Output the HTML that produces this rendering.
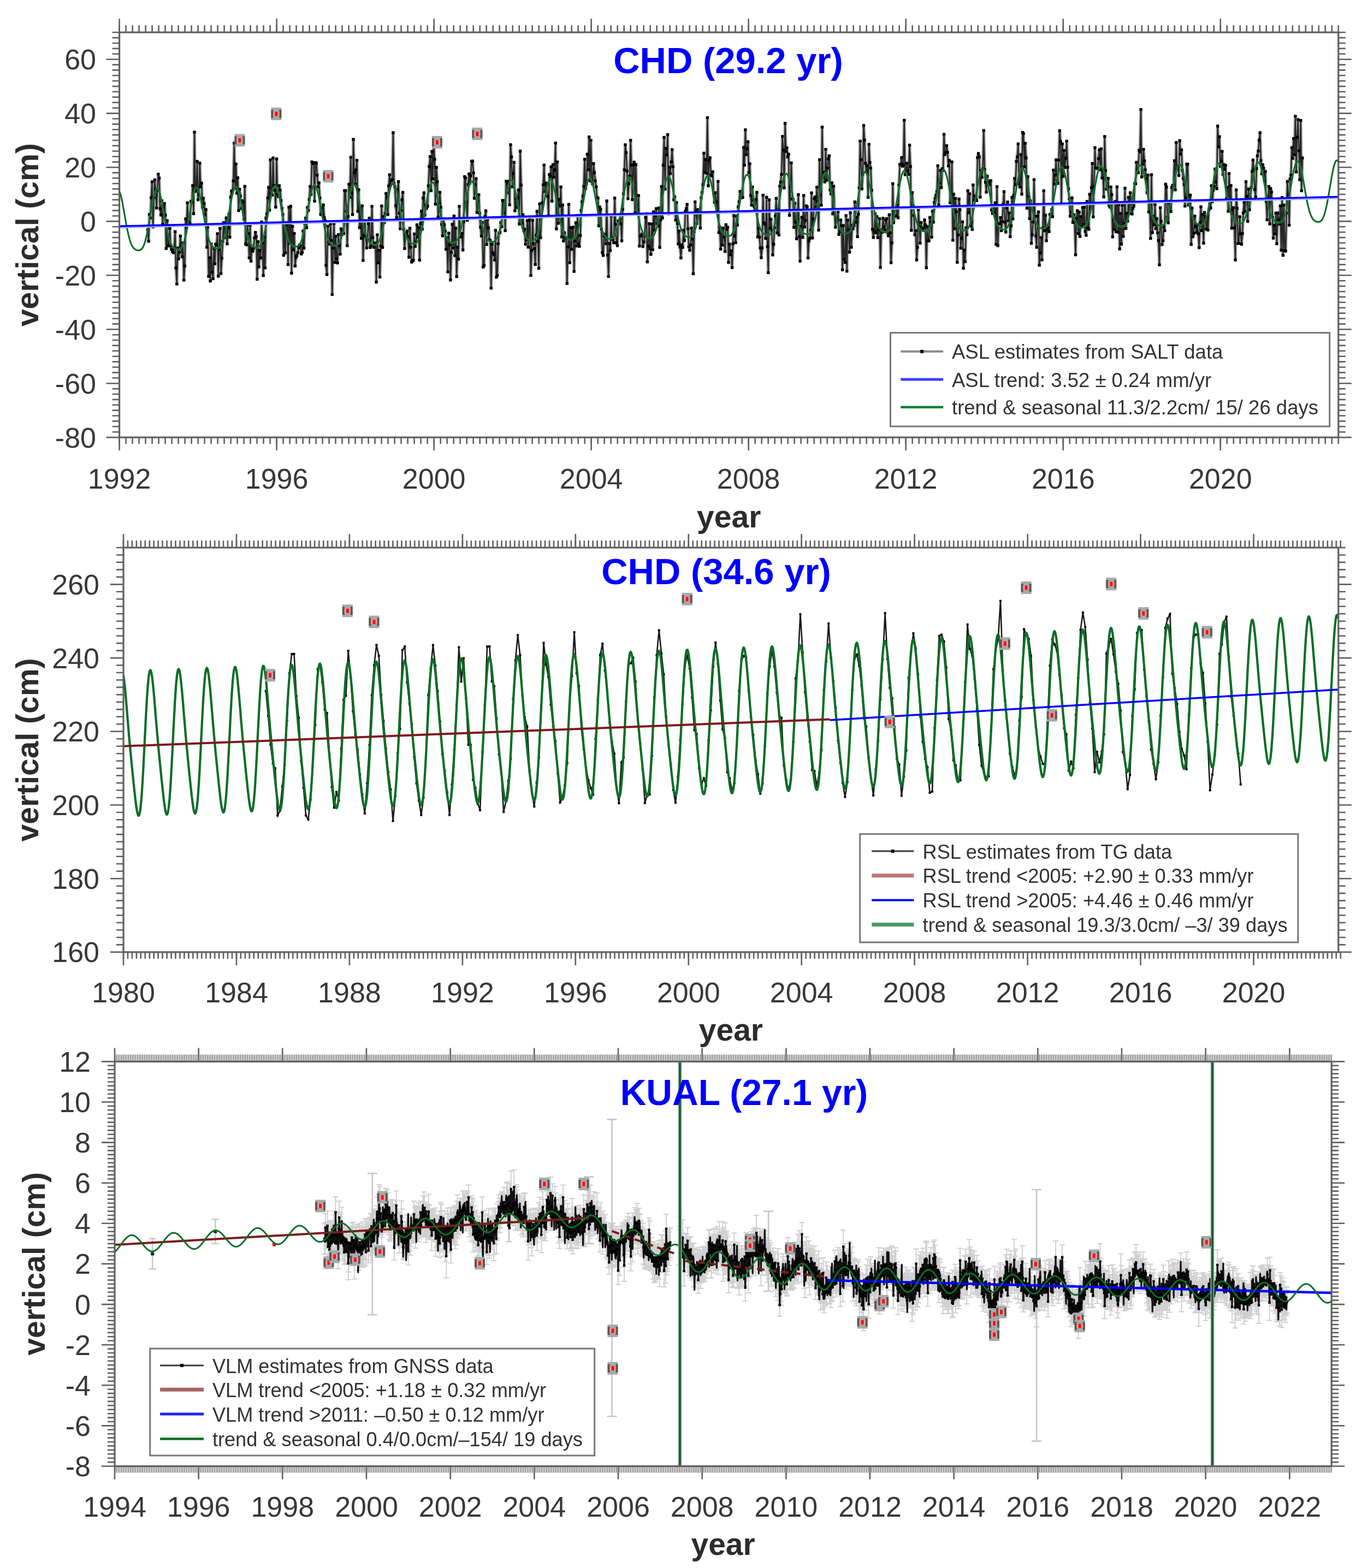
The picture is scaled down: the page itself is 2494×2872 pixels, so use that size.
<!DOCTYPE html><html><head><meta charset="utf-8"><style>html,body{margin:0;padding:0;background:#fff;width:2494px;height:2872px;overflow:hidden}svg{display:block}</style></head><body><svg width="2494" height="2872" viewBox="0 0 2494 2872">
<style>text{font-family:"Liberation Sans",Arial,Helvetica,sans-serif}.tk{font-size:52px;fill:#383838}.lb{font-size:57px;font-weight:bold;fill:#2c2c2c}.tt{font-size:67px;font-weight:bold;fill:#0000ff}.lg{fill:#333}</style>
<rect width="2494" height="2872" fill="#fff"/>
<path d="M218.6 59.2v-25M218.6 801.1v24M506.6 59.2v-25M506.6 801.1v24M794.7 59.2v-25M794.7 801.1v24M1082.7 59.2v-25M1082.7 801.1v24M1370.7 59.2v-25M1370.7 801.1v24M1658.7 59.2v-25M1658.7 801.1v24M1946.8 59.2v-25M1946.8 801.1v24M2234.8 59.2v-25M2234.8 801.1v24M218.6 801.1h-13M2450.8 801.1h13M218.6 791.2h-13M2450.8 791.2h13M218.6 781.3h-13M2450.8 781.3h13M218.6 771.4h-13M2450.8 771.4h13M218.6 761.5h-13M2450.8 761.5h13M218.6 751.6h-13M2450.8 751.6h13M218.6 741.7h-13M2450.8 741.7h13M218.6 731.9h-13M2450.8 731.9h13M218.6 722.0h-13M2450.8 722.0h13M218.6 712.1h-13M2450.8 712.1h13M218.6 702.2h-13M2450.8 702.2h13M218.6 692.3h-13M2450.8 692.3h13M218.6 682.4h-13M2450.8 682.4h13M218.6 672.5h-13M2450.8 672.5h13M218.6 662.6h-13M2450.8 662.6h13M218.6 652.7h-13M2450.8 652.7h13M218.6 642.8h-13M2450.8 642.8h13M218.6 632.9h-13M2450.8 632.9h13M218.6 623.0h-13M2450.8 623.0h13M218.6 613.2h-13M2450.8 613.2h13M218.6 603.3h-13M2450.8 603.3h13M218.6 593.4h-13M2450.8 593.4h13M218.6 583.5h-13M2450.8 583.5h13M218.6 573.6h-13M2450.8 573.6h13M218.6 563.7h-13M2450.8 563.7h13M218.6 553.8h-13M2450.8 553.8h13M218.6 543.9h-13M2450.8 543.9h13M218.6 534.0h-13M2450.8 534.0h13M218.6 524.1h-13M2450.8 524.1h13M218.6 514.2h-13M2450.8 514.2h13M218.6 504.3h-13M2450.8 504.3h13M218.6 494.4h-13M2450.8 494.4h13M218.6 484.6h-13M2450.8 484.6h13M218.6 474.7h-13M2450.8 474.7h13M218.6 464.8h-13M2450.8 464.8h13M218.6 454.9h-13M2450.8 454.9h13M218.6 445.0h-13M2450.8 445.0h13M218.6 435.1h-13M2450.8 435.1h13M218.6 425.2h-13M2450.8 425.2h13M218.6 415.3h-13M2450.8 415.3h13M218.6 405.4h-13M2450.8 405.4h13M218.6 395.5h-13M2450.8 395.5h13M218.6 385.6h-13M2450.8 385.6h13M218.6 375.7h-13M2450.8 375.7h13M218.6 365.9h-13M2450.8 365.9h13M218.6 356.0h-13M2450.8 356.0h13M218.6 346.1h-13M2450.8 346.1h13M218.6 336.2h-13M2450.8 336.2h13M218.6 326.3h-13M2450.8 326.3h13M218.6 316.4h-13M2450.8 316.4h13M218.6 306.5h-13M2450.8 306.5h13M218.6 296.6h-13M2450.8 296.6h13M218.6 286.7h-13M2450.8 286.7h13M218.6 276.8h-13M2450.8 276.8h13M218.6 266.9h-13M2450.8 266.9h13M218.6 257.0h-13M2450.8 257.0h13M218.6 247.1h-13M2450.8 247.1h13M218.6 237.3h-13M2450.8 237.3h13M218.6 227.4h-13M2450.8 227.4h13M218.6 217.5h-13M2450.8 217.5h13M218.6 207.6h-13M2450.8 207.6h13M218.6 197.7h-13M2450.8 197.7h13M218.6 187.8h-13M2450.8 187.8h13M218.6 177.9h-13M2450.8 177.9h13M218.6 168.0h-13M2450.8 168.0h13M218.6 158.1h-13M2450.8 158.1h13M218.6 148.2h-13M2450.8 148.2h13M218.6 138.3h-13M2450.8 138.3h13M218.6 128.4h-13M2450.8 128.4h13M218.6 118.6h-13M2450.8 118.6h13M218.6 108.7h-13M2450.8 108.7h13M218.6 98.8h-13M2450.8 98.8h13M218.6 88.9h-13M2450.8 88.9h13M218.6 79.0h-13M2450.8 79.0h13M218.6 69.1h-13M2450.8 69.1h13M218.6 59.2h-13M2450.8 59.2h13M218.6 801.1h-24M2450.8 801.1h24M218.6 702.2h-24M2450.8 702.2h24M218.6 603.3h-24M2450.8 603.3h24M218.6 504.3h-24M2450.8 504.3h24M218.6 405.4h-24M2450.8 405.4h24M218.6 306.5h-24M2450.8 306.5h24M218.6 207.6h-24M2450.8 207.6h24M218.6 108.7h-24M2450.8 108.7h24" stroke="#606060" stroke-width="2.6" fill="none"/>
<path d="M218.6 59.2v-13M218.6 801.1v12M230.6 59.2v-13M230.6 801.1v12M242.6 59.2v-13M242.6 801.1v12M254.6 59.2v-13M254.6 801.1v12M266.6 59.2v-13M266.6 801.1v12M278.6 59.2v-13M278.6 801.1v12M290.6 59.2v-13M290.6 801.1v12M302.6 59.2v-13M302.6 801.1v12M314.6 59.2v-13M314.6 801.1v12M326.6 59.2v-13M326.6 801.1v12M338.6 59.2v-13M338.6 801.1v12M350.6 59.2v-13M350.6 801.1v12M362.6 59.2v-13M362.6 801.1v12M374.6 59.2v-13M374.6 801.1v12M386.6 59.2v-13M386.6 801.1v12M398.6 59.2v-13M398.6 801.1v12M410.6 59.2v-13M410.6 801.1v12M422.6 59.2v-13M422.6 801.1v12M434.6 59.2v-13M434.6 801.1v12M446.6 59.2v-13M446.6 801.1v12M458.6 59.2v-13M458.6 801.1v12M470.6 59.2v-13M470.6 801.1v12M482.6 59.2v-13M482.6 801.1v12M494.6 59.2v-13M494.6 801.1v12M506.6 59.2v-13M506.6 801.1v12M518.6 59.2v-13M518.6 801.1v12M530.6 59.2v-13M530.6 801.1v12M542.6 59.2v-13M542.6 801.1v12M554.6 59.2v-13M554.6 801.1v12M566.6 59.2v-13M566.6 801.1v12M578.6 59.2v-13M578.6 801.1v12M590.6 59.2v-13M590.6 801.1v12M602.6 59.2v-13M602.6 801.1v12M614.6 59.2v-13M614.6 801.1v12M626.6 59.2v-13M626.6 801.1v12M638.6 59.2v-13M638.6 801.1v12M650.6 59.2v-13M650.6 801.1v12M662.6 59.2v-13M662.6 801.1v12M674.6 59.2v-13M674.6 801.1v12M686.6 59.2v-13M686.6 801.1v12M698.6 59.2v-13M698.6 801.1v12M710.6 59.2v-13M710.6 801.1v12M722.6 59.2v-13M722.6 801.1v12M734.6 59.2v-13M734.6 801.1v12M746.6 59.2v-13M746.6 801.1v12M758.6 59.2v-13M758.6 801.1v12M770.6 59.2v-13M770.6 801.1v12M782.7 59.2v-13M782.7 801.1v12M794.7 59.2v-13M794.7 801.1v12M806.7 59.2v-13M806.7 801.1v12M818.7 59.2v-13M818.7 801.1v12M830.7 59.2v-13M830.7 801.1v12M842.7 59.2v-13M842.7 801.1v12M854.7 59.2v-13M854.7 801.1v12M866.7 59.2v-13M866.7 801.1v12M878.7 59.2v-13M878.7 801.1v12M890.7 59.2v-13M890.7 801.1v12M902.7 59.2v-13M902.7 801.1v12M914.7 59.2v-13M914.7 801.1v12M926.7 59.2v-13M926.7 801.1v12M938.7 59.2v-13M938.7 801.1v12M950.7 59.2v-13M950.7 801.1v12M962.7 59.2v-13M962.7 801.1v12M974.7 59.2v-13M974.7 801.1v12M986.7 59.2v-13M986.7 801.1v12M998.7 59.2v-13M998.7 801.1v12M1010.7 59.2v-13M1010.7 801.1v12M1022.7 59.2v-13M1022.7 801.1v12M1034.7 59.2v-13M1034.7 801.1v12M1046.7 59.2v-13M1046.7 801.1v12M1058.7 59.2v-13M1058.7 801.1v12M1070.7 59.2v-13M1070.7 801.1v12M1082.7 59.2v-13M1082.7 801.1v12M1094.7 59.2v-13M1094.7 801.1v12M1106.7 59.2v-13M1106.7 801.1v12M1118.7 59.2v-13M1118.7 801.1v12M1130.7 59.2v-13M1130.7 801.1v12M1142.7 59.2v-13M1142.7 801.1v12M1154.7 59.2v-13M1154.7 801.1v12M1166.7 59.2v-13M1166.7 801.1v12M1178.7 59.2v-13M1178.7 801.1v12M1190.7 59.2v-13M1190.7 801.1v12M1202.7 59.2v-13M1202.7 801.1v12M1214.7 59.2v-13M1214.7 801.1v12M1226.7 59.2v-13M1226.7 801.1v12M1238.7 59.2v-13M1238.7 801.1v12M1250.7 59.2v-13M1250.7 801.1v12M1262.7 59.2v-13M1262.7 801.1v12M1274.7 59.2v-13M1274.7 801.1v12M1286.7 59.2v-13M1286.7 801.1v12M1298.7 59.2v-13M1298.7 801.1v12M1310.7 59.2v-13M1310.7 801.1v12M1322.7 59.2v-13M1322.7 801.1v12M1334.7 59.2v-13M1334.7 801.1v12M1346.7 59.2v-13M1346.7 801.1v12M1358.7 59.2v-13M1358.7 801.1v12M1370.7 59.2v-13M1370.7 801.1v12M1382.7 59.2v-13M1382.7 801.1v12M1394.7 59.2v-13M1394.7 801.1v12M1406.7 59.2v-13M1406.7 801.1v12M1418.7 59.2v-13M1418.7 801.1v12M1430.7 59.2v-13M1430.7 801.1v12M1442.7 59.2v-13M1442.7 801.1v12M1454.7 59.2v-13M1454.7 801.1v12M1466.7 59.2v-13M1466.7 801.1v12M1478.7 59.2v-13M1478.7 801.1v12M1490.7 59.2v-13M1490.7 801.1v12M1502.7 59.2v-13M1502.7 801.1v12M1514.7 59.2v-13M1514.7 801.1v12M1526.7 59.2v-13M1526.7 801.1v12M1538.7 59.2v-13M1538.7 801.1v12M1550.7 59.2v-13M1550.7 801.1v12M1562.7 59.2v-13M1562.7 801.1v12M1574.7 59.2v-13M1574.7 801.1v12M1586.7 59.2v-13M1586.7 801.1v12M1598.7 59.2v-13M1598.7 801.1v12M1610.7 59.2v-13M1610.7 801.1v12M1622.7 59.2v-13M1622.7 801.1v12M1634.7 59.2v-13M1634.7 801.1v12M1646.7 59.2v-13M1646.7 801.1v12M1658.7 59.2v-13M1658.7 801.1v12M1670.7 59.2v-13M1670.7 801.1v12M1682.7 59.2v-13M1682.7 801.1v12M1694.7 59.2v-13M1694.7 801.1v12M1706.7 59.2v-13M1706.7 801.1v12M1718.7 59.2v-13M1718.7 801.1v12M1730.7 59.2v-13M1730.7 801.1v12M1742.7 59.2v-13M1742.7 801.1v12M1754.7 59.2v-13M1754.7 801.1v12M1766.7 59.2v-13M1766.7 801.1v12M1778.7 59.2v-13M1778.7 801.1v12M1790.7 59.2v-13M1790.7 801.1v12M1802.7 59.2v-13M1802.7 801.1v12M1814.7 59.2v-13M1814.7 801.1v12M1826.7 59.2v-13M1826.7 801.1v12M1838.7 59.2v-13M1838.7 801.1v12M1850.7 59.2v-13M1850.7 801.1v12M1862.7 59.2v-13M1862.7 801.1v12M1874.7 59.2v-13M1874.7 801.1v12M1886.7 59.2v-13M1886.7 801.1v12M1898.8 59.2v-13M1898.8 801.1v12M1910.8 59.2v-13M1910.8 801.1v12M1922.8 59.2v-13M1922.8 801.1v12M1934.8 59.2v-13M1934.8 801.1v12M1946.8 59.2v-13M1946.8 801.1v12M1958.8 59.2v-13M1958.8 801.1v12M1970.8 59.2v-13M1970.8 801.1v12M1982.8 59.2v-13M1982.8 801.1v12M1994.8 59.2v-13M1994.8 801.1v12M2006.8 59.2v-13M2006.8 801.1v12M2018.8 59.2v-13M2018.8 801.1v12M2030.8 59.2v-13M2030.8 801.1v12M2042.8 59.2v-13M2042.8 801.1v12M2054.8 59.2v-13M2054.8 801.1v12M2066.8 59.2v-13M2066.8 801.1v12M2078.8 59.2v-13M2078.8 801.1v12M2090.8 59.2v-13M2090.8 801.1v12M2102.8 59.2v-13M2102.8 801.1v12M2114.8 59.2v-13M2114.8 801.1v12M2126.8 59.2v-13M2126.8 801.1v12M2138.8 59.2v-13M2138.8 801.1v12M2150.8 59.2v-13M2150.8 801.1v12M2162.8 59.2v-13M2162.8 801.1v12M2174.8 59.2v-13M2174.8 801.1v12M2186.8 59.2v-13M2186.8 801.1v12M2198.8 59.2v-13M2198.8 801.1v12M2210.8 59.2v-13M2210.8 801.1v12M2222.8 59.2v-13M2222.8 801.1v12M2234.8 59.2v-13M2234.8 801.1v12M2246.8 59.2v-13M2246.8 801.1v12M2258.8 59.2v-13M2258.8 801.1v12M2270.8 59.2v-13M2270.8 801.1v12M2282.8 59.2v-13M2282.8 801.1v12M2294.8 59.2v-13M2294.8 801.1v12M2306.8 59.2v-13M2306.8 801.1v12M2318.8 59.2v-13M2318.8 801.1v12M2330.8 59.2v-13M2330.8 801.1v12M2342.8 59.2v-13M2342.8 801.1v12M2354.8 59.2v-13M2354.8 801.1v12M2366.8 59.2v-13M2366.8 801.1v12M2378.8 59.2v-13M2378.8 801.1v12M2390.8 59.2v-13M2390.8 801.1v12M2402.8 59.2v-13M2402.8 801.1v12M2414.8 59.2v-13M2414.8 801.1v12M2426.8 59.2v-13M2426.8 801.1v12M2438.8 59.2v-13M2438.8 801.1v12M2450.8 59.2v-13M2450.8 801.1v12" stroke="#606060" stroke-width="2.6" fill="none"/>
<text x="176" y="819.6" class="tk" text-anchor="end">-80</text>
<text x="176" y="720.7" class="tk" text-anchor="end">-60</text>
<text x="176" y="621.8" class="tk" text-anchor="end">-40</text>
<text x="176" y="522.8" class="tk" text-anchor="end">-20</text>
<text x="176" y="423.9" class="tk" text-anchor="end">0</text>
<text x="176" y="325.0" class="tk" text-anchor="end">20</text>
<text x="176" y="226.1" class="tk" text-anchor="end">40</text>
<text x="176" y="127.2" class="tk" text-anchor="end">60</text>
<text x="218.6" y="895" class="tk" text-anchor="middle">1992</text>
<text x="506.6" y="895" class="tk" text-anchor="middle">1996</text>
<text x="794.7" y="895" class="tk" text-anchor="middle">2000</text>
<text x="1082.7" y="895" class="tk" text-anchor="middle">2004</text>
<text x="1370.7" y="895" class="tk" text-anchor="middle">2008</text>
<text x="1658.7" y="895" class="tk" text-anchor="middle">2012</text>
<text x="1946.8" y="895" class="tk" text-anchor="middle">2016</text>
<text x="2234.8" y="895" class="tk" text-anchor="middle">2020</text>
<text transform="translate(70,430.2) rotate(-90)" class="lb" text-anchor="middle">vertical (cm)</text>
<text x="1334.7" y="965.5" class="lb" text-anchor="middle">year</text>
<clipPath id="c1"><rect x="218.6" y="59.2" width="2232.2" height="741.9"/></clipPath>
<g clip-path="url(#c1)">
<path d="M270.4 420.7l1.7 21.1 1.6-49.2 1.6 6.8 1.6-37.2 1.6-29.2 1.6 82.6 1.7-53.4 1.6-32.9 1.6 18.1 1.6 33.6 1.6-32.7 1.6-29.3 1.7 7.1 1.6 56 1.6 11.8 1.6-26.2 1.6 43.2 1.6-31.5 1.7-6.6 1.6 21.3 1.6 61.1 1.6-51.1 1.6 45.3 1.6 1.1 1.7-32.1 1.6 31.9 1.6 6.6 1.6 3.6 1.6 2.1 1.6-7.3 1.7-31 1.6 66.4 1.6 29.5 1.6-65.9 1.6 19.9 1.6-12.2 1.7-29.7 1.6 19.9 1.6 18.1 1.6-25.5 1.6 68.2 1.6-25.9 1.7-86.2 1.6 16.1 1.6-45.6 1.6 34.5 1.6 1.5 1.6 2.5 1.7-41.4 1.6 1.9 1.6-30.5 1.6 51.5 1.6-149.2 1.6 108.5 1.7-3.5 1.6-51.6 1.6 70.4 1.6-10.2 1.6-57 1.6 43.4 1.7-6.9 1.6 44.3 1.6-16.6 1.6 10 1.6 20.6 1.6-9.7 1.7 69.1 1.6-37 1.6 90.2 1.6-34.2 1.6 42.7 1.6-67.7 1.7 51.7 1.6 11.7 1.6-55.3 1.6 28 1.6-36 1.6 2.3 1.7-21.4 1.6 77.8 1.6-49.2 1.6-38.2 1.6 82.6 1.6-28 1.7-30.7 1.6-34.5 1.6 27.6 1.6-23.9 1.6-12.4 1.6 47.5 1.7-29.5 1.6-25.2 1.6 42.5 1.6-73.2 1.6-11.7 1.6 3.5 1.7-21.7 1.6-69.3 1.6 82.7 1.6-44.3 1.6 53.4 1.6-28.2 1.7 60.1 1.6-39.2 1.6 12.6 1.6 22.8 1.6-14.4 1.6 2.4 1.7 31.2 1.6-59.7 1.6 105.5 1.6 1.6 1.6-36.9 1.6 16.4 1.7 44.3 1.6-59.9 1.6 65.9 1.6-22.9 1.6 4.7 1.6-5.8 1.6-18.7 1.7-9.9 1.6 7.4 1.6 78.3 1.6-68.7 1.6 46.1 1.6-30.1 1.7 13.9 1.6-65.9 1.6 38.5 1.6 59.5 1.6-70.4 1.6 56.4 1.7-91.3 1.6-7.7 1.6-29.2 1.6-19.4 1.6 41.9 1.6-92.2 1.7 62.7 1.6 2 1.6-68.1 1.6 50.3 1.6 8.8 1.6 30.8 1.7-88.1 1.6 64.5 1.6 4.3 1.6-19.8 1.6 8 1.6 19.2 1.7 14.3 1.6 11.2 1.6 74.8 1.6-58.3 1.6 53.8 1.6-51.2 1.7-2 1.6 74.6 1.6-104.9 1.6 65.9 1.6-67.9 1.6 122.6 1.7-85.7 1.6 43.2 1.6-30.3 1.6 59.6 1.6-16 1.6-3 1.7-5.4 1.6-8.7 1.6-5.5 1.6 2 1.6 14.7 1.6-2.9 1.7-39.3 1.6 31.6 1.6-45.4 1.6-9.9 1.6 17.8 1.6-37.2 1.7 5.8 1.6-20.4 1.6-23.7 1.6 14.5 1.6-59.5 1.6 2.7 1.7-1.3 1.6 70.5 1.6-70.6 1.6 1 1.6 21.9 1.6 21.7 1.7-7.6 1.6 27.8 1.6 30.2 1.6-12.2 1.6 13.5 1.6-18.9 1.7 23.6 1.6 5.5 1.6 81.4 1.6 17.1 1.6-88.5 1.6 27.4 1.7 5.4 1.6-37 1.6 30.3 1.6 99 1.6-85.4 1.6-44.7 1.7 71.3 1.6-47.8 1.6 41 1.6 7.7 1.6-51.9 1.6 20.3 1.7 15.5 1.6-46.3 1.6 10.8 1.6-8.7 1.6 6.6 1.6-78.7 1.7 0 1.6 37.8 1.6 63 1.6-53.7 1.6-58.9 1.6 24 1.7-73.2 1.6 65.2 1.6 39.5 1.6-137.6 1.6 60.9 1.6 21 1.7-26 1.6-17.6 1.6 93.6 1.6-39.8 1.6 69.4 1.6-36.7 1.7 56.5 1.6-59.4 1.6 99.8 1.6-46 1.6-26.8 1.6 28.5 1.7 21.4 1.6-15.7 1.6-28.9 1.6-9.9 1.6 53.9 1.6-3.4 1.7-72.1 1.6 57.1 1.6 17.7 1.6-6.8 1.6-.9 1.6 71.6 1.7-86.7 1.6 51.5 1.6-23 1.6 49 1.6-56.8 1.6-73.4 1.7 75.8 1.6-56.6 1.6 11.1 1.6-16.7 1.6-36.5 1.6 6.3 1.7 32.1 1.6-52.2 1.6-20.4 1.6 18.5 1.6-7.8 1.6-2 1.7-85.8 1.6 93 1.6 5.7 1.6 35.1 1.6 21.6 1.6-51.2 1.7-14.6 1.6 57.7 1.6 28.6 1.6-33.1 1.6-19.8 1.6-13.8 1.7 67.9 1.6 35 1.6-25.9 1.6-2.5 1.6-3.6 1.6 10 1.6 37.9 1.7-53 1.6 34.9 1.6 27 1.6-2.4 1.6-1.1 1.6-48 1.7 22.8 1.6-8 1.6-31.4 1.6 22.6 1.6-17.6 1.6 59.4 1.7-66.7 1.6-22.7 1.6 33 1.6-57.2 1.6-9.5 1.6 41 1.7-18 1.6 5.5 1.6-4 1.6-37 1.6-35.5 1.6-18.4 1.7 62.5 1.6-71.9 1.6 50.3 1.6-65.7 1.6 29.8 1.6 82.1 1.7-67.2 1.6 26.1 1.6 64.8 1.6-25.8 1.6-19.5 1.6 27.4 1.7 31.1 1.6 21.1 1.6-31.4 1.6 11.1 1.6 11.9 1.6 33.2 1.7-21.2 1.6 62.4 1.6-70.9 1.6 21.7 1.6 64.2 1.6-50.5 1.7-51.6 1.6 43.7 1.6-58.9 1.6 72.5 1.6-50.3 1.6 88.8 1.7-54 1.6 22 1.6-96.6 1.6 55.8 1.6 .1 1.6-6.4 1.7 30.4 1.6-51.6 1.6-82.8 1.6 2.5 1.6 44.1 1.6 33.2 1.7-65.3 1.6-19.5 1.6 17.1 1.6-13.6 1.6-26.6 1.6-.3 1.7 21.6 1.6 46.4 1.6-24.7 1.6-11.2 1.6 61.9 1.6-19.6 1.7-12.8 1.6 33.8 1.6 25.7 1.6 16.2 1.6-24.8 1.6 81.5 1.7-2.7 1.6-89.2 1.6-11 1.6 61.5 1.6-45.7 1.6 15.4 1.7 21.8 1.6 1.5 1.6 86.9 1.6-80.3 1.6 15.6 1.6 3 1.7 10.4 1.6-54.4 1.6 85.7 1.6-3 1.6-58.1 1.6-19.9 1.7-.2 1.6-18.8 1.6 7.8 1.6-48.2 1.6 22.7 1.6-22.3 1.7 54.9 1.6-90.5 1.6 21 1.6-17.7 1.6-3.2 1.6 43 1.7-110.1 1.6 22.4 1.6 54.7 1.6-24.4 1.6-20.3 1.6 88.8 1.7-22.2 1.6 16 1.6-17.7 1.6-14.4 1.6 62.5 1.6-133.6 1.7 62.2 1.6 70 1.6-15.8 1.6 28.9 1.6-1.9 1.6 27.3 1.7-8.5 1.6-35 1.6 48.7 1.6-48.9 1.6-5.7 1.6 106.4 1.7-45.8 1.6-55.1 1.6 42.8 1.6 9.1 1.6 28.9 1.6-53.3 1.7-44 1.6 55.2 1.6 49 1.6-117.9 1.6 61.9 1.6-37.1 1.7-26.8 1.6-32.9 1.6-36.2 1.6 48.8 1.6-15.8 1.6 1.5 1.7 22.8 1.6 35.2 1.6-75.3 1.6 4 1.6-17.8 1.6 62.7 1.7-66.9 1.6 23.1 1.6-13.5 1.6-49.1 1.6 157.2 1.6-122.5 1.7 112.2 1.6-43.7 1.6 12 1.6-34.8 1.6 91.6 1.6-58.7 1.7 66.1 1.6-15.2 1.6 8.7 1.6 1.2 1.6 83.1 1.6-67.2 1.6-77.6 1.7 106.8 1.6-64.4 1.6 39.8 1.6-39 1.6-1.5 1.6 81 1.7-55.8 1.6-33.2 1.6 42.4 1.6-55.8 1.6 51.7 1.6 4.8 1.7-19.9 1.6-45.8 1.6-16 1.6-10.4 1.6-17.7 1.6-49.6 1.7 53.6 1.6-8.8 1.6-54.3 1.6 28.5 1.6-60 1.6 80 1.7-73.8 1.6 75.3 1.6 4.9 1.6-37.5 1.6 16.5 1.6 14.9 1.7 11 1.6 19.9 1.6 .7 1.6 51 1.6-34.7 1.6 4.3 1.7 36.2 1.6 43.2 1.6 5.1 1.6-35.7 1.6-3 1.6 17.4 1.7-78.4 1.6 99.3 1.6 39.1 1.6-60.3 1.6 12.6 1.6-63.4 1.7 43.2 1.6-2.4 1.6 8.5 1.6-81.8 1.6 47.9 1.6 34 1.7 5.1 1.6-45.2 1.6 0 1.6-3.5 1.6 8.6 1.6 31.4 1.7-57.9 1.6-28.2 1.6-44.2 1.6-45.7 1.6 14.5 1.6 33.7 1.7 50.6 1.6-27.6 1.6-14.3 1.6-65.1 1.6 45.5 1.6 63.1 1.7-63.8 1.6-4.7 1.6 93.5 1.6-89.2 1.6 87.6 1.6-5.2 1.7-25.7 1.6 92.5 1.6-18.6 1.6-.6 1.6-2.8 1.6 23 1.7-8.5 1.6-10.4 1.6-34.4 1.6-6.6 1.6 87.9 1.6-29.1 1.7-40.8 1.6 45.7 1.6 10.4 1.6-55.4 1.6 47.1 1.6-69.5 1.7 33.6 1.6-26.3 1.6-13.2 1.6 27.6 1.6 4.5 1.6-33.2 1.7 72.1 1.6-50.1 1.6-61.4 1.6 57.7 1.6-96.7 1.6-50.9 1.7 94.8 1.6-74.6 1.6 12.1 1.6-37.4 1.6 145 1.6-85.4 1.7 11.6 1.6-21.3 1.6-22.4 1.6 31.3 1.6 60.8 1.6-5.9 1.7 42.9 1.6-32.2 1.6 38.5 1.6 37.4 1.6-23.7 1.6 29.2 1.7 20.1 1.6-24.2 1.6 4.9 1.6-31.4 1.6 18.8 1.6-53 1.7-5.4 1.6-7.8 1.6 44.5 1.6 33.1 1.6 6.5 1.6-9.9 1.7-30.7 1.6 20.1 1.6 63.4 1.6-77.1 1.6-54.4 1.6 18.7 1.7 20.8 1.6-25.3 1.6-.2 1.6 8.4 1.6 25.4 1.6-55.3 1.7-9.8 1.6-14.5 1.6-57.5 1.6 35.4 1.6-23.9 1.6 25.4 1.7-102 1.6 124.8 1.6-46.2 1.6-5.3 1.6 31.8 1.6 1.7 1.7-7.8 1.6 39.4 1.6 16.8 1.6-17.6 1.6 16.7 1.6 17.4 1.7-54.8 1.6 93.7 1.6-10.7 1.6 40.8 1.6-37.8 1.6 30.6 1.6-31.2 1.7 15.8 1.6 27 1.6-49 1.6 8.6 1.6-3.8 1.6 64.2 1.7-33.5 1.6 19.6 1.6-7.4 1.6 30.8 1.6-43.5 1.6-51.7 1.7 37.4 1.6 12 1.6-48.2 1.6 16.1 1.6-33.3 1.6-9.2 1.7-19.2 1.6 12 1.6-.6 1.6-.4 1.6-91.5 1.6 32.7 1.7-64.9 1.6 45.4 1.6-10.8 1.6-12.7 1.6 56.5 1.6-16.2 1.7 58.1 1.6 17.6 1.6-33.2 1.6 24.1 1.6 11.6 1.6 5.4 1.7-17.7 1.6-13.7 1.6 81.8 1.6-16 1.6 16.3 1.6 19.8 1.7 17.9 1.6-18.1 1.6-96.2 1.6 50.4 1.6 2.5 1.6 26 1.7-75.2 1.6 90.2 1.6 47.8 1.6-133.3 1.6 52.2 1.6-16.6 1.7 21.7 1.6 43.5 1.6-19.6 1.6-30.5 1.6-21.2 1.6-32.3 1.7 63.4 1.6-43.2 1.6 47 1.6-89.5 1.6-7.4 1.6-14.2 1.7-69.5 1.6 25.3 1.6 69 1.6-118.3 1.6 51.6 1.6-6.9 1.7 17 1.6-5.2 1.6 112.1 1.6-52.4 1.6-43.8 1.6 66.3 1.7 .6 1.6 51.1 1.6-44 1.6 34.8 1.6 30.3 1.6-35.4 1.7-45.6 1.6 76.9 1.6 44.9 1.6-63.3 1.6-16.7 1.6 36.7 1.7-76.9 1.6 57.9 1.6-12 1.6-26.9 1.6 1.9 1.6 93.6 1.7-31.3 1.6-5.1 1.6-14.3 1.6-68.5 1.6 82.5 1.6-34.4 1.7-37.6 1.6-3.2 1.6 18.5 1.6-36.3 1.6 25.8 1.6 52.9 1.7-129 1.6 64.7 1.6 18.6 1.6-143 1.6 93.2 1.6-10.4 1.7 17.6 1.6-59.7 1.6 56.6 1.6-22 1.6-17.3 1.6-5.5 1.7 62.7 1.6 7.2 1.6-20.3 1.6 56.8 1.6-50.6 1.6 47.4 1.7 27.7 1.6-16.9 1.6 3.8 1.6-15.1 1.6 41.5 1.6-5.3 1.7-21.2 1.6 10.5 1.6 80.6 1.6-80.9 1.6 61.6 1.6 5.8 1.7-85.7 1.6 101.7 1.6-93.4 1.6 17.7 1.6 41 1.6-72.2 1.7 63.3 1.6-40.3 1.6 6.4 1.6-6.2 1.6-43 1.6 37.2 1.7-9.3 1.6 35.7 1.6-41.1 1.6-48.2 1.6-85.7 1.6 34.1 1.7 53.2 1.6-25.9 1.6-90.1 1.6 26.9 1.6 42.5 1.6 16.2 1.7-12 1.6 58.2 1.6-97.2 1.6 32.9 1.6 10.7 1.6 40.6 1.7 71.3 1.6 15.1 1.6-11.7 1.6-31.7 1.6 34.8 1.6-29.6 1.6 38.3 1.7-14.7 1.6-19.8 1.6 89.2 1.6-68.7 1.6 4.2 1.6-25.7 1.7 16.2 1.6 5.2 1.6-17.9 1.6-2.7 1.6 25.2 1.6 6.4 1.7-38.6 1.6 32.9 1.6 54.9 1.6-36.4 1.6-108.4 1.6 71.4 1.7-12.8 1.6 .1 1.6 .7 1.6-20.1 1.6 23.2 1.6-60.1 1.7-37.6 1.6 .1 1.6-12.7 1.6 15.7 1.6-2.1 1.6-81.8 1.7 99.4 1.6-5.5 1.6-15.3 1.6 14.5 1.6 5.9 1.6-53.6 1.7 39 1.6 117 1.6-68.9 1.6 24 1.6 17.7 1.6 35.6 1.7-7.7 1.6 53.6 1.6-22.9 1.6-69.3 1.6 30.5 1.6 30.8 1.7-37.7 1.6 12.3 1.6-.3 1.6-2.2 1.6-14.5 1.6 9.4 1.7 78.2 1.6-75.3 1.6 26.4 1.6-.3 1.6-42.8 1.6 7.9 1.7 28 1.6-47.4 1.6 19.9 1.6-35.9 1.6-7.8 1.6-5.8 1.7-6.6 1.6-47 1.6 72 1.6-40.4 1.6-23.1 1.6 31.5 1.7-34.9 1.6 3.7 1.6-66.3 1.6 36.9 1.6-3.3 1.6-12.9 1.7 12.1 1.6 24.9 1.6-10.1 1.6 77.7 1.6-.5 1.6-74.3 1.7 143.3 1.6-84.3 1.6 63.2 1.6-55.4 1.6 24.3 1.6 92.7 1.7-50.2 1.6-65.7 1.6 19.5 1.6 70.6 1.6-18.3 1.6-30 1.7 84.9 1.6-33.1 1.6 20.9 1.6-62 1.6 12.9 1.6-80.6 1.7 40.3 1.6-34.7 1.6 58.9 1.6-7.6 1.6 14 1.6-81.4 1.7 27.9 1.6-7.9 1.6 6.3 1.6 2.2 1.6-78.7 1.6-7.5 1.7 6 1.6 73.9 1.6-49.1 1.6 13 1.6-15.3 1.6-70.5 1.7 71.2 1.6 23.3 1.6 18.2 1.6-29.2 1.6 12.9 1.6-3.3 1.7 6.1 1.6-7.5 1.6 53.8 1.6 6.2 1.6-13.2 1.6 12 1.7-18.2 1.6 76.2 1.6-105.8 1.6 108 1.6-40.4 1.6 0 1.7-10.9 1.6 23.9 1.6-16.8 1.6-31.3 1.6-23.3 1.6 55.9 1.7 18.1 1.6-44.5 1.6-10.6 1.6 34.5 1.6-14.5 1.6 43.5 1.7-19.8 1.6-52.4 1.6 39.6 1.6-43.4 1.6-30.6 1.6 11.7 1.7-43 1.6-8.3 1.6-23.7 1.6 72.6 1.6 6.4 1.6-59.4 1.7 72.4 1.6-112.9 1.6 1.8 1.6 61.1 1.6-43.3 1.6 26.8 1.7 92.3 1.6-57.9 1.6 36 1.6 40.8 1.6-32.2 1.6 77.5 1.6-15.7 1.7-23.3 1.6-77.6 1.6 67.6 1.6 35.4 1.6 20.9 1.6-57.1 1.7-7.7 1.6 97.6 1.6-22.3 1.6-28.2 1.6 40.6 1.6-57.8 1.7-68.7 1.6 73.4 1.6-28.5 1.6 46.6 1.6-21.2 1.6-3 1.7 7.5 1.6-31.4 1.6-.2 1.6-8.6 1.6 12.9 1.6-85.1 1.7 25.8 1.6-16.9 1.6-27.8 1.6 38 1.6 5 1.6-42.8 1.7-53.7 1.6 19.7 1.6 114.4 1.6-109.8 1.6 59.6 1.6-47.6 1.7 31.1 1.6-16.9 1.6-31.3 1.6 47.7 1.6 39.8 1.6 18 1.7 31.9 1.6-7.2 1.6-26.3 1.6 45 1.6-14.1 1.6 13.4 1.7 60 1.6-67 1.6-13.8 1.6 41.7 1.6-39.2 1.6 44.8 1.7-36.3 1.6 18.7 1.6-35.6 1.6 31 1.6-31.3 1.6 44.2 1.7 7.1 1.6-62 1.6 48.7 1.6 2.3 1.6-64.2 1.6 25.9 1.7-38.1 1.6-44.1 1.6 97.8 1.6-56 1.6-70.9 1.6 37.1 1.7 1.1 1.6-.2 1.6-17.9 1.6-16.1 1.6 36.4 1.6-38.1 1.7 53.3 1.6-12.8 1.6 47.5 1.6-110.6 1.6 62.2 1.6 34.2 1.7-4.7 1.6-15.2 1.6 49.6 1.6 3.3 1.6-37 1.6 14 1.7 77.4 1.6-31.8 1.6 18.1 1.6-51 1.6 55.1 1.6-82.1 1.7 83.3 1.6-50.5 1.6 80.8 1.6-64.8 1.6 56.2 1.6-71.1 1.7 56.9 1.6-23.3 1.6-65 1.6 73.8 1.6-28 1.6 14.3 1.7-43.4 1.6 28.9 1.6-37.3 1.6 20 1.6 19 1.6-10.4 1.7-4.5 1.6-40.9 1.6 .5 1.6-39.4 1.6 13.3 1.6 5.9 1.7-41.4 1.6 3.3 1.6-77.7 1.6 123.5 1.6-23.4 1.6-27.1 1.7 21.1 1.6 16.4 1.6 15.9 1.6 25.7 1.6-32.1 1.6 67.7 1.7-19.2 1.6 67.5 1.6-116.6 1.6 106 1.6-30.4 1.6 16 1.7-37 1.6 44.3 1.6-18.7 1.6 26 1.6 14.3 1.6 44.5 1.7-104.6 1.6 24.9 1.6 42.6 1.6-7.2 1.6-25.4 1.6 7.1 1.7-85.2 1.6 5.3 1.6 55.3 1.6 10.2 1.6-36.3 1.6 7.7 1.7 7.8 1.6-44 1.6-3.7 1.6-.2 1.6-45 1.6 53.3 1.7-86.6 1.6 48.3 1.6-4.5 1.6 16.6 1.6-63.9 1.6 24.7 1.7-7.9 1.6 37.6 1.6 15 1.6 11.4 1.6 39.1 1.6-15.3 1.6-61.6 1.7 0 1.6 74.7 1.6-16.3 1.6-1.7 1.6 90.4 1.6-66.7 1.7 52.7 1.6-6.2 1.6-31.7 1.6 19.4 1.6 10.6 1.6-14 1.7 16.7 1.6 25.1 1.6-45.6 1.6-29.1 1.6 43.5 1.6-29.6 1.7 52.5 1.6-56.1 1.6 7.9 1.6 22.5 1.6-22.4 1.6 24.2 1.7-37.5 1.6-10.6 1.6 7.9 1.6-41 1.6 29.1 1.6-21 1.7-6.7 1.6-31.9 1.6 23.8 1.6 12.1 1.6-114.8 1.6 38.2 1.7-18.6 1.6 54.3 1.6-9.3 1.6-18 1.6 41.9 1.6-18 1.7 8.8 1.6-7.2 1.6 61.2 1.6-20.7 1.6 43.6 1.6-69.1 1.7 49.4 1.6-27.4 1.6 78 1.6-33.5 1.6-4 1.6 36.7 1.7 59 1.6-128.2 1.6 33.7 1.6 64.4 1.6-.4 1.6-48.6 1.7 31.1 1.6 19.2 1.6-19.5 1.6-37.7 1.6-19.5 1.6 16.9 1.7-54.7 1.6 26.7 1.6 45.9 1.6-59.1 1.6 37.9 1.6-21.2 1.7-19.5 1.6-29.3 1.6-21.1 1.6 18.8 1.6 35.3 1.6 13.3 1.7-51.8 1.6-23.4 1.6-8.7 1.6-19.7 1.6-13.7 1.6 50.8 1.7 24.4 1.6-16.7 1.6 6.5 1.6 23.8 1.6-17.9 1.6 54.5 1.7 34.1 1.6-39.4 1.6-21.6 1.6 68.4 1.6-64.8 1.6 6.6 1.7 46.3 1.6 38 1.6-23.5 1.6 15.8 1.6-38.2 1.6 56.1 1.7-56.2 1.6 12.2 1.6 8.2 1.6-33.5 1.6 81.2 1.6-96.5 1.7 105.9 1.6-92.1 1.6 83.8 1.6 .6 1.6-70 1.6-57.7 1.7 24.9 1.6 55.3 1.6-84.6 1.6-7 1.6-50.6 1.6 19.9 1.7-36.6 1.6 29.8 1.6-70.4 1.6 102 1.6-63.6 1.6-32.4 1.7 57.1 1.6 53.1 1.6-108.6 1.6 128.8 1.6-60.2" fill="none" stroke="#ababab" stroke-width="6" stroke-linejoin="round"/>
<path d="M270.4 420.7l1.7 21.1 1.6-49.2 1.6 6.8 1.6-37.2 1.6-29.2 1.6 82.6 1.7-53.4 1.6-32.9 1.6 18.1 1.6 33.6 1.6-32.7 1.6-29.3 1.7 7.1 1.6 56 1.6 11.8 1.6-26.2 1.6 43.2 1.6-31.5 1.7-6.6 1.6 21.3 1.6 61.1 1.6-51.1 1.6 45.3 1.6 1.1 1.7-32.1 1.6 31.9 1.6 6.6 1.6 3.6 1.6 2.1 1.6-7.3 1.7-31 1.6 66.4 1.6 29.5 1.6-65.9 1.6 19.9 1.6-12.2 1.7-29.7 1.6 19.9 1.6 18.1 1.6-25.5 1.6 68.2 1.6-25.9 1.7-86.2 1.6 16.1 1.6-45.6 1.6 34.5 1.6 1.5 1.6 2.5 1.7-41.4 1.6 1.9 1.6-30.5 1.6 51.5 1.6-149.2 1.6 108.5 1.7-3.5 1.6-51.6 1.6 70.4 1.6-10.2 1.6-57 1.6 43.4 1.7-6.9 1.6 44.3 1.6-16.6 1.6 10 1.6 20.6 1.6-9.7 1.7 69.1 1.6-37 1.6 90.2 1.6-34.2 1.6 42.7 1.6-67.7 1.7 51.7 1.6 11.7 1.6-55.3 1.6 28 1.6-36 1.6 2.3 1.7-21.4 1.6 77.8 1.6-49.2 1.6-38.2 1.6 82.6 1.6-28 1.7-30.7 1.6-34.5 1.6 27.6 1.6-23.9 1.6-12.4 1.6 47.5 1.7-29.5 1.6-25.2 1.6 42.5 1.6-73.2 1.6-11.7 1.6 3.5 1.7-21.7 1.6-69.3 1.6 82.7 1.6-44.3 1.6 53.4 1.6-28.2 1.7 60.1 1.6-39.2 1.6 12.6 1.6 22.8 1.6-14.4 1.6 2.4 1.7 31.2 1.6-59.7 1.6 105.5 1.6 1.6 1.6-36.9 1.6 16.4 1.7 44.3 1.6-59.9 1.6 65.9 1.6-22.9 1.6 4.7 1.6-5.8 1.6-18.7 1.7-9.9 1.6 7.4 1.6 78.3 1.6-68.7 1.6 46.1 1.6-30.1 1.7 13.9 1.6-65.9 1.6 38.5 1.6 59.5 1.6-70.4 1.6 56.4 1.7-91.3 1.6-7.7 1.6-29.2 1.6-19.4 1.6 41.9 1.6-92.2 1.7 62.7 1.6 2 1.6-68.1 1.6 50.3 1.6 8.8 1.6 30.8 1.7-88.1 1.6 64.5 1.6 4.3 1.6-19.8 1.6 8 1.6 19.2 1.7 14.3 1.6 11.2 1.6 74.8 1.6-58.3 1.6 53.8 1.6-51.2 1.7-2 1.6 74.6 1.6-104.9 1.6 65.9 1.6-67.9 1.6 122.6 1.7-85.7 1.6 43.2 1.6-30.3 1.6 59.6 1.6-16 1.6-3 1.7-5.4 1.6-8.7 1.6-5.5 1.6 2 1.6 14.7 1.6-2.9 1.7-39.3 1.6 31.6 1.6-45.4 1.6-9.9 1.6 17.8 1.6-37.2 1.7 5.8 1.6-20.4 1.6-23.7 1.6 14.5 1.6-59.5 1.6 2.7 1.7-1.3 1.6 70.5 1.6-70.6 1.6 1 1.6 21.9 1.6 21.7 1.7-7.6 1.6 27.8 1.6 30.2 1.6-12.2 1.6 13.5 1.6-18.9 1.7 23.6 1.6 5.5 1.6 81.4 1.6 17.1 1.6-88.5 1.6 27.4 1.7 5.4 1.6-37 1.6 30.3 1.6 99 1.6-85.4 1.6-44.7 1.7 71.3 1.6-47.8 1.6 41 1.6 7.7 1.6-51.9 1.6 20.3 1.7 15.5 1.6-46.3 1.6 10.8 1.6-8.7 1.6 6.6 1.6-78.7 1.7 0 1.6 37.8 1.6 63 1.6-53.7 1.6-58.9 1.6 24 1.7-73.2 1.6 65.2 1.6 39.5 1.6-137.6 1.6 60.9 1.6 21 1.7-26 1.6-17.6 1.6 93.6 1.6-39.8 1.6 69.4 1.6-36.7 1.7 56.5 1.6-59.4 1.6 99.8 1.6-46 1.6-26.8 1.6 28.5 1.7 21.4 1.6-15.7 1.6-28.9 1.6-9.9 1.6 53.9 1.6-3.4 1.7-72.1 1.6 57.1 1.6 17.7 1.6-6.8 1.6-.9 1.6 71.6 1.7-86.7 1.6 51.5 1.6-23 1.6 49 1.6-56.8 1.6-73.4 1.7 75.8 1.6-56.6 1.6 11.1 1.6-16.7 1.6-36.5 1.6 6.3 1.7 32.1 1.6-52.2 1.6-20.4 1.6 18.5 1.6-7.8 1.6-2 1.7-85.8 1.6 93 1.6 5.7 1.6 35.1 1.6 21.6 1.6-51.2 1.7-14.6 1.6 57.7 1.6 28.6 1.6-33.1 1.6-19.8 1.6-13.8 1.7 67.9 1.6 35 1.6-25.9 1.6-2.5 1.6-3.6 1.6 10 1.6 37.9 1.7-53 1.6 34.9 1.6 27 1.6-2.4 1.6-1.1 1.6-48 1.7 22.8 1.6-8 1.6-31.4 1.6 22.6 1.6-17.6 1.6 59.4 1.7-66.7 1.6-22.7 1.6 33 1.6-57.2 1.6-9.5 1.6 41 1.7-18 1.6 5.5 1.6-4 1.6-37 1.6-35.5 1.6-18.4 1.7 62.5 1.6-71.9 1.6 50.3 1.6-65.7 1.6 29.8 1.6 82.1 1.7-67.2 1.6 26.1 1.6 64.8 1.6-25.8 1.6-19.5 1.6 27.4 1.7 31.1 1.6 21.1 1.6-31.4 1.6 11.1 1.6 11.9 1.6 33.2 1.7-21.2 1.6 62.4 1.6-70.9 1.6 21.7 1.6 64.2 1.6-50.5 1.7-51.6 1.6 43.7 1.6-58.9 1.6 72.5 1.6-50.3 1.6 88.8 1.7-54 1.6 22 1.6-96.6 1.6 55.8 1.6 .1 1.6-6.4 1.7 30.4 1.6-51.6 1.6-82.8 1.6 2.5 1.6 44.1 1.6 33.2 1.7-65.3 1.6-19.5 1.6 17.1 1.6-13.6 1.6-26.6 1.6-.3 1.7 21.6 1.6 46.4 1.6-24.7 1.6-11.2 1.6 61.9 1.6-19.6 1.7-12.8 1.6 33.8 1.6 25.7 1.6 16.2 1.6-24.8 1.6 81.5 1.7-2.7 1.6-89.2 1.6-11 1.6 61.5 1.6-45.7 1.6 15.4 1.7 21.8 1.6 1.5 1.6 86.9 1.6-80.3 1.6 15.6 1.6 3 1.7 10.4 1.6-54.4 1.6 85.7 1.6-3 1.6-58.1 1.6-19.9 1.7-.2 1.6-18.8 1.6 7.8 1.6-48.2 1.6 22.7 1.6-22.3 1.7 54.9 1.6-90.5 1.6 21 1.6-17.7 1.6-3.2 1.6 43 1.7-110.1 1.6 22.4 1.6 54.7 1.6-24.4 1.6-20.3 1.6 88.8 1.7-22.2 1.6 16 1.6-17.7 1.6-14.4 1.6 62.5 1.6-133.6 1.7 62.2 1.6 70 1.6-15.8 1.6 28.9 1.6-1.9 1.6 27.3 1.7-8.5 1.6-35 1.6 48.7 1.6-48.9 1.6-5.7 1.6 106.4 1.7-45.8 1.6-55.1 1.6 42.8 1.6 9.1 1.6 28.9 1.6-53.3 1.7-44 1.6 55.2 1.6 49 1.6-117.9 1.6 61.9 1.6-37.1 1.7-26.8 1.6-32.9 1.6-36.2 1.6 48.8 1.6-15.8 1.6 1.5 1.7 22.8 1.6 35.2 1.6-75.3 1.6 4 1.6-17.8 1.6 62.7 1.7-66.9 1.6 23.1 1.6-13.5 1.6-49.1 1.6 157.2 1.6-122.5 1.7 112.2 1.6-43.7 1.6 12 1.6-34.8 1.6 91.6 1.6-58.7 1.7 66.1 1.6-15.2 1.6 8.7 1.6 1.2 1.6 83.1 1.6-67.2 1.6-77.6 1.7 106.8 1.6-64.4 1.6 39.8 1.6-39 1.6-1.5 1.6 81 1.7-55.8 1.6-33.2 1.6 42.4 1.6-55.8 1.6 51.7 1.6 4.8 1.7-19.9 1.6-45.8 1.6-16 1.6-10.4 1.6-17.7 1.6-49.6 1.7 53.6 1.6-8.8 1.6-54.3 1.6 28.5 1.6-60 1.6 80 1.7-73.8 1.6 75.3 1.6 4.9 1.6-37.5 1.6 16.5 1.6 14.9 1.7 11 1.6 19.9 1.6 .7 1.6 51 1.6-34.7 1.6 4.3 1.7 36.2 1.6 43.2 1.6 5.1 1.6-35.7 1.6-3 1.6 17.4 1.7-78.4 1.6 99.3 1.6 39.1 1.6-60.3 1.6 12.6 1.6-63.4 1.7 43.2 1.6-2.4 1.6 8.5 1.6-81.8 1.6 47.9 1.6 34 1.7 5.1 1.6-45.2 1.6 0 1.6-3.5 1.6 8.6 1.6 31.4 1.7-57.9 1.6-28.2 1.6-44.2 1.6-45.7 1.6 14.5 1.6 33.7 1.7 50.6 1.6-27.6 1.6-14.3 1.6-65.1 1.6 45.5 1.6 63.1 1.7-63.8 1.6-4.7 1.6 93.5 1.6-89.2 1.6 87.6 1.6-5.2 1.7-25.7 1.6 92.5 1.6-18.6 1.6-.6 1.6-2.8 1.6 23 1.7-8.5 1.6-10.4 1.6-34.4 1.6-6.6 1.6 87.9 1.6-29.1 1.7-40.8 1.6 45.7 1.6 10.4 1.6-55.4 1.6 47.1 1.6-69.5 1.7 33.6 1.6-26.3 1.6-13.2 1.6 27.6 1.6 4.5 1.6-33.2 1.7 72.1 1.6-50.1 1.6-61.4 1.6 57.7 1.6-96.7 1.6-50.9 1.7 94.8 1.6-74.6 1.6 12.1 1.6-37.4 1.6 145 1.6-85.4 1.7 11.6 1.6-21.3 1.6-22.4 1.6 31.3 1.6 60.8 1.6-5.9 1.7 42.9 1.6-32.2 1.6 38.5 1.6 37.4 1.6-23.7 1.6 29.2 1.7 20.1 1.6-24.2 1.6 4.9 1.6-31.4 1.6 18.8 1.6-53 1.7-5.4 1.6-7.8 1.6 44.5 1.6 33.1 1.6 6.5 1.6-9.9 1.7-30.7 1.6 20.1 1.6 63.4 1.6-77.1 1.6-54.4 1.6 18.7 1.7 20.8 1.6-25.3 1.6-.2 1.6 8.4 1.6 25.4 1.6-55.3 1.7-9.8 1.6-14.5 1.6-57.5 1.6 35.4 1.6-23.9 1.6 25.4 1.7-102 1.6 124.8 1.6-46.2 1.6-5.3 1.6 31.8 1.6 1.7 1.7-7.8 1.6 39.4 1.6 16.8 1.6-17.6 1.6 16.7 1.6 17.4 1.7-54.8 1.6 93.7 1.6-10.7 1.6 40.8 1.6-37.8 1.6 30.6 1.6-31.2 1.7 15.8 1.6 27 1.6-49 1.6 8.6 1.6-3.8 1.6 64.2 1.7-33.5 1.6 19.6 1.6-7.4 1.6 30.8 1.6-43.5 1.6-51.7 1.7 37.4 1.6 12 1.6-48.2 1.6 16.1 1.6-33.3 1.6-9.2 1.7-19.2 1.6 12 1.6-.6 1.6-.4 1.6-91.5 1.6 32.7 1.7-64.9 1.6 45.4 1.6-10.8 1.6-12.7 1.6 56.5 1.6-16.2 1.7 58.1 1.6 17.6 1.6-33.2 1.6 24.1 1.6 11.6 1.6 5.4 1.7-17.7 1.6-13.7 1.6 81.8 1.6-16 1.6 16.3 1.6 19.8 1.7 17.9 1.6-18.1 1.6-96.2 1.6 50.4 1.6 2.5 1.6 26 1.7-75.2 1.6 90.2 1.6 47.8 1.6-133.3 1.6 52.2 1.6-16.6 1.7 21.7 1.6 43.5 1.6-19.6 1.6-30.5 1.6-21.2 1.6-32.3 1.7 63.4 1.6-43.2 1.6 47 1.6-89.5 1.6-7.4 1.6-14.2 1.7-69.5 1.6 25.3 1.6 69 1.6-118.3 1.6 51.6 1.6-6.9 1.7 17 1.6-5.2 1.6 112.1 1.6-52.4 1.6-43.8 1.6 66.3 1.7 .6 1.6 51.1 1.6-44 1.6 34.8 1.6 30.3 1.6-35.4 1.7-45.6 1.6 76.9 1.6 44.9 1.6-63.3 1.6-16.7 1.6 36.7 1.7-76.9 1.6 57.9 1.6-12 1.6-26.9 1.6 1.9 1.6 93.6 1.7-31.3 1.6-5.1 1.6-14.3 1.6-68.5 1.6 82.5 1.6-34.4 1.7-37.6 1.6-3.2 1.6 18.5 1.6-36.3 1.6 25.8 1.6 52.9 1.7-129 1.6 64.7 1.6 18.6 1.6-143 1.6 93.2 1.6-10.4 1.7 17.6 1.6-59.7 1.6 56.6 1.6-22 1.6-17.3 1.6-5.5 1.7 62.7 1.6 7.2 1.6-20.3 1.6 56.8 1.6-50.6 1.6 47.4 1.7 27.7 1.6-16.9 1.6 3.8 1.6-15.1 1.6 41.5 1.6-5.3 1.7-21.2 1.6 10.5 1.6 80.6 1.6-80.9 1.6 61.6 1.6 5.8 1.7-85.7 1.6 101.7 1.6-93.4 1.6 17.7 1.6 41 1.6-72.2 1.7 63.3 1.6-40.3 1.6 6.4 1.6-6.2 1.6-43 1.6 37.2 1.7-9.3 1.6 35.7 1.6-41.1 1.6-48.2 1.6-85.7 1.6 34.1 1.7 53.2 1.6-25.9 1.6-90.1 1.6 26.9 1.6 42.5 1.6 16.2 1.7-12 1.6 58.2 1.6-97.2 1.6 32.9 1.6 10.7 1.6 40.6 1.7 71.3 1.6 15.1 1.6-11.7 1.6-31.7 1.6 34.8 1.6-29.6 1.6 38.3 1.7-14.7 1.6-19.8 1.6 89.2 1.6-68.7 1.6 4.2 1.6-25.7 1.7 16.2 1.6 5.2 1.6-17.9 1.6-2.7 1.6 25.2 1.6 6.4 1.7-38.6 1.6 32.9 1.6 54.9 1.6-36.4 1.6-108.4 1.6 71.4 1.7-12.8 1.6 .1 1.6 .7 1.6-20.1 1.6 23.2 1.6-60.1 1.7-37.6 1.6 .1 1.6-12.7 1.6 15.7 1.6-2.1 1.6-81.8 1.7 99.4 1.6-5.5 1.6-15.3 1.6 14.5 1.6 5.9 1.6-53.6 1.7 39 1.6 117 1.6-68.9 1.6 24 1.6 17.7 1.6 35.6 1.7-7.7 1.6 53.6 1.6-22.9 1.6-69.3 1.6 30.5 1.6 30.8 1.7-37.7 1.6 12.3 1.6-.3 1.6-2.2 1.6-14.5 1.6 9.4 1.7 78.2 1.6-75.3 1.6 26.4 1.6-.3 1.6-42.8 1.6 7.9 1.7 28 1.6-47.4 1.6 19.9 1.6-35.9 1.6-7.8 1.6-5.8 1.7-6.6 1.6-47 1.6 72 1.6-40.4 1.6-23.1 1.6 31.5 1.7-34.9 1.6 3.7 1.6-66.3 1.6 36.9 1.6-3.3 1.6-12.9 1.7 12.1 1.6 24.9 1.6-10.1 1.6 77.7 1.6-.5 1.6-74.3 1.7 143.3 1.6-84.3 1.6 63.2 1.6-55.4 1.6 24.3 1.6 92.7 1.7-50.2 1.6-65.7 1.6 19.5 1.6 70.6 1.6-18.3 1.6-30 1.7 84.9 1.6-33.1 1.6 20.9 1.6-62 1.6 12.9 1.6-80.6 1.7 40.3 1.6-34.7 1.6 58.9 1.6-7.6 1.6 14 1.6-81.4 1.7 27.9 1.6-7.9 1.6 6.3 1.6 2.2 1.6-78.7 1.6-7.5 1.7 6 1.6 73.9 1.6-49.1 1.6 13 1.6-15.3 1.6-70.5 1.7 71.2 1.6 23.3 1.6 18.2 1.6-29.2 1.6 12.9 1.6-3.3 1.7 6.1 1.6-7.5 1.6 53.8 1.6 6.2 1.6-13.2 1.6 12 1.7-18.2 1.6 76.2 1.6-105.8 1.6 108 1.6-40.4 1.6 0 1.7-10.9 1.6 23.9 1.6-16.8 1.6-31.3 1.6-23.3 1.6 55.9 1.7 18.1 1.6-44.5 1.6-10.6 1.6 34.5 1.6-14.5 1.6 43.5 1.7-19.8 1.6-52.4 1.6 39.6 1.6-43.4 1.6-30.6 1.6 11.7 1.7-43 1.6-8.3 1.6-23.7 1.6 72.6 1.6 6.4 1.6-59.4 1.7 72.4 1.6-112.9 1.6 1.8 1.6 61.1 1.6-43.3 1.6 26.8 1.7 92.3 1.6-57.9 1.6 36 1.6 40.8 1.6-32.2 1.6 77.5 1.6-15.7 1.7-23.3 1.6-77.6 1.6 67.6 1.6 35.4 1.6 20.9 1.6-57.1 1.7-7.7 1.6 97.6 1.6-22.3 1.6-28.2 1.6 40.6 1.6-57.8 1.7-68.7 1.6 73.4 1.6-28.5 1.6 46.6 1.6-21.2 1.6-3 1.7 7.5 1.6-31.4 1.6-.2 1.6-8.6 1.6 12.9 1.6-85.1 1.7 25.8 1.6-16.9 1.6-27.8 1.6 38 1.6 5 1.6-42.8 1.7-53.7 1.6 19.7 1.6 114.4 1.6-109.8 1.6 59.6 1.6-47.6 1.7 31.1 1.6-16.9 1.6-31.3 1.6 47.7 1.6 39.8 1.6 18 1.7 31.9 1.6-7.2 1.6-26.3 1.6 45 1.6-14.1 1.6 13.4 1.7 60 1.6-67 1.6-13.8 1.6 41.7 1.6-39.2 1.6 44.8 1.7-36.3 1.6 18.7 1.6-35.6 1.6 31 1.6-31.3 1.6 44.2 1.7 7.1 1.6-62 1.6 48.7 1.6 2.3 1.6-64.2 1.6 25.9 1.7-38.1 1.6-44.1 1.6 97.8 1.6-56 1.6-70.9 1.6 37.1 1.7 1.1 1.6-.2 1.6-17.9 1.6-16.1 1.6 36.4 1.6-38.1 1.7 53.3 1.6-12.8 1.6 47.5 1.6-110.6 1.6 62.2 1.6 34.2 1.7-4.7 1.6-15.2 1.6 49.6 1.6 3.3 1.6-37 1.6 14 1.7 77.4 1.6-31.8 1.6 18.1 1.6-51 1.6 55.1 1.6-82.1 1.7 83.3 1.6-50.5 1.6 80.8 1.6-64.8 1.6 56.2 1.6-71.1 1.7 56.9 1.6-23.3 1.6-65 1.6 73.8 1.6-28 1.6 14.3 1.7-43.4 1.6 28.9 1.6-37.3 1.6 20 1.6 19 1.6-10.4 1.7-4.5 1.6-40.9 1.6 .5 1.6-39.4 1.6 13.3 1.6 5.9 1.7-41.4 1.6 3.3 1.6-77.7 1.6 123.5 1.6-23.4 1.6-27.1 1.7 21.1 1.6 16.4 1.6 15.9 1.6 25.7 1.6-32.1 1.6 67.7 1.7-19.2 1.6 67.5 1.6-116.6 1.6 106 1.6-30.4 1.6 16 1.7-37 1.6 44.3 1.6-18.7 1.6 26 1.6 14.3 1.6 44.5 1.7-104.6 1.6 24.9 1.6 42.6 1.6-7.2 1.6-25.4 1.6 7.1 1.7-85.2 1.6 5.3 1.6 55.3 1.6 10.2 1.6-36.3 1.6 7.7 1.7 7.8 1.6-44 1.6-3.7 1.6-.2 1.6-45 1.6 53.3 1.7-86.6 1.6 48.3 1.6-4.5 1.6 16.6 1.6-63.9 1.6 24.7 1.7-7.9 1.6 37.6 1.6 15 1.6 11.4 1.6 39.1 1.6-15.3 1.6-61.6 1.7 0 1.6 74.7 1.6-16.3 1.6-1.7 1.6 90.4 1.6-66.7 1.7 52.7 1.6-6.2 1.6-31.7 1.6 19.4 1.6 10.6 1.6-14 1.7 16.7 1.6 25.1 1.6-45.6 1.6-29.1 1.6 43.5 1.6-29.6 1.7 52.5 1.6-56.1 1.6 7.9 1.6 22.5 1.6-22.4 1.6 24.2 1.7-37.5 1.6-10.6 1.6 7.9 1.6-41 1.6 29.1 1.6-21 1.7-6.7 1.6-31.9 1.6 23.8 1.6 12.1 1.6-114.8 1.6 38.2 1.7-18.6 1.6 54.3 1.6-9.3 1.6-18 1.6 41.9 1.6-18 1.7 8.8 1.6-7.2 1.6 61.2 1.6-20.7 1.6 43.6 1.6-69.1 1.7 49.4 1.6-27.4 1.6 78 1.6-33.5 1.6-4 1.6 36.7 1.7 59 1.6-128.2 1.6 33.7 1.6 64.4 1.6-.4 1.6-48.6 1.7 31.1 1.6 19.2 1.6-19.5 1.6-37.7 1.6-19.5 1.6 16.9 1.7-54.7 1.6 26.7 1.6 45.9 1.6-59.1 1.6 37.9 1.6-21.2 1.7-19.5 1.6-29.3 1.6-21.1 1.6 18.8 1.6 35.3 1.6 13.3 1.7-51.8 1.6-23.4 1.6-8.7 1.6-19.7 1.6-13.7 1.6 50.8 1.7 24.4 1.6-16.7 1.6 6.5 1.6 23.8 1.6-17.9 1.6 54.5 1.7 34.1 1.6-39.4 1.6-21.6 1.6 68.4 1.6-64.8 1.6 6.6 1.7 46.3 1.6 38 1.6-23.5 1.6 15.8 1.6-38.2 1.6 56.1 1.7-56.2 1.6 12.2 1.6 8.2 1.6-33.5 1.6 81.2 1.6-96.5 1.7 105.9 1.6-92.1 1.6 83.8 1.6 .6 1.6-70 1.6-57.7 1.7 24.9 1.6 55.3 1.6-84.6 1.6-7 1.6-50.6 1.6 19.9 1.7-36.6 1.6 29.8 1.6-70.4 1.6 102 1.6-63.6 1.6-32.4 1.7 57.1 1.6 53.1 1.6-108.6 1.6 128.8 1.6-60.2" fill="none" stroke="#262626" stroke-width="2.4" stroke-linejoin="round"/>
<path d="M267.8 420.7h5.2M269.5 441.8h5.2M271.1 392.6h5.2M272.7 399.4h5.2M274.3 362.2h5.2M275.9 333.0h5.2M277.5 415.6h5.2M279.2 362.2h5.2M280.8 329.3h5.2M282.4 347.4h5.2M284.0 381.0h5.2M285.6 348.3h5.2M287.2 319.0h5.2M288.9 326.1h5.2M290.5 382.1h5.2M292.1 393.9h5.2M293.7 367.7h5.2M295.3 410.9h5.2M296.9 379.4h5.2M298.6 372.8h5.2M300.2 394.1h5.2M301.8 455.2h5.2M303.4 404.1h5.2M305.0 449.4h5.2M306.6 450.5h5.2M308.3 418.4h5.2M309.9 450.3h5.2M311.5 456.9h5.2M313.1 460.5h5.2M314.7 462.6h5.2M316.3 455.3h5.2M318.0 424.3h5.2M319.6 490.7h5.2M321.2 520.2h5.2M322.8 454.3h5.2M324.4 474.2h5.2M326.0 462.0h5.2M327.7 432.3h5.2M329.3 452.2h5.2M330.9 470.3h5.2M332.5 444.8h5.2M334.1 513.0h5.2M335.7 487.1h5.2M337.4 400.9h5.2M339.0 417.0h5.2M340.6 371.4h5.2M342.2 405.9h5.2M343.8 407.4h5.2M345.4 409.9h5.2M347.1 368.5h5.2M348.7 370.4h5.2M350.3 339.9h5.2M351.9 391.4h5.2M353.5 242.2h5.2M355.1 350.7h5.2M356.8 347.2h5.2M358.4 295.6h5.2M360.0 366.0h5.2M361.6 355.8h5.2M363.2 298.8h5.2M364.8 342.2h5.2M366.5 335.3h5.2M368.1 379.6h5.2M369.7 363.0h5.2M371.3 373.0h5.2M372.9 393.6h5.2M374.5 383.9h5.2M376.2 453.0h5.2M377.8 416.0h5.2M379.4 506.2h5.2M381.0 472.0h5.2M382.6 514.7h5.2M384.2 447.0h5.2M385.9 498.7h5.2M387.5 510.4h5.2M389.1 455.1h5.2M390.7 483.1h5.2M392.3 447.1h5.2M393.9 449.4h5.2M395.6 428.0h5.2M397.2 505.8h5.2M398.8 456.6h5.2M400.4 418.4h5.2M402.0 501.0h5.2M403.6 473.0h5.2M405.3 442.3h5.2M406.9 407.8h5.2M408.5 435.4h5.2M410.1 411.5h5.2M411.7 399.1h5.2M413.3 446.6h5.2M415.0 417.1h5.2M416.6 391.9h5.2M418.2 434.4h5.2M419.8 361.2h5.2M421.4 349.5h5.2M423.0 353.0h5.2M424.7 331.3h5.2M426.3 262.0h5.2M427.9 344.7h5.2M429.5 300.4h5.2M431.1 353.8h5.2M432.7 325.6h5.2M434.4 385.7h5.2M436.0 346.5h5.2M437.6 359.1h5.2M439.2 381.9h5.2M440.8 367.5h5.2M442.4 369.9h5.2M444.1 401.1h5.2M445.7 341.4h5.2M447.3 446.9h5.2M448.9 448.5h5.2M450.5 411.6h5.2M452.1 428.0h5.2M453.8 472.3h5.2M455.4 412.4h5.2M457.0 478.3h5.2M458.6 455.4h5.2M460.2 460.1h5.2M461.8 454.3h5.2M463.4 435.6h5.2M465.1 425.7h5.2M466.7 433.1h5.2M468.3 511.4h5.2M469.9 442.7h5.2M471.5 488.8h5.2M473.1 458.7h5.2M474.8 472.6h5.2M476.4 406.7h5.2M478.0 445.2h5.2M479.6 504.7h5.2M481.2 434.3h5.2M482.8 490.7h5.2M484.5 399.4h5.2M486.1 391.7h5.2M487.7 362.5h5.2M489.3 343.1h5.2M490.9 385.0h5.2M492.5 292.8h5.2M494.2 355.5h5.2M495.8 357.5h5.2M497.4 289.4h5.2M499.0 339.7h5.2M500.6 348.5h5.2M502.2 379.3h5.2M503.9 291.2h5.2M505.5 355.7h5.2M507.1 360.0h5.2M508.7 340.2h5.2M510.3 348.2h5.2M511.9 367.4h5.2M513.6 381.7h5.2M515.2 392.9h5.2M516.8 467.7h5.2M518.4 409.4h5.2M520.0 463.2h5.2M521.6 412.0h5.2M523.3 410.0h5.2M524.9 484.6h5.2M526.5 379.7h5.2M528.1 445.6h5.2M529.7 377.7h5.2M531.3 500.3h5.2M533.0 414.6h5.2M534.6 457.8h5.2M536.2 427.5h5.2M537.8 487.1h5.2M539.4 471.1h5.2M541.0 468.1h5.2M542.7 462.7h5.2M544.3 454.0h5.2M545.9 448.5h5.2M547.5 450.5h5.2M549.1 465.2h5.2M550.7 462.3h5.2M552.4 423.0h5.2M554.0 454.6h5.2M555.6 409.2h5.2M557.2 399.3h5.2M558.8 417.1h5.2M560.4 379.9h5.2M562.1 385.7h5.2M563.7 365.3h5.2M565.3 341.6h5.2M566.9 356.1h5.2M568.5 296.6h5.2M570.1 299.3h5.2M571.8 298.0h5.2M573.4 368.5h5.2M575.0 297.9h5.2M576.6 298.9h5.2M578.2 320.8h5.2M579.8 342.5h5.2M581.5 334.9h5.2M583.1 362.7h5.2M584.7 392.9h5.2M586.3 380.7h5.2M587.9 394.2h5.2M589.5 375.3h5.2M591.2 398.9h5.2M592.8 404.4h5.2M594.4 485.8h5.2M596.0 502.9h5.2M597.6 414.4h5.2M599.2 441.8h5.2M600.9 447.2h5.2M602.5 410.2h5.2M604.1 440.5h5.2M605.7 539.5h5.2M607.3 454.1h5.2M608.9 409.4h5.2M610.6 480.7h5.2M612.2 432.9h5.2M613.8 473.9h5.2M615.4 481.6h5.2M617.0 429.7h5.2M618.6 450.0h5.2M620.3 465.5h5.2M621.9 419.2h5.2M623.5 430.0h5.2M625.1 421.3h5.2M626.7 427.9h5.2M628.3 349.2h5.2M630.0 349.2h5.2M631.6 387.0h5.2M633.2 450.0h5.2M634.8 396.3h5.2M636.4 337.4h5.2M638.0 361.4h5.2M639.7 288.2h5.2M641.3 353.4h5.2M642.9 392.9h5.2M644.5 255.3h5.2M646.1 316.2h5.2M647.7 337.2h5.2M649.4 311.2h5.2M651.0 293.6h5.2M652.6 387.2h5.2M654.2 347.4h5.2M655.8 416.8h5.2M657.4 380.1h5.2M659.1 436.6h5.2M660.7 377.2h5.2M662.3 477.0h5.2M663.9 431.0h5.2M665.5 404.2h5.2M667.1 432.7h5.2M668.8 454.1h5.2M670.4 438.4h5.2M672.0 409.5h5.2M673.6 399.6h5.2M675.2 453.5h5.2M676.8 450.1h5.2M678.5 378.0h5.2M680.1 435.1h5.2M681.7 452.8h5.2M683.3 446.0h5.2M684.9 445.1h5.2M686.5 516.7h5.2M688.2 430.0h5.2M689.8 481.5h5.2M691.4 458.5h5.2M693.0 507.5h5.2M694.6 450.7h5.2M696.2 377.3h5.2M697.9 453.1h5.2M699.5 396.5h5.2M701.1 407.6h5.2M702.7 390.9h5.2M704.3 354.4h5.2M705.9 360.7h5.2M707.6 392.8h5.2M709.2 340.6h5.2M710.8 320.2h5.2M712.4 338.7h5.2M714.0 330.9h5.2M715.6 328.9h5.2M717.3 243.1h5.2M718.9 336.1h5.2M720.5 341.8h5.2M722.1 376.9h5.2M723.7 398.5h5.2M725.3 347.3h5.2M727.0 332.7h5.2M728.6 390.4h5.2M730.2 419.0h5.2M731.8 385.9h5.2M733.4 366.1h5.2M735.0 352.3h5.2M736.7 420.2h5.2M738.3 455.2h5.2M739.9 429.3h5.2M741.5 426.8h5.2M743.1 423.2h5.2M744.7 433.2h5.2M746.3 471.1h5.2M748.0 418.1h5.2M749.6 453.0h5.2M751.2 480.0h5.2M752.8 477.6h5.2M754.4 476.5h5.2M756.0 428.5h5.2M757.7 451.3h5.2M759.3 443.3h5.2M760.9 411.9h5.2M762.5 434.5h5.2M764.1 416.9h5.2M765.7 476.3h5.2M767.4 409.6h5.2M769.0 386.9h5.2M770.6 419.9h5.2M772.2 362.7h5.2M773.8 353.2h5.2M775.4 394.2h5.2M777.1 376.2h5.2M778.7 381.7h5.2M780.3 377.7h5.2M781.9 340.7h5.2M783.5 305.2h5.2M785.1 286.8h5.2M786.8 349.3h5.2M788.4 277.4h5.2M790.0 327.7h5.2M791.6 262.0h5.2M793.2 291.8h5.2M794.8 373.9h5.2M796.5 306.7h5.2M798.1 332.8h5.2M799.7 397.6h5.2M801.3 371.8h5.2M802.9 352.3h5.2M804.5 379.7h5.2M806.2 410.8h5.2M807.8 431.9h5.2M809.4 400.5h5.2M811.0 411.6h5.2M812.6 423.5h5.2M814.2 456.7h5.2M815.9 435.5h5.2M817.5 497.9h5.2M819.1 427.0h5.2M820.7 448.7h5.2M822.3 512.9h5.2M823.9 462.4h5.2M825.6 410.8h5.2M827.2 454.5h5.2M828.8 395.6h5.2M830.4 468.1h5.2M832.0 417.8h5.2M833.6 506.6h5.2M835.3 452.6h5.2M836.9 474.6h5.2M838.5 378.0h5.2M840.1 433.8h5.2M841.7 433.9h5.2M843.3 427.5h5.2M845.0 457.9h5.2M846.6 406.3h5.2M848.2 323.5h5.2M849.8 326.0h5.2M851.4 370.1h5.2M853.0 403.3h5.2M854.7 338.0h5.2M856.3 318.5h5.2M857.9 335.6h5.2M859.5 322.0h5.2M861.1 295.4h5.2M862.7 295.1h5.2M864.4 316.7h5.2M866.0 363.1h5.2M867.6 338.4h5.2M869.2 327.2h5.2M870.8 389.1h5.2M872.4 369.5h5.2M874.1 356.7h5.2M875.7 390.5h5.2M877.3 416.2h5.2M878.9 432.4h5.2M880.5 407.6h5.2M882.1 489.1h5.2M883.8 486.4h5.2M885.4 397.2h5.2M887.0 386.2h5.2M888.6 447.7h5.2M890.2 402.0h5.2M891.8 417.4h5.2M893.5 439.2h5.2M895.1 440.7h5.2M896.7 527.6h5.2M898.3 447.3h5.2M899.9 462.9h5.2M901.5 465.9h5.2M903.2 476.3h5.2M904.8 421.9h5.2M906.4 507.6h5.2M908.0 504.6h5.2M909.6 446.5h5.2M911.2 426.6h5.2M912.9 426.4h5.2M914.5 407.6h5.2M916.1 415.4h5.2M917.7 367.2h5.2M919.3 389.9h5.2M920.9 367.6h5.2M922.6 422.5h5.2M924.2 332.0h5.2M925.8 353.0h5.2M927.4 335.3h5.2M929.0 332.1h5.2M930.6 375.1h5.2M932.3 265.0h5.2M933.9 287.4h5.2M935.5 342.1h5.2M937.1 317.7h5.2M938.7 297.4h5.2M940.3 386.2h5.2M942.0 364.0h5.2M943.6 380.0h5.2M945.2 362.3h5.2M946.8 347.9h5.2M948.4 410.4h5.2M950.0 276.8h5.2M951.7 339.0h5.2M953.3 409.0h5.2M954.9 393.2h5.2M956.5 422.1h5.2M958.1 420.2h5.2M959.7 447.5h5.2M961.4 439.0h5.2M963.0 404.0h5.2M964.6 452.7h5.2M966.2 403.8h5.2M967.8 398.1h5.2M969.4 504.5h5.2M971.1 458.7h5.2M972.7 403.6h5.2M974.3 446.4h5.2M975.9 455.5h5.2M977.5 484.4h5.2M979.1 431.1h5.2M980.8 387.1h5.2M982.4 442.3h5.2M984.0 491.3h5.2M985.6 373.4h5.2M987.2 435.3h5.2M988.8 398.2h5.2M990.5 371.4h5.2M992.1 338.5h5.2M993.7 302.3h5.2M995.3 351.1h5.2M996.9 335.3h5.2M998.5 336.8h5.2M1000.2 359.6h5.2M1001.8 394.8h5.2M1003.4 319.5h5.2M1005.0 323.5h5.2M1006.6 305.7h5.2M1008.2 368.4h5.2M1009.9 301.5h5.2M1011.5 324.6h5.2M1013.1 311.1h5.2M1014.7 262.0h5.2M1016.3 419.2h5.2M1017.9 296.7h5.2M1019.6 408.9h5.2M1021.2 365.2h5.2M1022.8 377.2h5.2M1024.4 342.4h5.2M1026.0 434.0h5.2M1027.6 375.3h5.2M1029.3 441.4h5.2M1030.9 426.2h5.2M1032.5 434.9h5.2M1034.1 436.1h5.2M1035.7 519.2h5.2M1037.3 452.0h5.2M1038.9 374.4h5.2M1040.6 481.2h5.2M1042.2 416.8h5.2M1043.8 456.6h5.2M1045.4 417.6h5.2M1047.0 416.1h5.2M1048.6 497.1h5.2M1050.3 441.3h5.2M1051.9 408.1h5.2M1053.5 450.5h5.2M1055.1 394.7h5.2M1056.7 446.4h5.2M1058.3 451.2h5.2M1060.0 431.3h5.2M1061.6 385.5h5.2M1063.2 369.5h5.2M1064.8 359.1h5.2M1066.4 341.4h5.2M1068.0 291.8h5.2M1069.7 345.4h5.2M1071.3 336.6h5.2M1072.9 282.3h5.2M1074.5 310.8h5.2M1076.1 250.8h5.2M1077.7 330.8h5.2M1079.4 257.0h5.2M1081.0 332.3h5.2M1082.6 337.2h5.2M1084.2 299.7h5.2M1085.8 316.2h5.2M1087.4 331.1h5.2M1089.1 342.1h5.2M1090.7 362.0h5.2M1092.3 362.7h5.2M1093.9 413.7h5.2M1095.5 379.0h5.2M1097.1 383.3h5.2M1098.8 419.5h5.2M1100.4 462.7h5.2M1102.0 467.8h5.2M1103.6 432.1h5.2M1105.2 429.1h5.2M1106.8 446.5h5.2M1108.5 368.1h5.2M1110.1 467.4h5.2M1111.7 506.5h5.2M1113.3 446.2h5.2M1114.9 458.8h5.2M1116.5 395.4h5.2M1118.2 438.6h5.2M1119.8 436.2h5.2M1121.4 444.7h5.2M1123.0 362.9h5.2M1124.6 410.8h5.2M1126.2 444.8h5.2M1127.9 449.9h5.2M1129.5 404.7h5.2M1131.1 404.7h5.2M1132.7 401.2h5.2M1134.3 409.8h5.2M1135.9 441.2h5.2M1137.6 383.3h5.2M1139.2 355.1h5.2M1140.8 310.9h5.2M1142.4 265.2h5.2M1144.0 279.7h5.2M1145.6 313.4h5.2M1147.3 364.0h5.2M1148.9 336.4h5.2M1150.5 322.1h5.2M1152.1 257.0h5.2M1153.7 302.5h5.2M1155.3 365.6h5.2M1157.0 301.8h5.2M1158.6 297.1h5.2M1160.2 390.6h5.2M1161.8 301.4h5.2M1163.4 389.0h5.2M1165.0 383.8h5.2M1166.7 358.1h5.2M1168.3 450.6h5.2M1169.9 432.0h5.2M1171.5 431.4h5.2M1173.1 428.6h5.2M1174.7 451.6h5.2M1176.4 443.1h5.2M1178.0 432.7h5.2M1179.6 398.3h5.2M1181.2 391.7h5.2M1182.8 479.6h5.2M1184.4 450.5h5.2M1186.1 409.7h5.2M1187.7 455.4h5.2M1189.3 465.8h5.2M1190.9 410.4h5.2M1192.5 457.5h5.2M1194.1 388.0h5.2M1195.8 421.6h5.2M1197.4 395.3h5.2M1199.0 382.1h5.2M1200.6 409.7h5.2M1202.2 414.2h5.2M1203.8 381.0h5.2M1205.5 453.1h5.2M1207.1 403.0h5.2M1208.7 341.6h5.2M1210.3 399.3h5.2M1211.9 302.6h5.2M1213.5 251.7h5.2M1215.2 346.5h5.2M1216.8 271.9h5.2M1218.4 284.0h5.2M1220.0 246.6h5.2M1221.6 391.6h5.2M1223.2 306.2h5.2M1224.9 317.8h5.2M1226.5 296.5h5.2M1228.1 274.1h5.2M1229.7 305.4h5.2M1231.3 366.2h5.2M1232.9 360.3h5.2M1234.6 403.2h5.2M1236.2 371.0h5.2M1237.8 409.5h5.2M1239.4 446.9h5.2M1241.0 423.2h5.2M1242.6 452.4h5.2M1244.3 472.5h5.2M1245.9 448.3h5.2M1247.5 453.2h5.2M1249.1 421.8h5.2M1250.7 440.6h5.2M1252.3 387.6h5.2M1254.0 382.2h5.2M1255.6 374.4h5.2M1257.2 418.9h5.2M1258.8 452.0h5.2M1260.4 458.5h5.2M1262.0 448.6h5.2M1263.7 417.9h5.2M1265.3 438.0h5.2M1266.9 501.4h5.2M1268.5 424.3h5.2M1270.1 369.9h5.2M1271.7 388.6h5.2M1273.4 409.4h5.2M1275.0 384.1h5.2M1276.6 383.9h5.2M1278.2 392.3h5.2M1279.8 417.7h5.2M1281.4 362.4h5.2M1283.1 352.6h5.2M1284.7 338.1h5.2M1286.3 280.6h5.2M1287.9 316.0h5.2M1289.5 292.1h5.2M1291.1 317.5h5.2M1292.8 215.5h5.2M1294.4 340.3h5.2M1296.0 294.1h5.2M1297.6 288.8h5.2M1299.2 320.6h5.2M1300.8 322.3h5.2M1302.5 314.5h5.2M1304.1 353.9h5.2M1305.7 370.7h5.2M1307.3 353.1h5.2M1308.9 369.8h5.2M1310.5 387.2h5.2M1312.2 332.4h5.2M1313.8 426.1h5.2M1315.4 415.4h5.2M1317.0 456.2h5.2M1318.6 418.4h5.2M1320.2 449.0h5.2M1321.8 417.8h5.2M1323.5 433.6h5.2M1325.1 460.6h5.2M1326.7 411.6h5.2M1328.3 420.2h5.2M1329.9 416.4h5.2M1331.5 480.6h5.2M1333.2 447.1h5.2M1334.8 466.7h5.2M1336.4 459.3h5.2M1338.0 490.1h5.2M1339.6 446.6h5.2M1341.2 394.9h5.2M1342.9 432.3h5.2M1344.5 444.3h5.2M1346.1 396.1h5.2M1347.7 412.2h5.2M1349.3 378.9h5.2M1350.9 369.7h5.2M1352.6 350.5h5.2M1354.2 362.5h5.2M1355.8 361.9h5.2M1357.4 361.5h5.2M1359.0 270.0h5.2M1360.6 302.7h5.2M1362.3 237.8h5.2M1363.9 283.2h5.2M1365.5 272.4h5.2M1367.1 259.7h5.2M1368.7 316.2h5.2M1370.3 300.0h5.2M1372.0 358.1h5.2M1373.6 375.7h5.2M1375.2 342.5h5.2M1376.8 366.6h5.2M1378.4 378.2h5.2M1380.0 383.6h5.2M1381.7 365.9h5.2M1383.3 352.2h5.2M1384.9 434.0h5.2M1386.5 418.0h5.2M1388.1 434.3h5.2M1389.7 454.1h5.2M1391.4 472.0h5.2M1393.0 453.9h5.2M1394.6 357.7h5.2M1396.2 408.1h5.2M1397.8 410.6h5.2M1399.4 436.6h5.2M1401.1 361.4h5.2M1402.7 451.6h5.2M1404.3 499.4h5.2M1405.9 366.1h5.2M1407.5 418.3h5.2M1409.1 401.7h5.2M1410.8 423.4h5.2M1412.4 466.9h5.2M1414.0 447.3h5.2M1415.6 416.8h5.2M1417.2 395.6h5.2M1418.8 363.3h5.2M1420.5 426.7h5.2M1422.1 383.5h5.2M1423.7 430.5h5.2M1425.3 341.0h5.2M1426.9 333.6h5.2M1428.5 319.4h5.2M1430.2 249.9h5.2M1431.8 275.2h5.2M1433.4 344.2h5.2M1435.0 225.9h5.2M1436.6 277.5h5.2M1438.2 270.6h5.2M1439.9 287.6h5.2M1441.5 282.4h5.2M1443.1 394.5h5.2M1444.7 342.1h5.2M1446.3 298.3h5.2M1447.9 364.6h5.2M1449.6 365.2h5.2M1451.2 416.3h5.2M1452.8 372.3h5.2M1454.4 407.1h5.2M1456.0 437.4h5.2M1457.6 402.0h5.2M1459.3 356.4h5.2M1460.9 433.3h5.2M1462.5 478.2h5.2M1464.1 414.9h5.2M1465.7 398.2h5.2M1467.3 434.9h5.2M1469.0 358.0h5.2M1470.6 415.9h5.2M1472.2 403.9h5.2M1473.8 377.0h5.2M1475.4 378.9h5.2M1477.0 472.5h5.2M1478.7 441.2h5.2M1480.3 436.1h5.2M1481.9 421.8h5.2M1483.5 353.3h5.2M1485.1 435.8h5.2M1486.7 401.4h5.2M1488.4 363.8h5.2M1490.0 360.6h5.2M1491.6 379.1h5.2M1493.2 342.8h5.2M1494.8 368.6h5.2M1496.4 421.5h5.2M1498.1 292.5h5.2M1499.7 357.2h5.2M1501.3 375.8h5.2M1502.9 232.8h5.2M1504.5 326.0h5.2M1506.1 315.6h5.2M1507.8 333.2h5.2M1509.4 273.5h5.2M1511.0 330.1h5.2M1512.6 308.1h5.2M1514.2 290.8h5.2M1515.8 285.3h5.2M1517.5 348.0h5.2M1519.1 355.2h5.2M1520.7 334.9h5.2M1522.3 391.7h5.2M1523.9 341.1h5.2M1525.5 388.5h5.2M1527.2 416.2h5.2M1528.8 399.3h5.2M1530.4 403.1h5.2M1532.0 388.0h5.2M1533.6 429.5h5.2M1535.2 424.2h5.2M1536.9 403.0h5.2M1538.5 413.5h5.2M1540.1 494.1h5.2M1541.7 413.2h5.2M1543.3 474.8h5.2M1544.9 480.6h5.2M1546.6 394.9h5.2M1548.2 496.6h5.2M1549.8 403.2h5.2M1551.4 420.9h5.2M1553.0 461.9h5.2M1554.6 389.7h5.2M1556.3 453.0h5.2M1557.9 412.7h5.2M1559.5 419.1h5.2M1561.1 412.9h5.2M1562.7 369.9h5.2M1564.3 407.1h5.2M1566.0 397.8h5.2M1567.6 433.5h5.2M1569.2 392.4h5.2M1570.8 344.2h5.2M1572.4 258.5h5.2M1574.0 292.6h5.2M1575.7 345.8h5.2M1577.3 319.9h5.2M1578.9 229.8h5.2M1580.5 256.7h5.2M1582.1 299.2h5.2M1583.7 315.4h5.2M1585.4 303.4h5.2M1587.0 361.6h5.2M1588.6 264.4h5.2M1590.2 297.3h5.2M1591.8 308.0h5.2M1593.4 348.6h5.2M1595.1 419.9h5.2M1596.7 435.0h5.2M1598.3 423.3h5.2M1599.9 391.6h5.2M1601.5 426.4h5.2M1603.1 396.8h5.2M1604.7 435.1h5.2M1606.4 420.4h5.2M1608.0 400.6h5.2M1609.6 489.8h5.2M1611.2 421.1h5.2M1612.8 425.3h5.2M1614.4 399.6h5.2M1616.1 415.8h5.2M1617.7 421.0h5.2M1619.3 403.1h5.2M1620.9 400.4h5.2M1622.5 425.6h5.2M1624.1 432.0h5.2M1625.8 393.4h5.2M1627.4 426.3h5.2M1629.0 481.2h5.2M1630.6 444.8h5.2M1632.2 336.4h5.2M1633.8 407.8h5.2M1635.5 395.0h5.2M1637.1 395.1h5.2M1638.7 395.8h5.2M1640.3 375.7h5.2M1641.9 398.9h5.2M1643.5 338.8h5.2M1645.2 301.2h5.2M1646.8 301.3h5.2M1648.4 288.6h5.2M1650.0 304.3h5.2M1651.6 302.2h5.2M1653.2 220.4h5.2M1654.9 319.8h5.2M1656.5 314.3h5.2M1658.1 299.0h5.2M1659.7 313.5h5.2M1661.3 319.4h5.2M1662.9 265.8h5.2M1664.6 304.8h5.2M1666.2 421.8h5.2M1667.8 352.9h5.2M1669.4 376.9h5.2M1671.0 394.6h5.2M1672.6 430.2h5.2M1674.3 422.5h5.2M1675.9 476.1h5.2M1677.5 453.2h5.2M1679.1 383.9h5.2M1680.7 414.4h5.2M1682.3 445.2h5.2M1684.0 407.5h5.2M1685.6 419.8h5.2M1687.2 419.5h5.2M1688.8 417.3h5.2M1690.4 402.8h5.2M1692.0 412.2h5.2M1693.7 490.4h5.2M1695.3 415.1h5.2M1696.9 441.5h5.2M1698.5 441.2h5.2M1700.1 398.4h5.2M1701.7 406.3h5.2M1703.4 434.3h5.2M1705.0 386.9h5.2M1706.6 406.8h5.2M1708.2 370.9h5.2M1709.8 363.1h5.2M1711.4 357.3h5.2M1713.1 350.7h5.2M1714.7 303.7h5.2M1716.3 375.7h5.2M1717.9 335.3h5.2M1719.5 312.2h5.2M1721.1 343.7h5.2M1722.8 308.8h5.2M1724.4 312.5h5.2M1726.0 246.2h5.2M1727.6 283.1h5.2M1729.2 279.8h5.2M1730.8 266.9h5.2M1732.5 279.0h5.2M1734.1 303.9h5.2M1735.7 293.8h5.2M1737.3 371.5h5.2M1738.9 371.0h5.2M1740.5 296.7h5.2M1742.2 440.0h5.2M1743.8 355.7h5.2M1745.4 418.9h5.2M1747.0 363.5h5.2M1748.6 387.8h5.2M1750.2 480.5h5.2M1751.9 430.3h5.2M1753.5 364.6h5.2M1755.1 384.1h5.2M1756.7 454.7h5.2M1758.3 436.4h5.2M1759.9 406.4h5.2M1761.6 491.3h5.2M1763.2 458.2h5.2M1764.8 479.1h5.2M1766.4 417.1h5.2M1768.0 430.0h5.2M1769.6 349.4h5.2M1771.3 389.7h5.2M1772.9 355.0h5.2M1774.5 413.9h5.2M1776.1 406.3h5.2M1777.7 420.3h5.2M1779.3 338.9h5.2M1781.0 366.8h5.2M1782.6 358.9h5.2M1784.2 365.2h5.2M1785.8 367.4h5.2M1787.4 288.7h5.2M1789.0 281.2h5.2M1790.7 287.2h5.2M1792.3 361.1h5.2M1793.9 312.0h5.2M1795.5 325.0h5.2M1797.1 309.7h5.2M1798.7 239.2h5.2M1800.4 310.4h5.2M1802.0 333.7h5.2M1803.6 351.9h5.2M1805.2 322.7h5.2M1806.8 335.6h5.2M1808.4 332.3h5.2M1810.1 338.4h5.2M1811.7 330.9h5.2M1813.3 384.7h5.2M1814.9 390.9h5.2M1816.5 377.7h5.2M1818.1 389.7h5.2M1819.8 371.5h5.2M1821.4 447.7h5.2M1823.0 341.9h5.2M1824.6 449.9h5.2M1826.2 409.5h5.2M1827.8 409.5h5.2M1829.5 398.6h5.2M1831.1 422.5h5.2M1832.7 405.7h5.2M1834.3 374.4h5.2M1835.9 351.1h5.2M1837.5 407.0h5.2M1839.2 425.1h5.2M1840.8 380.6h5.2M1842.4 370.0h5.2M1844.0 404.5h5.2M1845.6 390.0h5.2M1847.2 433.5h5.2M1848.9 413.7h5.2M1850.5 361.3h5.2M1852.1 400.9h5.2M1853.7 357.5h5.2M1855.3 326.9h5.2M1856.9 338.6h5.2M1858.6 295.6h5.2M1860.2 287.3h5.2M1861.8 263.6h5.2M1863.4 336.2h5.2M1865.0 342.6h5.2M1866.6 283.2h5.2M1868.3 355.6h5.2M1869.9 242.7h5.2M1871.5 244.5h5.2M1873.1 305.6h5.2M1874.7 262.3h5.2M1876.3 289.1h5.2M1878.0 381.4h5.2M1879.6 323.5h5.2M1881.2 359.5h5.2M1882.8 400.3h5.2M1884.4 368.1h5.2M1886.0 445.6h5.2M1887.6 429.9h5.2M1889.3 406.6h5.2M1890.9 329.0h5.2M1892.5 396.6h5.2M1894.1 432.0h5.2M1895.7 452.9h5.2M1897.3 395.8h5.2M1899.0 388.1h5.2M1900.6 485.7h5.2M1902.2 463.4h5.2M1903.8 435.2h5.2M1905.4 475.8h5.2M1907.0 418.0h5.2M1908.7 349.3h5.2M1910.3 422.7h5.2M1911.9 394.2h5.2M1913.5 440.8h5.2M1915.1 419.6h5.2M1916.7 416.6h5.2M1918.4 424.1h5.2M1920.0 392.7h5.2M1921.6 392.5h5.2M1923.2 383.9h5.2M1924.8 396.8h5.2M1926.4 311.7h5.2M1928.1 337.5h5.2M1929.7 320.6h5.2M1931.3 292.8h5.2M1932.9 330.8h5.2M1934.5 335.8h5.2M1936.1 293.0h5.2M1937.8 239.3h5.2M1939.4 259.0h5.2M1941.0 373.4h5.2M1942.6 263.6h5.2M1944.2 323.2h5.2M1945.8 275.6h5.2M1947.5 306.7h5.2M1949.1 289.8h5.2M1950.7 258.5h5.2M1952.3 306.2h5.2M1953.9 346.0h5.2M1955.5 364.0h5.2M1957.2 395.9h5.2M1958.8 388.7h5.2M1960.4 362.4h5.2M1962.0 407.4h5.2M1963.6 393.3h5.2M1965.2 406.7h5.2M1966.9 466.7h5.2M1968.5 399.7h5.2M1970.1 385.9h5.2M1971.7 427.6h5.2M1973.3 388.4h5.2M1974.9 433.2h5.2M1976.6 396.9h5.2M1978.2 415.6h5.2M1979.8 380.0h5.2M1981.4 411.0h5.2M1983.0 379.7h5.2M1984.6 423.9h5.2M1986.3 431.0h5.2M1987.9 369.0h5.2M1989.5 417.7h5.2M1991.1 420.0h5.2M1992.7 355.8h5.2M1994.3 381.7h5.2M1996.0 343.6h5.2M1997.6 299.5h5.2M1999.2 397.3h5.2M2000.8 341.3h5.2M2002.4 270.4h5.2M2004.0 307.5h5.2M2005.7 308.6h5.2M2007.3 308.4h5.2M2008.9 290.5h5.2M2010.5 274.4h5.2M2012.1 310.8h5.2M2013.7 272.7h5.2M2015.4 326.0h5.2M2017.0 313.2h5.2M2018.6 360.7h5.2M2020.2 250.1h5.2M2021.8 312.3h5.2M2023.4 346.5h5.2M2025.1 341.8h5.2M2026.7 326.6h5.2M2028.3 376.2h5.2M2029.9 379.5h5.2M2031.5 342.5h5.2M2033.1 356.5h5.2M2034.8 433.9h5.2M2036.4 402.1h5.2M2038.0 420.2h5.2M2039.6 369.2h5.2M2041.2 424.3h5.2M2042.8 342.2h5.2M2044.5 425.5h5.2M2046.1 375.0h5.2M2047.7 455.8h5.2M2049.3 391.0h5.2M2050.9 447.2h5.2M2052.5 376.1h5.2M2054.2 433.0h5.2M2055.8 409.7h5.2M2057.4 344.7h5.2M2059.0 418.5h5.2M2060.6 390.5h5.2M2062.2 404.8h5.2M2063.9 361.4h5.2M2065.5 390.3h5.2M2067.1 353.0h5.2M2068.7 373.0h5.2M2070.3 392.0h5.2M2071.9 381.6h5.2M2073.6 377.1h5.2M2075.2 336.2h5.2M2076.8 336.7h5.2M2078.4 297.3h5.2M2080.0 310.6h5.2M2081.6 316.5h5.2M2083.3 275.1h5.2M2084.9 278.4h5.2M2086.5 200.7h5.2M2088.1 324.2h5.2M2089.7 300.8h5.2M2091.3 273.7h5.2M2093.0 294.8h5.2M2094.6 311.2h5.2M2096.2 327.1h5.2M2097.8 352.8h5.2M2099.4 320.7h5.2M2101.0 388.4h5.2M2102.7 369.2h5.2M2104.3 436.7h5.2M2105.9 320.1h5.2M2107.5 426.1h5.2M2109.1 395.7h5.2M2110.7 411.7h5.2M2112.4 374.7h5.2M2114.0 419.0h5.2M2115.6 400.3h5.2M2117.2 426.3h5.2M2118.8 440.6h5.2M2120.4 485.1h5.2M2122.1 380.5h5.2M2123.7 405.4h5.2M2125.3 448.0h5.2M2126.9 440.8h5.2M2128.5 415.4h5.2M2130.1 422.5h5.2M2131.8 337.3h5.2M2133.4 342.6h5.2M2135.0 397.9h5.2M2136.6 408.1h5.2M2138.2 371.8h5.2M2139.8 379.5h5.2M2141.5 387.3h5.2M2143.1 343.3h5.2M2144.7 339.6h5.2M2146.3 339.4h5.2M2147.9 294.4h5.2M2149.5 347.7h5.2M2151.2 261.1h5.2M2152.8 309.4h5.2M2154.4 304.9h5.2M2156.0 321.5h5.2M2157.6 257.6h5.2M2159.2 282.3h5.2M2160.9 274.4h5.2M2162.5 312.0h5.2M2164.1 327.0h5.2M2165.7 338.4h5.2M2167.3 377.5h5.2M2168.9 362.2h5.2M2170.5 300.6h5.2M2172.2 300.6h5.2M2173.8 375.3h5.2M2175.4 359.0h5.2M2177.0 357.3h5.2M2178.6 447.7h5.2M2180.2 381.0h5.2M2181.9 433.7h5.2M2183.5 427.5h5.2M2185.1 395.8h5.2M2186.7 415.2h5.2M2188.3 425.8h5.2M2189.9 411.8h5.2M2191.6 428.5h5.2M2193.2 453.6h5.2M2194.8 408.0h5.2M2196.4 378.9h5.2M2198.0 422.4h5.2M2199.6 392.8h5.2M2201.3 445.3h5.2M2202.9 389.2h5.2M2204.5 397.1h5.2M2206.1 419.6h5.2M2207.7 397.2h5.2M2209.3 421.4h5.2M2211.0 383.9h5.2M2212.6 373.3h5.2M2214.2 381.2h5.2M2215.8 340.2h5.2M2217.4 369.3h5.2M2219.0 348.3h5.2M2220.7 341.6h5.2M2222.3 309.7h5.2M2223.9 333.5h5.2M2225.5 345.6h5.2M2227.1 230.8h5.2M2228.7 269.0h5.2M2230.4 250.4h5.2M2232.0 304.7h5.2M2233.6 295.4h5.2M2235.2 277.4h5.2M2236.8 319.3h5.2M2238.4 301.3h5.2M2240.1 310.1h5.2M2241.7 302.9h5.2M2243.3 364.1h5.2M2244.9 343.4h5.2M2246.5 387.0h5.2M2248.1 317.9h5.2M2249.8 367.3h5.2M2251.4 339.9h5.2M2253.0 417.9h5.2M2254.6 384.4h5.2M2256.2 380.4h5.2M2257.8 417.1h5.2M2259.5 476.1h5.2M2261.1 347.9h5.2M2262.7 381.6h5.2M2264.3 446.0h5.2M2265.9 445.6h5.2M2267.5 397.0h5.2M2269.2 428.1h5.2M2270.8 447.3h5.2M2272.4 427.8h5.2M2274.0 390.1h5.2M2275.6 370.6h5.2M2277.2 387.5h5.2M2278.9 332.8h5.2M2280.5 359.5h5.2M2282.1 405.4h5.2M2283.7 346.3h5.2M2285.3 384.2h5.2M2286.9 363.0h5.2M2288.6 343.5h5.2M2290.2 314.2h5.2M2291.8 293.1h5.2M2293.4 311.9h5.2M2295.0 347.2h5.2M2296.6 360.5h5.2M2298.3 308.7h5.2M2299.9 285.3h5.2M2301.5 276.6h5.2M2303.1 256.9h5.2M2304.7 243.2h5.2M2306.3 294.0h5.2M2308.0 318.4h5.2M2309.6 301.7h5.2M2311.2 308.2h5.2M2312.8 332.0h5.2M2314.4 314.1h5.2M2316.0 368.6h5.2M2317.7 402.7h5.2M2319.3 363.3h5.2M2320.9 341.7h5.2M2322.5 410.1h5.2M2324.1 345.3h5.2M2325.7 351.9h5.2M2327.4 398.2h5.2M2329.0 436.2h5.2M2330.6 412.7h5.2M2332.2 428.5h5.2M2333.8 390.3h5.2M2335.4 446.4h5.2M2337.1 390.2h5.2M2338.7 402.4h5.2M2340.3 410.6h5.2M2341.9 377.1h5.2M2343.5 458.3h5.2M2345.1 361.8h5.2M2346.8 467.7h5.2M2348.4 375.6h5.2M2350.0 459.4h5.2M2351.6 460.0h5.2M2353.2 390.0h5.2M2354.8 332.3h5.2M2356.5 357.2h5.2M2358.1 412.5h5.2M2359.7 327.9h5.2M2361.3 320.9h5.2M2362.9 270.3h5.2M2364.5 290.2h5.2M2366.2 253.6h5.2M2367.8 283.4h5.2M2369.4 213.0h5.2M2371.0 315.0h5.2M2372.6 251.4h5.2M2374.2 219.0h5.2M2375.9 276.1h5.2M2377.5 329.2h5.2M2379.1 220.6h5.2M2380.7 349.4h5.2M2382.3 289.2h5.2" stroke="#000" stroke-width="5.2"/>
<path d="M218.6 350.6l1.5 3.8 1.5 5.2 1.5 6.4 1.5 7.4 1.4 8 1.5 8.4 1.5 8.5 1.5 8.4 1.5 8.1 1.5 7.5 1.5 6.8 1.5 6.1 1.5 5.2 1.4 4.4 1.5 3.6 1.5 2.8 1.5 2.2 1.5 1.7 1.5 1.3 1.5 .9 1.5 .7 1.5 .5 1.4 .2 1.5 0 1.5-.3 1.5-.6 1.5-1.2 1.5-1.6 1.5-2.4 1.5-3.2 1.5-4 1.5-5 1.4-5.9 1.5-6.7 1.5-7.6 1.5-8.2 1.5-8.7 1.5-8.9 1.5-8.9 1.5-8.6 1.5-8 1.4-7.2 1.5-6 1.5-4.8 1.5-3.2 1.5-1.6 1.5 0 1.5 1.8 1.5 3.3 1.5 4.7 1.4 6 1.5 7 1.5 7.8 1.5 8.3 1.5 8.6 1.5 8.4 1.5 8.3 1.5 7.7 1.5 7.1 1.4 6.3 1.5 5.5 1.5 4.7 1.5 3.8 1.5 3.1 1.5 2.5 1.5 1.9 1.5 1.4 1.5 1 1.4 .8 1.5 .5 1.5 .3 1.5 .1 1.5-.2 1.5-.5 1.5-.9 1.5-1.5 1.5-2.1 1.5-2.9 1.4-3.7 1.5-4.6 1.5-5.6 1.5-6.5 1.5-7.2 1.5-8 1.5-8.6 1.5-8.8 1.5-9 1.4-8.7 1.5-8.3 1.5-7.5 1.5-6.5 1.5-5.2 1.5-3.8 1.5-2.2 1.5-.5 1.5 1.1 1.4 2.8 1.5 4.2 1.5 5.6 1.5 6.7 1.5 7.6 1.5 8.1 1.5 8.5 1.5 8.5 1.5 8.3 1.4 8 1.5 7.3 1.5 6.6 1.5 5.8 1.5 5 1.5 4.1 1.5 3.4 1.5 2.6 1.5 2.1 1.4 1.6 1.5 1.1 1.5 .9 1.5 .6 1.5 .4 1.5 .1 1.5 0 1.5-.4 1.5-.8 1.5-1.3 1.4-1.8 1.5-2.6 1.5-3.4 1.5-4.3 1.5-5.3 1.5-6.1 1.5-7 1.5-7.8 1.5-8.3 1.4-8.8 1.5-9 1.5-8.8 1.5-8.5 1.5-7.8 1.5-6.8 1.5-5.7 1.5-4.3 1.5-2.8 1.4-1.1 1.5 .5 1.5 2.2 1.5 3.7 1.5 5.1 1.5 6.4 1.5 7.2 1.5 8 1.5 8.4 1.4 8.6 1.5 8.4 1.5 8.1 1.5 7.5 1.5 6.9 1.5 6.1 1.5 5.3 1.5 4.4 1.5 3.6 1.4 2.9 1.5 2.3 1.5 1.7 1.5 1.3 1.5 1 1.5 .6 1.5 .5 1.5 .3 1.5 0 1.5-.3 1.4-.6 1.5-1.1 1.5-1.6 1.5-2.4 1.5-3.1 1.5-4 1.5-4.8 1.5-5.9 1.5-6.7 1.4-7.5 1.5-8.2 1.5-8.6 1.5-8.9 1.5-8.9 1.5-8.7 1.5-8 1.5-7.3 1.5-6.1 1.4-4.8 1.5-3.4 1.5-1.7 1.5 0 1.5 1.6 1.5 3.2 1.5 4.6 1.5 6 1.5 6.9 1.4 7.8 1.5 8.3 1.5 8.5 1.5 8.5 1.5 8.2 1.5 7.8 1.5 7.1 1.5 6.4 1.5 5.5 1.4 4.8 1.5 3.9 1.5 3.1 1.5 2.5 1.5 1.9 1.5 1.5 1.5 1 1.5 .8 1.5 .5 1.5 .3 1.4 .2 1.5-.2 1.5-.5 1.5-.9 1.5-1.4 1.5-2.1 1.5-2.8 1.5-3.7 1.5-4.5 1.4-5.5 1.5-6.4 1.5-7.3 1.5-7.9 1.5-8.5 1.5-8.9 1.5-8.9 1.5-8.8 1.5-8.3 1.4-7.6 1.5-6.5 1.5-5.3 1.5-3.9 1.5-2.3 1.5-.6 1.5 1 1.5 2.6 1.5 4.2 1.4 5.5 1.5 6.6 1.5 7.5 1.5 8.1 1.5 8.5 1.5 8.5 1.5 8.4 1.5 7.9 1.5 7.4 1.4 6.7 1.5 5.8 1.5 5.1 1.5 4.1 1.5 3.5 1.5 2.7 1.5 2.1 1.5 1.6 1.5 1.1 1.5 .9 1.4 .6 1.5 .4 1.5 .2 1.5-.1 1.5-.3 1.5-.8 1.5-1.2 1.5-1.8 1.5-2.6 1.4-3.3 1.5-4.3 1.5-5.1 1.5-6.1 1.5-7 1.5-7.7 1.5-8.3 1.5-8.8 1.5-8.9 1.4-8.9 1.5-8.5 1.5-7.8 1.5-7 1.5-5.7 1.5-4.4 1.5-2.9 1.5-1.2 1.5 .4 1.4 2.1 1.5 3.6 1.5 5 1.5 6.3 1.5 7.2 1.5 8 1.5 8.3 1.5 8.6 1.5 8.4 1.4 8.1 1.5 7.6 1.5 7 1.5 6.1 1.5 5.3 1.5 4.5 1.5 3.7 1.5 2.9 1.5 2.3 1.5 1.8 1.4 1.3 1.5 1 1.5 .7 1.5 .5 1.5 .2 1.5 .1 1.5-.3 1.5-.6 1.5-1 1.4-1.6 1.5-2.3 1.5-3.1 1.5-3.9 1.5-4.8 1.5-5.8 1.5-6.6 1.5-7.5 1.5-8.1 1.4-8.7 1.5-8.9 1.5-8.9 1.5-8.7 1.5-8.1 1.5-7.3 1.5-6.2 1.5-4.9 1.5-3.4 1.4-1.8 1.5-.2 1.5 1.5 1.5 3.1 1.5 4.6 1.5 5.8 1.5 6.9 1.5 7.7 1.5 8.3 1.4 8.5 1.5 8.5 1.5 8.3 1.5 7.8 1.5 7.1 1.5 6.5 1.5 5.6 1.5 4.8 1.5 3.9 1.5 3.2 1.4 2.6 1.5 1.9 1.5 1.5 1.5 1 1.5 .8 1.5 .6 1.5 .3 1.5 .1 1.5-.1 1.4-.5 1.5-.8 1.5-1.4 1.5-2.1 1.5-2.7 1.5-3.6 1.5-4.5 1.5-5.5 1.5-6.3 1.4-7.2 1.5-7.9 1.5-8.5 1.5-8.8 1.5-9 1.5-8.8 1.5-8.3 1.5-7.6 1.5-6.6 1.4-5.4 1.5-4 1.5-2.4 1.5-.8 1.5 .9 1.5 2.6 1.5 4 1.5 5.5 1.5 6.5 1.4 7.5 1.5 8.1 1.5 8.4 1.5 8.6 1.5 8.3 1.5 8 1.5 7.4 1.5 6.7 1.5 6 1.5 5 1.4 4.3 1.5 3.4 1.5 2.8 1.5 2.1 1.5 1.6 1.5 1.3 1.5 .8 1.5 .7 1.5 .4 1.4 .2 1.5-.1 1.5-.3 1.5-.7 1.5-1.2 1.5-1.8 1.5-2.5 1.5-3.3 1.5-4.2 1.4-5.1 1.5-6 1.5-6.9 1.5-7.7 1.5-8.3 1.5-8.7 1.5-9 1.5-8.8 1.5-8.6 1.4-7.9 1.5-7 1.5-5.8 1.5-4.5 1.5-3 1.5-1.3 1.5 .3 1.5 2 1.5 3.5 1.4 5 1.5 6.1 1.5 7.2 1.5 7.9 1.5 8.4 1.5 8.5 1.5 8.5 1.5 8.1 1.5 7.6 1.5 7 1.4 6.2 1.5 5.4 1.5 4.5 1.5 3.8 1.5 2.9 1.5 2.4 1.5 1.8 1.5 1.3 1.5 1 1.4 .7 1.5 .5 1.5 .3 1.5 0 1.5-.2 1.5-.6 1.5-1 1.5-1.5 1.5-2.3 1.4-3 1.5-3.8 1.5-4.8 1.5-5.7 1.5-6.6 1.5-7.4 1.5-8.1 1.5-8.6 1.5-8.9 1.4-8.9 1.5-8.7 1.5-8.2 1.5-7.3 1.5-6.3 1.5-5 1.5-3.6 1.5-1.9 1.5-.3 1.4 1.4 1.5 3 1.5 4.5 1.5 5.8 1.5 6.8 1.5 7.7 1.5 8.2 1.5 8.5 1.5 8.6 1.5 8.2 1.4 7.9 1.5 7.2 1.5 6.5 1.5 5.6 1.5 4.9 1.5 4 1.5 3.2 1.5 2.6 1.5 2 1.4 1.5 1.5 1.1 1.5 .8 1.5 .5 1.5 .4 1.5 .1 1.5-.1 1.5-.4 1.5-.9 1.4-1.3 1.5-2 1.5-2.8 1.5-3.5 1.5-4.5 1.5-5.3 1.5-6.3 1.5-7.1 1.5-7.9 1.4-8.5 1.5-8.8 1.5-8.9 1.5-8.8 1.5-8.4 1.5-7.7 1.5-6.7 1.5-5.5 1.5-4 1.4-2.5 1.5-.9 1.5 .8 1.5 2.5 1.5 3.9 1.5 5.4 1.5 6.5 1.5 7.4 1.5 8 1.4 8.5 1.5 8.5 1.5 8.4 1.5 8 1.5 7.5 1.5 6.7 1.5 6 1.5 5.1 1.5 4.3 1.5 3.5 1.4 2.8 1.5 2.2 1.5 1.6 1.5 1.3 1.5 .9 1.5 .6 1.5 .4 1.5 .2 1.5 0 1.4-.3 1.5-.7 1.5-1.1 1.5-1.8 1.5-2.4 1.5-3.3 1.5-4.1 1.5-5.1 1.5-5.9 1.4-6.9 1.5-7.6 1.5-8.3 1.5-8.7 1.5-8.9 1.5-8.9 1.5-8.5 1.5-8 1.5-7.1 1.4-5.9 1.5-4.6 1.5-3.1 1.5-1.4 1.5 .2 1.5 1.9 1.5 3.4 1.5 4.9 1.5 6.1 1.4 7.1 1.5 7.9 1.5 8.3 1.5 8.5 1.5 8.5 1.5 8.2 1.5 7.6 1.5 7.1 1.5 6.2 1.5 5.4 1.4 4.6 1.5 3.8 1.5 3.1 1.5 2.3 1.5 1.9 1.5 1.3 1.5 1 1.5 .8 1.5 .5 1.4 .3 1.5 0 1.5-.2 1.5-.5 1.5-1 1.5-1.5 1.5-2.2 1.5-3 1.5-3.8 1.4-4.7 1.5-5.6 1.5-6.6 1.5-7.3 1.5-8.1 1.5-8.6 1.5-8.9 1.5-8.9 1.5-8.7 1.4-8.2 1.5-7.4 1.5-6.4 1.5-5.1 1.5-3.6 1.5-2 1.5-.4 1.5 1.3 1.5 2.9 1.4 4.4 1.5 5.7 1.5 6.7 1.5 7.7 1.5 8.2 1.5 8.5 1.5 8.5 1.5 8.3 1.5 7.9 1.5 7.2 1.4 6.5 1.5 5.8 1.5 4.9 1.5 4 1.5 3.3 1.5 2.6 1.5 2 1.5 1.5 1.5 1.2 1.4 .8 1.5 .6 1.5 .3 1.5 .2 1.5-.1 1.5-.4 1.5-.8 1.5-1.4 1.5-1.9 1.4-2.7 1.5-3.5 1.5-4.4 1.5-5.3 1.5-6.2 1.5-7.1 1.5-7.8 1.5-8.4 1.5-8.8 1.4-9 1.5-8.8 1.5-8.4 1.5-7.7 1.5-6.8 1.5-5.6 1.5-4.1 1.5-2.6 1.5-1 1.4 .7 1.5 2.3 1.5 3.9 1.5 5.3 1.5 6.4 1.5 7.3 1.5 8.1 1.5 8.4 1.5 8.5 1.5 8.4 1.4 8.1 1.5 7.5 1.5 6.8 1.5 6 1.5 5.2 1.5 4.3 1.5 3.6 1.5 2.8 1.5 2.2 1.4 1.7 1.5 1.3 1.5 .9 1.5 .7 1.5 .4 1.5 .2 1.5 0 1.5-.3 1.5-.6 1.4-1.2 1.5-1.7 1.5-2.4 1.5-3.2 1.5-4 1.5-5 1.5-5.9 1.5-6.8 1.5-7.6 1.4-8.2 1.5-8.7 1.5-8.9 1.5-8.9 1.5-8.6 1.5-8 1.5-7.2 1.5-6 1.5-4.7 1.4-3.1 1.5-1.6 1.5 .1 1.5 1.8 1.5 3.3 1.5 4.8 1.5 6 1.5 7.1 1.5 7.8 1.5 8.3 1.4 8.6 1.5 8.4 1.5 8.2 1.5 7.7 1.5 7.1 1.5 6.3 1.5 5.5 1.5 4.6 1.5 3.9 1.4 3.1 1.5 2.4 1.5 1.8 1.5 1.4 1.5 1.1 1.5 .7 1.5 .5 1.5 .3 1.5 .1 1.4-.2 1.5-.5 1.5-1 1.5-1.4 1.5-2.2 1.5-2.9 1.5-3.7 1.5-4.7 1.5-5.6 1.4-6.5 1.5-7.3 1.5-8 1.5-8.5 1.5-8.9 1.5-8.9 1.5-8.8 1.5-8.2 1.5-7.5 1.4-6.4 1.5-5.2 1.5-3.7 1.5-2.2 1.5-.5 1.5 1.2 1.5 2.8 1.5 4.3 1.5 5.6 1.5 6.8 1.4 7.5 1.5 8.2 1.5 8.5 1.5 8.5 1.5 8.3 1.5 7.9 1.5 7.3 1.5 6.6 1.5 5.8 1.4 4.9 1.5 4.2 1.5 3.3 1.5 2.6 1.5 2.1 1.5 1.5 1.5 1.2 1.5 .8 1.5 .6 1.4 .4 1.5 .2 1.5-.1 1.5-.4 1.5-.8 1.5-1.3 1.5-1.9 1.5-2.6 1.5-3.4 1.4-4.4 1.5-5.2 1.5-6.2 1.5-7 1.5-7.8 1.5-8.4 1.5-8.8 1.5-8.9 1.5-8.9 1.4-8.4 1.5-7.8 1.5-6.8 1.5-5.7 1.5-4.2 1.5-2.8 1.5-1 1.5 .6 1.5 2.2 1.5 3.8 1.4 5.2 1.5 6.3 1.5 7.3 1.5 8 1.5 8.4 1.5 8.6 1.5 8.4 1.5 8.1 1.5 7.5 1.4 6.8 1.5 6.1 1.5 5.2 1.5 4.4 1.5 3.7 1.5 2.8 1.5 2.3 1.5 1.7 1.5 1.3 1.4 .9 1.5 .7 1.5 .4 1.5 .3 1.5 0 1.5-.3 1.5-.6 1.5-1.1 1.5-1.7 1.4-2.3 1.5-3.2 1.5-4 1.5-4.9 1.5-5.8 1.5-6.8 1.5-7.5 1.5-8.2 1.5-8.7 1.4-8.9 1.5-8.9 1.5-8.6 1.5-8.1 1.5-7.2 1.5-6.1 1.5-4.7 1.5-3.3 1.5-1.7 1.5 0 1.4 1.7 1.5 3.2 1.5 4.7 1.5 6 1.5 7 1.5 7.8 1.5 8.3 1.5 8.5 1.5 8.5 1.4 8.2 1.5 7.7 1.5 7.2 1.5 6.3 1.5 5.5 1.5 4.7 1.5 3.9 1.5 3.2 1.5 2.4 1.4 1.9 1.5 1.4 1.5 1.1 1.5 .7 1.5 .6 1.5 .3 1.5 .1 1.5-.2 1.5-.5 1.4-.9 1.5-1.4 1.5-2.1 1.5-2.9 1.5-3.7 1.5-4.6 1.5-5.5 1.5-6.4 1.5-7.3 1.4-8 1.5-8.5 1.5-8.9 1.5-8.9 1.5-8.7 1.5-8.3 1.5-7.6 1.5-6.5 1.5-5.2 1.5-3.9 1.4-2.2 1.5-.6 1.5 1.1 1.5 2.7 1.5 4.2 1.5 5.5 1.5 6.7 1.5 7.5 1.5 8.1 1.4 8.5 1.5 8.5 1.5 8.4 1.5 7.9 1.5 7.4 1.5 6.6 1.5 5.8 1.5 5 1.5 4.2 1.4 3.4 1.5 2.7 1.5 2 1.5 1.6 1.5 1.2 1.5 .9 1.5 .6 1.5 .4 1.5 .1 1.4 0 1.5-.4 1.5-.8 1.5-1.2 1.5-1.9 1.5-2.5 1.5-3.4 1.5-4.3 1.5-5.2 1.4-6.1 1.5-7 1.5-7.7 1.5-8.4 1.5-8.7 1.5-9 1.5-8.8 1.5-8.5 1.5-7.8 1.5-6.9 1.4-5.8 1.5-4.3 1.5-2.8 1.5-1.2 1.5 .5 1.5 2.1 1.5 3.7 1.5 5.1 1.5 6.2 1.4 7.3 1.5 8 1.5 8.3 1.5 8.6 1.5 8.4 1.5 8.1 1.5 7.6 1.5 6.9 1.5 6.1 1.4 5.3 1.5 4.5 1.5 3.6 1.5 2.9 1.5 2.3 1.5 1.8 1.5 1.3 1.5 .9 1.5 .7 1.4 .5 1.5 .3 1.5 0 1.5-.3 1.5-.6 1.5-1 1.5-1.7 1.5-2.3 1.5-3.1 1.4-3.9 1.5-4.9 1.5-5.8 1.5-6.6 1.5-7.5 1.5-8.2 1.5-8.6 1.5-8.9 1.5-9 1.4-8.6 1.5-8.1 1.5-7.3 1.5-6.1 1.5-4.9 1.5-3.4 1.5-1.7 1.5-.1 1.5 1.5 1.5 3.2 1.4 4.6 1.5 5.8 1.5 7 1.5 7.7 1.5 8.3 1.5 8.5 1.5 8.5 1.5 8.3 1.5 7.7 1.4 7.2 1.5 6.4 1.5 5.6 1.5 4.7 1.5 4 1.5 3.1 1.5 2.5 1.5 2 1.5 1.4 1.4 1.1 1.5 .8 1.5 .5 1.5 .3 1.5 .2 1.5-.2 1.5-.5 1.5-.8 1.5-1.5 1.4-2 1.5-2.8 1.5-3.6 1.5-4.6 1.5-5.4 1.5-6.4 1.5-7.2 1.5-8 1.5-8.5 1.4-8.8 1.5-8.9 1.5-8.8 1.5-8.3 1.5-7.6 1.5-6.6 1.5-5.4 1.5-3.9 1.5-2.3 1.5-.7 1.4 .9 1.5 2.6 1.5 4.1 1.5 5.5 1.5 6.6 1.5 7.5 1.5 8.1 1.5 8.4 1.5 8.6 1.4 8.3 1.5 8 1.5 7.4 1.5 6.7 1.5 5.9 1.5 5 1.5 4.2 1.5 3.5 1.5 2.7 1.4 2.1 1.5 1.6 1.5 1.2 1.5 .9 1.5 .6 1.5 .4 1.5 .2 1.5 0 1.5-.4 1.4-.7 1.5-1.2 1.5-1.8 1.5-2.6 1.5-3.3 1.5-4.2 1.5-5.1 1.5-6.1 1.5-6.9 1.4-7.7 1.5-8.3 1.5-8.8 1.5-8.9 1.5-8.9 1.5-8.5 1.5-7.9 1.5-6.9 1.5-5.9 1.5-4.4 1.4-2.9 1.5-1.3 1.5 .4 1.5 2 1.5 3.6 1.5 5 1.5 6.2 1.5 7.2 1.5 7.9 1.4 8.4 1.5 8.5 1.5 8.5 1.5 8.1 1.5 7.6 1.5 7 1.5 6.1 1.5 5.4 1.5 4.5 1.4 3.7 1.5 3 1.5 2.3 1.5 1.8 1.5 1.3 1.5 1 1.5 .7 1.5 .5 1.5 .2 1.4 .1 1.5-.3 1.5-.6 1.5-1 1.5-1.6 1.5-2.2 1.5-3.1 1.5-3.8 1.5-4.9 1.4-5.7 1.5-6.6 1.5-7.4 1.5-8.2 1.5-8.6 1.5-8.9 1.5-8.9 1.5-8.7 1.5-8.1 1.5-7.3 1.4-6.3 1.5-4.9 1.5-3.5 1.5-1.9 1.5-.2 1.5 1.4 1.5 3.1 1.5 4.5 1.5 5.8 1.4 6.9 1.5 7.7 1.5 8.2 1.5 8.5 1.5 8.5 1.5 8.3 1.5 7.8 1.5 7.2 1.5 6.5 1.4 5.6 1.5 4.8 1.5 4 1.5 3.2 1.5 2.6 1.5 1.9 1.5 1.5 1.5 1.1 1.5 .8 1.4 .6 1.5 .3 1.5 .1 1.5-.1 1.5-.4 1.5-.9 1.5-1.4 1.5-2 1.5-2.7 1.4-3.6 1.5-4.5 1.5-5.4 1.5-6.3 1.5-7.2 1.5-7.9 1.5-8.4 1.5-8.8 1.5-9 1.5-8.8 1.4-8.3 1.5-7.7 1.5-6.6 1.5-5.5 1.5-4 1.5-2.5 1.5-.8 1.5 .9 1.5 2.5 1.4 4 1.5 5.4 1.5 6.5 1.5 7.4 1.5 8.1 1.5 8.5 1.5 8.5 1.5 8.4 1.5 8 1.4 7.4 1.5 6.7 1.5 6 1.5 5.1 1.5 4.3 1.5 3.4 1.5 2.8 1.5 2.2 1.5 1.6 1.4 1.2 1.5 .9 1.5 .7 1.5 .4 1.5 .2 1.5-.1 1.5-.3 1.5-.7 1.5-1.2 1.4-1.7 1.5-2.5 1.5-3.3 1.5-4.1 1.5-5.1 1.5-6 1.5-6.9 1.5-7.6 1.5-8.3 1.5-8.7 1.4-9 1.5-8.8 1.5-8.6 1.5-7.9 1.5-7.1 1.5-5.9 1.5-4.5 1.5-3 1.5-1.4 1.4 .3 1.5 1.9 1.5 3.5 1.5 4.9 1.5 6.1 1.5 7.2 1.5 7.9 1.5 8.3 1.5 8.5 1.4 8.5 1.5 8.2 1.5 7.6 1.5 7 1.5 6.2 1.5 5.4 1.5 4.6 1.5 3.7 1.5 3.1 1.4 2.3 1.5 1.8 1.5 1.4 1.5 1 1.5 .7 1.5 .5 1.5 .3 1.5 0 1.5-.2 1.4-.5 1.5-1 1.5-1.6 1.5-2.2 1.5-3 1.5-3.8 1.5-4.7 1.5-5.7 1.5-6.6 1.5-7.4 1.4-8 1.5-8.6 1.5-8.9 1.5-9 1.5-8.7 1.5-8.1 1.5-7.4 1.5-6.3 1.5-5.1 1.4-3.6 1.5-2 1.5-.3 1.5 1.4 1.5 2.9 1.5 4.4 1.5 5.8 1.5 6.8 1.5 7.7 1.4 8.2 1.5 8.5 1.5 8.5 1.5 8.3 1.5 7.8 1.5 7.3 1.5 6.5 1.5 5.7 1.5 4.8 1.4 4.1 1.5 3.2 1.5 2.6 1.5 2 1.5 1.5 1.5 1.1 1.5 .8 1.5 .6 1.5 .4 1.4 .1 1.5-.1 1.5-.4 1.5-.9 1.5-1.3 1.5-2 1.5-2.6 1.5-3.6 1.5-4.4 1.5-5.3 1.4-6.3 1.5-7.1 1.5-7.9 1.5-8.4 1.5-8.8 1.5-8.9 1.5-8.9 1.5-8.3 1.5-7.7 1.4-6.8 1.5-5.5 1.5-4.1 1.5-2.6 1.5-.9 1.5 .8 1.5 2.4 1.5 3.9 1.5 5.3 1.4 6.4 1.5 7.4 1.5 8.1 1.5 8.4 1.5 8.5 1.5 8.4 1.5 8.1 1.5 7.4 1.5 6.8 1.4 6 1.5 5.2 1.5 4.3 1.5 3.5 1.5 2.8 1.5 2.2 1.5 1.7 1.5 1.2 1.5 .9 1.4 .7 1.5 .4 1.5 .2 1.5 0 1.5-.3 1.5-.6 1.5-1.2 1.5-1.7 1.5-2.4 1.5-3.3 1.4-4.1 1.5-5 1.5-5.9 1.5-6.8 1.5-7.6 1.5-8.3 1.5-8.7 1.5-8.9 1.5-8.9 1.4-8.6 1.5-8 1.5-7.1 1.5-5.9 1.5-4.7 1.5-3.1 1.5-1.5 1.5 .2 1.5 1.8 1.4 3.4 1.5 4.8 1.5 6.1 1.5 7.1 1.5 7.8 1.5 8.3 1.5 8.6 1.5 8.4 1.5 8.2 1.4 7.7 1.5 7.1 1.5 6.2 1.5 5.5 1.5 4.6 1.5 3.8 1.5 3.1 1.5 2.4 1.5 1.8 1.4 1.4 1.5 1 1.5 .7 1.5 .6 1.5 .2 1.5 .1 1.5-.2 1.5-.5 1.5-1 1.5-1.5 1.4-2.1 1.5-3 1.5-3.7 1.5-4.7 1.5-5.6 1.5-6.6 1.5-7.3 1.5-8 1.5-8.6 1.4-8.9 1.5-8.9 1.5-8.7 1.5-8.2 1.5-7.5 1.5-6.4 1.5-5.1 1.5-3.7 1.5-2.1 1.4-.4 1.5 1.2 1.5 2.9 1.5 4.3 1.5 5.7 1.5 6.7 1.5 7.6 1.5 8.2 1.5 8.5 1.4 8.5 1.5 8.3 1.5 7.9 1.5 7.3 1.5 6.6 1.5 5.7 1.5 4.9 1.5 4.1 1.5 3.3 1.4 2.6 1.5 2.1 1.5 1.5 1.5 1.1 1.5 .9 1.5 .6 1.5 .3 1.5 .2 1.5-.1 1.5-.4 1.4-.8 1.5-1.3 1.5-1.9 1.5-2.7 1.5-3.4 1.5-4.4 1.5-5.3 1.5-6.2 1.5-7 1.4-7.9 1.5-8.4 1.5-8.7 1.5-9 1.5-8.8 1.5-8.4 1.5-7.8 1.5-6.8 1.5-5.6 1.4-4.2 1.5-2.7 1.5-1 1.5 .6 1.5 2.3" stroke="#4e9a62" stroke-width="3.3" fill="none"/><path d="M218.6 350.6l1.5 3.8 1.5 5.2 1.5 6.4 1.5 7.4 1.4 8 1.5 8.4 1.5 8.5 1.5 8.4 1.5 8.1 1.5 7.5 1.5 6.8 1.5 6.1 1.5 5.2 1.4 4.4 1.5 3.6 1.5 2.8 1.5 2.2 1.5 1.7 1.5 1.3 1.5 .9 1.5 .7 1.5 .5 1.4 .2 1.5 0 1.5-.3 1.5-.6 1.5-1.2 1.5-1.6 1.5-2.4 1.5-3.2 1.5-4 1.5-5 1.4-5.9 1.5-6.7 1.5-7.6 1.5-8.2 1.5-8.7 1.5-8.9 1.5-8.9 1.5-8.6 1.5-8 1.4-7.2 1.5-6 1.5-4.8 1.5-3.2 1.5-1.6 1.5 0 1.5 1.8 1.5 3.3 1.5 4.7 1.4 6 1.5 7 1.5 7.8 1.5 8.3 1.5 8.6 1.5 8.4 1.5 8.3 1.5 7.7 1.5 7.1 1.4 6.3 1.5 5.5 1.5 4.7 1.5 3.8 1.5 3.1 1.5 2.5 1.5 1.9 1.5 1.4 1.5 1 1.4 .8 1.5 .5 1.5 .3 1.5 .1 1.5-.2 1.5-.5 1.5-.9 1.5-1.5 1.5-2.1 1.5-2.9 1.4-3.7 1.5-4.6 1.5-5.6 1.5-6.5 1.5-7.2 1.5-8 1.5-8.6 1.5-8.8 1.5-9 1.4-8.7 1.5-8.3 1.5-7.5 1.5-6.5 1.5-5.2 1.5-3.8 1.5-2.2 1.5-.5 1.5 1.1 1.4 2.8 1.5 4.2 1.5 5.6 1.5 6.7 1.5 7.6 1.5 8.1 1.5 8.5 1.5 8.5 1.5 8.3 1.4 8 1.5 7.3 1.5 6.6 1.5 5.8 1.5 5 1.5 4.1 1.5 3.4 1.5 2.6 1.5 2.1 1.4 1.6 1.5 1.1 1.5 .9 1.5 .6 1.5 .4 1.5 .1 1.5 0 1.5-.4 1.5-.8 1.5-1.3 1.4-1.8 1.5-2.6 1.5-3.4 1.5-4.3 1.5-5.3 1.5-6.1 1.5-7 1.5-7.8 1.5-8.3 1.4-8.8 1.5-9 1.5-8.8 1.5-8.5 1.5-7.8 1.5-6.8 1.5-5.7 1.5-4.3 1.5-2.8 1.4-1.1 1.5 .5 1.5 2.2 1.5 3.7 1.5 5.1 1.5 6.4 1.5 7.2 1.5 8 1.5 8.4 1.4 8.6 1.5 8.4 1.5 8.1 1.5 7.5 1.5 6.9 1.5 6.1 1.5 5.3 1.5 4.4 1.5 3.6 1.4 2.9 1.5 2.3 1.5 1.7 1.5 1.3 1.5 1 1.5 .6 1.5 .5 1.5 .3 1.5 0 1.5-.3 1.4-.6 1.5-1.1 1.5-1.6 1.5-2.4 1.5-3.1 1.5-4 1.5-4.8 1.5-5.9 1.5-6.7 1.4-7.5 1.5-8.2 1.5-8.6 1.5-8.9 1.5-8.9 1.5-8.7 1.5-8 1.5-7.3 1.5-6.1 1.4-4.8 1.5-3.4 1.5-1.7 1.5 0 1.5 1.6 1.5 3.2 1.5 4.6 1.5 6 1.5 6.9 1.4 7.8 1.5 8.3 1.5 8.5 1.5 8.5 1.5 8.2 1.5 7.8 1.5 7.1 1.5 6.4 1.5 5.5 1.4 4.8 1.5 3.9 1.5 3.1 1.5 2.5 1.5 1.9 1.5 1.5 1.5 1 1.5 .8 1.5 .5 1.5 .3 1.4 .2 1.5-.2 1.5-.5 1.5-.9 1.5-1.4 1.5-2.1 1.5-2.8 1.5-3.7 1.5-4.5 1.4-5.5 1.5-6.4 1.5-7.3 1.5-7.9 1.5-8.5 1.5-8.9 1.5-8.9 1.5-8.8 1.5-8.3 1.4-7.6 1.5-6.5 1.5-5.3 1.5-3.9 1.5-2.3 1.5-.6 1.5 1 1.5 2.6 1.5 4.2 1.4 5.5 1.5 6.6 1.5 7.5 1.5 8.1 1.5 8.5 1.5 8.5 1.5 8.4 1.5 7.9 1.5 7.4 1.4 6.7 1.5 5.8 1.5 5.1 1.5 4.1 1.5 3.5 1.5 2.7 1.5 2.1 1.5 1.6 1.5 1.1 1.5 .9 1.4 .6 1.5 .4 1.5 .2 1.5-.1 1.5-.3 1.5-.8 1.5-1.2 1.5-1.8 1.5-2.6 1.4-3.3 1.5-4.3 1.5-5.1 1.5-6.1 1.5-7 1.5-7.7 1.5-8.3 1.5-8.8 1.5-8.9 1.4-8.9 1.5-8.5 1.5-7.8 1.5-7 1.5-5.7 1.5-4.4 1.5-2.9 1.5-1.2 1.5 .4 1.4 2.1 1.5 3.6 1.5 5 1.5 6.3 1.5 7.2 1.5 8 1.5 8.3 1.5 8.6 1.5 8.4 1.4 8.1 1.5 7.6 1.5 7 1.5 6.1 1.5 5.3 1.5 4.5 1.5 3.7 1.5 2.9 1.5 2.3 1.5 1.8 1.4 1.3 1.5 1 1.5 .7 1.5 .5 1.5 .2 1.5 .1 1.5-.3 1.5-.6 1.5-1 1.4-1.6 1.5-2.3 1.5-3.1 1.5-3.9 1.5-4.8 1.5-5.8 1.5-6.6 1.5-7.5 1.5-8.1 1.4-8.7 1.5-8.9 1.5-8.9 1.5-8.7 1.5-8.1 1.5-7.3 1.5-6.2 1.5-4.9 1.5-3.4 1.4-1.8 1.5-.2 1.5 1.5 1.5 3.1 1.5 4.6 1.5 5.8 1.5 6.9 1.5 7.7 1.5 8.3 1.4 8.5 1.5 8.5 1.5 8.3 1.5 7.8 1.5 7.1 1.5 6.5 1.5 5.6 1.5 4.8 1.5 3.9 1.5 3.2 1.4 2.6 1.5 1.9 1.5 1.5 1.5 1 1.5 .8 1.5 .6 1.5 .3 1.5 .1 1.5-.1 1.4-.5 1.5-.8 1.5-1.4 1.5-2.1 1.5-2.7 1.5-3.6 1.5-4.5 1.5-5.5 1.5-6.3 1.4-7.2 1.5-7.9 1.5-8.5 1.5-8.8 1.5-9 1.5-8.8 1.5-8.3 1.5-7.6 1.5-6.6 1.4-5.4 1.5-4 1.5-2.4 1.5-.8 1.5 .9 1.5 2.6 1.5 4 1.5 5.5 1.5 6.5 1.4 7.5 1.5 8.1 1.5 8.4 1.5 8.6 1.5 8.3 1.5 8 1.5 7.4 1.5 6.7 1.5 6 1.5 5 1.4 4.3 1.5 3.4 1.5 2.8 1.5 2.1 1.5 1.6 1.5 1.3 1.5 .8 1.5 .7 1.5 .4 1.4 .2 1.5-.1 1.5-.3 1.5-.7 1.5-1.2 1.5-1.8 1.5-2.5 1.5-3.3 1.5-4.2 1.4-5.1 1.5-6 1.5-6.9 1.5-7.7 1.5-8.3 1.5-8.7 1.5-9 1.5-8.8 1.5-8.6 1.4-7.9 1.5-7 1.5-5.8 1.5-4.5 1.5-3 1.5-1.3 1.5 .3 1.5 2 1.5 3.5 1.4 5 1.5 6.1 1.5 7.2 1.5 7.9 1.5 8.4 1.5 8.5 1.5 8.5 1.5 8.1 1.5 7.6 1.5 7 1.4 6.2 1.5 5.4 1.5 4.5 1.5 3.8 1.5 2.9 1.5 2.4 1.5 1.8 1.5 1.3 1.5 1 1.4 .7 1.5 .5 1.5 .3 1.5 0 1.5-.2 1.5-.6 1.5-1 1.5-1.5 1.5-2.3 1.4-3 1.5-3.8 1.5-4.8 1.5-5.7 1.5-6.6 1.5-7.4 1.5-8.1 1.5-8.6 1.5-8.9 1.4-8.9 1.5-8.7 1.5-8.2 1.5-7.3 1.5-6.3 1.5-5 1.5-3.6 1.5-1.9 1.5-.3 1.4 1.4 1.5 3 1.5 4.5 1.5 5.8 1.5 6.8 1.5 7.7 1.5 8.2 1.5 8.5 1.5 8.6 1.5 8.2 1.4 7.9 1.5 7.2 1.5 6.5 1.5 5.6 1.5 4.9 1.5 4 1.5 3.2 1.5 2.6 1.5 2 1.4 1.5 1.5 1.1 1.5 .8 1.5 .5 1.5 .4 1.5 .1 1.5-.1 1.5-.4 1.5-.9 1.4-1.3 1.5-2 1.5-2.8 1.5-3.5 1.5-4.5 1.5-5.3 1.5-6.3 1.5-7.1 1.5-7.9 1.4-8.5 1.5-8.8 1.5-8.9 1.5-8.8 1.5-8.4 1.5-7.7 1.5-6.7 1.5-5.5 1.5-4 1.4-2.5 1.5-.9 1.5 .8 1.5 2.5 1.5 3.9 1.5 5.4 1.5 6.5 1.5 7.4 1.5 8 1.4 8.5 1.5 8.5 1.5 8.4 1.5 8 1.5 7.5 1.5 6.7 1.5 6 1.5 5.1 1.5 4.3 1.5 3.5 1.4 2.8 1.5 2.2 1.5 1.6 1.5 1.3 1.5 .9 1.5 .6 1.5 .4 1.5 .2 1.5 0 1.4-.3 1.5-.7 1.5-1.1 1.5-1.8 1.5-2.4 1.5-3.3 1.5-4.1 1.5-5.1 1.5-5.9 1.4-6.9 1.5-7.6 1.5-8.3 1.5-8.7 1.5-8.9 1.5-8.9 1.5-8.5 1.5-8 1.5-7.1 1.4-5.9 1.5-4.6 1.5-3.1 1.5-1.4 1.5 .2 1.5 1.9 1.5 3.4 1.5 4.9 1.5 6.1 1.4 7.1 1.5 7.9 1.5 8.3 1.5 8.5 1.5 8.5 1.5 8.2 1.5 7.6 1.5 7.1 1.5 6.2 1.5 5.4 1.4 4.6 1.5 3.8 1.5 3.1 1.5 2.3 1.5 1.9 1.5 1.3 1.5 1 1.5 .8 1.5 .5 1.4 .3 1.5 0 1.5-.2 1.5-.5 1.5-1 1.5-1.5 1.5-2.2 1.5-3 1.5-3.8 1.4-4.7 1.5-5.6 1.5-6.6 1.5-7.3 1.5-8.1 1.5-8.6 1.5-8.9 1.5-8.9 1.5-8.7 1.4-8.2 1.5-7.4 1.5-6.4 1.5-5.1 1.5-3.6 1.5-2 1.5-.4 1.5 1.3 1.5 2.9 1.4 4.4 1.5 5.7 1.5 6.7 1.5 7.7 1.5 8.2 1.5 8.5 1.5 8.5 1.5 8.3 1.5 7.9 1.5 7.2 1.4 6.5 1.5 5.8 1.5 4.9 1.5 4 1.5 3.3 1.5 2.6 1.5 2 1.5 1.5 1.5 1.2 1.4 .8 1.5 .6 1.5 .3 1.5 .2 1.5-.1 1.5-.4 1.5-.8 1.5-1.4 1.5-1.9 1.4-2.7 1.5-3.5 1.5-4.4 1.5-5.3 1.5-6.2 1.5-7.1 1.5-7.8 1.5-8.4 1.5-8.8 1.4-9 1.5-8.8 1.5-8.4 1.5-7.7 1.5-6.8 1.5-5.6 1.5-4.1 1.5-2.6 1.5-1 1.4 .7 1.5 2.3 1.5 3.9 1.5 5.3 1.5 6.4 1.5 7.3 1.5 8.1 1.5 8.4 1.5 8.5 1.5 8.4 1.4 8.1 1.5 7.5 1.5 6.8 1.5 6 1.5 5.2 1.5 4.3 1.5 3.6 1.5 2.8 1.5 2.2 1.4 1.7 1.5 1.3 1.5 .9 1.5 .7 1.5 .4 1.5 .2 1.5 0 1.5-.3 1.5-.6 1.4-1.2 1.5-1.7 1.5-2.4 1.5-3.2 1.5-4 1.5-5 1.5-5.9 1.5-6.8 1.5-7.6 1.4-8.2 1.5-8.7 1.5-8.9 1.5-8.9 1.5-8.6 1.5-8 1.5-7.2 1.5-6 1.5-4.7 1.4-3.1 1.5-1.6 1.5 .1 1.5 1.8 1.5 3.3 1.5 4.8 1.5 6 1.5 7.1 1.5 7.8 1.5 8.3 1.4 8.6 1.5 8.4 1.5 8.2 1.5 7.7 1.5 7.1 1.5 6.3 1.5 5.5 1.5 4.6 1.5 3.9 1.4 3.1 1.5 2.4 1.5 1.8 1.5 1.4 1.5 1.1 1.5 .7 1.5 .5 1.5 .3 1.5 .1 1.4-.2 1.5-.5 1.5-1 1.5-1.4 1.5-2.2 1.5-2.9 1.5-3.7 1.5-4.7 1.5-5.6 1.4-6.5 1.5-7.3 1.5-8 1.5-8.5 1.5-8.9 1.5-8.9 1.5-8.8 1.5-8.2 1.5-7.5 1.4-6.4 1.5-5.2 1.5-3.7 1.5-2.2 1.5-.5 1.5 1.2 1.5 2.8 1.5 4.3 1.5 5.6 1.5 6.8 1.4 7.5 1.5 8.2 1.5 8.5 1.5 8.5 1.5 8.3 1.5 7.9 1.5 7.3 1.5 6.6 1.5 5.8 1.4 4.9 1.5 4.2 1.5 3.3 1.5 2.6 1.5 2.1 1.5 1.5 1.5 1.2 1.5 .8 1.5 .6 1.4 .4 1.5 .2 1.5-.1 1.5-.4 1.5-.8 1.5-1.3 1.5-1.9 1.5-2.6 1.5-3.4 1.4-4.4 1.5-5.2 1.5-6.2 1.5-7 1.5-7.8 1.5-8.4 1.5-8.8 1.5-8.9 1.5-8.9 1.4-8.4 1.5-7.8 1.5-6.8 1.5-5.7 1.5-4.2 1.5-2.8 1.5-1 1.5 .6 1.5 2.2 1.5 3.8 1.4 5.2 1.5 6.3 1.5 7.3 1.5 8 1.5 8.4 1.5 8.6 1.5 8.4 1.5 8.1 1.5 7.5 1.4 6.8 1.5 6.1 1.5 5.2 1.5 4.4 1.5 3.7 1.5 2.8 1.5 2.3 1.5 1.7 1.5 1.3 1.4 .9 1.5 .7 1.5 .4 1.5 .3 1.5 0 1.5-.3 1.5-.6 1.5-1.1 1.5-1.7 1.4-2.3 1.5-3.2 1.5-4 1.5-4.9 1.5-5.8 1.5-6.8 1.5-7.5 1.5-8.2 1.5-8.7 1.4-8.9 1.5-8.9 1.5-8.6 1.5-8.1 1.5-7.2 1.5-6.1 1.5-4.7 1.5-3.3 1.5-1.7 1.5 0 1.4 1.7 1.5 3.2 1.5 4.7 1.5 6 1.5 7 1.5 7.8 1.5 8.3 1.5 8.5 1.5 8.5 1.4 8.2 1.5 7.7 1.5 7.2 1.5 6.3 1.5 5.5 1.5 4.7 1.5 3.9 1.5 3.2 1.5 2.4 1.4 1.9 1.5 1.4 1.5 1.1 1.5 .7 1.5 .6 1.5 .3 1.5 .1 1.5-.2 1.5-.5 1.4-.9 1.5-1.4 1.5-2.1 1.5-2.9 1.5-3.7 1.5-4.6 1.5-5.5 1.5-6.4 1.5-7.3 1.4-8 1.5-8.5 1.5-8.9 1.5-8.9 1.5-8.7 1.5-8.3 1.5-7.6 1.5-6.5 1.5-5.2 1.5-3.9 1.4-2.2 1.5-.6 1.5 1.1 1.5 2.7 1.5 4.2 1.5 5.5 1.5 6.7 1.5 7.5 1.5 8.1 1.4 8.5 1.5 8.5 1.5 8.4 1.5 7.9 1.5 7.4 1.5 6.6 1.5 5.8 1.5 5 1.5 4.2 1.4 3.4 1.5 2.7 1.5 2 1.5 1.6 1.5 1.2 1.5 .9 1.5 .6 1.5 .4 1.5 .1 1.4 0 1.5-.4 1.5-.8 1.5-1.2 1.5-1.9 1.5-2.5 1.5-3.4 1.5-4.3 1.5-5.2 1.4-6.1 1.5-7 1.5-7.7 1.5-8.4 1.5-8.7 1.5-9 1.5-8.8 1.5-8.5 1.5-7.8 1.5-6.9 1.4-5.8 1.5-4.3 1.5-2.8 1.5-1.2 1.5 .5 1.5 2.1 1.5 3.7 1.5 5.1 1.5 6.2 1.4 7.3 1.5 8 1.5 8.3 1.5 8.6 1.5 8.4 1.5 8.1 1.5 7.6 1.5 6.9 1.5 6.1 1.4 5.3 1.5 4.5 1.5 3.6 1.5 2.9 1.5 2.3 1.5 1.8 1.5 1.3 1.5 .9 1.5 .7 1.4 .5 1.5 .3 1.5 0 1.5-.3 1.5-.6 1.5-1 1.5-1.7 1.5-2.3 1.5-3.1 1.4-3.9 1.5-4.9 1.5-5.8 1.5-6.6 1.5-7.5 1.5-8.2 1.5-8.6 1.5-8.9 1.5-9 1.4-8.6 1.5-8.1 1.5-7.3 1.5-6.1 1.5-4.9 1.5-3.4 1.5-1.7 1.5-.1 1.5 1.5 1.5 3.2 1.4 4.6 1.5 5.8 1.5 7 1.5 7.7 1.5 8.3 1.5 8.5 1.5 8.5 1.5 8.3 1.5 7.7 1.4 7.2 1.5 6.4 1.5 5.6 1.5 4.7 1.5 4 1.5 3.1 1.5 2.5 1.5 2 1.5 1.4 1.4 1.1 1.5 .8 1.5 .5 1.5 .3 1.5 .2 1.5-.2 1.5-.5 1.5-.8 1.5-1.5 1.4-2 1.5-2.8 1.5-3.6 1.5-4.6 1.5-5.4 1.5-6.4 1.5-7.2 1.5-8 1.5-8.5 1.4-8.8 1.5-8.9 1.5-8.8 1.5-8.3 1.5-7.6 1.5-6.6 1.5-5.4 1.5-3.9 1.5-2.3 1.5-.7 1.4 .9 1.5 2.6 1.5 4.1 1.5 5.5 1.5 6.6 1.5 7.5 1.5 8.1 1.5 8.4 1.5 8.6 1.4 8.3 1.5 8 1.5 7.4 1.5 6.7 1.5 5.9 1.5 5 1.5 4.2 1.5 3.5 1.5 2.7 1.4 2.1 1.5 1.6 1.5 1.2 1.5 .9 1.5 .6 1.5 .4 1.5 .2 1.5 0 1.5-.4 1.4-.7 1.5-1.2 1.5-1.8 1.5-2.6 1.5-3.3 1.5-4.2 1.5-5.1 1.5-6.1 1.5-6.9 1.4-7.7 1.5-8.3 1.5-8.8 1.5-8.9 1.5-8.9 1.5-8.5 1.5-7.9 1.5-6.9 1.5-5.9 1.5-4.4 1.4-2.9 1.5-1.3 1.5 .4 1.5 2 1.5 3.6 1.5 5 1.5 6.2 1.5 7.2 1.5 7.9 1.4 8.4 1.5 8.5 1.5 8.5 1.5 8.1 1.5 7.6 1.5 7 1.5 6.1 1.5 5.4 1.5 4.5 1.4 3.7 1.5 3 1.5 2.3 1.5 1.8 1.5 1.3 1.5 1 1.5 .7 1.5 .5 1.5 .2 1.4 .1 1.5-.3 1.5-.6 1.5-1 1.5-1.6 1.5-2.2 1.5-3.1 1.5-3.8 1.5-4.9 1.4-5.7 1.5-6.6 1.5-7.4 1.5-8.2 1.5-8.6 1.5-8.9 1.5-8.9 1.5-8.7 1.5-8.1 1.5-7.3 1.4-6.3 1.5-4.9 1.5-3.5 1.5-1.9 1.5-.2 1.5 1.4 1.5 3.1 1.5 4.5 1.5 5.8 1.4 6.9 1.5 7.7 1.5 8.2 1.5 8.5 1.5 8.5 1.5 8.3 1.5 7.8 1.5 7.2 1.5 6.5 1.4 5.6 1.5 4.8 1.5 4 1.5 3.2 1.5 2.6 1.5 1.9 1.5 1.5 1.5 1.1 1.5 .8 1.4 .6 1.5 .3 1.5 .1 1.5-.1 1.5-.4 1.5-.9 1.5-1.4 1.5-2 1.5-2.7 1.4-3.6 1.5-4.5 1.5-5.4 1.5-6.3 1.5-7.2 1.5-7.9 1.5-8.4 1.5-8.8 1.5-9 1.5-8.8 1.4-8.3 1.5-7.7 1.5-6.6 1.5-5.5 1.5-4 1.5-2.5 1.5-.8 1.5 .9 1.5 2.5 1.4 4 1.5 5.4 1.5 6.5 1.5 7.4 1.5 8.1 1.5 8.5 1.5 8.5 1.5 8.4 1.5 8 1.4 7.4 1.5 6.7 1.5 6 1.5 5.1 1.5 4.3 1.5 3.4 1.5 2.8 1.5 2.2 1.5 1.6 1.4 1.2 1.5 .9 1.5 .7 1.5 .4 1.5 .2 1.5-.1 1.5-.3 1.5-.7 1.5-1.2 1.4-1.7 1.5-2.5 1.5-3.3 1.5-4.1 1.5-5.1 1.5-6 1.5-6.9 1.5-7.6 1.5-8.3 1.5-8.7 1.4-9 1.5-8.8 1.5-8.6 1.5-7.9 1.5-7.1 1.5-5.9 1.5-4.5 1.5-3 1.5-1.4 1.4 .3 1.5 1.9 1.5 3.5 1.5 4.9 1.5 6.1 1.5 7.2 1.5 7.9 1.5 8.3 1.5 8.5 1.4 8.5 1.5 8.2 1.5 7.6 1.5 7 1.5 6.2 1.5 5.4 1.5 4.6 1.5 3.7 1.5 3.1 1.4 2.3 1.5 1.8 1.5 1.4 1.5 1 1.5 .7 1.5 .5 1.5 .3 1.5 0 1.5-.2 1.4-.5 1.5-1 1.5-1.6 1.5-2.2 1.5-3 1.5-3.8 1.5-4.7 1.5-5.7 1.5-6.6 1.5-7.4 1.4-8 1.5-8.6 1.5-8.9 1.5-9 1.5-8.7 1.5-8.1 1.5-7.4 1.5-6.3 1.5-5.1 1.4-3.6 1.5-2 1.5-.3 1.5 1.4 1.5 2.9 1.5 4.4 1.5 5.8 1.5 6.8 1.5 7.7 1.4 8.2 1.5 8.5 1.5 8.5 1.5 8.3 1.5 7.8 1.5 7.3 1.5 6.5 1.5 5.7 1.5 4.8 1.4 4.1 1.5 3.2 1.5 2.6 1.5 2 1.5 1.5 1.5 1.1 1.5 .8 1.5 .6 1.5 .4 1.4 .1 1.5-.1 1.5-.4 1.5-.9 1.5-1.3 1.5-2 1.5-2.6 1.5-3.6 1.5-4.4 1.5-5.3 1.4-6.3 1.5-7.1 1.5-7.9 1.5-8.4 1.5-8.8 1.5-8.9 1.5-8.9 1.5-8.3 1.5-7.7 1.4-6.8 1.5-5.5 1.5-4.1 1.5-2.6 1.5-.9 1.5 .8 1.5 2.4 1.5 3.9 1.5 5.3 1.4 6.4 1.5 7.4 1.5 8.1 1.5 8.4 1.5 8.5 1.5 8.4 1.5 8.1 1.5 7.4 1.5 6.8 1.4 6 1.5 5.2 1.5 4.3 1.5 3.5 1.5 2.8 1.5 2.2 1.5 1.7 1.5 1.2 1.5 .9 1.4 .7 1.5 .4 1.5 .2 1.5 0 1.5-.3 1.5-.6 1.5-1.2 1.5-1.7 1.5-2.4 1.5-3.3 1.4-4.1 1.5-5 1.5-5.9 1.5-6.8 1.5-7.6 1.5-8.3 1.5-8.7 1.5-8.9 1.5-8.9 1.4-8.6 1.5-8 1.5-7.1 1.5-5.9 1.5-4.7 1.5-3.1 1.5-1.5 1.5 .2 1.5 1.8 1.4 3.4 1.5 4.8 1.5 6.1 1.5 7.1 1.5 7.8 1.5 8.3 1.5 8.6 1.5 8.4 1.5 8.2 1.4 7.7 1.5 7.1 1.5 6.2 1.5 5.5 1.5 4.6 1.5 3.8 1.5 3.1 1.5 2.4 1.5 1.8 1.4 1.4 1.5 1 1.5 .7 1.5 .6 1.5 .2 1.5 .1 1.5-.2 1.5-.5 1.5-1 1.5-1.5 1.4-2.1 1.5-3 1.5-3.7 1.5-4.7 1.5-5.6 1.5-6.6 1.5-7.3 1.5-8 1.5-8.6 1.4-8.9 1.5-8.9 1.5-8.7 1.5-8.2 1.5-7.5 1.5-6.4 1.5-5.1 1.5-3.7 1.5-2.1 1.4-.4 1.5 1.2 1.5 2.9 1.5 4.3 1.5 5.7 1.5 6.7 1.5 7.6 1.5 8.2 1.5 8.5 1.4 8.5 1.5 8.3 1.5 7.9 1.5 7.3 1.5 6.6 1.5 5.7 1.5 4.9 1.5 4.1 1.5 3.3 1.4 2.6 1.5 2.1 1.5 1.5 1.5 1.1 1.5 .9 1.5 .6 1.5 .3 1.5 .2 1.5-.1 1.5-.4 1.4-.8 1.5-1.3 1.5-1.9 1.5-2.7 1.5-3.4 1.5-4.4 1.5-5.3 1.5-6.2 1.5-7 1.4-7.9 1.5-8.4 1.5-8.7 1.5-9 1.5-8.8 1.5-8.4 1.5-7.8 1.5-6.8 1.5-5.6 1.4-4.2 1.5-2.7 1.5-1 1.5 .6 1.5 2.3" stroke="#006a1c" stroke-width="2.3" fill="none"/>
<path d="M218.6 416.3l2232.2-53.9" stroke="#a8a8ff" stroke-width="4" fill="none"/><path d="M218.6 414.3l2232.2-53.9" stroke="#0000ff" stroke-width="3.4" fill="none"/>
</g>
<rect x="429.4" y="245.5" width="19" height="23" fill="#a9a9a9"/><path d="M431.4 249.5v15M446.4 249.5v15" stroke="#585858" stroke-width="4"/><rect x="433.4" y="253.0" width="11" height="8" fill="#f29a9a"/><rect x="436.4" y="253.0" width="5" height="8" fill="#ff0d0d"/>
<rect x="496.4" y="197.1" width="19" height="23" fill="#a9a9a9"/><path d="M498.4 201.1v15M513.4 201.1v15" stroke="#585858" stroke-width="4"/><rect x="500.4" y="204.6" width="11" height="8" fill="#f29a9a"/><rect x="503.4" y="204.6" width="5" height="8" fill="#ff0d0d"/>
<rect x="591.5" y="311.3" width="19" height="23" fill="#a9a9a9"/><path d="M593.5 315.3v15M608.5 315.3v15" stroke="#585858" stroke-width="4"/><rect x="595.5" y="318.8" width="11" height="8" fill="#f29a9a"/><rect x="598.5" y="318.8" width="5" height="8" fill="#ff0d0d"/>
<rect x="790.9" y="249.0" width="19" height="23" fill="#a9a9a9"/><path d="M792.9 253.0v15M807.9 253.0v15" stroke="#585858" stroke-width="4"/><rect x="794.9" y="256.5" width="11" height="8" fill="#f29a9a"/><rect x="797.9" y="256.5" width="5" height="8" fill="#ff0d0d"/>
<rect x="864.4" y="233.7" width="19" height="23" fill="#a9a9a9"/><path d="M866.4 237.7v15M881.4 237.7v15" stroke="#585858" stroke-width="4"/><rect x="868.4" y="241.2" width="11" height="8" fill="#f29a9a"/><rect x="871.4" y="241.2" width="5" height="8" fill="#ff0d0d"/>
<rect x="218.6" y="59.2" width="2232.2" height="741.9" stroke="#606060" stroke-width="3.2" fill="none"/>
<text x="1333.5" y="134.3" class="tt" text-anchor="middle">CHD (29.2 yr)</text>
<rect x="1630.5" y="609.5" width="804.2" height="171.5" fill="#fff" stroke="#777" stroke-width="3"/>
<path d="M1649.3 643.8H1727.1" stroke="#8a8a8a" stroke-width="4"/><rect x="1685.2" y="640.8" width="6" height="6" fill="#000"/>
<text x="1743" y="657.3" class="lg" style="font-size:36.5px">ASL estimates from SALT data</text>
<path d="M1649.3 695H1727.1" stroke="#3c3cff" stroke-width="5"/>
<text x="1743" y="708.5" class="lg" style="font-size:36.5px">ASL trend: 3.52 ± 0.24 mm/yr</text>
<path d="M1649.3 745.8H1727.1" stroke="#0a8030" stroke-width="4.5"/>
<text x="1743" y="759.3" class="lg" style="font-size:36.5px">trend &amp; seasonal 11.3/2.2cm/ 15/ 26 days</text>
<path d="M226.0 1003.0v-25M226.0 1743.9v24M433.0 1003.0v-25M433.0 1743.9v24M639.9 1003.0v-25M639.9 1743.9v24M846.9 1003.0v-25M846.9 1743.9v24M1053.8 1003.0v-25M1053.8 1743.9v24M1260.8 1003.0v-25M1260.8 1743.9v24M1467.7 1003.0v-25M1467.7 1743.9v24M1674.7 1003.0v-25M1674.7 1743.9v24M1881.7 1003.0v-25M1881.7 1743.9v24M2088.6 1003.0v-25M2088.6 1743.9v24M2295.6 1003.0v-25M2295.6 1743.9v24M226.0 1743.9h-13M2450.8 1743.9h13M226.0 1730.4h-13M2450.8 1730.4h13M226.0 1717.0h-13M2450.8 1717.0h13M226.0 1703.5h-13M2450.8 1703.5h13M226.0 1690.0h-13M2450.8 1690.0h13M226.0 1676.5h-13M2450.8 1676.5h13M226.0 1663.1h-13M2450.8 1663.1h13M226.0 1649.6h-13M2450.8 1649.6h13M226.0 1636.1h-13M2450.8 1636.1h13M226.0 1622.7h-13M2450.8 1622.7h13M226.0 1609.2h-13M2450.8 1609.2h13M226.0 1595.7h-13M2450.8 1595.7h13M226.0 1582.2h-13M2450.8 1582.2h13M226.0 1568.8h-13M2450.8 1568.8h13M226.0 1555.3h-13M2450.8 1555.3h13M226.0 1541.8h-13M2450.8 1541.8h13M226.0 1528.4h-13M2450.8 1528.4h13M226.0 1514.9h-13M2450.8 1514.9h13M226.0 1501.4h-13M2450.8 1501.4h13M226.0 1488.0h-13M2450.8 1488.0h13M226.0 1474.5h-13M2450.8 1474.5h13M226.0 1461.0h-13M2450.8 1461.0h13M226.0 1447.5h-13M2450.8 1447.5h13M226.0 1434.1h-13M2450.8 1434.1h13M226.0 1420.6h-13M2450.8 1420.6h13M226.0 1407.1h-13M2450.8 1407.1h13M226.0 1393.7h-13M2450.8 1393.7h13M226.0 1380.2h-13M2450.8 1380.2h13M226.0 1366.7h-13M2450.8 1366.7h13M226.0 1353.2h-13M2450.8 1353.2h13M226.0 1339.8h-13M2450.8 1339.8h13M226.0 1326.3h-13M2450.8 1326.3h13M226.0 1312.8h-13M2450.8 1312.8h13M226.0 1299.4h-13M2450.8 1299.4h13M226.0 1285.9h-13M2450.8 1285.9h13M226.0 1272.4h-13M2450.8 1272.4h13M226.0 1258.9h-13M2450.8 1258.9h13M226.0 1245.5h-13M2450.8 1245.5h13M226.0 1232.0h-13M2450.8 1232.0h13M226.0 1218.5h-13M2450.8 1218.5h13M226.0 1205.1h-13M2450.8 1205.1h13M226.0 1191.6h-13M2450.8 1191.6h13M226.0 1178.1h-13M2450.8 1178.1h13M226.0 1164.7h-13M2450.8 1164.7h13M226.0 1151.2h-13M2450.8 1151.2h13M226.0 1137.7h-13M2450.8 1137.7h13M226.0 1124.2h-13M2450.8 1124.2h13M226.0 1110.8h-13M2450.8 1110.8h13M226.0 1097.3h-13M2450.8 1097.3h13M226.0 1083.8h-13M2450.8 1083.8h13M226.0 1070.4h-13M2450.8 1070.4h13M226.0 1056.9h-13M2450.8 1056.9h13M226.0 1043.4h-13M2450.8 1043.4h13M226.0 1029.9h-13M2450.8 1029.9h13M226.0 1016.5h-13M2450.8 1016.5h13M226.0 1003.0h-13M2450.8 1003.0h13M226.0 1743.9h-24M2450.8 1743.9h24M226.0 1609.2h-24M2450.8 1609.2h24M226.0 1474.5h-24M2450.8 1474.5h24M226.0 1339.8h-24M2450.8 1339.8h24M226.0 1205.1h-24M2450.8 1205.1h24M226.0 1070.4h-24M2450.8 1070.4h24" stroke="#606060" stroke-width="2.6" fill="none"/>
<path d="M226.0 1003.0v-13M226.0 1743.9v12M234.0 1003.0v-13M234.0 1743.9v12M241.9 1003.0v-13M241.9 1743.9v12M249.9 1003.0v-13M249.9 1743.9v12M257.8 1003.0v-13M257.8 1743.9v12M265.8 1003.0v-13M265.8 1743.9v12M273.8 1003.0v-13M273.8 1743.9v12M281.7 1003.0v-13M281.7 1743.9v12M289.7 1003.0v-13M289.7 1743.9v12M297.6 1003.0v-13M297.6 1743.9v12M305.6 1003.0v-13M305.6 1743.9v12M313.6 1003.0v-13M313.6 1743.9v12M321.5 1003.0v-13M321.5 1743.9v12M329.5 1003.0v-13M329.5 1743.9v12M337.4 1003.0v-13M337.4 1743.9v12M345.4 1003.0v-13M345.4 1743.9v12M353.4 1003.0v-13M353.4 1743.9v12M361.3 1003.0v-13M361.3 1743.9v12M369.3 1003.0v-13M369.3 1743.9v12M377.2 1003.0v-13M377.2 1743.9v12M385.2 1003.0v-13M385.2 1743.9v12M393.2 1003.0v-13M393.2 1743.9v12M401.1 1003.0v-13M401.1 1743.9v12M409.1 1003.0v-13M409.1 1743.9v12M417.0 1003.0v-13M417.0 1743.9v12M425.0 1003.0v-13M425.0 1743.9v12M433.0 1003.0v-13M433.0 1743.9v12M440.9 1003.0v-13M440.9 1743.9v12M448.9 1003.0v-13M448.9 1743.9v12M456.8 1003.0v-13M456.8 1743.9v12M464.8 1003.0v-13M464.8 1743.9v12M472.8 1003.0v-13M472.8 1743.9v12M480.7 1003.0v-13M480.7 1743.9v12M488.7 1003.0v-13M488.7 1743.9v12M496.6 1003.0v-13M496.6 1743.9v12M504.6 1003.0v-13M504.6 1743.9v12M512.6 1003.0v-13M512.6 1743.9v12M520.5 1003.0v-13M520.5 1743.9v12M528.5 1003.0v-13M528.5 1743.9v12M536.4 1003.0v-13M536.4 1743.9v12M544.4 1003.0v-13M544.4 1743.9v12M552.4 1003.0v-13M552.4 1743.9v12M560.3 1003.0v-13M560.3 1743.9v12M568.3 1003.0v-13M568.3 1743.9v12M576.2 1003.0v-13M576.2 1743.9v12M584.2 1003.0v-13M584.2 1743.9v12M592.2 1003.0v-13M592.2 1743.9v12M600.1 1003.0v-13M600.1 1743.9v12M608.1 1003.0v-13M608.1 1743.9v12M616.0 1003.0v-13M616.0 1743.9v12M624.0 1003.0v-13M624.0 1743.9v12M632.0 1003.0v-13M632.0 1743.9v12M639.9 1003.0v-13M639.9 1743.9v12M647.9 1003.0v-13M647.9 1743.9v12M655.8 1003.0v-13M655.8 1743.9v12M663.8 1003.0v-13M663.8 1743.9v12M671.8 1003.0v-13M671.8 1743.9v12M679.7 1003.0v-13M679.7 1743.9v12M687.7 1003.0v-13M687.7 1743.9v12M695.6 1003.0v-13M695.6 1743.9v12M703.6 1003.0v-13M703.6 1743.9v12M711.6 1003.0v-13M711.6 1743.9v12M719.5 1003.0v-13M719.5 1743.9v12M727.5 1003.0v-13M727.5 1743.9v12M735.4 1003.0v-13M735.4 1743.9v12M743.4 1003.0v-13M743.4 1743.9v12M751.4 1003.0v-13M751.4 1743.9v12M759.3 1003.0v-13M759.3 1743.9v12M767.3 1003.0v-13M767.3 1743.9v12M775.2 1003.0v-13M775.2 1743.9v12M783.2 1003.0v-13M783.2 1743.9v12M791.2 1003.0v-13M791.2 1743.9v12M799.1 1003.0v-13M799.1 1743.9v12M807.1 1003.0v-13M807.1 1743.9v12M815.0 1003.0v-13M815.0 1743.9v12M823.0 1003.0v-13M823.0 1743.9v12M831.0 1003.0v-13M831.0 1743.9v12M838.9 1003.0v-13M838.9 1743.9v12M846.9 1003.0v-13M846.9 1743.9v12M854.8 1003.0v-13M854.8 1743.9v12M862.8 1003.0v-13M862.8 1743.9v12M870.8 1003.0v-13M870.8 1743.9v12M878.7 1003.0v-13M878.7 1743.9v12M886.7 1003.0v-13M886.7 1743.9v12M894.6 1003.0v-13M894.6 1743.9v12M902.6 1003.0v-13M902.6 1743.9v12M910.6 1003.0v-13M910.6 1743.9v12M918.5 1003.0v-13M918.5 1743.9v12M926.5 1003.0v-13M926.5 1743.9v12M934.4 1003.0v-13M934.4 1743.9v12M942.4 1003.0v-13M942.4 1743.9v12M950.4 1003.0v-13M950.4 1743.9v12M958.3 1003.0v-13M958.3 1743.9v12M966.3 1003.0v-13M966.3 1743.9v12M974.2 1003.0v-13M974.2 1743.9v12M982.2 1003.0v-13M982.2 1743.9v12M990.2 1003.0v-13M990.2 1743.9v12M998.1 1003.0v-13M998.1 1743.9v12M1006.1 1003.0v-13M1006.1 1743.9v12M1014.0 1003.0v-13M1014.0 1743.9v12M1022.0 1003.0v-13M1022.0 1743.9v12M1030.0 1003.0v-13M1030.0 1743.9v12M1037.9 1003.0v-13M1037.9 1743.9v12M1045.9 1003.0v-13M1045.9 1743.9v12M1053.8 1003.0v-13M1053.8 1743.9v12M1061.8 1003.0v-13M1061.8 1743.9v12M1069.8 1003.0v-13M1069.8 1743.9v12M1077.7 1003.0v-13M1077.7 1743.9v12M1085.7 1003.0v-13M1085.7 1743.9v12M1093.6 1003.0v-13M1093.6 1743.9v12M1101.6 1003.0v-13M1101.6 1743.9v12M1109.6 1003.0v-13M1109.6 1743.9v12M1117.5 1003.0v-13M1117.5 1743.9v12M1125.5 1003.0v-13M1125.5 1743.9v12M1133.4 1003.0v-13M1133.4 1743.9v12M1141.4 1003.0v-13M1141.4 1743.9v12M1149.4 1003.0v-13M1149.4 1743.9v12M1157.3 1003.0v-13M1157.3 1743.9v12M1165.3 1003.0v-13M1165.3 1743.9v12M1173.2 1003.0v-13M1173.2 1743.9v12M1181.2 1003.0v-13M1181.2 1743.9v12M1189.2 1003.0v-13M1189.2 1743.9v12M1197.1 1003.0v-13M1197.1 1743.9v12M1205.1 1003.0v-13M1205.1 1743.9v12M1213.0 1003.0v-13M1213.0 1743.9v12M1221.0 1003.0v-13M1221.0 1743.9v12M1229.0 1003.0v-13M1229.0 1743.9v12M1236.9 1003.0v-13M1236.9 1743.9v12M1244.9 1003.0v-13M1244.9 1743.9v12M1252.8 1003.0v-13M1252.8 1743.9v12M1260.8 1003.0v-13M1260.8 1743.9v12M1268.8 1003.0v-13M1268.8 1743.9v12M1276.7 1003.0v-13M1276.7 1743.9v12M1284.7 1003.0v-13M1284.7 1743.9v12M1292.6 1003.0v-13M1292.6 1743.9v12M1300.6 1003.0v-13M1300.6 1743.9v12M1308.6 1003.0v-13M1308.6 1743.9v12M1316.5 1003.0v-13M1316.5 1743.9v12M1324.5 1003.0v-13M1324.5 1743.9v12M1332.4 1003.0v-13M1332.4 1743.9v12M1340.4 1003.0v-13M1340.4 1743.9v12M1348.3 1003.0v-13M1348.3 1743.9v12M1356.3 1003.0v-13M1356.3 1743.9v12M1364.3 1003.0v-13M1364.3 1743.9v12M1372.2 1003.0v-13M1372.2 1743.9v12M1380.2 1003.0v-13M1380.2 1743.9v12M1388.1 1003.0v-13M1388.1 1743.9v12M1396.1 1003.0v-13M1396.1 1743.9v12M1404.1 1003.0v-13M1404.1 1743.9v12M1412.0 1003.0v-13M1412.0 1743.9v12M1420.0 1003.0v-13M1420.0 1743.9v12M1427.9 1003.0v-13M1427.9 1743.9v12M1435.9 1003.0v-13M1435.9 1743.9v12M1443.9 1003.0v-13M1443.9 1743.9v12M1451.8 1003.0v-13M1451.8 1743.9v12M1459.8 1003.0v-13M1459.8 1743.9v12M1467.7 1003.0v-13M1467.7 1743.9v12M1475.7 1003.0v-13M1475.7 1743.9v12M1483.7 1003.0v-13M1483.7 1743.9v12M1491.6 1003.0v-13M1491.6 1743.9v12M1499.6 1003.0v-13M1499.6 1743.9v12M1507.5 1003.0v-13M1507.5 1743.9v12M1515.5 1003.0v-13M1515.5 1743.9v12M1523.5 1003.0v-13M1523.5 1743.9v12M1531.4 1003.0v-13M1531.4 1743.9v12M1539.4 1003.0v-13M1539.4 1743.9v12M1547.3 1003.0v-13M1547.3 1743.9v12M1555.3 1003.0v-13M1555.3 1743.9v12M1563.3 1003.0v-13M1563.3 1743.9v12M1571.2 1003.0v-13M1571.2 1743.9v12M1579.2 1003.0v-13M1579.2 1743.9v12M1587.1 1003.0v-13M1587.1 1743.9v12M1595.1 1003.0v-13M1595.1 1743.9v12M1603.1 1003.0v-13M1603.1 1743.9v12M1611.0 1003.0v-13M1611.0 1743.9v12M1619.0 1003.0v-13M1619.0 1743.9v12M1626.9 1003.0v-13M1626.9 1743.9v12M1634.9 1003.0v-13M1634.9 1743.9v12M1642.9 1003.0v-13M1642.9 1743.9v12M1650.8 1003.0v-13M1650.8 1743.9v12M1658.8 1003.0v-13M1658.8 1743.9v12M1666.7 1003.0v-13M1666.7 1743.9v12M1674.7 1003.0v-13M1674.7 1743.9v12M1682.7 1003.0v-13M1682.7 1743.9v12M1690.6 1003.0v-13M1690.6 1743.9v12M1698.6 1003.0v-13M1698.6 1743.9v12M1706.5 1003.0v-13M1706.5 1743.9v12M1714.5 1003.0v-13M1714.5 1743.9v12M1722.5 1003.0v-13M1722.5 1743.9v12M1730.4 1003.0v-13M1730.4 1743.9v12M1738.4 1003.0v-13M1738.4 1743.9v12M1746.3 1003.0v-13M1746.3 1743.9v12M1754.3 1003.0v-13M1754.3 1743.9v12M1762.3 1003.0v-13M1762.3 1743.9v12M1770.2 1003.0v-13M1770.2 1743.9v12M1778.2 1003.0v-13M1778.2 1743.9v12M1786.1 1003.0v-13M1786.1 1743.9v12M1794.1 1003.0v-13M1794.1 1743.9v12M1802.1 1003.0v-13M1802.1 1743.9v12M1810.0 1003.0v-13M1810.0 1743.9v12M1818.0 1003.0v-13M1818.0 1743.9v12M1825.9 1003.0v-13M1825.9 1743.9v12M1833.9 1003.0v-13M1833.9 1743.9v12M1841.9 1003.0v-13M1841.9 1743.9v12M1849.8 1003.0v-13M1849.8 1743.9v12M1857.8 1003.0v-13M1857.8 1743.9v12M1865.7 1003.0v-13M1865.7 1743.9v12M1873.7 1003.0v-13M1873.7 1743.9v12M1881.7 1003.0v-13M1881.7 1743.9v12M1889.6 1003.0v-13M1889.6 1743.9v12M1897.6 1003.0v-13M1897.6 1743.9v12M1905.5 1003.0v-13M1905.5 1743.9v12M1913.5 1003.0v-13M1913.5 1743.9v12M1921.5 1003.0v-13M1921.5 1743.9v12M1929.4 1003.0v-13M1929.4 1743.9v12M1937.4 1003.0v-13M1937.4 1743.9v12M1945.3 1003.0v-13M1945.3 1743.9v12M1953.3 1003.0v-13M1953.3 1743.9v12M1961.3 1003.0v-13M1961.3 1743.9v12M1969.2 1003.0v-13M1969.2 1743.9v12M1977.2 1003.0v-13M1977.2 1743.9v12M1985.1 1003.0v-13M1985.1 1743.9v12M1993.1 1003.0v-13M1993.1 1743.9v12M2001.1 1003.0v-13M2001.1 1743.9v12M2009.0 1003.0v-13M2009.0 1743.9v12M2017.0 1003.0v-13M2017.0 1743.9v12M2024.9 1003.0v-13M2024.9 1743.9v12M2032.9 1003.0v-13M2032.9 1743.9v12M2040.9 1003.0v-13M2040.9 1743.9v12M2048.8 1003.0v-13M2048.8 1743.9v12M2056.8 1003.0v-13M2056.8 1743.9v12M2064.7 1003.0v-13M2064.7 1743.9v12M2072.7 1003.0v-13M2072.7 1743.9v12M2080.7 1003.0v-13M2080.7 1743.9v12M2088.6 1003.0v-13M2088.6 1743.9v12M2096.6 1003.0v-13M2096.6 1743.9v12M2104.5 1003.0v-13M2104.5 1743.9v12M2112.5 1003.0v-13M2112.5 1743.9v12M2120.5 1003.0v-13M2120.5 1743.9v12M2128.4 1003.0v-13M2128.4 1743.9v12M2136.4 1003.0v-13M2136.4 1743.9v12M2144.3 1003.0v-13M2144.3 1743.9v12M2152.3 1003.0v-13M2152.3 1743.9v12M2160.3 1003.0v-13M2160.3 1743.9v12M2168.2 1003.0v-13M2168.2 1743.9v12M2176.2 1003.0v-13M2176.2 1743.9v12M2184.1 1003.0v-13M2184.1 1743.9v12M2192.1 1003.0v-13M2192.1 1743.9v12M2200.1 1003.0v-13M2200.1 1743.9v12M2208.0 1003.0v-13M2208.0 1743.9v12M2216.0 1003.0v-13M2216.0 1743.9v12M2223.9 1003.0v-13M2223.9 1743.9v12M2231.9 1003.0v-13M2231.9 1743.9v12M2239.9 1003.0v-13M2239.9 1743.9v12M2247.8 1003.0v-13M2247.8 1743.9v12M2255.8 1003.0v-13M2255.8 1743.9v12M2263.7 1003.0v-13M2263.7 1743.9v12M2271.7 1003.0v-13M2271.7 1743.9v12M2279.7 1003.0v-13M2279.7 1743.9v12M2287.6 1003.0v-13M2287.6 1743.9v12M2295.6 1003.0v-13M2295.6 1743.9v12M2303.5 1003.0v-13M2303.5 1743.9v12M2311.5 1003.0v-13M2311.5 1743.9v12M2319.5 1003.0v-13M2319.5 1743.9v12M2327.4 1003.0v-13M2327.4 1743.9v12M2335.4 1003.0v-13M2335.4 1743.9v12M2343.3 1003.0v-13M2343.3 1743.9v12M2351.3 1003.0v-13M2351.3 1743.9v12M2359.3 1003.0v-13M2359.3 1743.9v12M2367.2 1003.0v-13M2367.2 1743.9v12M2375.2 1003.0v-13M2375.2 1743.9v12M2383.1 1003.0v-13M2383.1 1743.9v12M2391.1 1003.0v-13M2391.1 1743.9v12M2399.1 1003.0v-13M2399.1 1743.9v12M2407.0 1003.0v-13M2407.0 1743.9v12M2415.0 1003.0v-13M2415.0 1743.9v12M2422.9 1003.0v-13M2422.9 1743.9v12M2430.9 1003.0v-13M2430.9 1743.9v12M2438.9 1003.0v-13M2438.9 1743.9v12M2446.8 1003.0v-13M2446.8 1743.9v12M2454.8 1003.0v-13M2454.8 1743.9v12" stroke="#606060" stroke-width="2.6" fill="none"/>
<text x="182" y="1762.4" class="tk" text-anchor="end">160</text>
<text x="182" y="1627.7" class="tk" text-anchor="end">180</text>
<text x="182" y="1493.0" class="tk" text-anchor="end">200</text>
<text x="182" y="1358.3" class="tk" text-anchor="end">220</text>
<text x="182" y="1223.6" class="tk" text-anchor="end">240</text>
<text x="182" y="1088.9" class="tk" text-anchor="end">260</text>
<text x="226.0" y="1836" class="tk" text-anchor="middle">1980</text>
<text x="433.0" y="1836" class="tk" text-anchor="middle">1984</text>
<text x="639.9" y="1836" class="tk" text-anchor="middle">1988</text>
<text x="846.9" y="1836" class="tk" text-anchor="middle">1992</text>
<text x="1053.8" y="1836" class="tk" text-anchor="middle">1996</text>
<text x="1260.8" y="1836" class="tk" text-anchor="middle">2000</text>
<text x="1467.7" y="1836" class="tk" text-anchor="middle">2004</text>
<text x="1674.7" y="1836" class="tk" text-anchor="middle">2008</text>
<text x="1881.7" y="1836" class="tk" text-anchor="middle">2012</text>
<text x="2088.6" y="1836" class="tk" text-anchor="middle">2016</text>
<text x="2295.6" y="1836" class="tk" text-anchor="middle">2020</text>
<text transform="translate(70,1373.5) rotate(-90)" class="lb" text-anchor="middle">vertical (cm)</text>
<text x="1338.4" y="1906" class="lb" text-anchor="middle">year</text>
<clipPath id="c2"><rect x="226.0" y="1003.0" width="2224.8" height="740.9"/></clipPath>
<g clip-path="url(#c2)">
<path d="M486.8 1265.5l4.3 45.4 4.3 52.9 4.3 34.7 4.3 8.9 4.3 86.2 4.3-8.3 4.3-44.9 4.4-39.9 4.3-80.4 4.3-87.1 4.3-34.9 4.3-.4 4.3 77.3 4.3 40 4.3 78.8 4.4 49.2 4.3 50.6 4.3 7.2 4.3-36.1 4.3-75.1 4.3-61.6 4.3-102.5 4.3-8.1 4.3 32 4.4 50.4 4.3 6.4 4.3 75.6 4.3 59.6 4.3 37.8 4.3-28.8 4.3 15.8 4.3-94.6 4.4-89.8 4.3-7.5 4.3-82.3 4.3 48.4 4.3 62.6 4.3 42.6 4.3 27.9 4.3 45.4 4.3 36.1 4.4 34.9 4.3-55.7 4.3-69.7 4.3-91.3 4.3-54.7 4.3-37.3 4.3 20 4.3 71 4.3 48.4 4.4 50.6 4.3 42.8 4.3 31.9 4.3 57.9 4.3-45.6 4.3-79.2 4.3-44 4.3-144.1 4.4-6.6 4.3 65.9 4.3 38.9 4.3 37.8 4.3 59.4 4.3 48.6 4.3 31.4 4.3 26.4 4.3-32.4 4.4-78.4 4.3-109 4.3-47.9 4.3-43.4 4.3 37.6 4.3 46.9 4.3 55.4 4.3 60 4.4 30.7 4.3 38.9 4.3 41.6 4.3-55.8 4.3-63.3 4.3-82.6 4.3-105.5 4.3 63 4.3-43.1 4.4 73.4 4.3 85.4 4.3 0 4.3 64.1 4.3 14.6 4.3 29.1 4.3 11.9 4.3-106.7 4.3-86.7 4.4-106.3 4.3-.1 4.3 64 4.3 8.6 4.3 59.2 4.3 65.8 4.3 33.4 4.3 72.2 4.4-19.9 4.3-37.5 4.3-39.9 4.3-109 4.3-71.3 4.3-46.4 4.3 36.7 4.3 74.9 4.3 39 4.4 16.8 4.3 81.9 4.3 39.7 4.3 24.9 4.3-43.6 4.3-46.6 4.3-92 4.3-117.6 4.4 39.6 4.3 22.8 4.3 50.7 4.3 39.8 4.3 27.3 4.3 59.7 4.3 52.2 4.3-9 4.3-22.1 4.4-40.7 4.3-111 4.3-48.4 4.3-80.4 4.3 75.3 4.3 23.3 4.3 78 4.3 37.5 4.3 34.2 4.4 23.2 4.3 14 4.3 12.2 4.3-101.7 4.3-71.6 4.3-82.6 4.3-20.6 4.3 48.8 4.4 39.3 4.3 56.7 4.3 34.9 4.3 21.7 4.3 62.8 4.3 27.9 4.3-75 4.3-9 4.3-102 4.4-68 4.3-2.5 4.3-10.1 4.3 44.1 4.3 69.8 4.3 43.4 4.3 46 4.3 62.8 4.4-16.1 4.3 .7 4.3-70.7 4.3-107.8 4.3-76.7 4.3-45.6 4.3 42.5 4.3 38.3 4.3 77.1 4.4 49.7 4.3 37.9 4.3 46.7 4.3 23.6 4.3-47.5 4.3-67.3 4.3-66.2 4.3-69.7 4.3-19.4 4.4 24.5 4.3 52.8 4.3 60 4.3 6.8 4.3 62.6 4.3 30.2 4.3-11.5 4.3 13.5 4.4-83.2 4.3-54.9 4.3-79.8 4.3-44.2 4.3 38.7 4.3 67.3 4.3 53 4.3 15.6 4.3 62.8 4.4 11.1 4.3 22.8 4.3-13.7 4.3-70.2 4.3-99 4.3-56.6 4.3-7.2 4.3 2.7 4.4 59.5 4.3 49.4 4.3 32.8 4.3 46.3 4.3 25.9 4.3 35.6 4.3-19 4.3-68 4.3-97.3 4.4-49.4 4.3-29.9 4.3 30.9 4.3 47.4 4.3 41.8 4.3 4.5 4.3 86.8 4.3 26.7 4.3 19 4.4-19.1 4.3-69.3 4.3-116.5 4.3-33 4.3-84.5 4.3 70.5 4.3 72.4 4.3 47.9 4.4 42.7 4.3 52.2 4.3 1.7 4.3 27.9 4.3-25.1 4.3-41.5 4.3-109.5 4.3-52.4 4.3-69.7 4.4 63 4.3 42.5 4.3 49.2 4.3 59.6 4.3 41 4.3 36.9 4.3 25.5 4.3-27.4 4.4-75.1 4.3-93.7 4.3-56.7 4.3-7.9 4.3 20.5 4.3 36.1 4.3 60 4.3 15.2 4.3 57.2 4.4 37.5 4.3 31.7 4.3-47.5 4.3-52.2 4.3-76.7 4.3-73.2 4.3-84.6 4.3 84.3 4.3 52.5 4.4 19.5 4.3 52.2 4.3 58.3 4.3 10.7 4.3 57.2 4.3-35.1 4.3-47.9 4.3-133.2 4.4-47.5 4.3-34 4.3 27.7 4.3 48.1 4.3 76.5 4.3 46.5 4.3 31.4 4.3 15.2 4.3 46.8 4.4-2.3 4.3-116.8 4.3-86.9 4.3-81.4 4.3-2.3 4.3 12.6 4.3 47.6 4.3 94.3 4.4 20.1 4.3 55.4 4.3 9.7 4.3 30 4.3-2.9 4.3-86.8 4.3-93.6 4.3-105 4.3 44.5 4.4 12.6 4.3 42.5 4.3 55.5 4.3 65.5 4.3 38.2 4.3 12.8 4.3 9.1 4.3-2.8 4.3-82.9 4.4-113 4.3-35.4 4.3-19.3 4.3-70.4 4.3 127.4 4.3 55 4.3 45.2 4.3 52.1 4.4 24.4 4.3 16.1 4.3-14.6 4.3-86.8 4.3-43.2 4.3-123.8 4.3 9.9 4.3 7.8 4.3 31.5 4.4 80.5 4.3 49.4 4.3 39.5 4.3 14.6 4.3 13.6 4.3-1.6 4.3-73.9 4.3-104.3 4.4-48.3 4.3 9.2 4.3 12.3 4.3 43.1 4.3 37.3 4.3 60.7 4.3 11.3 4.3 66.4 4.3-16.2 4.4 11.9 4.3-98.1 4.3-67.6 4.3-88 4.3-31.5 4.3 26.4 4.3 59.6 4.3 79.7 4.3 46.5 4.4 80 4.3-37.3 4.3 19.5 4.3-19.6 4.3-31.8 4.3-148.1 4.3-13.6 4.3-13.3 4.4 28.5 4.3 32.3 4.3 21.8 4.3 48.8 4.3 76 4.3 20.9 4.3 47.2 4.3-26.3 4.3-107.8 4.4-48.9 4.3-103.2 4.3-8.7 4.3 3.3 4.3 72.5 4.3 48.7 4.3 45.8 4.3 52 4.4 26.1 4.3 28.2 4.3-30.6 4.3-86.1 4.3-69.8 4.3-90.7 4.3-17.1 4.3-8 4.3 109.2 4.4 26.3 4.3 29.2 4.3 50.8 4.3 31.7 4.3 11.6 4.3 25.3 4.3-99.6 4.3-85.7 4.3-56.3 4.4-5.1 4.3-.2 4.3 53.3 4.3 17.3 4.3 55.9 4.3 69.9 4.3 89 4.3-28.8 4.4-36.2 4.3-55.3 4.3-129.5 4.3-17.3 4.3-40.7 4.3-10.1 4.3 73.4 4.3 72.9 4.3 34.3 4.4 35.7 4.3 34.5 4.3 56.4" fill="none" stroke="#1a1a1a" stroke-width="2.6"/>
<path d="M484.8 1265.5h4M489.1 1310.9h4M493.4 1363.8h4M497.7 1398.5h4M502.0 1407.4h4M506.3 1493.6h4M510.6 1485.3h4M514.9 1440.4h4M519.3 1400.5h4M523.6 1320.1h4M527.9 1233.0h4M532.2 1198.1h4M536.5 1197.7h4M540.8 1275.0h4M545.1 1315.0h4M549.4 1393.8h4M553.8 1443.0h4M558.1 1493.6h4M562.4 1500.8h4M566.7 1464.7h4M571.0 1389.6h4M575.3 1328.0h4M579.6 1225.5h4M583.9 1217.4h4M588.2 1249.4h4M592.6 1299.8h4M596.9 1306.2h4M601.2 1381.8h4M605.5 1441.4h4M609.8 1479.2h4M614.1 1450.4h4M618.4 1466.2h4M622.7 1371.6h4M627.1 1281.8h4M631.4 1274.3h4M635.7 1192.0h4M640.0 1240.4h4M644.3 1303.0h4M648.6 1345.6h4M652.9 1373.5h4M657.2 1418.9h4M661.5 1455.0h4M665.9 1489.9h4M670.2 1434.2h4M674.5 1364.5h4M678.8 1273.2h4M683.1 1218.5h4M687.4 1181.2h4M691.7 1201.2h4M696.0 1272.2h4M700.3 1320.6h4M704.7 1371.2h4M709.0 1414.0h4M713.3 1445.9h4M717.6 1503.8h4M721.9 1458.2h4M726.2 1379.0h4M730.5 1335.0h4M734.8 1190.9h4M739.2 1184.3h4M743.5 1250.2h4M747.8 1289.1h4M752.1 1326.9h4M756.4 1386.3h4M760.7 1434.9h4M765.0 1466.3h4M769.3 1492.7h4M773.6 1460.3h4M778.0 1381.9h4M782.3 1272.9h4M786.6 1225.0h4M790.9 1181.6h4M795.2 1219.2h4M799.5 1266.1h4M803.8 1321.5h4M808.1 1381.5h4M812.5 1412.2h4M816.8 1451.1h4M821.1 1492.7h4M825.4 1436.9h4M829.7 1373.6h4M834.0 1291.0h4M838.3 1185.5h4M842.6 1248.5h4M846.9 1205.4h4M851.3 1278.8h4M855.6 1364.2h4M859.9 1364.2h4M864.2 1428.3h4M868.5 1442.9h4M872.8 1472.0h4M877.1 1483.9h4M881.4 1377.2h4M885.7 1290.5h4M890.1 1184.2h4M894.4 1184.1h4M898.7 1248.1h4M903.0 1256.7h4M907.3 1315.9h4M911.6 1381.7h4M915.9 1415.1h4M920.2 1487.3h4M924.6 1467.4h4M928.9 1429.9h4M933.2 1390.0h4M937.5 1281.0h4M941.8 1209.7h4M946.1 1163.3h4M950.4 1200.0h4M954.7 1274.9h4M959.0 1313.9h4M963.4 1330.7h4M967.7 1412.6h4M972.0 1452.3h4M976.3 1477.2h4M980.6 1433.6h4M984.9 1387.0h4M989.2 1295.0h4M993.5 1177.4h4M997.9 1217.0h4M1002.2 1239.8h4M1006.5 1290.5h4M1010.8 1330.3h4M1015.1 1357.6h4M1019.4 1417.3h4M1023.7 1469.5h4M1028.0 1460.5h4M1032.3 1438.4h4M1036.7 1397.7h4M1041.0 1286.7h4M1045.3 1238.3h4M1049.6 1157.9h4M1053.9 1233.2h4M1058.2 1256.5h4M1062.5 1334.5h4M1066.8 1372.0h4M1071.1 1406.2h4M1075.5 1429.4h4M1079.8 1443.4h4M1084.1 1455.6h4M1088.4 1353.9h4M1092.7 1282.3h4M1097.0 1199.7h4M1101.3 1179.1h4M1105.6 1227.9h4M1110.0 1267.2h4M1114.3 1323.9h4M1118.6 1358.8h4M1122.9 1380.5h4M1127.2 1443.3h4M1131.5 1471.2h4M1135.8 1396.2h4M1140.1 1387.2h4M1144.4 1285.2h4M1148.8 1217.2h4M1153.1 1214.7h4M1157.4 1204.6h4M1161.7 1248.7h4M1166.0 1318.5h4M1170.3 1361.9h4M1174.6 1407.9h4M1178.9 1470.7h4M1183.3 1454.6h4M1187.6 1455.3h4M1191.9 1384.6h4M1196.2 1276.8h4M1200.5 1200.1h4M1204.8 1154.5h4M1209.1 1197.0h4M1213.4 1235.3h4M1217.7 1312.4h4M1222.1 1362.1h4M1226.4 1400.0h4M1230.7 1446.7h4M1235.0 1470.3h4M1239.3 1422.8h4M1243.6 1355.5h4M1247.9 1289.3h4M1252.2 1219.6h4M1256.5 1200.2h4M1260.9 1224.7h4M1265.2 1277.5h4M1269.5 1337.5h4M1273.8 1344.3h4M1278.1 1406.9h4M1282.4 1437.1h4M1286.7 1425.6h4M1291.0 1439.1h4M1295.4 1355.9h4M1299.7 1301.0h4M1304.0 1221.2h4M1308.3 1177.0h4M1312.6 1215.7h4M1316.9 1283.0h4M1321.2 1336.0h4M1325.5 1351.6h4M1329.8 1414.4h4M1334.2 1425.5h4M1338.5 1448.3h4M1342.8 1434.6h4M1347.1 1364.4h4M1351.4 1265.4h4M1355.7 1208.8h4M1360.0 1201.6h4M1364.3 1204.3h4M1368.7 1263.8h4M1373.0 1313.2h4M1377.3 1346.0h4M1381.6 1392.3h4M1385.9 1418.2h4M1390.2 1453.8h4M1394.5 1434.8h4M1398.8 1366.8h4M1403.1 1269.5h4M1407.5 1220.1h4M1411.8 1190.2h4M1416.1 1221.1h4M1420.4 1268.5h4M1424.7 1310.3h4M1429.0 1314.8h4M1433.3 1401.6h4M1437.6 1428.3h4M1441.9 1447.3h4M1446.3 1428.2h4M1450.6 1358.9h4M1454.9 1242.4h4M1459.2 1209.4h4M1463.5 1124.9h4M1467.8 1195.4h4M1472.1 1267.8h4M1476.4 1315.7h4M1480.8 1358.4h4M1485.1 1410.6h4M1489.4 1412.3h4M1493.7 1440.2h4M1498.0 1415.1h4M1502.3 1373.6h4M1506.6 1264.1h4M1510.9 1211.7h4M1515.2 1142.0h4M1519.6 1205.0h4M1523.9 1247.5h4M1528.2 1296.7h4M1532.5 1356.3h4M1536.8 1397.3h4M1541.1 1434.2h4M1545.4 1459.7h4M1549.7 1432.3h4M1554.1 1357.2h4M1558.4 1263.5h4M1562.7 1206.8h4M1567.0 1198.9h4M1571.3 1219.4h4M1575.6 1255.5h4M1579.9 1315.5h4M1584.2 1330.7h4M1588.5 1387.9h4M1592.9 1425.4h4M1597.2 1457.1h4M1601.5 1409.6h4M1605.8 1357.4h4M1610.1 1280.7h4M1614.4 1207.5h4M1618.7 1122.9h4M1623.0 1207.2h4M1627.3 1259.7h4M1631.7 1279.2h4M1636.0 1331.4h4M1640.3 1389.7h4M1644.6 1400.4h4M1648.9 1457.6h4M1653.2 1422.5h4M1657.5 1374.6h4M1661.8 1241.4h4M1666.2 1193.9h4M1670.5 1159.9h4M1674.8 1187.6h4M1679.1 1235.7h4M1683.4 1312.2h4M1687.7 1358.7h4M1692.0 1390.1h4M1696.3 1405.3h4M1700.6 1452.1h4M1705.0 1449.8h4M1709.3 1333.0h4M1713.6 1246.1h4M1717.9 1164.7h4M1722.2 1162.4h4M1726.5 1175.0h4M1730.8 1222.6h4M1735.1 1316.9h4M1739.5 1337.0h4M1743.8 1392.4h4M1748.1 1402.1h4M1752.4 1432.1h4M1756.7 1429.2h4M1761.0 1342.4h4M1765.3 1248.8h4M1769.6 1143.8h4M1773.9 1188.3h4M1778.3 1200.9h4M1782.6 1243.4h4M1786.9 1298.9h4M1791.2 1364.4h4M1795.5 1402.6h4M1799.8 1415.4h4M1804.1 1424.5h4M1808.4 1421.7h4M1812.7 1338.8h4M1817.1 1225.8h4M1821.4 1190.4h4M1825.7 1171.1h4M1830.0 1100.7h4M1834.3 1228.1h4M1838.6 1283.1h4M1842.9 1328.3h4M1847.2 1380.4h4M1851.6 1404.8h4M1855.9 1420.9h4M1860.2 1406.3h4M1864.5 1319.5h4M1868.8 1276.3h4M1873.1 1152.5h4M1877.4 1162.4h4M1881.7 1170.2h4M1886.0 1201.7h4M1890.4 1282.2h4M1894.7 1331.6h4M1899.0 1371.1h4M1903.3 1385.7h4M1907.6 1399.3h4M1911.9 1397.7h4M1916.2 1323.8h4M1920.5 1219.5h4M1924.9 1171.2h4M1929.2 1180.4h4M1933.5 1192.7h4M1937.8 1235.8h4M1942.1 1273.1h4M1946.4 1333.8h4M1950.7 1345.1h4M1955.0 1411.5h4M1959.3 1395.3h4M1963.7 1407.2h4M1968.0 1309.1h4M1972.3 1241.5h4M1976.6 1153.5h4M1980.9 1122.0h4M1985.2 1148.4h4M1989.5 1208.0h4M1993.8 1287.7h4M1998.1 1334.2h4M2002.5 1414.2h4M2006.8 1376.9h4M2011.1 1396.4h4M2015.4 1376.8h4M2019.7 1345.0h4M2024.0 1196.9h4M2028.3 1183.3h4M2032.6 1170.0h4M2037.0 1198.5h4M2041.3 1230.8h4M2045.6 1252.6h4M2049.9 1301.4h4M2054.2 1377.4h4M2058.5 1398.3h4M2062.8 1445.5h4M2067.1 1419.2h4M2071.4 1311.4h4M2075.8 1262.5h4M2080.1 1159.3h4M2084.4 1150.6h4M2088.7 1153.9h4M2093.0 1226.4h4M2097.3 1275.1h4M2101.6 1320.9h4M2105.9 1372.9h4M2110.3 1399.0h4M2114.6 1427.2h4M2118.9 1396.6h4M2123.2 1310.5h4M2127.5 1240.7h4M2131.8 1150.0h4M2136.1 1132.9h4M2140.4 1124.9h4M2144.7 1234.1h4M2149.1 1260.4h4M2153.4 1289.6h4M2157.7 1340.4h4M2162.0 1372.1h4M2166.3 1383.7h4M2170.6 1409.0h4M2174.9 1309.4h4M2179.2 1223.7h4M2183.5 1167.4h4M2187.9 1162.3h4M2192.2 1162.1h4M2196.5 1215.4h4M2200.8 1232.7h4M2205.1 1288.6h4M2209.4 1358.5h4M2213.7 1447.5h4M2218.0 1418.7h4M2222.4 1382.5h4M2226.7 1327.2h4M2231.0 1197.7h4M2235.3 1180.4h4M2239.6 1139.7h4M2243.9 1129.6h4M2248.2 1203.0h4M2252.5 1275.9h4M2256.8 1310.2h4M2261.2 1345.9h4M2265.5 1380.4h4M2269.8 1436.8h4" stroke="#000" stroke-width="4"/>
<path d="M226 1236.9l.7 4.8 .8 5.8 .7 6.7 .8 7.4 .7 8 .8 8.5 .7 8.7 .7 9 .8 9.1 .7 9 .8 9 .7 8.9 .7 8.8 .8 8.5 .7 8.4 .8 8.1 .7 8 .8 7.8 .7 7.6 .7 7.6 .8 7.4 .7 7.4 .8 7.4 .7 7.2 .7 7.2 .8 7.2 .7 7 .8 6.8 .7 6.6 .8 6.3 .7 5.9 .7 5.4 .8 4.7 .7 4.1 .8 3.2 .7 2.2 .7 1.2 .8 0 .7-1.2 .8-2.6 .7-3.8 .8-5.3 .7-6.7 .7-8 .8-9.3 .7-10.5 .8-11.7 .7-12.6 .8-13.6 .7-14.2 .7-14.6 .8-15 .7-15.1 .8-14.9 .7-14.7 .7-14.1 .8-13.3 .7-12.5 .8-11.4 .7-10.1 .8-8.9 .7-7.4 .7-6 .8-4.4 .7-2.9 .8-1.4 .7 .1 .7 1.5 .8 2.8 .7 4.1 .8 5.1 .7 6 .8 6.9 .7 7.6 .7 8.1 .8 8.5 .7 8.8 .8 9 .7 9.1 .7 9.1 .8 9 .7 8.8 .8 8.7 .7 8.5 .8 8.3 .7 8.1 .7 7.9 .8 7.8 .7 7.6 .8 7.5 .7 7.5 .7 7.3 .8 7.4 .7 7.2 .8 7.2 .7 7.1 .8 7 .7 6.8 .7 6.5 .8 6.2 .7 5.7 .8 5.3 .7 4.6 .8 3.8 .7 3 .7 1.9 .8 .9 .7-.3 .8-1.5 .7-2.9 .7-4.2 .8-5.6 .7-7 .8-8.4 .7-9.6 .8-10.9 .7-11.9 .7-12.9 .8-13.7 .7-14.3 .8-14.8 .7-15 .7-15.1 .8-14.9 .7-14.5 .8-13.9 .7-13.2 .8-12.2 .7-11.1 .7-9.8 .8-8.5 .7-7.1 .8-5.5 .7-4 .7-2.5 .8-1 .7 .4 .8 1.9 .7 3.1 .8 4.3 .7 5.4 .7 6.2 .8 7.1 .7 7.7 .8 8.3 .7 8.6 .8 8.9 .7 9 .7 9.1 .8 9 .7 9 .8 8.8 .7 8.6 .7 8.5 .8 8.2 .7 8.1 .8 7.9 .7 7.7 .8 7.6 .7 7.5 .7 7.4 .8 7.4 .7 7.3 .8 7.2 .7 7.2 .7 7 .8 7 .7 6.7 .8 6.4 .7 6.1 .8 5.7 .7 5 .7 4.5 .8 3.6 .7 2.7 .8 1.7 .7 .6 .7-.6 .8-1.9 .7-3.2 .8-4.6 .7-6 .8-7.3 .7-8.7 .7-10 .8-11.1 .7-12.2 .8-13.1 .7-13.9 .8-14.5 .7-14.8 .7-15.1 .8-15 .7-14.8 .8-14.4 .7-13.7 .7-13 .8-11.9 .7-10.8 .8-9.5 .7-8.1 .8-6.7 .7-5.2 .7-3.6 .8-2.1 .7-.6 .8 .8 .7 2.2 .7 3.4 .8 4.6 .7 5.6 .8 6.5 .7 7.3 .8 7.8 .7 8.4 .7 8.7 .8 8.9 .7 9 .8 9.1 .7 9.1 .7 8.9 .8 8.8 .7 8.5 .8 8.4 .7 8.2 .8 8 .7 7.9 .7 7.7 .8 7.5 .7 7.5 .8 7.4 .7 7.4 .8 7.2 .7 7.3 .7 7.1 .8 7.1 .7 6.8 .8 6.7 .7 6.4 .7 6 .8 5.5 .7 4.9 .8 4.2 .7 3.4 .8 2.5 .7 1.4 .7 .3 .8-.9 .7-2.2 .8-3.6 .7-5 .7-6.3 .8-7.7 .7-9 .8-10.3 .7-11.4 .8-12.4 .7-13.4 .7-14 .8-14.6 .7-14.9 .8-15.1 .7-15 .7-14.7 .8-14.2 .7-13.6 .8-12.7 .7-11.6 .8-10.5 .7-9.2 .7-7.7 .8-6.3 .7-4.8 .8-3.2 .7-1.8 .7-.2 .8 1.2 .7 2.5 .8 3.7 .7 4.9 .8 5.8 .7 6.7 .7 7.5 .8 8 .7 8.4 .8 8.8 .7 8.9 .8 9.1 .7 9.1 .7 9 .8 8.9 .7 8.7 .8 8.5 .7 8.4 .7 8.1 .8 8 .7 7.8 .8 7.7 .7 7.5 .8 7.5 .7 7.3 .7 7.4 .8 7.2 .7 7.2 .8 7.2 .7 7 .7 6.8 .8 6.6 .7 6.3 .8 5.8 .7 5.4 .8 4.8 .7 4 .7 3.1 .8 2.3 .7 1.1 .8 0 .7-1.2 .7-2.6 .8-3.9 .7-5.3 .8-6.7 .7-8 .8-9.4 .7-10.5 .7-11.7 .8-12.7 .7-13.6 .8-14.2 .7-14.7 .8-14.9 .7-15.1 .7-15 .8-14.6 .7-14 .8-13.4 .7-12.4 .7-11.4 .8-10.1 .7-8.9 .8-7.3 .7-6 .8-4.3 .7-2.9 .7-1.3 .8 .1 .7 1.5 .8 2.8 .7 4.1 .7 5.1 .8 6.1 .7 6.9 .8 7.6 .7 8.1 .8 8.6 .7 8.8 .7 9 .8 9.1 .7 9 .8 9 .7 8.9 .7 8.6 .8 8.5 .7 8.3 .8 8.1 .7 7.9 .8 7.8 .7 7.6 .7 7.5 .8 7.5 .7 7.3 .8 7.4 .7 7.2 .8 7.2 .7 7.1 .7 7 .8 6.7 .7 6.6 .8 6.1 .7 5.8 .7 5.2 .8 4.6 .7 3.8 .8 2.9 .7 2 .8 .9 .7-.3 .7-1.6 .8-2.9 .7-4.3 .8-5.7 .7-7 .7-8.4 .8-9.6 .7-10.9 .8-12 .7-12.9 .8-13.7 .7-14.3 .7-14.8 .8-15.1 .7-15 .8-14.9 .7-14.5 .7-13.9 .8-13.1 .7-12.2 .8-11.1 .7-9.8 .8-8.4 .7-7.1 .7-5.5 .8-4 .7-2.4 .8-1 .7 .5 .8 1.8 .7 3.2 .7 4.3 .8 5.4 .7 6.3 .8 7.1 .7 7.8 .7 8.2 .8 8.6 .7 8.9 .8 9 .7 9.1 .8 9.1 .7 8.9 .7 8.8 .8 8.7 .7 8.4 .8 8.2 .7 8.1 .7 7.9 .8 7.7 .7 7.6 .8 7.5 .7 7.4 .8 7.4 .7 7.3 .7 7.2 .8 7.2 .7 7 .8 7 .7 6.7 .7 6.4 .8 6.1 .7 5.6 .8 5.1 .7 4.4 .8 3.6 .7 2.7 .7 1.7 .8 .5 .7-.6 .8-1.9 .7-3.3 .7-4.6 .8-6 .7-7.4 .8-8.7 .7-10 .8-11.1 .7-12.2 .7-13.2 .8-13.9 .7-14.5 .8-14.8 .7-15.1 .8-15 .7-14.8 .7-14.4 .8-13.7 .7-12.9 .8-11.9 .7-10.8 .7-9.5 .8-8.1 .7-6.6 .8-5.1 .7-3.6 .8-2.1 .7-.6 .7 .9 .8 2.2 .7 3.4 .8 4.7 .7 5.6 .7 6.5 .8 7.3 .7 7.9 .8 8.3 .7 8.7 .8 8.9 .7 9.1 .7 9.1 .8 9 .7 8.9 .8 8.8 .7 8.6 .7 8.4 .8 8.2 .7 8 .8 7.8 .7 7.7 .8 7.6 .7 7.4 .7 7.4 .8 7.4 .7 7.2 .8 7.3 .7 7.1 .8 7 .7 6.9 .7 6.7 .8 6.3 .7 6 .8 5.5 .7 4.9 .7 4.2 .8 3.4 .7 2.4 .8 1.5 .7 .2 .8-.9 .7-2.3 .7-3.6 .8-5 .7-6.3 .8-7.7 .7-9.1 .7-10.3 .8-11.4 .7-12.5 .8-13.3 .7-14.1 .8-14.6 .7-14.9 .7-15.1 .8-15 .7-14.7 .8-14.2 .7-13.6 .7-12.6 .8-11.7 .7-10.4 .8-9.1 .7-7.8 .8-6.2 .7-4.8 .7-3.2 .8-1.7 .7-.2 .8 1.2 .7 2.6 .8 3.7 .7 4.9 .7 5.9 .8 6.7 .7 7.5 .8 8 .7 8.4 .7 8.8 .8 9 .7 9 .8 9.1 .7 9 .8 8.9 .7 8.7 .7 8.6 .8 8.3 .7 8.2 .8 7.9 .7 7.8 .7 7.7 .8 7.5 .7 7.5 .8 7.3 .7 7.4 .8 7.2 .7 7.2 .7 7.2 .8 7 .7 6.8 .8 6.6 .7 6.2 .7 5.9 .8 5.4 .7 4.7 .8 4 .7 3.1 .8 2.2 .7 1.2 .7-.1 .8-1.2 .7-2.6 .8-4 .7-5.3 .8-6.7 .7-8.1 .7-9.4 .8-10.6 .7-11.7 .8-12.7 .7-13.5 .7-14.3 .8-14.7 .7-15 .8-15 .7-15 .8-14.6 .7-14 .7-13.4 .8-12.4 .7-11.3 .8-10.1 .7-8.8 .7-7.4 .8-5.8 .7-4.4 .8-2.8 .7-1.3 .8 .1 .7 1.6 .7 2.9 .8 4 .7 5.2 .8 6.1 .7 6.9 .7 7.6 .8 8.1 .7 8.6 .8 8.8 .7 9 .8 9.1 .7 9.1 .7 8.9 .8 8.9 .7 8.7 .8 8.5 .7 8.2 .7 8.1 .8 8 .7 7.7 .8 7.6 .7 7.6 .8 7.4 .7 7.3 .7 7.4 .8 7.2 .7 7.2 .8 7.1 .7 7 .8 6.7 .7 6.5 .7 6.2 .8 5.8 .7 5.2 .8 4.5 .7 3.8 .7 2.9 .8 2 .7 .8 .8-.3 .7-1.6 .8-3 .7-4.3 .7-5.7 .8-7 .7-8.4 .8-9.7 .7-10.9 .7-12 .8-13 .7-13.7 .8-14.4 .7-14.8 .8-15 .7-15 .7-14.9 .8-14.5 .7-13.9 .8-13.1 .7-12.1 .7-11.1 .8-9.8 .7-8.4 .8-7 .7-5.5 .8-3.9 .7-2.5 .7-.9 .8 .5 .7 1.9 .8 3.2 .7 4.4 .8 5.4 .7 6.3 .7 7.1 .8 7.8 .7 8.2 .8 8.7 .7 8.8 .7 9.1 .8 9.1 .7 9 .8 9 .7 8.8 .8 8.6 .7 8.4 .7 8.3 .8 8 .7 7.9 .8 7.7 .7 7.6 .7 7.5 .8 7.4 .7 7.4 .8 7.3 .7 7.2 .8 7.2 .7 7 .7 6.9 .8 6.8 .7 6.4 .8 6.1 .7 5.6 .7 5 .8 4.4 .7 3.6 .8 2.7 .7 1.6 .8 .6 .7-.7 .7-1.9 .8-3.3 .7-4.7 .8-6 .7-7.4 .8-8.8 .7-10 .7-11.2 .8-12.2 .7-13.2 .8-13.9 .7-14.5 .7-14.8 .8-15.1 .7-15 .8-14.8 .7-14.4 .8-13.7 .7-12.9 .7-11.8 .8-10.8 .7-9.4 .8-8.1 .7-6.6 .7-5.1 .8-3.6 .7-2 .8-.6 .7 .9 .8 2.3 .7 3.5 .7 4.6 .8 5.7 .7 6.5 .8 7.3 .7 7.9 .7 8.3 .8 8.7 .7 9 .8 9 .7 9.1 .8 9 .7 9 .7 8.7 .8 8.6 .7 8.4 .8 8.2 .7 8 .8 7.8 .7 7.7 .7 7.6 .8 7.4 .7 7.4 .8 7.4 .7 7.2 .7 7.3 .8 7.1 .7 7 .8 6.9 .7 6.7 .8 6.3 .7 6 .7 5.5 .8 4.9 .7 4.1 .8 3.4 .7 2.4 .7 1.4 .8 .2 .7-.9 .8-2.3 .7-3.6 .8-5.1 .7-6.3 .7-7.8 .8-9.1 .7-10.3 .8-11.5 .7-12.5 .7-13.3 .8-14.1 .7-14.6 .8-15 .7-15 .8-15 .7-14.7 .7-14.2 .8-13.5 .7-12.7 .8-11.6 .7-10.4 .7-9.1 .8-7.7 .7-6.2 .8-4.7 .7-3.2 .8-1.6 .7-.2 .7 1.2 .8 2.6 .7 3.8 .8 4.9 .7 5.9 .8 6.7 .7 7.5 .7 8 .8 8.5 .7 8.8 .8 8.9 .7 9.1 .7 9.1 .8 9 .7 8.8 .8 8.8 .7 8.5 .8 8.3 .7 8.2 .7 7.9 .8 7.8 .7 7.7 .8 7.5 .7 7.5 .7 7.3 .8 7.4 .7 7.2 .8 7.2 .7 7.2 .8 7 .7 6.8 .7 6.6 .8 6.2 .7 5.9 .8 5.3 .7 4.7 .7 4 .8 3.1 .7 2.2 .8 1.1 .7 0 .8-1.4 .7-2.6 .7-4 .8-5.3 .7-6.8 .8-8.1 .7-9.4 .8-10.6 .7-11.7 .7-12.8 .8-13.5 .7-14.3 .8-14.7 .7-15 .7-15 .8-15 .7-14.6 .8-14 .7-13.3 .8-12.4 .7-11.3 .7-10.1 .8-8.8 .7-7.3 .8-5.8 .7-4.3 .7-2.8 .8-1.3 .7 .2 .8 1.6 .7 2.9 .8 4.1 .7 5.1 .7 6.2 .8 6.9 .7 7.6 .8 8.2 .7 8.5 .7 8.9 .8 9 .7 9 .8 9.1 .7 9 .8 8.8 .7 8.7 .7 8.5 .8 8.3 .7 8.1 .8 7.9 .7 7.7 .8 7.6 .7 7.6 .7 7.4 .8 7.4 .7 7.3 .8 7.2 .7 7.2 .7 7.1 .8 6.9 .7 6.8 .8 6.5 .7 6.2 .8 5.7 .7 5.2 .7 4.6 .8 3.7 .7 2.9 .8 1.9 .7 .8 .7-.3 .8-1.7 .7-2.9 .8-4.4 .7-5.7 .8-7.1 .7-8.4 .7-9.7 .8-11 .7-12 .8-12.9 .7-13.8 .7-14.4 .8-14.8 .7-15 .8-15.1 .7-14.8 .8-14.5 .7-13.9 .7-13.1 .8-12.1 .7-11 .8-9.7 .7-8.4 .8-7 .7-5.4 .7-4 .8-2.4 .7-.9 .8 .6 .7 1.9 .7 3.2 .8 4.4 .7 5.5 .8 6.3 .7 7.1 .8 7.8 .7 8.3 .7 8.6 .8 8.9 .7 9 .8 9.1 .7 9 .7 9 .8 8.8 .7 8.6 .8 8.5 .7 8.2 .8 8 .7 7.9 .7 7.7 .8 7.6 .7 7.5 .8 7.4 .7 7.4 .7 7.3 .8 7.2 .7 7.2 .8 7 .7 6.9 .8 6.7 .7 6.5 .7 6 .8 5.6 .7 5.1 .8 4.3 .7 3.6 .7 2.6 .8 1.7 .7 .5 .8-.7 .7-2 .8-3.3 .7-4.7 .7-6 .8-7.5 .7-8.8 .8-10 .7-11.2 .8-12.3 .7-13.1 .7-14 .8-14.5 .7-14.9 .8-15 .7-15.1 .7-14.7 .8-14.4 .7-13.7 .8-12.8 .7-11.9 .8-10.7 .7-9.4 .7-8 .8-6.6 .7-5.1 .8-3.5 .7-2 .7-.5 .8 .9 .7 2.3 .8 3.5 .7 4.7 .8 5.6 .7 6.6 .7 7.3 .8 7.9 .7 8.4 .8 8.7 .7 8.9 .7 9.1 .8 9.1 .7 9 .8 8.9 .7 8.8 .8 8.5 .7 8.4 .7 8.2 .8 8 .7 7.8 .8 7.7 .7 7.6 .8 7.4 .7 7.4 .7 7.4 .8 7.2 .7 7.3 .8 7.1 .7 7 .7 6.9 .8 6.7 .7 6.3 .8 6 .7 5.4 .8 4.9 .7 4.2 .7 3.3 .8 2.4 .7 1.4 .8 .2 .7-1 .7-2.4 .8-3.6 .7-5.1 .8-6.4 .7-7.8 .8-9.1 .7-10.3 .7-11.5 .8-12.5 .7-13.4 .8-14.1 .7-14.6 .7-15 .8-15 .7-15 .8-14.7 .7-14.2 .8-13.5 .7-12.6 .7-11.6 .8-10.4 .7-9.1 .8-7.6 .7-6.2 .8-4.7 .7-3.1 .7-1.6 .8-.2 .7 1.3 .8 2.6 .7 3.8 .7 5 .8 5.9 .7 6.7 .8 7.5 .7 8 .8 8.5 .7 8.8 .7 9 .8 9 .7 9.1 .8 9 .7 8.9 .7 8.7 .8 8.5 .7 8.4 .8 8.1 .7 7.9 .8 7.8 .7 7.7 .7 7.5 .8 7.5 .7 7.3 .8 7.4 .7 7.2 .7 7.2 .8 7.2 .7 6.9 .8 6.9 .7 6.5 .8 6.3 .7 5.8 .7 5.4 .8 4.7 .7 3.9 .8 3.1 .7 2.2 .7 1.1 .8-.1 .7-1.4 .8-2.6 .7-4 .8-5.4 .7-6.8 .7-8.1 .8-9.5 .7-10.6 .8-11.8 .7-12.7 .8-13.6 .7-14.3 .7-14.7 .8-15 .7-15.1 .8-14.9 .7-14.6 .7-14 .8-13.3 .7-12.4 .8-11.2 .7-10.1 .8-8.7 .7-7.3 .7-5.8 .8-4.3 .7-2.7 .8-1.3 .7 .2 .7 1.7 .8 2.9 .7 4.1 .8 5.2 .7 6.2 .8 6.9 .7 7.6 .7 8.2 .8 8.6 .7 8.8 .8 9 .7 9.1 .7 9.1 .8 8.9 .7 8.9 .8 8.6 .7 8.5 .8 8.3 .7 8.1 .7 7.9 .8 7.7 .7 7.7 .8 7.5 .7 7.4 .8 7.4 .7 7.3 .7 7.2 .8 7.2 .7 7.1 .8 6.9 .7 6.8 .7 6.5 .8 6.2 .7 5.7 .8 5.2 .7 4.5 .8 3.7 .7 2.9 .7 1.9 .8 .8 .7-.4 .8-1.7 .7-3 .7-4.4 .8-5.7 .7-7.1 .8-8.5 .7-9.7 .8-11 .7-12 .7-13 .8-13.8 .7-14.4 .8-14.8 .7-15 .7-15.1 .8-14.8 .7-14.5 .8-13.9 .7-13 .8-12.1 .7-11 .7-9.7 .8-8.4 .7-6.9 .8-5.4 .7-3.9 .8-2.4 .7-.8 .7 .6 .8 1.9 .7 3.3 .8 4.4 .7 5.4 .7 6.4 .8 7.1 .7 7.8 .8 8.3 .7 8.6 .8 8.9 .7 9.1 .7 9 .8 9.1 .7 8.9 .8 8.8 .7 8.7 .7 8.4 .8 8.2 .7 8 .8 7.9 .7 7.7 .8 7.6 .7 7.5 .7 7.4 .8 7.4 .7 7.3 .8 7.2 .7 7.2 .7 7 .8 6.9 .7 6.7 .8 6.5 .7 6 .8 5.6 .7 5 .7 4.4 .8 3.5 .7 2.6 .8 1.6 .7 .5 .8-.7 .7-2 .7-3.3 .8-4.8 .7-6.1 .8-7.4 .7-8.8 .7-10.1 .8-11.2 .7-12.3 .8-13.2 .7-14 .8-14.5 .7-14.9 .7-15 .8-15.1 .7-14.7 .8-14.4 .7-13.6 .7-12.9 .8-11.8 .7-10.7 .8-9.4 .7-8 .8-6.5 .7-5 .7-3.5 .8-2 .7-.5 .8 1 .7 2.3 .7 3.5 .8 4.7 .7 5.7 .8 6.6 .7 7.3 .8 7.9 .7 8.4 .7 8.7 .8 9 .7 9 .8 9.1 .7 9 .7 8.9 .8 8.8 .7 8.6 .8 8.3 .7 8.2 .8 8 .7 7.8 .7 7.7 .8 7.6 .7 7.4 .8 7.4 .7 7.4 .8 7.2 .7 7.3 .7 7.1 .8 7 .7 6.9 .8 6.6 .7 6.4 .7 5.9 .8 5.5 .7 4.8 .8 4.2 .7 3.3 .8 2.4 .7 1.3 .7 .2 .8-1 .7-2.4 .8-3.7 .7-5.1 .7-6.4 .8-7.8 .7-9.2 .8-10.3 .7-11.6 .8-12.5 .7-13.4 .7-14.1 .8-14.6 .7-15 .8-15.1 .7-14.9 .7-14.7 .8-14.2 .7-13.5 .8-12.6 .7-11.5 .8-10.4 .7-9 .7-7.6 .8-6.2 .7-4.6 .8-3.1 .7-1.6 .8-.1 .7 1.3 .7 2.6 .8 3.9 .7 4.9 .8 6 .7 6.7 .7 7.5 .8 8.1 .7 8.4 .8 8.8 .7 9 .8 9.1 .7 9 .7 9 .8 8.9 .7 8.7 .8 8.6 .7 8.3 .7 8.1 .8 8 .7 7.7 .8 7.7 .7 7.5 .8 7.5 .7 7.3 .7 7.4 .8 7.2 .7 7.2 .8 7.2 .7 6.9 .7 6.9 .8 6.5 .7 6.3 .8 5.8 .7 5.3 .8 4.7 .7 3.9 .7 3.1 .8 2.2 .7 1 .8-.1 .7-1.4 .8-2.7 .7-4 .7-5.4 .8-6.8 .7-8.2 .8-9.5 .7-10.7 .7-11.7 .8-12.8 .7-13.6 .8-14.3 .7-14.7 .8-15 .7-15.1 .7-14.9 .8-14.6 .7-14 .8-13.3 .7-12.3 .7-11.3 .8-10 .7-8.7 .8-7.2 .7-5.8 .8-4.2 .7-2.8 .7-1.2 .8 .3 .7 1.7 .8 2.9 .7 4.2 .7 5.2 .8 6.1 .7 7 .8 7.7 .7 8.1 .8 8.6 .7 8.8 .7 9.1 .8 9 .7 9.1 .8 9 .7 8.8 .8 8.7 .7 8.4 .7 8.3 .8 8.1 .7 7.9 .8 7.7 .7 7.7 .7 7.5 .8 7.4 .7 7.4 .8 7.3 .7 7.2 .8 7.2 .7 7.1 .7 6.9 .8 6.8 .7 6.5 .8 6.1 .7 5.7 .7 5.2 .8 4.5 .7 3.7 .8 2.9 .7 1.9 .8 .7 .7-.4 .7-1.7 .8-3 .7-4.4 .8-5.8 .7-7.2 .7-8.5 .8-9.8 .7-10.9 .8-12.1 .7-13 .8-13.8 .7-14.4 .7-14.8 .8-15 .7-15.1 .8-14.8 .7-14.5 .7-13.8 .8-13.1 .7-12.1 .8-10.9 .7-9.7 .8-8.3 .7-6.9 .7-5.4 .8-3.8 .7-2.4 .8-.8 .7 .6 .8 2 .7 3.3 .7 4.4 .8 5.5 .7 6.4 .8 7.1 .7 7.8 .7 8.3 .8 8.7 .7 8.9 .8 9 .7 9.1 .8 9 .7 9 .7 8.8 .8 8.6 .7 8.4 .8 8.2 .7 8.1 .7 7.8 .8 7.7 .7 7.6 .8 7.5 .7 7.4 .8 7.4 .7 7.3 .7 7.2 .8 7.2 .7 7 .8 6.9 .7 6.7 .7 6.4 .8 6.1 .7 5.6 .8 5 .7 4.3 .8 3.5 .7 2.6 .7 1.6 .8 .5 .7-.8 .8-2 .7-3.4 .8-4.8 .7-6.1 .7-7.5 .8-8.8 .7-10.1 .8-11.3 .7-12.3 .7-13.2 .8-14 .7-14.5 .8-14.9 .7-15.1 .8-15 .7-14.8 .7-14.3 .8-13.6 .7-12.8 .8-11.8 .7-10.7 .7-9.3 .8-8 .7-6.5 .8-5 .7-3.5 .8-1.9 .7-.4 .7 .9 .8 2.4 .7 3.6 .8 4.7 .7 5.7 .7 6.6 .8 7.3 .7 7.9 .8 8.4 .7 8.8 .8 8.9 .7 9.1 .7 9 .8 9.1 .7 8.9 .8 8.7 .7 8.6 .8 8.4 .7 8.1 .7 8 .8 7.8 .7 7.7 .8 7.6 .7 7.4 .7 7.4 .8 7.4 .7 7.3 .8 7.2 .7 7.1 .8 7 .7 6.9 .7 6.6 .8 6.3 .7 6 .8 5.4 .7 4.9 .7 4.1 .8 3.3 .7 2.4 .8 1.3 .7 .1 .8-1.1 .7-2.3 .7-3.8 .8-5.1 .7-6.4 .8-7.9 .7-9.2 .7-10.4 .8-11.5 .7-12.6 .8-13.4 .7-14.1 .8-14.7 .7-14.9 .7-15.1 .8-15 .7-14.6 .8-14.2 .7-13.5 .8-12.5 .7-11.5 .7-10.4 .8-9 .7-7.6 .8-6.1 .7-4.6 .7-3.1 .8-1.5 .7-.1 .8 1.3 .7 2.7 .8 3.9 .7 5 .7 5.9 .8 6.8 .7 7.5 .8 8.1 .7 8.5 .7 8.8 .8 9 .7 9 .8 9.1 .7 9 .8 8.9 .7 8.7 .7 8.5 .8 8.3 .7 8.1 .8 8 .7 7.8 .7 7.6 .8 7.5 .7 7.5 .8 7.4 .7 7.3 .8 7.2 .7 7.2 .7 7.1 .8 7 .7 6.8 .8 6.6 .7 6.2 .7 5.9 .8 5.3 .7 4.6 .8 4 .7 3 .8 2.1 .7 1 .7-.1 .8-1.4 .7-2.7 .8-4.1 .7-5.5 .8-6.8 .7-8.2 .7-9.5 .8-10.7 .7-11.8 .8-12.8 .7-13.6 .7-14.3 .8-14.7 .7-15 .8-15.1 .7-14.9 .8-14.6 .7-14 .7-13.2 .8-12.3 .7-11.3 .8-10 .7-8.6 .7-7.2 .8-5.8 .7-4.2 .8-2.7 .7-1.1 .8 .3 .7 1.6 .7 3 .8 4.2 .7 5.2 .8 6.2 .7 7 .7 7.6 .8 8.2 .7 8.5 .8 8.9 .7 9 .8 9 .7 9.1 .7 8.9 .8 8.9 .7 8.6 .8 8.5 .7 8.2 .8 8.1 .7 7.9 .7 7.7 .8 7.6 .7 7.5 .8 7.4 .7 7.3 .7 7.3 .8 7.3 .7 7.1 .8 7.1 .7 6.9 .8 6.8 .7 6.4 .7 6.2 .8 5.6 .7 5.2 .8 4.4 .7 3.7 .7 2.9 .8 1.8 .7 .7 .8-.5 .7-1.7 .8-3.1 .7-4.4 .7-5.9 .8-7.2 .7-8.5 .8-9.8 .7-11.1 .7-12.1 .8-13 .7-13.8 .8-14.4 .7-14.9 .8-15 .7-15.1 .7-14.9 .8-14.4 .7-13.9 .8-13 .7-12.1 .8-10.9 .7-9.7 .7-8.3 .8-6.9 .7-5.3 .8-3.8 .7-2.3 .7-.8 .8 .6 .7 2 .8 3.3 .7 4.4 .8 5.5 .7 6.4 .7 7.2 .8 7.8 .7 8.2 .8 8.7 .7 8.9 .7 9 .8 9.1 .7 9 .8 8.9 .7 8.8 .8 8.6 .7 8.4 .7 8.2 .8 8 .7 7.8 .8 7.7 .7 7.6 .7 7.5 .8 7.4 .7 7.3 .8 7.3 .7 7.2 .8 7.1 .7 7.1 .7 6.9 .8 6.6 .7 6.4 .8 6 .7 5.6 .8 5 .7 4.3 .7 3.5 .8 2.5 .7 1.6 .8 .4 .7-.8 .7-2.1 .8-3.4 .7-4.8 .8-6.2 .7-7.5 .8-8.9 .7-10.2 .7-11.3 .8-12.3 .7-13.3 .8-14 .7-14.5 .7-14.9 .8-15.1 .7-15 .8-14.8 .7-14.3 .8-13.7 .7-12.8 .7-11.8 .8-10.6 .7-9.3 .8-8 .7-6.5 .7-4.9 .8-3.5 .7-1.9 .8-.4 .7 1 .8 2.3 .7 3.6 .7 4.7 .8 5.8 .7 6.6 .8 7.3 .7 7.9 .7 8.4 .8 8.7 .7 9 .8 9 .7 9.1 .8 9 .7 8.9 .7 8.7 .8 8.5 .7 8.4 .8 8.1 .7 8 .8 7.8 .7 7.7 .7 7.5 .8 7.5 .7 7.3 .8 7.4 .7 7.2 .7 7.2 .8 7.1 .7 7 .8 6.9 .7 6.6 .8 6.3 .7 5.9 .7 5.4 .8 4.8 .7 4.1 .8 3.3 .7 2.3 .7 1.3 .8 .1 .7-1.1 .8-2.4 .7-3.8 .8-5.2 .7-6.5 .7-7.9 .8-9.2 .7-10.4 .8-11.6 .7-12.6 .7-13.5 .8-14.1 .7-14.7 .8-15 .7-15.1 .8-14.9 .7-14.7 .7-14.2 .8-13.4 .7-12.6 .8-11.5 .7-10.3 .8-9 .7-7.6 .7-6.1 .8-4.6 .7-3 .8-1.5 .7-.1 .7 1.3 .8 2.7 .7 3.9 .8 5 .7 6 .8 6.8 .7 7.5 .7 8 .8 8.5 .7 8.8 .8 9 .7 9 .7 9.1 .8 9 .7 8.8 .8 8.7 .7 8.5 .8 8.3 .7 8.1 .7 7.9 .8 7.8 .7 7.6 .8 7.5 .7 7.5 .7 7.3 .8 7.3 .7 7.3 .8 7.1 .7 7.1 .8 7 .7 6.8 .7 6.5 .8 6.3 .7 5.7 .8 5.3 .7 4.7 .8 3.8 .7 3.1 .7 2 .8 1 .7-.2 .8-1.4 .7-2.8 .7-4.1 .8-5.5 .7-6.9 .8-8.2 .7-9.6 .8-10.7 .7-11.9 .7-12.8 .8-13.6 .7-14.3 .8-14.8 .7-15 .7-15.1 .8-14.9 .7-14.6 .8-14 .7-13.3 .8-12.3 .7-11.2 .7-10 .8-8.6 .7-7.2 .8-5.7 .7-4.2 .7-2.7 .8-1.1 .7 .3 .8 1.7 .7 3 .8 4.2 .7 5.2 .7 6.2 .8 7 .7 7.7 .8 8.2 .7 8.5 .7 8.9 .8 9 .7 9 .8 9.1 .7 8.9 .8 8.8 .7 8.7 .7 8.4 .8 8.3 .7 8 .8 7.9 .7 7.7 .8 7.6 .7 7.5 .7 7.4 .8 7.4 .7 7.3 .8 7.2 .7 7.2 .7 7 .8 7 .7 6.7 .8 6.5 .7 6.1 .8 5.6 .7 5.2 .7 4.4 .8 3.7 .7 2.8 .8 1.8 .7 .7 .7-.5 .8-1.8 .7-3.1 .8-4.5 .7-5.8 .8-7.3 .7-8.5 .7-9.9 .8-11 .7-12.2 .8-13 .7-13.9 .7-14.4 .8-14.8 .7-15.1 .8-15.1 .7-14.8 .8-14.5 .7-13.8 .7-13 .8-12 .7-11 .8-9.6 .7-8.3 .8-6.8 .7-5.3 .7-3.8 .8-2.3 .7-.8 .8 .7 .7 2 .7 3.4 .8 4.4 .7 5.5 .8 6.4 .7 7.2 .8 7.8 .7 8.3 .7 8.7 .8 8.9 .7 9 .8 9 .7 9.1 .7 8.9 .8 8.8 .7 8.6 .8 8.4 .7 8.2 .8 8 .7 7.8 .7 7.7 .8 7.6 .7 7.4 .8 7.4 .7 7.4 .7 7.2 .8 7.2 .7 7.2 .8 7 .7 6.9 .8 6.7 .7 6.4 .7 6 .8 5.5 .7 5 .8 4.2 .7 3.5 .8 2.6 .7 1.5 .7 .4 .8-.8 .7-2.2 .8-3.4 .7-4.8 .7-6.3 .8-7.5 .7-9 .8-10.1 .7-11.4 .8-12.3 .7-13.3 .7-14 .8-14.6 .7-14.9 .8-15.1 .7-15 .7-14.8 .8-14.3 .7-13.6 .8-12.8 .7-11.8 .8-10.6 .7-9.3 .7-7.9 .8-6.4 .7-5 .8-3.4 .7-1.8 .7-.4 .8 1 .7 2.4 .8 3.6 .7 4.7 .8 5.8 .7 6.6 .7 7.4 .8 7.9 .7 8.4 .8 8.7 .7 9 .8 9 .7 9.1 .7 9 .8 8.8 .7 8.8 .8 8.5 .7 8.4 .7 8.1 .8 8 .7 7.8 .8 7.6 .7 7.6 .8 7.4 .7 7.4 .7 7.3 .8 7.3 .7 7.2 .8 7.1 .7 7 .7 6.8 .8 6.6 .7 6.3 .8 5.9 .7 5.4 .8 4.8 .7 4.1 .7 3.2 .8 2.3 .7 1.3 .8 .1 .7-1.2 .7-2.4 .8-3.8 .7-5.2 .8-6.6 .7-7.9 .8-9.2 .7-10.5 .7-11.6 .8-12.6 .7-13.5 .8-14.2 .7-14.7 .7-14.9 .8-15.1 .7-15 .8-14.7 .7-14.1 .8-13.5 .7-12.5 .7-11.5 .8-10.3 .7-8.9 .8-7.6 .7-6 .8-4.6 .7-3 .7-1.5 .8 0 .7 1.4 .8 2.7 .7 3.9 .7 5 .8 6 .7 6.8 .8 7.5 .7 8.1 .8 8.5 .7 8.8 .7 9 .8 9 .7 9.1 .8 8.9 .7 8.9 .7 8.7 .8 8.5 .7 8.3 .8 8.1 .7 7.9 .8 7.7 .7 7.7 .7 7.5 .8 7.4 .7 7.4 .8 7.3 .7 7.2 .7 7.2 .8 7.1 .7 7 .8 6.7 .7 6.6 .8 6.2 .7 5.8 .7 5.2 .8 4.6 .7 3.9 .8 3 .7 2.1 .8 .9 .7-.2 .7-1.5 .8-2.8 .7-4.1 .8-5.6 .7-6.9 .7-8.2 .8-9.6 .7-10.8 .8-11.9 .7-12.8 .8-13.7 .7-14.3 .7-14.8 .8-15 .7-15.1 .8-14.9 .7-14.6 .7-13.9 .8-13.3 .7-12.2 .8-11.2 .7-10 .8-8.6 .7-7.2 .7-5.6 .8-4.2 .7-2.6 .8-1.1 .7 .3 .7 1.7 .8 3.1 .7 4.2 .8 5.3 .7 6.2 .8 7 .7 7.6 .7 8.2 .8 8.6 .7 8.9 .8 9 .7 9 .8 9.1 .7 8.9 .7 8.8 .8 8.7 .7 8.4 .8 8.3 .7 8 .7 7.9 .8 7.7 .7 7.6 .8 7.5 .7 7.4 .8 7.3 .7 7.3 .7 7.3 .8 7.1 .7 7.1 .8 6.9 .7 6.7 .7 6.5 .8 6.1 .7 5.7 .8 5.1 .7 4.4 .8 3.7 .7 2.7 .7 1.8 .8 .7 .7-.6 .8-1.8 .7-3.1 .7-4.5 .8-5.9 .7-7.3 .8-8.6 .7-9.9 .8-11 .7-12.2 .7-13 .8-13.9 .7-14.4 .8-14.9 .7-15.1 .8-15 .7-14.9 .7-14.4 .8-13.8 .7-13 .8-12 .7-10.9 .7-9.6 .8-8.3 .7-6.8 .8-5.3 .7-3.7 .8-2.2 .7-.8 .7 .7 .8 2.1 .7 3.3 .8 4.5 .7 5.6 .7 6.4 .8 7.2 .7 7.8 .8 8.3 .7 8.7 .8 8.9 .7 9 .7 9 .8 9.1 .7 8.9 .8 8.8 .7 8.5 .7 8.4 .8 8.2 .7 8 .8 7.9 .7 7.7 .8 7.5 .7 7.5 .7 7.4 .8 7.3 .7 7.3 .8 7.2 .7 7.1 .7 7.1 .8 6.8 .7 6.7 .8 6.4 .7 6 .8 5.5 .7 5 .7 4.2 .8 3.5 .7 2.5 .8 1.5 .7 .4 .8-.9 .7-2.1 .7-3.5 .8-4.9 .7-6.2 .8-7.7 .7-8.9 .7-10.2 .8-11.3 .7-12.4 .8-13.3 .7-14 .8-14.6 .7-15 .7-15 .8-15.1 .7-14.7 .8-14.3 .7-13.6 .7-12.8 .8-11.7 .7-10.6 .8-9.3 .7-7.9 .8-6.4 .7-4.9 .7-3.3 .8-1.9 .7-.3 .8 1 .7 2.4 .7 3.7 .8 4.7 .7 5.8 .8 6.7 .7 7.3 .8 8 .7 8.4 .7 8.7 .8 8.9 .7 9.1 .8 9.1 .7 9 .8 8.8 .7 8.8 .7 8.5 .8 8.3 .7 8.2 .8 8 .7 7.7 .7 7.7 .8 7.5 .7 7.5 .8 7.4 .7 7.3 .8 7.2 .7 7.2 .7 7.1 .8 7 .7 6.9 .8 6.6 .7 6.3 .7 5.8 .8 5.4 .7 4.8 .8 4.1 .7 3.2 .8 2.3 .7 1.2 .7 0 .8-1.1 .7-2.5 .8-3.8 .7-5.3 .7-6.6 .8-7.9 .7-9.3 .8-10.5 .7-11.6 .8-12.7 .7-13.5 .7-14.1 .8-14.7 .7-15 .8-15.1 .7-15 .8-14.6 .7-14.2 .7-13.4 .8-12.5 .7-11.5 .8-10.2 .7-8.9 .7-7.5 .8-6.1 .7-4.5 .8-3 .7-1.4 .8 0 .7 1.4 .7 2.7 .8 4 .7 5 .8 6 .7 6.9 .7 7.5 .8 8.1 .7 8.5 .8 8.8 .7 9 .8 9 .7 9.1 .7 8.9 .8 8.9 .7 8.7 .8 8.5 .7 8.2 .7 8.1 .8 8 .7 7.7 .8 7.6 .7 7.5 .8 7.5 .7 7.3 .7 7.3 .8 7.3 .7 7.2 .8 7 .7 7 .8 6.8 .7 6.5 .7 6.2 .8 5.8 .7 5.2 .8 4.6 .7 3.9 .7 3 .8 2 .7 .9 .8-.2 .7-1.5 .8-2.9 .7-4.2 .7-5.5 .8-7 .7-8.3 .8-9.6 .7-10.8 .7-11.9 .8-12.8 .7-13.7 .8-14.4 .7-14.7 .8-15.1 .7-15 .7-15 .8-14.5 .7-14 .8-13.2 .7-12.2 .7-11.2 .8-9.9 .7-8.6 .8-7.1 .7-5.7 .8-4.1 .7-2.6 .7-1.1 .8 .4 .7 1.8 .8 3 .7 4.3 .7 5.3 .8 6.2 .7 7 .8 7.7 .7 8.2 .8 8.6 .7 8.9 .7 9 .8 9 .7 9.1 .8 8.9 .7 8.8 .8 8.6 .7 8.5 .7 8.2 .8 8.1 .7 7.9 .8 7.7 .7 7.6 .7 7.4 .8 7.5 .7 7.3 .8 7.3 .7 7.2 .8 7.2 .7 7 .7 6.9 .8 6.8 .7 6.4 .8 6.1 .7 5.7 .7 5.1 .8 4.4 .7 3.6 .8 2.8 .7 1.7 .8 .7 .7-.6 .7-1.8 .8-3.2 .7-4.5 .8-6 .7-7.3 .7-8.6 .8-9.9 .7-11.1 .8-12.2 .7-13.1 .8-13.8 .7-14.5 .7-14.9 .8-15 .7-15.1 .8-14.8 .7-14.4 .8-13.8 .7-13 .7-12 .8-10.9 .7-9.6 .8-8.2 .7-6.7 .7-5.3 .8-3.7 .7-2.2 .8-.7 .7 .7 .8 2.1 .7 3.4 .7 4.5 .8 5.6 .7 6.4 .8 7.2 .7 7.9 .7 8.3 .8 8.6 .7 8.9 .8 9.1 .7 9 .8 9.1 .7 8.9 .7 8.7 .8 8.6 .7 8.4 .8 8.2 .7 8 .7 7.8 .8 7.7 .7 7.6 .8 7.4 .7 7.4 .8 7.4 .7 7.2 .7 7.2 .8 7.2 .7 7 .8 6.9 .7 6.6 .8 6.4 .7 6 .7 5.5 .8 5 .7 4.2 .8 3.4 .7 2.5 .7 1.5 .8 .3 .7-.9 .8-2.1 .7-3.5 .8-4.9 .7-6.3 .7-7.7 .8-8.9 .7-10.3 .8-11.3 .7-12.5 .7-13.3 .8-14 .7-14.6 .8-14.9 .7-15.1 .8-15 .7-14.8 .7-14.2 .8-13.6 .7-12.8 .8-11.7 .7-10.5 .7-9.3 .8-7.8 .7-6.4 .8-4.9 .7-3.3 .8-1.8 .7-.3 .7 1 .8 2.5 .7 3.7 .8 4.8 .7 5.7 .8 6.7 .7 7.4 .7 7.9 .8 8.5 .7 8.7 .8 8.9 .7 9.1 .7 9 .8 9 .7 8.9 .8 8.7 .7 8.6 .8 8.3 .7 8.2 .7 7.9 .8 7.8 .7 7.7 .8 7.5 .7 7.4 .7 7.4 .8 7.3 .7 7.3 .8 7.2 .7 7.1 .8 7 .7 6.8 .7 6.6 .8 6.3 .7 5.9 .8 5.3 .7 4.8 .7 4 .8 3.2 .7 2.3 .8 1.2 .7 0 .8-1.2 .7-2.5 .7-3.9 .8-5.2 .7-6.6 .8-8 .7-9.3 .7-10.6 .8-11.6 .7-12.7 .8-13.5 .7-14.2 .8-14.7 .7-15 .7-15.1 .8-14.9 .7-14.7 .8-14.1 .7-13.4 .8-12.5 .7-11.4 .7-10.2 .8-8.9 .7-7.5 .8-6 .7-4.5 .7-2.9 .8-1.4 .7 0 .8 1.4 .7 2.8 .8 4 .7 5 .7 6.1 .8 6.8 .7 7.6 .8 8.1 .7 8.5 .7 8.8 .8 8.9 .7 9.1 .8 9.1 .7 8.9 .8 8.9 .7 8.6 .7 8.5 .8 8.3 .7 8.1 .8 7.9 .7 7.8 .7 7.6 .8 7.5 .7 7.4 .8 7.4 .7 7.3 .8 7.2 .7 7.2 .7 7.1 .8 6.9 .7 6.8 .8 6.5 .7 6.2 .8 5.8 .7 5.2 .7 4.6 .8 3.8 .7 3 .8 2 .7 .9 .7-.3 .8-1.5 .7-2.9 .8-4.2 .7-5.6 .8-7 .7-8.3 .7-9.6 .8-10.8 .7-12 .8-12.9 .7-13.7 .7-14.3 .8-14.8 .7-15 .8-15.1 .7-14.9 .8-14.6 .7-13.9 .7-13.2 .8-12.2 .7-11.2 .8-9.9 .7-8.5 .7-7.1 .8-5.6 .7-4.1 .8-2.5 .7-1.1 .8 .4 .7 1.8 .7 3.1 .8 4.3 .7 5.3 .8 6.2 .7 7.1 .8 7.7 .7 8.2 .7 8.6 .8 8.8 .7 9.1 .8 9 .7 9.1 .7 8.9 .8 8.8 .7 8.6 .8 8.5 .7 8.2 .8 8 .7 7.9 .7 7.7 .8 7.6 .7 7.5 .8 7.4 .7 7.3 .7 7.3 .8 7.3 .7 7.1 .8 7.1 .7 6.9 .8 6.7 .7 6.5 .7 6 .8 5.7 .7 5.1 .8 4.4 .7 3.6 .7 2.7 .8 1.7 .7 .6 .8-.5 .7-1.9 .8-3.2 .7-4.6 .7-5.9 .8-7.4 .7-8.6 .8-10 .7-11.1 .8-12.2 .7-13.1 .7-13.9 .8-14.5 .7-14.8 .8-15.1 .7-15.1 .7-14.8 .8-14.4 .7-13.8 .8-12.9 .7-12 .8-10.8 .7-9.6 .7-8.2 .8-6.7 .7-5.2 .8-3.7 .7-2.1 .7-.7 .8 .8 .7 2.1 .8 3.4 .7 4.5 .8 5.6 .7 6.5 .7 7.2 .8 7.8 .7 8.4 .8 8.6 .7 8.9 .7 9.1 .8 9 .7 9.1 .8 8.9 .7 8.7 .8 8.6 .7 8.4 .7 8.2 .8 8 .7 7.8 .8 7.7 .7 7.5 .7 7.5 .8 7.4 .7 7.3 .8 7.3 .7 7.2 .8 7.1 .7 7.1 .7 6.8 .8 6.7 .7 6.3 .8 6 .7 5.5 .8 4.9 .7 4.3 .7 3.4 .8 2.4 .7 1.5 .8 .3 .7-.9 .7-2.2 .8-3.6 .7-4.9 .8-6.3 .7-7.7 .8-9 .7-10.2 .7-11.4 .8-12.5 .7-13.3 .8-14 .7-14.6 .7-15 .8-15.1 .7-15 .8-14.7 .7-14.3 .8-13.6 .7-12.7 .7-11.7 .8-10.5 .7-9.2 .8-7.8 .7-6.4 .7-4.8 .8-3.3 .7-1.8 .8-.3 .7 1.2 .8 2.4 .7 3.7" stroke="#0a6e25" stroke-width="4.2" fill="none"/>
<path d="M226 1366.7l1293.5-49.2" stroke="#7a1c1c" stroke-width="4" fill="none"/>
<path d="M1519.5 1318.9l931.3-55.8" stroke="#0000ff" stroke-width="3.5" fill="none"/>
</g>
<rect x="485.0" y="1225.2" width="19" height="23" fill="#a9a9a9"/><path d="M487.0 1229.2v15M502.0 1229.2v15" stroke="#585858" stroke-width="4"/><rect x="489.0" y="1232.7" width="11" height="8" fill="#f29a9a"/><rect x="492.0" y="1232.7" width="5" height="8" fill="#ff0d0d"/>
<rect x="626.8" y="1107.3" width="19" height="23" fill="#a9a9a9"/><path d="M628.8 1111.3v15M643.8 1111.3v15" stroke="#585858" stroke-width="4"/><rect x="630.8" y="1114.8" width="11" height="8" fill="#f29a9a"/><rect x="633.8" y="1114.8" width="5" height="8" fill="#ff0d0d"/>
<rect x="675.4" y="1127.6" width="19" height="23" fill="#a9a9a9"/><path d="M677.4 1131.6v15M692.4 1131.6v15" stroke="#585858" stroke-width="4"/><rect x="679.4" y="1135.1" width="11" height="8" fill="#f29a9a"/><rect x="682.4" y="1135.1" width="5" height="8" fill="#ff0d0d"/>
<rect x="1248.7" y="1085.8" width="19" height="23" fill="#a9a9a9"/><path d="M1250.7 1089.8v15M1265.7 1089.8v15" stroke="#585858" stroke-width="4"/><rect x="1252.7" y="1093.3" width="11" height="8" fill="#f29a9a"/><rect x="1255.7" y="1093.3" width="5" height="8" fill="#ff0d0d"/>
<rect x="1619.7" y="1310.8" width="19" height="23" fill="#a9a9a9"/><path d="M1621.7 1314.8v15M1636.7 1314.8v15" stroke="#585858" stroke-width="4"/><rect x="1623.7" y="1318.3" width="11" height="8" fill="#f29a9a"/><rect x="1626.7" y="1318.3" width="5" height="8" fill="#ff0d0d"/>
<rect x="1830.8" y="1167.3" width="19" height="23" fill="#a9a9a9"/><path d="M1832.8 1171.3v15M1847.8 1171.3v15" stroke="#585858" stroke-width="4"/><rect x="1834.8" y="1174.8" width="11" height="8" fill="#f29a9a"/><rect x="1837.8" y="1174.8" width="5" height="8" fill="#ff0d0d"/>
<rect x="1869.6" y="1064.9" width="19" height="23" fill="#a9a9a9"/><path d="M1871.6 1068.9v15M1886.6 1068.9v15" stroke="#585858" stroke-width="4"/><rect x="1873.6" y="1072.4" width="11" height="8" fill="#f29a9a"/><rect x="1876.6" y="1072.4" width="5" height="8" fill="#ff0d0d"/>
<rect x="1916.7" y="1298.6" width="19" height="23" fill="#a9a9a9"/><path d="M1918.7 1302.6v15M1933.7 1302.6v15" stroke="#585858" stroke-width="4"/><rect x="1920.7" y="1306.1" width="11" height="8" fill="#f29a9a"/><rect x="1923.7" y="1306.1" width="5" height="8" fill="#ff0d0d"/>
<rect x="2025.3" y="1058.2" width="19" height="23" fill="#a9a9a9"/><path d="M2027.3 1062.2v15M2042.3 1062.2v15" stroke="#585858" stroke-width="4"/><rect x="2029.3" y="1065.7" width="11" height="8" fill="#f29a9a"/><rect x="2032.3" y="1065.7" width="5" height="8" fill="#ff0d0d"/>
<rect x="2084.3" y="1112.1" width="19" height="23" fill="#a9a9a9"/><path d="M2086.3 1116.1v15M2101.3 1116.1v15" stroke="#585858" stroke-width="4"/><rect x="2088.3" y="1119.6" width="11" height="8" fill="#f29a9a"/><rect x="2091.3" y="1119.6" width="5" height="8" fill="#ff0d0d"/>
<rect x="2200.7" y="1146.4" width="19" height="23" fill="#a9a9a9"/><path d="M2202.7 1150.4v15M2217.7 1150.4v15" stroke="#585858" stroke-width="4"/><rect x="2204.7" y="1153.9" width="11" height="8" fill="#f29a9a"/><rect x="2207.7" y="1153.9" width="5" height="8" fill="#ff0d0d"/>
<rect x="226.0" y="1003.0" width="2224.8" height="740.9" stroke="#606060" stroke-width="3.2" fill="none"/>
<text x="1311.5" y="1069.5" class="tt" text-anchor="middle">CHD (34.6 yr)</text>
<rect x="1574.7" y="1527.7" width="802.2" height="198.3" fill="#fff" stroke="#777" stroke-width="3"/>
<path d="M1596.3 1559.1H1673.4" stroke="#3a3a3a" stroke-width="3"/><rect x="1631.8" y="1556.1" width="6" height="6" fill="#000"/>
<text x="1689.6" y="1572.6" class="lg" style="font-size:36.2px">RSL estimates from TG data</text>
<path d="M1596.3 1603.8H1673.4" stroke="#b87878" stroke-width="7"/>
<text x="1689.6" y="1617.3" class="lg" style="font-size:36.2px">RSL trend &lt;2005: +2.90 ± 0.33 mm/yr</text>
<path d="M1596.3 1648.7H1673.4" stroke="#0000ff" stroke-width="4"/>
<text x="1689.6" y="1662.2" class="lg" style="font-size:36.2px">RSL trend &gt;2005: +4.46 ± 0.46 mm/yr</text>
<path d="M1596.3 1693.6H1673.4" stroke="#4a9a64" stroke-width="7"/>
<text x="1689.6" y="1707.1" class="lg" style="font-size:36.2px">trend &amp; seasonal 19.3/3.0cm/ –3/ 39 days</text>
<path d="M210.0 1944.4v-25M210.0 2685.5v24M363.7 1944.4v-25M363.7 2685.5v24M517.3 1944.4v-25M517.3 2685.5v24M671.0 1944.4v-25M671.0 2685.5v24M824.7 1944.4v-25M824.7 2685.5v24M978.3 1944.4v-25M978.3 2685.5v24M1132.0 1944.4v-25M1132.0 2685.5v24M1285.7 1944.4v-25M1285.7 2685.5v24M1439.4 1944.4v-25M1439.4 2685.5v24M1593.0 1944.4v-25M1593.0 2685.5v24M1746.7 1944.4v-25M1746.7 2685.5v24M1900.4 1944.4v-25M1900.4 2685.5v24M2054.0 1944.4v-25M2054.0 2685.5v24M2207.7 1944.4v-25M2207.7 2685.5v24M2361.4 1944.4v-25M2361.4 2685.5v24M210.0 2685.5h-13M2438.2 2685.5h13M210.0 2678.1h-13M2438.2 2678.1h13M210.0 2670.7h-13M2438.2 2670.7h13M210.0 2663.3h-13M2438.2 2663.3h13M210.0 2655.9h-13M2438.2 2655.9h13M210.0 2648.4h-13M2438.2 2648.4h13M210.0 2641.0h-13M2438.2 2641.0h13M210.0 2633.6h-13M2438.2 2633.6h13M210.0 2626.2h-13M2438.2 2626.2h13M210.0 2618.8h-13M2438.2 2618.8h13M210.0 2611.4h-13M2438.2 2611.4h13M210.0 2604.0h-13M2438.2 2604.0h13M210.0 2596.6h-13M2438.2 2596.6h13M210.0 2589.2h-13M2438.2 2589.2h13M210.0 2581.7h-13M2438.2 2581.7h13M210.0 2574.3h-13M2438.2 2574.3h13M210.0 2566.9h-13M2438.2 2566.9h13M210.0 2559.5h-13M2438.2 2559.5h13M210.0 2552.1h-13M2438.2 2552.1h13M210.0 2544.7h-13M2438.2 2544.7h13M210.0 2537.3h-13M2438.2 2537.3h13M210.0 2529.9h-13M2438.2 2529.9h13M210.0 2522.5h-13M2438.2 2522.5h13M210.0 2515.0h-13M2438.2 2515.0h13M210.0 2507.6h-13M2438.2 2507.6h13M210.0 2500.2h-13M2438.2 2500.2h13M210.0 2492.8h-13M2438.2 2492.8h13M210.0 2485.4h-13M2438.2 2485.4h13M210.0 2478.0h-13M2438.2 2478.0h13M210.0 2470.6h-13M2438.2 2470.6h13M210.0 2463.2h-13M2438.2 2463.2h13M210.0 2455.8h-13M2438.2 2455.8h13M210.0 2448.3h-13M2438.2 2448.3h13M210.0 2440.9h-13M2438.2 2440.9h13M210.0 2433.5h-13M2438.2 2433.5h13M210.0 2426.1h-13M2438.2 2426.1h13M210.0 2418.7h-13M2438.2 2418.7h13M210.0 2411.3h-13M2438.2 2411.3h13M210.0 2403.9h-13M2438.2 2403.9h13M210.0 2396.5h-13M2438.2 2396.5h13M210.0 2389.1h-13M2438.2 2389.1h13M210.0 2381.6h-13M2438.2 2381.6h13M210.0 2374.2h-13M2438.2 2374.2h13M210.0 2366.8h-13M2438.2 2366.8h13M210.0 2359.4h-13M2438.2 2359.4h13M210.0 2352.0h-13M2438.2 2352.0h13M210.0 2344.6h-13M2438.2 2344.6h13M210.0 2337.2h-13M2438.2 2337.2h13M210.0 2329.8h-13M2438.2 2329.8h13M210.0 2322.4h-13M2438.2 2322.4h13M210.0 2314.9h-13M2438.2 2314.9h13M210.0 2307.5h-13M2438.2 2307.5h13M210.0 2300.1h-13M2438.2 2300.1h13M210.0 2292.7h-13M2438.2 2292.7h13M210.0 2285.3h-13M2438.2 2285.3h13M210.0 2277.9h-13M2438.2 2277.9h13M210.0 2270.5h-13M2438.2 2270.5h13M210.0 2263.1h-13M2438.2 2263.1h13M210.0 2255.7h-13M2438.2 2255.7h13M210.0 2248.3h-13M2438.2 2248.3h13M210.0 2240.8h-13M2438.2 2240.8h13M210.0 2233.4h-13M2438.2 2233.4h13M210.0 2226.0h-13M2438.2 2226.0h13M210.0 2218.6h-13M2438.2 2218.6h13M210.0 2211.2h-13M2438.2 2211.2h13M210.0 2203.8h-13M2438.2 2203.8h13M210.0 2196.4h-13M2438.2 2196.4h13M210.0 2189.0h-13M2438.2 2189.0h13M210.0 2181.6h-13M2438.2 2181.6h13M210.0 2174.1h-13M2438.2 2174.1h13M210.0 2166.7h-13M2438.2 2166.7h13M210.0 2159.3h-13M2438.2 2159.3h13M210.0 2151.9h-13M2438.2 2151.9h13M210.0 2144.5h-13M2438.2 2144.5h13M210.0 2137.1h-13M2438.2 2137.1h13M210.0 2129.7h-13M2438.2 2129.7h13M210.0 2122.3h-13M2438.2 2122.3h13M210.0 2114.9h-13M2438.2 2114.9h13M210.0 2107.4h-13M2438.2 2107.4h13M210.0 2100.0h-13M2438.2 2100.0h13M210.0 2092.6h-13M2438.2 2092.6h13M210.0 2085.2h-13M2438.2 2085.2h13M210.0 2077.8h-13M2438.2 2077.8h13M210.0 2070.4h-13M2438.2 2070.4h13M210.0 2063.0h-13M2438.2 2063.0h13M210.0 2055.6h-13M2438.2 2055.6h13M210.0 2048.2h-13M2438.2 2048.2h13M210.0 2040.7h-13M2438.2 2040.7h13M210.0 2033.3h-13M2438.2 2033.3h13M210.0 2025.9h-13M2438.2 2025.9h13M210.0 2018.5h-13M2438.2 2018.5h13M210.0 2011.1h-13M2438.2 2011.1h13M210.0 2003.7h-13M2438.2 2003.7h13M210.0 1996.3h-13M2438.2 1996.3h13M210.0 1988.9h-13M2438.2 1988.9h13M210.0 1981.5h-13M2438.2 1981.5h13M210.0 1974.0h-13M2438.2 1974.0h13M210.0 1966.6h-13M2438.2 1966.6h13M210.0 1959.2h-13M2438.2 1959.2h13M210.0 1951.8h-13M2438.2 1951.8h13M210.0 1944.4h-13M2438.2 1944.4h13M210.0 2685.5h-24M2438.2 2685.5h24M210.0 2611.4h-24M2438.2 2611.4h24M210.0 2537.3h-24M2438.2 2537.3h24M210.0 2463.2h-24M2438.2 2463.2h24M210.0 2389.1h-24M2438.2 2389.1h24M210.0 2314.9h-24M2438.2 2314.9h24M210.0 2240.8h-24M2438.2 2240.8h24M210.0 2166.7h-24M2438.2 2166.7h24M210.0 2092.6h-24M2438.2 2092.6h24M210.0 2018.5h-24M2438.2 2018.5h24M210.0 1944.4h-24M2438.2 1944.4h24" stroke="#606060" stroke-width="2.6" fill="none"/>
<path d="M210.0 1944.4v-13M210.0 2685.5v12M213.2 1944.4v-13M213.2 2685.5v12M216.4 1944.4v-13M216.4 2685.5v12M219.6 1944.4v-13M219.6 2685.5v12M222.8 1944.4v-13M222.8 2685.5v12M226.0 1944.4v-13M226.0 2685.5v12M229.2 1944.4v-13M229.2 2685.5v12M232.4 1944.4v-13M232.4 2685.5v12M235.6 1944.4v-13M235.6 2685.5v12M238.8 1944.4v-13M238.8 2685.5v12M242.0 1944.4v-13M242.0 2685.5v12M245.2 1944.4v-13M245.2 2685.5v12M248.4 1944.4v-13M248.4 2685.5v12M251.6 1944.4v-13M251.6 2685.5v12M254.8 1944.4v-13M254.8 2685.5v12M258.0 1944.4v-13M258.0 2685.5v12M261.2 1944.4v-13M261.2 2685.5v12M264.4 1944.4v-13M264.4 2685.5v12M267.6 1944.4v-13M267.6 2685.5v12M270.8 1944.4v-13M270.8 2685.5v12M274.0 1944.4v-13M274.0 2685.5v12M277.2 1944.4v-13M277.2 2685.5v12M280.4 1944.4v-13M280.4 2685.5v12M283.6 1944.4v-13M283.6 2685.5v12M286.8 1944.4v-13M286.8 2685.5v12M290.0 1944.4v-13M290.0 2685.5v12M293.2 1944.4v-13M293.2 2685.5v12M296.4 1944.4v-13M296.4 2685.5v12M299.6 1944.4v-13M299.6 2685.5v12M302.8 1944.4v-13M302.8 2685.5v12M306.0 1944.4v-13M306.0 2685.5v12M309.2 1944.4v-13M309.2 2685.5v12M312.4 1944.4v-13M312.4 2685.5v12M315.6 1944.4v-13M315.6 2685.5v12M318.8 1944.4v-13M318.8 2685.5v12M322.1 1944.4v-13M322.1 2685.5v12M325.3 1944.4v-13M325.3 2685.5v12M328.5 1944.4v-13M328.5 2685.5v12M331.7 1944.4v-13M331.7 2685.5v12M334.9 1944.4v-13M334.9 2685.5v12M338.1 1944.4v-13M338.1 2685.5v12M341.3 1944.4v-13M341.3 2685.5v12M344.5 1944.4v-13M344.5 2685.5v12M347.7 1944.4v-13M347.7 2685.5v12M350.9 1944.4v-13M350.9 2685.5v12M354.1 1944.4v-13M354.1 2685.5v12M357.3 1944.4v-13M357.3 2685.5v12M360.5 1944.4v-13M360.5 2685.5v12M363.7 1944.4v-13M363.7 2685.5v12M366.9 1944.4v-13M366.9 2685.5v12M370.1 1944.4v-13M370.1 2685.5v12M373.3 1944.4v-13M373.3 2685.5v12M376.5 1944.4v-13M376.5 2685.5v12M379.7 1944.4v-13M379.7 2685.5v12M382.9 1944.4v-13M382.9 2685.5v12M386.1 1944.4v-13M386.1 2685.5v12M389.3 1944.4v-13M389.3 2685.5v12M392.5 1944.4v-13M392.5 2685.5v12M395.7 1944.4v-13M395.7 2685.5v12M398.9 1944.4v-13M398.9 2685.5v12M402.1 1944.4v-13M402.1 2685.5v12M405.3 1944.4v-13M405.3 2685.5v12M408.5 1944.4v-13M408.5 2685.5v12M411.7 1944.4v-13M411.7 2685.5v12M414.9 1944.4v-13M414.9 2685.5v12M418.1 1944.4v-13M418.1 2685.5v12M421.3 1944.4v-13M421.3 2685.5v12M424.5 1944.4v-13M424.5 2685.5v12M427.7 1944.4v-13M427.7 2685.5v12M430.9 1944.4v-13M430.9 2685.5v12M434.1 1944.4v-13M434.1 2685.5v12M437.3 1944.4v-13M437.3 2685.5v12M440.5 1944.4v-13M440.5 2685.5v12M443.7 1944.4v-13M443.7 2685.5v12M446.9 1944.4v-13M446.9 2685.5v12M450.1 1944.4v-13M450.1 2685.5v12M453.3 1944.4v-13M453.3 2685.5v12M456.5 1944.4v-13M456.5 2685.5v12M459.7 1944.4v-13M459.7 2685.5v12M462.9 1944.4v-13M462.9 2685.5v12M466.1 1944.4v-13M466.1 2685.5v12M469.3 1944.4v-13M469.3 2685.5v12M472.5 1944.4v-13M472.5 2685.5v12M475.7 1944.4v-13M475.7 2685.5v12M478.9 1944.4v-13M478.9 2685.5v12M482.1 1944.4v-13M482.1 2685.5v12M485.3 1944.4v-13M485.3 2685.5v12M488.5 1944.4v-13M488.5 2685.5v12M491.7 1944.4v-13M491.7 2685.5v12M494.9 1944.4v-13M494.9 2685.5v12M498.1 1944.4v-13M498.1 2685.5v12M501.3 1944.4v-13M501.3 2685.5v12M504.5 1944.4v-13M504.5 2685.5v12M507.7 1944.4v-13M507.7 2685.5v12M510.9 1944.4v-13M510.9 2685.5v12M514.1 1944.4v-13M514.1 2685.5v12M517.3 1944.4v-13M517.3 2685.5v12M520.5 1944.4v-13M520.5 2685.5v12M523.7 1944.4v-13M523.7 2685.5v12M526.9 1944.4v-13M526.9 2685.5v12M530.1 1944.4v-13M530.1 2685.5v12M533.3 1944.4v-13M533.3 2685.5v12M536.5 1944.4v-13M536.5 2685.5v12M539.7 1944.4v-13M539.7 2685.5v12M542.9 1944.4v-13M542.9 2685.5v12M546.2 1944.4v-13M546.2 2685.5v12M549.4 1944.4v-13M549.4 2685.5v12M552.6 1944.4v-13M552.6 2685.5v12M555.8 1944.4v-13M555.8 2685.5v12M559.0 1944.4v-13M559.0 2685.5v12M562.2 1944.4v-13M562.2 2685.5v12M565.4 1944.4v-13M565.4 2685.5v12M568.6 1944.4v-13M568.6 2685.5v12M571.8 1944.4v-13M571.8 2685.5v12M575.0 1944.4v-13M575.0 2685.5v12M578.2 1944.4v-13M578.2 2685.5v12M581.4 1944.4v-13M581.4 2685.5v12M584.6 1944.4v-13M584.6 2685.5v12M587.8 1944.4v-13M587.8 2685.5v12M591.0 1944.4v-13M591.0 2685.5v12M594.2 1944.4v-13M594.2 2685.5v12M597.4 1944.4v-13M597.4 2685.5v12M600.6 1944.4v-13M600.6 2685.5v12M603.8 1944.4v-13M603.8 2685.5v12M607.0 1944.4v-13M607.0 2685.5v12M610.2 1944.4v-13M610.2 2685.5v12M613.4 1944.4v-13M613.4 2685.5v12M616.6 1944.4v-13M616.6 2685.5v12M619.8 1944.4v-13M619.8 2685.5v12M623.0 1944.4v-13M623.0 2685.5v12M626.2 1944.4v-13M626.2 2685.5v12M629.4 1944.4v-13M629.4 2685.5v12M632.6 1944.4v-13M632.6 2685.5v12M635.8 1944.4v-13M635.8 2685.5v12M639.0 1944.4v-13M639.0 2685.5v12M642.2 1944.4v-13M642.2 2685.5v12M645.4 1944.4v-13M645.4 2685.5v12M648.6 1944.4v-13M648.6 2685.5v12M651.8 1944.4v-13M651.8 2685.5v12M655.0 1944.4v-13M655.0 2685.5v12M658.2 1944.4v-13M658.2 2685.5v12M661.4 1944.4v-13M661.4 2685.5v12M664.6 1944.4v-13M664.6 2685.5v12M667.8 1944.4v-13M667.8 2685.5v12M671.0 1944.4v-13M671.0 2685.5v12M674.2 1944.4v-13M674.2 2685.5v12M677.4 1944.4v-13M677.4 2685.5v12M680.6 1944.4v-13M680.6 2685.5v12M683.8 1944.4v-13M683.8 2685.5v12M687.0 1944.4v-13M687.0 2685.5v12M690.2 1944.4v-13M690.2 2685.5v12M693.4 1944.4v-13M693.4 2685.5v12M696.6 1944.4v-13M696.6 2685.5v12M699.8 1944.4v-13M699.8 2685.5v12M703.0 1944.4v-13M703.0 2685.5v12M706.2 1944.4v-13M706.2 2685.5v12M709.4 1944.4v-13M709.4 2685.5v12M712.6 1944.4v-13M712.6 2685.5v12M715.8 1944.4v-13M715.8 2685.5v12M719.0 1944.4v-13M719.0 2685.5v12M722.2 1944.4v-13M722.2 2685.5v12M725.4 1944.4v-13M725.4 2685.5v12M728.6 1944.4v-13M728.6 2685.5v12M731.8 1944.4v-13M731.8 2685.5v12M735.0 1944.4v-13M735.0 2685.5v12M738.2 1944.4v-13M738.2 2685.5v12M741.4 1944.4v-13M741.4 2685.5v12M744.6 1944.4v-13M744.6 2685.5v12M747.8 1944.4v-13M747.8 2685.5v12M751.0 1944.4v-13M751.0 2685.5v12M754.2 1944.4v-13M754.2 2685.5v12M757.4 1944.4v-13M757.4 2685.5v12M760.6 1944.4v-13M760.6 2685.5v12M763.8 1944.4v-13M763.8 2685.5v12M767.0 1944.4v-13M767.0 2685.5v12M770.3 1944.4v-13M770.3 2685.5v12M773.5 1944.4v-13M773.5 2685.5v12M776.7 1944.4v-13M776.7 2685.5v12M779.9 1944.4v-13M779.9 2685.5v12M783.1 1944.4v-13M783.1 2685.5v12M786.3 1944.4v-13M786.3 2685.5v12M789.5 1944.4v-13M789.5 2685.5v12M792.7 1944.4v-13M792.7 2685.5v12M795.9 1944.4v-13M795.9 2685.5v12M799.1 1944.4v-13M799.1 2685.5v12M802.3 1944.4v-13M802.3 2685.5v12M805.5 1944.4v-13M805.5 2685.5v12M808.7 1944.4v-13M808.7 2685.5v12M811.9 1944.4v-13M811.9 2685.5v12M815.1 1944.4v-13M815.1 2685.5v12M818.3 1944.4v-13M818.3 2685.5v12M821.5 1944.4v-13M821.5 2685.5v12M824.7 1944.4v-13M824.7 2685.5v12M827.9 1944.4v-13M827.9 2685.5v12M831.1 1944.4v-13M831.1 2685.5v12M834.3 1944.4v-13M834.3 2685.5v12M837.5 1944.4v-13M837.5 2685.5v12M840.7 1944.4v-13M840.7 2685.5v12M843.9 1944.4v-13M843.9 2685.5v12M847.1 1944.4v-13M847.1 2685.5v12M850.3 1944.4v-13M850.3 2685.5v12M853.5 1944.4v-13M853.5 2685.5v12M856.7 1944.4v-13M856.7 2685.5v12M859.9 1944.4v-13M859.9 2685.5v12M863.1 1944.4v-13M863.1 2685.5v12M866.3 1944.4v-13M866.3 2685.5v12M869.5 1944.4v-13M869.5 2685.5v12M872.7 1944.4v-13M872.7 2685.5v12M875.9 1944.4v-13M875.9 2685.5v12M879.1 1944.4v-13M879.1 2685.5v12M882.3 1944.4v-13M882.3 2685.5v12M885.5 1944.4v-13M885.5 2685.5v12M888.7 1944.4v-13M888.7 2685.5v12M891.9 1944.4v-13M891.9 2685.5v12M895.1 1944.4v-13M895.1 2685.5v12M898.3 1944.4v-13M898.3 2685.5v12M901.5 1944.4v-13M901.5 2685.5v12M904.7 1944.4v-13M904.7 2685.5v12M907.9 1944.4v-13M907.9 2685.5v12M911.1 1944.4v-13M911.1 2685.5v12M914.3 1944.4v-13M914.3 2685.5v12M917.5 1944.4v-13M917.5 2685.5v12M920.7 1944.4v-13M920.7 2685.5v12M923.9 1944.4v-13M923.9 2685.5v12M927.1 1944.4v-13M927.1 2685.5v12M930.3 1944.4v-13M930.3 2685.5v12M933.5 1944.4v-13M933.5 2685.5v12M936.7 1944.4v-13M936.7 2685.5v12M939.9 1944.4v-13M939.9 2685.5v12M943.1 1944.4v-13M943.1 2685.5v12M946.3 1944.4v-13M946.3 2685.5v12M949.5 1944.4v-13M949.5 2685.5v12M952.7 1944.4v-13M952.7 2685.5v12M955.9 1944.4v-13M955.9 2685.5v12M959.1 1944.4v-13M959.1 2685.5v12M962.3 1944.4v-13M962.3 2685.5v12M965.5 1944.4v-13M965.5 2685.5v12M968.7 1944.4v-13M968.7 2685.5v12M971.9 1944.4v-13M971.9 2685.5v12M975.1 1944.4v-13M975.1 2685.5v12M978.3 1944.4v-13M978.3 2685.5v12M981.5 1944.4v-13M981.5 2685.5v12M984.7 1944.4v-13M984.7 2685.5v12M987.9 1944.4v-13M987.9 2685.5v12M991.2 1944.4v-13M991.2 2685.5v12M994.4 1944.4v-13M994.4 2685.5v12M997.6 1944.4v-13M997.6 2685.5v12M1000.8 1944.4v-13M1000.8 2685.5v12M1004.0 1944.4v-13M1004.0 2685.5v12M1007.2 1944.4v-13M1007.2 2685.5v12M1010.4 1944.4v-13M1010.4 2685.5v12M1013.6 1944.4v-13M1013.6 2685.5v12M1016.8 1944.4v-13M1016.8 2685.5v12M1020.0 1944.4v-13M1020.0 2685.5v12M1023.2 1944.4v-13M1023.2 2685.5v12M1026.4 1944.4v-13M1026.4 2685.5v12M1029.6 1944.4v-13M1029.6 2685.5v12M1032.8 1944.4v-13M1032.8 2685.5v12M1036.0 1944.4v-13M1036.0 2685.5v12M1039.2 1944.4v-13M1039.2 2685.5v12M1042.4 1944.4v-13M1042.4 2685.5v12M1045.6 1944.4v-13M1045.6 2685.5v12M1048.8 1944.4v-13M1048.8 2685.5v12M1052.0 1944.4v-13M1052.0 2685.5v12M1055.2 1944.4v-13M1055.2 2685.5v12M1058.4 1944.4v-13M1058.4 2685.5v12M1061.6 1944.4v-13M1061.6 2685.5v12M1064.8 1944.4v-13M1064.8 2685.5v12M1068.0 1944.4v-13M1068.0 2685.5v12M1071.2 1944.4v-13M1071.2 2685.5v12M1074.4 1944.4v-13M1074.4 2685.5v12M1077.6 1944.4v-13M1077.6 2685.5v12M1080.8 1944.4v-13M1080.8 2685.5v12M1084.0 1944.4v-13M1084.0 2685.5v12M1087.2 1944.4v-13M1087.2 2685.5v12M1090.4 1944.4v-13M1090.4 2685.5v12M1093.6 1944.4v-13M1093.6 2685.5v12M1096.8 1944.4v-13M1096.8 2685.5v12M1100.0 1944.4v-13M1100.0 2685.5v12M1103.2 1944.4v-13M1103.2 2685.5v12M1106.4 1944.4v-13M1106.4 2685.5v12M1109.6 1944.4v-13M1109.6 2685.5v12M1112.8 1944.4v-13M1112.8 2685.5v12M1116.0 1944.4v-13M1116.0 2685.5v12M1119.2 1944.4v-13M1119.2 2685.5v12M1122.4 1944.4v-13M1122.4 2685.5v12M1125.6 1944.4v-13M1125.6 2685.5v12M1128.8 1944.4v-13M1128.8 2685.5v12M1132.0 1944.4v-13M1132.0 2685.5v12M1135.2 1944.4v-13M1135.2 2685.5v12M1138.4 1944.4v-13M1138.4 2685.5v12M1141.6 1944.4v-13M1141.6 2685.5v12M1144.8 1944.4v-13M1144.8 2685.5v12M1148.0 1944.4v-13M1148.0 2685.5v12M1151.2 1944.4v-13M1151.2 2685.5v12M1154.4 1944.4v-13M1154.4 2685.5v12M1157.6 1944.4v-13M1157.6 2685.5v12M1160.8 1944.4v-13M1160.8 2685.5v12M1164.0 1944.4v-13M1164.0 2685.5v12M1167.2 1944.4v-13M1167.2 2685.5v12M1170.4 1944.4v-13M1170.4 2685.5v12M1173.6 1944.4v-13M1173.6 2685.5v12M1176.8 1944.4v-13M1176.8 2685.5v12M1180.0 1944.4v-13M1180.0 2685.5v12M1183.2 1944.4v-13M1183.2 2685.5v12M1186.4 1944.4v-13M1186.4 2685.5v12M1189.6 1944.4v-13M1189.6 2685.5v12M1192.8 1944.4v-13M1192.8 2685.5v12M1196.0 1944.4v-13M1196.0 2685.5v12M1199.2 1944.4v-13M1199.2 2685.5v12M1202.4 1944.4v-13M1202.4 2685.5v12M1205.6 1944.4v-13M1205.6 2685.5v12M1208.8 1944.4v-13M1208.8 2685.5v12M1212.0 1944.4v-13M1212.0 2685.5v12M1215.3 1944.4v-13M1215.3 2685.5v12M1218.5 1944.4v-13M1218.5 2685.5v12M1221.7 1944.4v-13M1221.7 2685.5v12M1224.9 1944.4v-13M1224.9 2685.5v12M1228.1 1944.4v-13M1228.1 2685.5v12M1231.3 1944.4v-13M1231.3 2685.5v12M1234.5 1944.4v-13M1234.5 2685.5v12M1237.7 1944.4v-13M1237.7 2685.5v12M1240.9 1944.4v-13M1240.9 2685.5v12M1244.1 1944.4v-13M1244.1 2685.5v12M1247.3 1944.4v-13M1247.3 2685.5v12M1250.5 1944.4v-13M1250.5 2685.5v12M1253.7 1944.4v-13M1253.7 2685.5v12M1256.9 1944.4v-13M1256.9 2685.5v12M1260.1 1944.4v-13M1260.1 2685.5v12M1263.3 1944.4v-13M1263.3 2685.5v12M1266.5 1944.4v-13M1266.5 2685.5v12M1269.7 1944.4v-13M1269.7 2685.5v12M1272.9 1944.4v-13M1272.9 2685.5v12M1276.1 1944.4v-13M1276.1 2685.5v12M1279.3 1944.4v-13M1279.3 2685.5v12M1282.5 1944.4v-13M1282.5 2685.5v12M1285.7 1944.4v-13M1285.7 2685.5v12M1288.9 1944.4v-13M1288.9 2685.5v12M1292.1 1944.4v-13M1292.1 2685.5v12M1295.3 1944.4v-13M1295.3 2685.5v12M1298.5 1944.4v-13M1298.5 2685.5v12M1301.7 1944.4v-13M1301.7 2685.5v12M1304.9 1944.4v-13M1304.9 2685.5v12M1308.1 1944.4v-13M1308.1 2685.5v12M1311.3 1944.4v-13M1311.3 2685.5v12M1314.5 1944.4v-13M1314.5 2685.5v12M1317.7 1944.4v-13M1317.7 2685.5v12M1320.9 1944.4v-13M1320.9 2685.5v12M1324.1 1944.4v-13M1324.1 2685.5v12M1327.3 1944.4v-13M1327.3 2685.5v12M1330.5 1944.4v-13M1330.5 2685.5v12M1333.7 1944.4v-13M1333.7 2685.5v12M1336.9 1944.4v-13M1336.9 2685.5v12M1340.1 1944.4v-13M1340.1 2685.5v12M1343.3 1944.4v-13M1343.3 2685.5v12M1346.5 1944.4v-13M1346.5 2685.5v12M1349.7 1944.4v-13M1349.7 2685.5v12M1352.9 1944.4v-13M1352.9 2685.5v12M1356.1 1944.4v-13M1356.1 2685.5v12M1359.3 1944.4v-13M1359.3 2685.5v12M1362.5 1944.4v-13M1362.5 2685.5v12M1365.7 1944.4v-13M1365.7 2685.5v12M1368.9 1944.4v-13M1368.9 2685.5v12M1372.1 1944.4v-13M1372.1 2685.5v12M1375.3 1944.4v-13M1375.3 2685.5v12M1378.5 1944.4v-13M1378.5 2685.5v12M1381.7 1944.4v-13M1381.7 2685.5v12M1384.9 1944.4v-13M1384.9 2685.5v12M1388.1 1944.4v-13M1388.1 2685.5v12M1391.3 1944.4v-13M1391.3 2685.5v12M1394.5 1944.4v-13M1394.5 2685.5v12M1397.7 1944.4v-13M1397.7 2685.5v12M1400.9 1944.4v-13M1400.9 2685.5v12M1404.1 1944.4v-13M1404.1 2685.5v12M1407.3 1944.4v-13M1407.3 2685.5v12M1410.5 1944.4v-13M1410.5 2685.5v12M1413.7 1944.4v-13M1413.7 2685.5v12M1416.9 1944.4v-13M1416.9 2685.5v12M1420.1 1944.4v-13M1420.1 2685.5v12M1423.3 1944.4v-13M1423.3 2685.5v12M1426.5 1944.4v-13M1426.5 2685.5v12M1429.7 1944.4v-13M1429.7 2685.5v12M1432.9 1944.4v-13M1432.9 2685.5v12M1436.2 1944.4v-13M1436.2 2685.5v12M1439.4 1944.4v-13M1439.4 2685.5v12M1442.6 1944.4v-13M1442.6 2685.5v12M1445.8 1944.4v-13M1445.8 2685.5v12M1449.0 1944.4v-13M1449.0 2685.5v12M1452.2 1944.4v-13M1452.2 2685.5v12M1455.4 1944.4v-13M1455.4 2685.5v12M1458.6 1944.4v-13M1458.6 2685.5v12M1461.8 1944.4v-13M1461.8 2685.5v12M1465.0 1944.4v-13M1465.0 2685.5v12M1468.2 1944.4v-13M1468.2 2685.5v12M1471.4 1944.4v-13M1471.4 2685.5v12M1474.6 1944.4v-13M1474.6 2685.5v12M1477.8 1944.4v-13M1477.8 2685.5v12M1481.0 1944.4v-13M1481.0 2685.5v12M1484.2 1944.4v-13M1484.2 2685.5v12M1487.4 1944.4v-13M1487.4 2685.5v12M1490.6 1944.4v-13M1490.6 2685.5v12M1493.8 1944.4v-13M1493.8 2685.5v12M1497.0 1944.4v-13M1497.0 2685.5v12M1500.2 1944.4v-13M1500.2 2685.5v12M1503.4 1944.4v-13M1503.4 2685.5v12M1506.6 1944.4v-13M1506.6 2685.5v12M1509.8 1944.4v-13M1509.8 2685.5v12M1513.0 1944.4v-13M1513.0 2685.5v12M1516.2 1944.4v-13M1516.2 2685.5v12M1519.4 1944.4v-13M1519.4 2685.5v12M1522.6 1944.4v-13M1522.6 2685.5v12M1525.8 1944.4v-13M1525.8 2685.5v12M1529.0 1944.4v-13M1529.0 2685.5v12M1532.2 1944.4v-13M1532.2 2685.5v12M1535.4 1944.4v-13M1535.4 2685.5v12M1538.6 1944.4v-13M1538.6 2685.5v12M1541.8 1944.4v-13M1541.8 2685.5v12M1545.0 1944.4v-13M1545.0 2685.5v12M1548.2 1944.4v-13M1548.2 2685.5v12M1551.4 1944.4v-13M1551.4 2685.5v12M1554.6 1944.4v-13M1554.6 2685.5v12M1557.8 1944.4v-13M1557.8 2685.5v12M1561.0 1944.4v-13M1561.0 2685.5v12M1564.2 1944.4v-13M1564.2 2685.5v12M1567.4 1944.4v-13M1567.4 2685.5v12M1570.6 1944.4v-13M1570.6 2685.5v12M1573.8 1944.4v-13M1573.8 2685.5v12M1577.0 1944.4v-13M1577.0 2685.5v12M1580.2 1944.4v-13M1580.2 2685.5v12M1583.4 1944.4v-13M1583.4 2685.5v12M1586.6 1944.4v-13M1586.6 2685.5v12M1589.8 1944.4v-13M1589.8 2685.5v12M1593.0 1944.4v-13M1593.0 2685.5v12M1596.2 1944.4v-13M1596.2 2685.5v12M1599.4 1944.4v-13M1599.4 2685.5v12M1602.6 1944.4v-13M1602.6 2685.5v12M1605.8 1944.4v-13M1605.8 2685.5v12M1609.0 1944.4v-13M1609.0 2685.5v12M1612.2 1944.4v-13M1612.2 2685.5v12M1615.4 1944.4v-13M1615.4 2685.5v12M1618.6 1944.4v-13M1618.6 2685.5v12M1621.8 1944.4v-13M1621.8 2685.5v12M1625.0 1944.4v-13M1625.0 2685.5v12M1628.2 1944.4v-13M1628.2 2685.5v12M1631.4 1944.4v-13M1631.4 2685.5v12M1634.6 1944.4v-13M1634.6 2685.5v12M1637.8 1944.4v-13M1637.8 2685.5v12M1641.0 1944.4v-13M1641.0 2685.5v12M1644.2 1944.4v-13M1644.2 2685.5v12M1647.4 1944.4v-13M1647.4 2685.5v12M1650.6 1944.4v-13M1650.6 2685.5v12M1653.8 1944.4v-13M1653.8 2685.5v12M1657.0 1944.4v-13M1657.0 2685.5v12M1660.3 1944.4v-13M1660.3 2685.5v12M1663.5 1944.4v-13M1663.5 2685.5v12M1666.7 1944.4v-13M1666.7 2685.5v12M1669.9 1944.4v-13M1669.9 2685.5v12M1673.1 1944.4v-13M1673.1 2685.5v12M1676.3 1944.4v-13M1676.3 2685.5v12M1679.5 1944.4v-13M1679.5 2685.5v12M1682.7 1944.4v-13M1682.7 2685.5v12M1685.9 1944.4v-13M1685.9 2685.5v12M1689.1 1944.4v-13M1689.1 2685.5v12M1692.3 1944.4v-13M1692.3 2685.5v12M1695.5 1944.4v-13M1695.5 2685.5v12M1698.7 1944.4v-13M1698.7 2685.5v12M1701.9 1944.4v-13M1701.9 2685.5v12M1705.1 1944.4v-13M1705.1 2685.5v12M1708.3 1944.4v-13M1708.3 2685.5v12M1711.5 1944.4v-13M1711.5 2685.5v12M1714.7 1944.4v-13M1714.7 2685.5v12M1717.9 1944.4v-13M1717.9 2685.5v12M1721.1 1944.4v-13M1721.1 2685.5v12M1724.3 1944.4v-13M1724.3 2685.5v12M1727.5 1944.4v-13M1727.5 2685.5v12M1730.7 1944.4v-13M1730.7 2685.5v12M1733.9 1944.4v-13M1733.9 2685.5v12M1737.1 1944.4v-13M1737.1 2685.5v12M1740.3 1944.4v-13M1740.3 2685.5v12M1743.5 1944.4v-13M1743.5 2685.5v12M1746.7 1944.4v-13M1746.7 2685.5v12M1749.9 1944.4v-13M1749.9 2685.5v12M1753.1 1944.4v-13M1753.1 2685.5v12M1756.3 1944.4v-13M1756.3 2685.5v12M1759.5 1944.4v-13M1759.5 2685.5v12M1762.7 1944.4v-13M1762.7 2685.5v12M1765.9 1944.4v-13M1765.9 2685.5v12M1769.1 1944.4v-13M1769.1 2685.5v12M1772.3 1944.4v-13M1772.3 2685.5v12M1775.5 1944.4v-13M1775.5 2685.5v12M1778.7 1944.4v-13M1778.7 2685.5v12M1781.9 1944.4v-13M1781.9 2685.5v12M1785.1 1944.4v-13M1785.1 2685.5v12M1788.3 1944.4v-13M1788.3 2685.5v12M1791.5 1944.4v-13M1791.5 2685.5v12M1794.7 1944.4v-13M1794.7 2685.5v12M1797.9 1944.4v-13M1797.9 2685.5v12M1801.1 1944.4v-13M1801.1 2685.5v12M1804.3 1944.4v-13M1804.3 2685.5v12M1807.5 1944.4v-13M1807.5 2685.5v12M1810.7 1944.4v-13M1810.7 2685.5v12M1813.9 1944.4v-13M1813.9 2685.5v12M1817.1 1944.4v-13M1817.1 2685.5v12M1820.3 1944.4v-13M1820.3 2685.5v12M1823.5 1944.4v-13M1823.5 2685.5v12M1826.7 1944.4v-13M1826.7 2685.5v12M1829.9 1944.4v-13M1829.9 2685.5v12M1833.1 1944.4v-13M1833.1 2685.5v12M1836.3 1944.4v-13M1836.3 2685.5v12M1839.5 1944.4v-13M1839.5 2685.5v12M1842.7 1944.4v-13M1842.7 2685.5v12M1845.9 1944.4v-13M1845.9 2685.5v12M1849.1 1944.4v-13M1849.1 2685.5v12M1852.3 1944.4v-13M1852.3 2685.5v12M1855.5 1944.4v-13M1855.5 2685.5v12M1858.7 1944.4v-13M1858.7 2685.5v12M1861.9 1944.4v-13M1861.9 2685.5v12M1865.1 1944.4v-13M1865.1 2685.5v12M1868.3 1944.4v-13M1868.3 2685.5v12M1871.5 1944.4v-13M1871.5 2685.5v12M1874.7 1944.4v-13M1874.7 2685.5v12M1877.9 1944.4v-13M1877.9 2685.5v12M1881.1 1944.4v-13M1881.1 2685.5v12M1884.4 1944.4v-13M1884.4 2685.5v12M1887.6 1944.4v-13M1887.6 2685.5v12M1890.8 1944.4v-13M1890.8 2685.5v12M1894.0 1944.4v-13M1894.0 2685.5v12M1897.2 1944.4v-13M1897.2 2685.5v12M1900.4 1944.4v-13M1900.4 2685.5v12M1903.6 1944.4v-13M1903.6 2685.5v12M1906.8 1944.4v-13M1906.8 2685.5v12M1910.0 1944.4v-13M1910.0 2685.5v12M1913.2 1944.4v-13M1913.2 2685.5v12M1916.4 1944.4v-13M1916.4 2685.5v12M1919.6 1944.4v-13M1919.6 2685.5v12M1922.8 1944.4v-13M1922.8 2685.5v12M1926.0 1944.4v-13M1926.0 2685.5v12M1929.2 1944.4v-13M1929.2 2685.5v12M1932.4 1944.4v-13M1932.4 2685.5v12M1935.6 1944.4v-13M1935.6 2685.5v12M1938.8 1944.4v-13M1938.8 2685.5v12M1942.0 1944.4v-13M1942.0 2685.5v12M1945.2 1944.4v-13M1945.2 2685.5v12M1948.4 1944.4v-13M1948.4 2685.5v12M1951.6 1944.4v-13M1951.6 2685.5v12M1954.8 1944.4v-13M1954.8 2685.5v12M1958.0 1944.4v-13M1958.0 2685.5v12M1961.2 1944.4v-13M1961.2 2685.5v12M1964.4 1944.4v-13M1964.4 2685.5v12M1967.6 1944.4v-13M1967.6 2685.5v12M1970.8 1944.4v-13M1970.8 2685.5v12M1974.0 1944.4v-13M1974.0 2685.5v12M1977.2 1944.4v-13M1977.2 2685.5v12M1980.4 1944.4v-13M1980.4 2685.5v12M1983.6 1944.4v-13M1983.6 2685.5v12M1986.8 1944.4v-13M1986.8 2685.5v12M1990.0 1944.4v-13M1990.0 2685.5v12M1993.2 1944.4v-13M1993.2 2685.5v12M1996.4 1944.4v-13M1996.4 2685.5v12M1999.6 1944.4v-13M1999.6 2685.5v12M2002.8 1944.4v-13M2002.8 2685.5v12M2006.0 1944.4v-13M2006.0 2685.5v12M2009.2 1944.4v-13M2009.2 2685.5v12M2012.4 1944.4v-13M2012.4 2685.5v12M2015.6 1944.4v-13M2015.6 2685.5v12M2018.8 1944.4v-13M2018.8 2685.5v12M2022.0 1944.4v-13M2022.0 2685.5v12M2025.2 1944.4v-13M2025.2 2685.5v12M2028.4 1944.4v-13M2028.4 2685.5v12M2031.6 1944.4v-13M2031.6 2685.5v12M2034.8 1944.4v-13M2034.8 2685.5v12M2038.0 1944.4v-13M2038.0 2685.5v12M2041.2 1944.4v-13M2041.2 2685.5v12M2044.4 1944.4v-13M2044.4 2685.5v12M2047.6 1944.4v-13M2047.6 2685.5v12M2050.8 1944.4v-13M2050.8 2685.5v12M2054.0 1944.4v-13M2054.0 2685.5v12M2057.2 1944.4v-13M2057.2 2685.5v12M2060.4 1944.4v-13M2060.4 2685.5v12M2063.6 1944.4v-13M2063.6 2685.5v12M2066.8 1944.4v-13M2066.8 2685.5v12M2070.0 1944.4v-13M2070.0 2685.5v12M2073.2 1944.4v-13M2073.2 2685.5v12M2076.4 1944.4v-13M2076.4 2685.5v12M2079.6 1944.4v-13M2079.6 2685.5v12M2082.8 1944.4v-13M2082.8 2685.5v12M2086.0 1944.4v-13M2086.0 2685.5v12M2089.2 1944.4v-13M2089.2 2685.5v12M2092.4 1944.4v-13M2092.4 2685.5v12M2095.6 1944.4v-13M2095.6 2685.5v12M2098.8 1944.4v-13M2098.8 2685.5v12M2102.0 1944.4v-13M2102.0 2685.5v12M2105.3 1944.4v-13M2105.3 2685.5v12M2108.5 1944.4v-13M2108.5 2685.5v12M2111.7 1944.4v-13M2111.7 2685.5v12M2114.9 1944.4v-13M2114.9 2685.5v12M2118.1 1944.4v-13M2118.1 2685.5v12M2121.3 1944.4v-13M2121.3 2685.5v12M2124.5 1944.4v-13M2124.5 2685.5v12M2127.7 1944.4v-13M2127.7 2685.5v12M2130.9 1944.4v-13M2130.9 2685.5v12M2134.1 1944.4v-13M2134.1 2685.5v12M2137.3 1944.4v-13M2137.3 2685.5v12M2140.5 1944.4v-13M2140.5 2685.5v12M2143.7 1944.4v-13M2143.7 2685.5v12M2146.9 1944.4v-13M2146.9 2685.5v12M2150.1 1944.4v-13M2150.1 2685.5v12M2153.3 1944.4v-13M2153.3 2685.5v12M2156.5 1944.4v-13M2156.5 2685.5v12M2159.7 1944.4v-13M2159.7 2685.5v12M2162.9 1944.4v-13M2162.9 2685.5v12M2166.1 1944.4v-13M2166.1 2685.5v12M2169.3 1944.4v-13M2169.3 2685.5v12M2172.5 1944.4v-13M2172.5 2685.5v12M2175.7 1944.4v-13M2175.7 2685.5v12M2178.9 1944.4v-13M2178.9 2685.5v12M2182.1 1944.4v-13M2182.1 2685.5v12M2185.3 1944.4v-13M2185.3 2685.5v12M2188.5 1944.4v-13M2188.5 2685.5v12M2191.7 1944.4v-13M2191.7 2685.5v12M2194.9 1944.4v-13M2194.9 2685.5v12M2198.1 1944.4v-13M2198.1 2685.5v12M2201.3 1944.4v-13M2201.3 2685.5v12M2204.5 1944.4v-13M2204.5 2685.5v12M2207.7 1944.4v-13M2207.7 2685.5v12M2210.9 1944.4v-13M2210.9 2685.5v12M2214.1 1944.4v-13M2214.1 2685.5v12M2217.3 1944.4v-13M2217.3 2685.5v12M2220.5 1944.4v-13M2220.5 2685.5v12M2223.7 1944.4v-13M2223.7 2685.5v12M2226.9 1944.4v-13M2226.9 2685.5v12M2230.1 1944.4v-13M2230.1 2685.5v12M2233.3 1944.4v-13M2233.3 2685.5v12M2236.5 1944.4v-13M2236.5 2685.5v12M2239.7 1944.4v-13M2239.7 2685.5v12M2242.9 1944.4v-13M2242.9 2685.5v12M2246.1 1944.4v-13M2246.1 2685.5v12M2249.3 1944.4v-13M2249.3 2685.5v12M2252.5 1944.4v-13M2252.5 2685.5v12M2255.7 1944.4v-13M2255.7 2685.5v12M2258.9 1944.4v-13M2258.9 2685.5v12M2262.1 1944.4v-13M2262.1 2685.5v12M2265.3 1944.4v-13M2265.3 2685.5v12M2268.5 1944.4v-13M2268.5 2685.5v12M2271.7 1944.4v-13M2271.7 2685.5v12M2274.9 1944.4v-13M2274.9 2685.5v12M2278.1 1944.4v-13M2278.1 2685.5v12M2281.3 1944.4v-13M2281.3 2685.5v12M2284.5 1944.4v-13M2284.5 2685.5v12M2287.7 1944.4v-13M2287.7 2685.5v12M2290.9 1944.4v-13M2290.9 2685.5v12M2294.1 1944.4v-13M2294.1 2685.5v12M2297.3 1944.4v-13M2297.3 2685.5v12M2300.5 1944.4v-13M2300.5 2685.5v12M2303.7 1944.4v-13M2303.7 2685.5v12M2306.9 1944.4v-13M2306.9 2685.5v12M2310.1 1944.4v-13M2310.1 2685.5v12M2313.3 1944.4v-13M2313.3 2685.5v12M2316.5 1944.4v-13M2316.5 2685.5v12M2319.7 1944.4v-13M2319.7 2685.5v12M2322.9 1944.4v-13M2322.9 2685.5v12M2326.1 1944.4v-13M2326.1 2685.5v12M2329.4 1944.4v-13M2329.4 2685.5v12M2332.6 1944.4v-13M2332.6 2685.5v12M2335.8 1944.4v-13M2335.8 2685.5v12M2339.0 1944.4v-13M2339.0 2685.5v12M2342.2 1944.4v-13M2342.2 2685.5v12M2345.4 1944.4v-13M2345.4 2685.5v12M2348.6 1944.4v-13M2348.6 2685.5v12M2351.8 1944.4v-13M2351.8 2685.5v12M2355.0 1944.4v-13M2355.0 2685.5v12M2358.2 1944.4v-13M2358.2 2685.5v12M2361.4 1944.4v-13M2361.4 2685.5v12M2364.6 1944.4v-13M2364.6 2685.5v12M2367.8 1944.4v-13M2367.8 2685.5v12M2371.0 1944.4v-13M2371.0 2685.5v12M2374.2 1944.4v-13M2374.2 2685.5v12M2377.4 1944.4v-13M2377.4 2685.5v12M2380.6 1944.4v-13M2380.6 2685.5v12M2383.8 1944.4v-13M2383.8 2685.5v12M2387.0 1944.4v-13M2387.0 2685.5v12M2390.2 1944.4v-13M2390.2 2685.5v12M2393.4 1944.4v-13M2393.4 2685.5v12M2396.6 1944.4v-13M2396.6 2685.5v12M2399.8 1944.4v-13M2399.8 2685.5v12M2403.0 1944.4v-13M2403.0 2685.5v12M2406.2 1944.4v-13M2406.2 2685.5v12M2409.4 1944.4v-13M2409.4 2685.5v12M2412.6 1944.4v-13M2412.6 2685.5v12M2415.8 1944.4v-13M2415.8 2685.5v12M2419.0 1944.4v-13M2419.0 2685.5v12M2422.2 1944.4v-13M2422.2 2685.5v12M2425.4 1944.4v-13M2425.4 2685.5v12M2428.6 1944.4v-13M2428.6 2685.5v12M2431.8 1944.4v-13M2431.8 2685.5v12M2435.0 1944.4v-13M2435.0 2685.5v12M2438.2 1944.4v-13M2438.2 2685.5v12" stroke="#606060" stroke-width="1.4" fill="none"/>
<text x="166" y="2704.0" class="tk" text-anchor="end">-8</text>
<text x="166" y="2629.9" class="tk" text-anchor="end">-6</text>
<text x="166" y="2555.8" class="tk" text-anchor="end">-4</text>
<text x="166" y="2481.7" class="tk" text-anchor="end">-2</text>
<text x="166" y="2407.6" class="tk" text-anchor="end">0</text>
<text x="166" y="2333.4" class="tk" text-anchor="end">2</text>
<text x="166" y="2259.3" class="tk" text-anchor="end">4</text>
<text x="166" y="2185.2" class="tk" text-anchor="end">6</text>
<text x="166" y="2111.1" class="tk" text-anchor="end">8</text>
<text x="166" y="2037.0" class="tk" text-anchor="end">10</text>
<text x="166" y="1962.9" class="tk" text-anchor="end">12</text>
<text x="210.0" y="2778" class="tk" text-anchor="middle">1994</text>
<text x="363.7" y="2778" class="tk" text-anchor="middle">1996</text>
<text x="517.3" y="2778" class="tk" text-anchor="middle">1998</text>
<text x="671.0" y="2778" class="tk" text-anchor="middle">2000</text>
<text x="824.7" y="2778" class="tk" text-anchor="middle">2002</text>
<text x="978.3" y="2778" class="tk" text-anchor="middle">2004</text>
<text x="1132.0" y="2778" class="tk" text-anchor="middle">2006</text>
<text x="1285.7" y="2778" class="tk" text-anchor="middle">2008</text>
<text x="1439.4" y="2778" class="tk" text-anchor="middle">2010</text>
<text x="1593.0" y="2778" class="tk" text-anchor="middle">2012</text>
<text x="1746.7" y="2778" class="tk" text-anchor="middle">2014</text>
<text x="1900.4" y="2778" class="tk" text-anchor="middle">2016</text>
<text x="2054.0" y="2778" class="tk" text-anchor="middle">2018</text>
<text x="2207.7" y="2778" class="tk" text-anchor="middle">2020</text>
<text x="2361.4" y="2778" class="tk" text-anchor="middle">2022</text>
<text transform="translate(82,2314.9) rotate(-90)" class="lb" text-anchor="middle">vertical (cm)</text>
<text x="1324.1" y="2848" class="lb" text-anchor="middle">year</text>
<clipPath id="c3"><rect x="210.0" y="1944.4" width="2228.2" height="741.1"/></clipPath>
<g clip-path="url(#c3)">
<path d="M594.2 2240.6V2296.7m-5 0h10M589.2 2240.6h10M595.1 2250.4V2297.4m-5 0h10M590.1 2250.4h10M596 2222.9V2274m-5 0h10M591 2222.9h10M596.9 2238.8V2287.3m-5 0h10M591.9 2238.8h10M597.9 2239.8V2282.6m-5 0h10M592.9 2239.8h10M598.8 2241.3V2284.7m-5 0h10M593.8 2241.3h10M599.7 2217.6V2272.6m-5 0h10M594.7 2217.6h10M600.7 2252.9V2314.2m-5 0h10M595.7 2252.9h10M601.6 2246.4V2309.3m-5 0h10M596.6 2246.4h10M602.5 2252.4V2300.6m-5 0h10M597.5 2252.4h10M603.4 2267V2311.1m-5 0h10M598.4 2267h10M604.4 2235.7V2298.3m-5 0h10M599.4 2235.7h10M605.3 2237.8V2290m-5 0h10M600.3 2237.8h10M606.2 2236.9V2285.9m-5 0h10M601.2 2236.9h10M607.1 2254.4V2300.2m-5 0h10M602.1 2254.4h10M608.1 2241.4V2292.8m-5 0h10M603.1 2241.4h10M609 2237.7V2286.2m-5 0h10M604 2237.7h10M609.9 2251.5V2296.9m-5 0h10M604.9 2251.5h10M610.8 2225.1V2274.9m-5 0h10M605.8 2225.1h10M611.8 2218V2273.1m-5 0h10M606.8 2218h10M612.7 2235.2V2289.3m-5 0h10M607.7 2235.2h10M613.6 2247.5V2305.1m-5 0h10M608.6 2247.5h10M614.5 2191.9V2249.6m-5 0h10M609.5 2191.9h10M615.5 2225.6V2301.3m-5 0h10M610.5 2225.6h10M616.4 2246V2302.3m-5 0h10M611.4 2246h10M617.3 2237.6V2312.7m-5 0h10M612.3 2237.6h10M618.2 2244.9V2292.5m-5 0h10M613.2 2244.9h10M619.2 2280.3V2323.9m-5 0h10M614.2 2280.3h10M620.1 2220.1V2279.8m-5 0h10M615.1 2220.1h10M621 2200.1V2260.5m-5 0h10M616 2200.1h10M621.9 2240.2V2285.3m-5 0h10M616.9 2240.2h10M622.9 2228V2293.9m-5 0h10M617.9 2228h10M623.8 2223.5V2281m-5 0h10M618.8 2223.5h10M624.7 2248.4V2296.7m-5 0h10M619.7 2248.4h10M625.6 2211.4V2263.3m-5 0h10M620.6 2211.4h10M626.6 2247.4V2306.1m-5 0h10M621.6 2247.4h10M627.5 2246.2V2295.5m-5 0h10M622.5 2246.2h10M628.4 2245V2288m-5 0h10M623.4 2245h10M629.3 2253.3V2309.5m-5 0h10M624.3 2253.3h10M630.3 2271.1V2316.3m-5 0h10M625.3 2271.1h10M631.2 2249.7V2291.5m-5 0h10M626.2 2249.7h10M632.1 2269.9V2314.1m-5 0h10M627.1 2269.9h10M633 2253.8V2298m-5 0h10M628 2253.8h10M634 2249.6V2290.4m-5 0h10M629 2249.6h10M634.9 2253.7V2294.5m-5 0h10M629.9 2253.7h10M635.8 2270.1V2316.6m-5 0h10M630.8 2270.1h10M636.7 2251.7V2300.4m-5 0h10M631.7 2251.7h10M637.7 2284V2344.1m-5 0h10M632.7 2284h10M638.6 2274.5V2329.8m-5 0h10M633.6 2274.5h10M639.5 2248.6V2305.4m-5 0h10M634.5 2248.6h10M640.5 2265.2V2309.2m-5 0h10M635.5 2265.2h10M641.4 2250.3V2305.8m-5 0h10M636.4 2250.3h10M642.3 2261.7V2310.2m-5 0h10M637.3 2261.7h10M643.2 2259.1V2314.6m-5 0h10M638.2 2259.1h10M644.2 2239.7V2293.5m-5 0h10M639.2 2239.7h10M645.1 2246.6V2296m-5 0h10M640.1 2246.6h10M646 2262.6V2311.5m-5 0h10M641 2262.6h10M646.9 2238.8V2304.8m-5 0h10M641.9 2238.8h10M647.9 2258.6V2305m-5 0h10M642.9 2258.6h10M648.8 2288.9V2342.8m-5 0h10M643.8 2288.9h10M649.7 2257.7V2301.8m-5 0h10M644.7 2257.7h10M650.6 2248.4V2317.4m-5 0h10M645.6 2248.4h10M651.6 2265V2307m-5 0h10M646.6 2265h10M652.5 2246.8V2297.9m-5 0h10M647.5 2246.8h10M653.4 2243V2296.7m-5 0h10M648.4 2243h10M654.3 2267.5V2313.8m-5 0h10M649.3 2267.5h10M655.3 2254V2327m-5 0h10M650.3 2254h10M656.2 2265V2312.4m-5 0h10M651.2 2265h10M657.1 2245.4V2326.1m-5 0h10M652.1 2245.4h10M658 2275.4V2321.7m-5 0h10M653 2275.4h10M659 2241.1V2309.9m-5 0h10M654 2241.1h10M659.9 2265.3V2309.7m-5 0h10M654.9 2265.3h10M660.8 2257.6V2309m-5 0h10M655.8 2257.6h10M661.7 2247.1V2318.1m-5 0h10M656.7 2247.1h10M662.7 2271.7V2321.4m-5 0h10M657.7 2271.7h10M663.6 2238.1V2304.1m-5 0h10M658.6 2238.1h10M664.5 2250.6V2319.9m-5 0h10M659.5 2250.6h10M665.4 2250.7V2304.4m-5 0h10M660.4 2250.7h10M666.4 2246.3V2320m-5 0h10M661.4 2246.3h10M667.3 2254.7V2306.3m-5 0h10M662.3 2254.7h10M668.2 2232.3V2290.8m-5 0h10M663.2 2232.3h10M669.1 2248.6V2295.1m-5 0h10M664.1 2248.6h10M670.1 2268.7V2317.8m-5 0h10M665.1 2268.7h10M671 2242.6V2308m-5 0h10M666 2242.6h10M671.9 2233.5V2278.4m-5 0h10M666.9 2233.5h10M672.8 2238.1V2282.5m-5 0h10M667.8 2238.1h10M673.8 2241.4V2284m-5 0h10M668.8 2241.4h10M674.7 2267.9V2313.1m-5 0h10M669.7 2267.9h10M675.6 2232V2278.4m-5 0h10M670.6 2232h10M676.5 2231.6V2291.7m-5 0h10M671.5 2231.6h10M677.5 2229.5V2278.5m-5 0h10M672.5 2229.5h10M678.4 2222.5V2300m-5 0h10M673.4 2222.5h10M679.3 2255.6V2309.1m-5 0h10M674.3 2255.6h10M680.3 2224.5V2267.8m-5 0h10M675.3 2224.5h10M681.2 2234.3V2291.6m-5 0h10M676.2 2234.3h10M682.1 2232.6V2295.6m-5 0h10M677.1 2232.6h10M683 2252.9V2295.7m-5 0h10M678 2252.9h10M684 2217.4V2287.2m-5 0h10M679 2217.4h10M684.9 2214.5V2267m-5 0h10M679.9 2214.5h10M685.8 2231.3V2289.3m-5 0h10M680.8 2231.3h10M686.7 2234.9V2277.1m-5 0h10M681.7 2234.9h10M687.7 2222.9V2268.1m-5 0h10M682.7 2222.9h10M688.6 2220.8V2286.3m-5 0h10M683.6 2220.8h10M689.5 2218.9V2281.4m-5 0h10M684.5 2218.9h10M690.4 2208.3V2257.3m-5 0h10M685.4 2208.3h10M691.4 2192.7V2258.5m-5 0h10M686.4 2192.7h10M692.3 2220.5V2288.9m-5 0h10M687.3 2220.5h10M693.2 2187.8V2250.1m-5 0h10M688.2 2187.8h10M694.1 2169.9V2213.3m-5 0h10M689.1 2169.9h10M695.1 2173.6V2252.5m-5 0h10M690.1 2173.6h10M696 2202.3V2262.3m-5 0h10M691 2202.3h10M696.9 2196.3V2249.1m-5 0h10M691.9 2196.3h10M697.8 2208.3V2260.5m-5 0h10M692.8 2208.3h10M698.8 2229.5V2281.1m-5 0h10M693.8 2229.5h10M699.7 2212.7V2256.4m-5 0h10M694.7 2212.7h10M700.6 2224.2V2266.3m-5 0h10M695.6 2224.2h10M701.5 2197.6V2258.5m-5 0h10M696.5 2197.6h10M702.5 2193.3V2252.1m-5 0h10M697.5 2193.3h10M703.4 2197.1V2248.9m-5 0h10M698.4 2197.1h10M704.3 2195V2238.7m-5 0h10M699.3 2195h10M705.2 2206.4V2256.9m-5 0h10M700.2 2206.4h10M706.2 2176.5V2233.5m-5 0h10M701.2 2176.5h10M707.1 2195.7V2255.1m-5 0h10M702.1 2195.7h10M708 2194.8V2237.6m-5 0h10M703 2194.8h10M708.9 2178.7V2225.3m-5 0h10M703.9 2178.7h10M709.9 2184.7V2238.3m-5 0h10M704.9 2184.7h10M710.8 2215.5V2261.5m-5 0h10M705.8 2215.5h10M711.7 2202V2249m-5 0h10M706.7 2202h10M712.6 2219.2V2269.9m-5 0h10M707.6 2219.2h10M713.6 2207.9V2272.5m-5 0h10M708.6 2207.9h10M714.5 2229.5V2273.6m-5 0h10M709.5 2229.5h10M715.4 2199.1V2253.7m-5 0h10M710.4 2199.1h10M716.4 2216.8V2269.6m-5 0h10M711.4 2216.8h10M717.3 2197V2262m-5 0h10M712.3 2197h10M718.2 2204.8V2250.1m-5 0h10M713.2 2204.8h10M719.1 2199V2244.9m-5 0h10M714.1 2199h10M720.1 2213.2V2261.3m-5 0h10M715.1 2213.2h10M721 2205.6V2268m-5 0h10M716 2205.6h10M721.9 2263.4V2307.7m-5 0h10M716.9 2263.4h10M722.8 2234.5V2282.4m-5 0h10M717.8 2234.5h10M723.8 2198.6V2253.1m-5 0h10M718.8 2198.6h10M724.7 2214.5V2280m-5 0h10M719.7 2214.5h10M725.6 2181.6V2234.5m-5 0h10M720.6 2181.6h10M726.5 2217.6V2262.7m-5 0h10M721.5 2217.6h10M727.5 2232V2273.7m-5 0h10M722.5 2232h10M728.4 2235.7V2278.5m-5 0h10M723.4 2235.7h10M729.3 2234.8V2280.4m-5 0h10M724.3 2234.8h10M730.2 2221.9V2267m-5 0h10M725.2 2221.9h10M731.2 2220.6V2294.5m-5 0h10M726.2 2220.6h10M732.1 2233.3V2282.7m-5 0h10M727.1 2233.3h10M733 2236.1V2282.4m-5 0h10M728 2236.1h10M733.9 2240.8V2285.4m-5 0h10M728.9 2240.8h10M734.9 2199.8V2255.1m-5 0h10M729.9 2199.8h10M735.8 2214.6V2261.3m-5 0h10M730.8 2214.6h10M736.7 2238.6V2279.4m-5 0h10M731.7 2238.6h10M737.6 2230.1V2283m-5 0h10M732.6 2230.1h10M738.6 2262.6V2306.9m-5 0h10M733.6 2262.6h10M739.5 2243.8V2304.6m-5 0h10M734.5 2243.8h10M740.4 2246.5V2306.8m-5 0h10M735.4 2246.5h10M741.3 2249.5V2294.9m-5 0h10M736.3 2249.5h10M742.3 2238.1V2283.5m-5 0h10M737.3 2238.1h10M743.2 2256.9V2299.1m-5 0h10M738.2 2256.9h10M744.1 2254.6V2296.6m-5 0h10M739.1 2254.6h10M745 2225.2V2277.2m-5 0h10M740 2225.2h10M746 2239.5V2286m-5 0h10M741 2239.5h10M746.9 2245.5V2297.4m-5 0h10M741.9 2245.5h10M747.8 2268.2V2316.7m-5 0h10M742.8 2268.2h10M748.7 2233.2V2289.7m-5 0h10M743.7 2233.2h10M749.7 2233.8V2291.5m-5 0h10M744.7 2233.8h10M750.6 2227.1V2290.8m-5 0h10M745.6 2227.1h10M751.5 2230.1V2299.1m-5 0h10M746.5 2230.1h10M752.4 2234.5V2283.1m-5 0h10M747.4 2234.5h10M753.4 2225.4V2270.1m-5 0h10M748.4 2225.4h10M754.3 2226.4V2276.2m-5 0h10M749.3 2226.4h10M755.2 2225V2272.8m-5 0h10M750.2 2225h10M756.2 2227.3V2276.4m-5 0h10M751.2 2227.3h10M757.1 2229.6V2277.2m-5 0h10M752.1 2229.6h10M758 2200.1V2248m-5 0h10M753 2200.1h10M758.9 2221.8V2276.7m-5 0h10M753.9 2221.8h10M759.9 2212V2260.6m-5 0h10M754.9 2212h10M760.8 2210.3V2286.1m-5 0h10M755.8 2210.3h10M761.7 2224.4V2266.7m-5 0h10M756.7 2224.4h10M762.6 2208.6V2258.7m-5 0h10M757.6 2208.6h10M763.6 2213.3V2262.1m-5 0h10M758.6 2213.3h10M764.5 2226.1V2273.7m-5 0h10M759.5 2226.1h10M765.4 2229V2273.9m-5 0h10M760.4 2229h10M766.3 2203V2274.3m-5 0h10M761.3 2203h10M767.3 2212.6V2260.7m-5 0h10M762.3 2212.6h10M768.2 2209.5V2265.6m-5 0h10M763.2 2209.5h10M769.1 2224.7V2268.8m-5 0h10M764.1 2224.7h10M770 2199.7V2241.6m-5 0h10M765 2199.7h10M771 2224.4V2265.3m-5 0h10M766 2224.4h10M771.9 2213V2258m-5 0h10M766.9 2213h10M772.8 2208.8V2265.5m-5 0h10M767.8 2208.8h10M773.7 2211.3V2261.1m-5 0h10M768.7 2211.3h10M774.7 2190.2V2238.6m-5 0h10M769.7 2190.2h10M775.6 2202.1V2251.7m-5 0h10M770.6 2202.1h10M776.5 2183.2V2264m-5 0h10M771.5 2183.2h10M777.4 2190.7V2234m-5 0h10M772.4 2190.7h10M778.4 2202V2265.7m-5 0h10M773.4 2202h10M779.3 2213.1V2262.4m-5 0h10M774.3 2213.1h10M780.2 2210.5V2275.8m-5 0h10M775.2 2210.5h10M781.1 2202.6V2262.4m-5 0h10M776.1 2202.6h10M782.1 2217V2264.8m-5 0h10M777.1 2217h10M783 2206V2253.6m-5 0h10M778 2206h10M783.9 2224.7V2267.7m-5 0h10M778.9 2224.7h10M784.8 2187.4V2251.1m-5 0h10M779.8 2187.4h10M785.8 2217V2270.4m-5 0h10M780.8 2217h10M786.7 2207.1V2265m-5 0h10M781.7 2207.1h10M787.6 2216.9V2270.3m-5 0h10M782.6 2216.9h10M788.5 2214.2V2270.8m-5 0h10M783.5 2214.2h10M789.5 2214.6V2259.6m-5 0h10M784.5 2214.6h10M790.4 2235.4V2290.8m-5 0h10M785.4 2235.4h10M791.3 2214.5V2257.6m-5 0h10M786.3 2214.5h10M792.2 2221.1V2262.3m-5 0h10M787.2 2221.1h10M793.2 2216.2V2266m-5 0h10M788.2 2216.2h10M794.1 2231V2274.6m-5 0h10M789.1 2231h10M795 2224.7V2271.6m-5 0h10M790 2224.7h10M796 2218.7V2263.9m-5 0h10M791 2218.7h10M796.9 2212.5V2272.2m-5 0h10M791.9 2212.5h10M797.8 2235.9V2301.1m-5 0h10M792.8 2235.9h10M798.7 2238.7V2285.2m-5 0h10M793.7 2238.7h10M799.7 2226.6V2282.2m-5 0h10M794.7 2226.6h10M800.6 2241.3V2290.4m-5 0h10M795.6 2241.3h10M801.5 2228.7V2280.1m-5 0h10M796.5 2228.7h10M802.4 2229.9V2272m-5 0h10M797.4 2229.9h10M803.4 2225.4V2281.6m-5 0h10M798.4 2225.4h10M804.3 2218.5V2273.3m-5 0h10M799.3 2218.5h10M805.2 2251.8V2303.3m-5 0h10M800.2 2251.8h10M806.1 2239.1V2293.8m-5 0h10M801.1 2239.1h10M807.1 2202.5V2256m-5 0h10M802.1 2202.5h10M808 2206.1V2254.8m-5 0h10M803 2206.1h10M808.9 2217V2278.4m-5 0h10M803.9 2217h10M809.8 2236.4V2286.7m-5 0h10M804.8 2236.4h10M810.8 2225.3V2289.2m-5 0h10M805.8 2225.3h10M811.7 2244.7V2301.2m-5 0h10M806.7 2244.7h10M812.6 2243.6V2290.7m-5 0h10M807.6 2243.6h10M813.5 2229.4V2273.5m-5 0h10M808.5 2229.4h10M814.5 2218.3V2276.1m-5 0h10M809.5 2218.3h10M815.4 2238.8V2310.9m-5 0h10M810.4 2238.8h10M816.3 2240.9V2285.7m-5 0h10M811.3 2240.9h10M817.2 2261.2V2340.5m-5 0h10M812.2 2261.2h10M818.2 2249.6V2292.5m-5 0h10M813.2 2249.6h10M819.1 2222.8V2279.5m-5 0h10M814.1 2222.8h10M820 2212.6V2282.8m-5 0h10M815 2212.6h10M820.9 2223.4V2275.9m-5 0h10M815.9 2223.4h10M821.9 2223.5V2273.4m-5 0h10M816.9 2223.5h10M822.8 2241.5V2283.7m-5 0h10M817.8 2241.5h10M823.7 2235.6V2294.5m-5 0h10M818.7 2235.6h10M824.6 2211.9V2259.7m-5 0h10M819.6 2211.9h10M825.6 2264.9V2313.2m-5 0h10M820.6 2264.9h10M826.5 2212.5V2265.8m-5 0h10M821.5 2212.5h10M827.4 2221.3V2264m-5 0h10M822.4 2221.3h10M828.3 2229.7V2277.4m-5 0h10M823.3 2229.7h10M829.3 2227.9V2276.7m-5 0h10M824.3 2227.9h10M830.2 2211.1V2268m-5 0h10M825.2 2211.1h10M831.1 2224.5V2275.5m-5 0h10M826.1 2224.5h10M832 2219.6V2280.5m-5 0h10M827 2219.6h10M833 2208.3V2261.5m-5 0h10M828 2208.3h10M833.9 2220.1V2287.3m-5 0h10M828.9 2220.1h10M834.8 2210.3V2261.3m-5 0h10M829.8 2210.3h10M835.8 2200.3V2256.2m-5 0h10M830.8 2200.3h10M836.7 2217.9V2280.6m-5 0h10M831.7 2217.9h10M837.6 2188.5V2255.1m-5 0h10M832.6 2188.5h10M838.5 2211.8V2267.3m-5 0h10M833.5 2211.8h10M839.5 2211.4V2258.8m-5 0h10M834.5 2211.4h10M840.4 2203.3V2262.3m-5 0h10M835.4 2203.3h10M841.3 2201.6V2249.7m-5 0h10M836.3 2201.6h10M842.2 2194.8V2243.5m-5 0h10M837.2 2194.8h10M843.2 2201.7V2247.9m-5 0h10M838.2 2201.7h10M844.1 2205.8V2253.6m-5 0h10M839.1 2205.8h10M845 2199.9V2249.9m-5 0h10M840 2199.9h10M845.9 2203.3V2251.2m-5 0h10M840.9 2203.3h10M846.9 2196.7V2239.8m-5 0h10M841.9 2196.7h10M847.8 2181.3V2244.9m-5 0h10M842.8 2181.3h10M848.7 2182.1V2236.5m-5 0h10M843.7 2182.1h10M849.6 2186V2243.8m-5 0h10M844.6 2186h10M850.6 2190.7V2241.5m-5 0h10M845.6 2190.7h10M851.5 2187.2V2245.9m-5 0h10M846.5 2187.2h10M852.4 2192.4V2253.7m-5 0h10M847.4 2192.4h10M853.3 2212.4V2254.8m-5 0h10M848.3 2212.4h10M854.3 2201.6V2250.9m-5 0h10M849.3 2201.6h10M855.2 2181.2V2222.3m-5 0h10M850.2 2181.2h10M856.1 2183.7V2240.6m-5 0h10M851.1 2183.7h10M857 2192.8V2242.2m-5 0h10M852 2192.8h10M858 2170.5V2215.7m-5 0h10M853 2170.5h10M858.9 2195.9V2251m-5 0h10M853.9 2195.9h10M859.8 2205.9V2264.9m-5 0h10M854.8 2205.9h10M860.7 2203.2V2247m-5 0h10M855.7 2203.2h10M861.7 2206.6V2259.1m-5 0h10M856.7 2206.6h10M862.6 2207.3V2273.9m-5 0h10M857.6 2207.3h10M863.5 2190.5V2232.6m-5 0h10M858.5 2190.5h10M864.4 2196.4V2250.6m-5 0h10M859.4 2196.4h10M865.4 2194.7V2246.1m-5 0h10M860.4 2194.7h10M866.3 2229.2V2293.4m-5 0h10M861.3 2229.2h10M867.2 2200.5V2262.8m-5 0h10M862.2 2200.5h10M868.1 2208.7V2277.5m-5 0h10M863.1 2208.7h10M869.1 2218.9V2271.6m-5 0h10M864.1 2218.9h10M870 2241V2289.9m-5 0h10M865 2241h10M870.9 2234.2V2285.1m-5 0h10M865.9 2234.2h10M871.8 2217V2263m-5 0h10M866.8 2217h10M872.8 2243.8V2292.5m-5 0h10M867.8 2243.8h10M873.7 2233.8V2279m-5 0h10M868.7 2233.8h10M874.6 2221.5V2267.3m-5 0h10M869.6 2221.5h10M875.6 2259.2V2301.8m-5 0h10M870.6 2259.2h10M876.5 2227V2298.9m-5 0h10M871.5 2227h10M877.4 2228.7V2281m-5 0h10M872.4 2228.7h10M878.3 2248.4V2291.6m-5 0h10M873.3 2248.4h10M879.3 2250.1V2293m-5 0h10M874.3 2250.1h10M880.2 2234.1V2281.7m-5 0h10M875.2 2234.1h10M881.1 2242.8V2294m-5 0h10M876.1 2242.8h10M882 2245.7V2294m-5 0h10M877 2245.7h10M883 2192.5V2249m-5 0h10M878 2192.5h10M883.9 2262.6V2306.6m-5 0h10M878.9 2262.6h10M884.8 2246V2290.2m-5 0h10M879.8 2246h10M885.7 2240V2297.5m-5 0h10M880.7 2240h10M886.7 2235.7V2295.8m-5 0h10M881.7 2235.7h10M887.6 2217.1V2274.5m-5 0h10M882.6 2217.1h10M888.5 2227.1V2275m-5 0h10M883.5 2227.1h10M889.4 2241.1V2284.7m-5 0h10M884.4 2241.1h10M890.4 2233.5V2290.2m-5 0h10M885.4 2233.5h10M891.3 2270.5V2316.1m-5 0h10M886.3 2270.5h10M892.2 2242.8V2286.7m-5 0h10M887.2 2242.8h10M893.1 2223.7V2273.5m-5 0h10M888.1 2223.7h10M894.1 2245.7V2299.4m-5 0h10M889.1 2245.7h10M895 2213.2V2277.7m-5 0h10M890 2213.2h10M895.9 2249.1V2304.2m-5 0h10M890.9 2249.1h10M896.8 2232.8V2299.8m-5 0h10M891.8 2232.8h10M897.8 2228V2285.5m-5 0h10M892.8 2228h10M898.7 2229V2269.9m-5 0h10M893.7 2229h10M899.6 2229.6V2274.8m-5 0h10M894.6 2229.6h10M900.5 2246.5V2288.7m-5 0h10M895.5 2246.5h10M901.5 2216.1V2267.1m-5 0h10M896.5 2216.1h10M902.4 2226.7V2273.7m-5 0h10M897.4 2226.7h10M903.3 2229.8V2271.8m-5 0h10M898.3 2229.8h10M904.2 2245V2308.9m-5 0h10M899.2 2245h10M905.2 2213.6V2297.8m-5 0h10M900.2 2213.6h10M906.1 2218.9V2280.1m-5 0h10M901.1 2218.9h10M907 2212.5V2260.1m-5 0h10M902 2212.5h10M907.9 2231.2V2278.5m-5 0h10M902.9 2231.2h10M908.9 2242.5V2295.9m-5 0h10M903.9 2242.5h10M909.8 2228V2272.2m-5 0h10M904.8 2228h10M910.7 2205.4V2268.2m-5 0h10M905.7 2205.4h10M911.6 2213.7V2256m-5 0h10M906.6 2213.7h10M912.6 2201.1V2249.1m-5 0h10M907.6 2201.1h10M913.5 2188V2233.9m-5 0h10M908.5 2188h10M914.4 2194.9V2247.4m-5 0h10M909.4 2194.9h10M915.4 2199.8V2257.9m-5 0h10M910.4 2199.8h10M916.3 2203.4V2249.4m-5 0h10M911.3 2203.4h10M917.2 2197.7V2241.8m-5 0h10M912.2 2197.7h10M918.1 2185.4V2233.2m-5 0h10M913.1 2185.4h10M919.1 2182.5V2228.5m-5 0h10M914.1 2182.5h10M920 2184.2V2237m-5 0h10M915 2184.2h10M920.9 2186.6V2233m-5 0h10M915.9 2186.6h10M921.8 2189.9V2234.9m-5 0h10M916.8 2189.9h10M922.8 2174.8V2229.2m-5 0h10M917.8 2174.8h10M923.7 2188.7V2239.7m-5 0h10M918.7 2188.7h10M924.6 2191.5V2237.7m-5 0h10M919.6 2191.5h10M925.5 2188.5V2230.4m-5 0h10M920.5 2188.5h10M926.5 2186.6V2240.7m-5 0h10M921.5 2186.6h10M927.4 2174.4V2217.9m-5 0h10M922.4 2174.4h10M928.3 2167.1V2227.6m-5 0h10M923.3 2167.1h10M929.2 2165V2222.2m-5 0h10M924.2 2165h10M930.2 2179.5V2234.1m-5 0h10M925.2 2179.5h10M931.1 2215.8V2274.5m-5 0h10M926.1 2215.8h10M932 2181.4V2226.2m-5 0h10M927 2181.4h10M932.9 2224.8V2274.1m-5 0h10M927.9 2224.8h10M933.9 2168.2V2213m-5 0h10M928.9 2168.2h10M934.8 2184.7V2240.1m-5 0h10M929.8 2184.7h10M935.7 2145V2211m-5 0h10M930.7 2145h10M936.6 2197.7V2243.3m-5 0h10M931.6 2197.7h10M937.6 2185.3V2239.7m-5 0h10M932.6 2185.3h10M938.5 2194V2237.8m-5 0h10M933.5 2194h10M939.4 2184.2V2232.9m-5 0h10M934.4 2184.2h10M940.3 2181.3V2230.5m-5 0h10M935.3 2181.3h10M941.3 2142.7V2205.7m-5 0h10M936.3 2142.7h10M942.2 2201.9V2245m-5 0h10M937.2 2201.9h10M943.1 2184.1V2227.2m-5 0h10M938.1 2184.1h10M944 2205.2V2253m-5 0h10M939 2205.2h10M945 2169.9V2233.4m-5 0h10M940 2169.9h10M945.9 2174.1V2221.5m-5 0h10M940.9 2174.1h10M946.8 2180.3V2234.2m-5 0h10M941.8 2180.3h10M947.7 2203.9V2245m-5 0h10M942.7 2203.9h10M948.7 2207.6V2249.6m-5 0h10M943.7 2207.6h10M949.6 2189.9V2249.7m-5 0h10M944.6 2189.9h10M950.5 2200.2V2251.9m-5 0h10M945.5 2200.2h10M951.5 2187.3V2242.9m-5 0h10M946.5 2187.3h10M952.4 2202V2253.7m-5 0h10M947.4 2202h10M953.3 2201.7V2248.2m-5 0h10M948.3 2201.7h10M954.2 2190.7V2249.7m-5 0h10M949.2 2190.7h10M955.2 2207V2261.2m-5 0h10M950.2 2207h10M956.1 2206V2247.2m-5 0h10M951.1 2206h10M957 2198.6V2265.6m-5 0h10M952 2198.6h10M957.9 2194.6V2260.6m-5 0h10M952.9 2194.6h10M958.9 2214.5V2265.3m-5 0h10M953.9 2214.5h10M959.8 2184.8V2236.6m-5 0h10M954.8 2184.8h10M960.7 2209.5V2253.7m-5 0h10M955.7 2209.5h10M961.6 2186V2236.2m-5 0h10M956.6 2186h10M962.6 2201.5V2255.2m-5 0h10M957.6 2201.5h10M963.5 2206.6V2250m-5 0h10M958.5 2206.6h10M964.4 2212.4V2264.7m-5 0h10M959.4 2212.4h10M965.3 2229V2274.2m-5 0h10M960.3 2229h10M966.3 2225.6V2273.1m-5 0h10M961.3 2225.6h10M967.2 2239V2308.4m-5 0h10M962.2 2239h10M968.1 2215.6V2279.7m-5 0h10M963.1 2215.6h10M969 2216.6V2269.6m-5 0h10M964 2216.6h10M970 2226.6V2275.8m-5 0h10M965 2226.6h10M970.9 2224.1V2270.5m-5 0h10M965.9 2224.1h10M971.8 2216.1V2262.6m-5 0h10M966.8 2216.1h10M972.7 2239.4V2285.2m-5 0h10M967.7 2239.4h10M973.7 2230.5V2300.3m-5 0h10M968.7 2230.5h10M974.6 2226.5V2278.2m-5 0h10M969.6 2226.5h10M975.5 2231.1V2273.4m-5 0h10M970.5 2231.1h10M976.4 2213.3V2270.9m-5 0h10M971.4 2213.3h10M977.4 2223.7V2278.6m-5 0h10M972.4 2223.7h10M978.3 2222.4V2269m-5 0h10M973.3 2222.4h10M979.2 2235.7V2277.9m-5 0h10M974.2 2235.7h10M980.1 2227.3V2268.8m-5 0h10M975.1 2227.3h10M981.1 2215.2V2263m-5 0h10M976.1 2215.2h10M982 2233.4V2275.2m-5 0h10M977 2233.4h10M982.9 2232.8V2274.4m-5 0h10M977.9 2232.8h10M983.8 2221.2V2290.6m-5 0h10M978.8 2221.2h10M984.8 2217.2V2265.6m-5 0h10M979.8 2217.2h10M985.7 2212.4V2259.8m-5 0h10M980.7 2212.4h10M986.6 2202.5V2256.9m-5 0h10M981.6 2202.5h10M987.5 2214.8V2258.9m-5 0h10M982.5 2214.8h10M988.5 2193.1V2254.2m-5 0h10M983.5 2193.1h10M989.4 2225.6V2267.2m-5 0h10M984.4 2225.6h10M990.3 2214.3V2256.1m-5 0h10M985.3 2214.3h10M991.3 2228.9V2294.6m-5 0h10M986.3 2228.9h10M992.2 2212.3V2269.5m-5 0h10M987.2 2212.3h10M993.1 2207V2251.3m-5 0h10M988.1 2207h10M994 2182.5V2239.5m-5 0h10M989 2182.5h10M995 2196.5V2242.6m-5 0h10M990 2196.5h10M995.9 2217.4V2261.5m-5 0h10M990.9 2217.4h10M996.8 2221V2272.3m-5 0h10M991.8 2221h10M997.7 2222.1V2266.7m-5 0h10M992.7 2222.1h10M998.7 2224.4V2272.8m-5 0h10M993.7 2224.4h10M999.6 2209V2256.8m-5 0h10M994.6 2209h10M1000.5 2196.5V2252m-5 0h10M995.5 2196.5h10M1001.4 2173V2223.3m-5 0h10M996.4 2173h10M1002.4 2189V2238.8m-5 0h10M997.4 2189h10M1003.3 2169.9V2235.4m-5 0h10M998.3 2169.9h10M1004.2 2172.9V2237.4m-5 0h10M999.2 2172.9h10M1005.1 2200V2244.4m-5 0h10M1000.1 2200h10M1006.1 2196.8V2239.5m-5 0h10M1001.1 2196.8h10M1007 2180.9V2247.9m-5 0h10M1002 2180.9h10M1007.9 2156V2215.4m-5 0h10M1002.9 2156h10M1008.8 2202.4V2254.2m-5 0h10M1003.8 2202.4h10M1009.8 2183.3V2237m-5 0h10M1004.8 2183.3h10M1010.7 2192.2V2237.7m-5 0h10M1005.7 2192.2h10M1011.6 2168.4V2211.6m-5 0h10M1006.6 2168.4h10M1012.5 2209.1V2251.9m-5 0h10M1007.5 2209.1h10M1013.5 2198.9V2252.5m-5 0h10M1008.5 2198.9h10M1014.4 2209.7V2251.4m-5 0h10M1009.4 2209.7h10M1015.3 2193.4V2242.4m-5 0h10M1010.3 2193.4h10M1016.2 2173V2225.3m-5 0h10M1011.2 2173h10M1017.2 2196.8V2248.3m-5 0h10M1012.2 2196.8h10M1018.1 2185.1V2238.5m-5 0h10M1013.1 2185.1h10M1019 2198.6V2249.5m-5 0h10M1014 2198.6h10M1019.9 2205.6V2253.2m-5 0h10M1014.9 2205.6h10M1020.9 2206.1V2249.2m-5 0h10M1015.9 2206.1h10M1021.8 2213.6V2265.6m-5 0h10M1016.8 2213.6h10M1022.7 2218.5V2276.4m-5 0h10M1017.7 2218.5h10M1023.6 2196.9V2257.3m-5 0h10M1018.6 2196.9h10M1024.6 2244.4V2286.8m-5 0h10M1019.6 2244.4h10M1025.5 2212.2V2256.3m-5 0h10M1020.5 2212.2h10M1026.4 2193.6V2246m-5 0h10M1021.4 2193.6h10M1027.3 2188.9V2230.3m-5 0h10M1022.3 2188.9h10M1028.3 2213.9V2271.4m-5 0h10M1023.3 2213.9h10M1029.2 2206.4V2260.9m-5 0h10M1024.2 2206.4h10M1030.1 2218.4V2266m-5 0h10M1025.1 2218.4h10M1031.1 2170.4V2215.8m-5 0h10M1026.1 2170.4h10M1032 2225.3V2273.6m-5 0h10M1027 2225.3h10M1032.9 2219.7V2265.5m-5 0h10M1027.9 2219.7h10M1033.8 2199.1V2248.3m-5 0h10M1028.8 2199.1h10M1034.8 2214.2V2269.9m-5 0h10M1029.8 2214.2h10M1035.7 2216V2260.5m-5 0h10M1030.7 2216h10M1036.6 2217V2278.6m-5 0h10M1031.6 2217h10M1037.5 2214.6V2277.5m-5 0h10M1032.5 2214.6h10M1038.5 2246V2287.6m-5 0h10M1033.5 2246h10M1039.4 2204.4V2257.4m-5 0h10M1034.4 2204.4h10M1040.3 2213.2V2274.8m-5 0h10M1035.3 2213.2h10M1041.2 2231V2276.8m-5 0h10M1036.2 2231h10M1042.2 2223V2275.7m-5 0h10M1037.2 2223h10M1043.1 2226V2266.8m-5 0h10M1038.1 2226h10M1044 2230.2V2286.9m-5 0h10M1039 2230.2h10M1044.9 2240.9V2290.8m-5 0h10M1039.9 2240.9h10M1045.9 2228.5V2285.5m-5 0h10M1040.9 2228.5h10M1046.8 2214.8V2264.9m-5 0h10M1041.8 2214.8h10M1047.7 2194.9V2266.8m-5 0h10M1042.7 2194.9h10M1048.6 2245.2V2296.4m-5 0h10M1043.6 2245.2h10M1049.6 2220.7V2271.8m-5 0h10M1044.6 2220.7h10M1050.5 2210.5V2267.3m-5 0h10M1045.5 2210.5h10M1051.4 2232.1V2277.6m-5 0h10M1046.4 2232.1h10M1052.3 2244.5V2286.2m-5 0h10M1047.3 2244.5h10M1053.3 2221.8V2266.2m-5 0h10M1048.3 2221.8h10M1054.2 2225.5V2269.6m-5 0h10M1049.2 2225.5h10M1055.1 2235.6V2287m-5 0h10M1050.1 2235.6h10M1056 2223.7V2271.7m-5 0h10M1051 2223.7h10M1057 2208.4V2280.1m-5 0h10M1052 2208.4h10M1057.9 2227.9V2275m-5 0h10M1052.9 2227.9h10M1058.8 2226.6V2286.6m-5 0h10M1053.8 2226.6h10M1059.7 2233.7V2276.4m-5 0h10M1054.7 2233.7h10M1060.7 2214.9V2263.3m-5 0h10M1055.7 2214.9h10M1061.6 2225V2269.5m-5 0h10M1056.6 2225h10M1062.5 2207.6V2250.3m-5 0h10M1057.5 2207.6h10M1063.4 2212.6V2274.9m-5 0h10M1058.4 2212.6h10M1064.4 2214V2260.9m-5 0h10M1059.4 2214h10M1065.3 2215.7V2263.7m-5 0h10M1060.3 2215.7h10M1066.2 2234.7V2282.5m-5 0h10M1061.2 2234.7h10M1067.1 2217.6V2269m-5 0h10M1062.1 2217.6h10M1068.1 2217.8V2280.4m-5 0h10M1063.1 2217.8h10M1069 2188.3V2241.5m-5 0h10M1064 2188.3h10M1069.9 2228V2283.6m-5 0h10M1064.9 2228h10M1070.9 2212.7V2282.4m-5 0h10M1065.9 2212.7h10M1071.8 2216.3V2257.7m-5 0h10M1066.8 2216.3h10M1072.7 2198.4V2247.4m-5 0h10M1067.7 2198.4h10M1073.6 2198.6V2261.1m-5 0h10M1068.6 2198.6h10M1074.6 2217.3V2259.4m-5 0h10M1069.6 2217.3h10M1075.5 2180.5V2232m-5 0h10M1070.5 2180.5h10M1076.4 2190V2243.7m-5 0h10M1071.4 2190h10M1077.3 2209.6V2251.4m-5 0h10M1072.3 2209.6h10M1078.3 2224.3V2277.8m-5 0h10M1073.3 2224.3h10M1079.2 2208.4V2261.9m-5 0h10M1074.2 2208.4h10M1080.1 2217.1V2268.7m-5 0h10M1075.1 2217.1h10M1081 2170.4V2237.7m-5 0h10M1076 2170.4h10M1082 2203.9V2264.9m-5 0h10M1077 2203.9h10M1082.9 2210.1V2256.1m-5 0h10M1077.9 2210.1h10M1083.8 2189.5V2231.4m-5 0h10M1078.8 2189.5h10M1084.7 2197.9V2240.3m-5 0h10M1079.7 2197.9h10M1085.7 2211V2262.3m-5 0h10M1080.7 2211h10M1086.6 2192.8V2251.1m-5 0h10M1081.6 2192.8h10M1087.5 2183V2238.1m-5 0h10M1082.5 2183h10M1088.4 2207.8V2253m-5 0h10M1083.4 2207.8h10M1089.4 2206.7V2259.4m-5 0h10M1084.4 2206.7h10M1090.3 2212.8V2254.7m-5 0h10M1085.3 2212.8h10M1091.2 2201.3V2260.5m-5 0h10M1086.2 2201.3h10M1092.1 2206.8V2252.6m-5 0h10M1087.1 2206.8h10M1093.1 2185V2251.4m-5 0h10M1088.1 2185h10M1094 2212.9V2255.2m-5 0h10M1089 2212.9h10M1094.9 2210.3V2269.2m-5 0h10M1089.9 2210.3h10M1095.8 2212.7V2253.7m-5 0h10M1090.8 2212.7h10M1096.8 2213.3V2255.2m-5 0h10M1091.8 2213.3h10M1097.7 2212V2253.4m-5 0h10M1092.7 2212h10M1098.6 2251.7V2293m-5 0h10M1093.6 2251.7h10M1099.5 2203.3V2260.8m-5 0h10M1094.5 2203.3h10M1100.5 2218.6V2265.5m-5 0h10M1095.5 2218.6h10M1101.4 2223.3V2279.7m-5 0h10M1096.4 2223.3h10M1102.3 2229.1V2276.7m-5 0h10M1097.3 2229.1h10M1103.2 2229.2V2297.6m-5 0h10M1098.2 2229.2h10M1104.2 2217.7V2276.7m-5 0h10M1099.2 2217.7h10M1105.1 2229.5V2278.3m-5 0h10M1100.1 2229.5h10M1106 2231.2V2275.3m-5 0h10M1101 2231.2h10M1106.9 2238.7V2286.2m-5 0h10M1101.9 2238.7h10M1107.9 2225.1V2276.1m-5 0h10M1102.9 2225.1h10M1108.8 2238.8V2283.1m-5 0h10M1103.8 2238.8h10M1109.7 2238.4V2302.6m-5 0h10M1104.7 2238.4h10M1110.7 2248.9V2291.6m-5 0h10M1105.7 2248.9h10M1111.6 2242.8V2305.5m-5 0h10M1106.6 2242.8h10M1112.5 2254.1V2299.1m-5 0h10M1107.5 2254.1h10M1113.4 2277.2V2321.8m-5 0h10M1108.4 2277.2h10M1114.4 2257.5V2305.7m-5 0h10M1109.4 2257.5h10M1115.3 2290.9V2333.8m-5 0h10M1110.3 2290.9h10M1116.2 2259.8V2308.3m-5 0h10M1111.2 2259.8h10M1117.1 2245.9V2290m-5 0h10M1112.1 2245.9h10M1118.1 2240.3V2290.6m-5 0h10M1113.1 2240.3h10M1119 2265.8V2322.9m-5 0h10M1114 2265.8h10M1119.9 2242.5V2318.5m-5 0h10M1114.9 2242.5h10M1120.8 2241.6V2299.4m-5 0h10M1115.8 2241.6h10M1121.8 2267.6V2316.5m-5 0h10M1116.8 2267.6h10M1122.7 2240.2V2311m-5 0h10M1117.7 2240.2h10M1123.6 2254.7V2306.9m-5 0h10M1118.6 2254.7h10M1124.5 2250.4V2293m-5 0h10M1119.5 2250.4h10M1125.5 2269.6V2311.7m-5 0h10M1120.5 2269.6h10M1126.4 2262.2V2319.2m-5 0h10M1121.4 2262.2h10M1127.3 2246.2V2304.7m-5 0h10M1122.3 2246.2h10M1128.2 2273.4V2321.1m-5 0h10M1123.2 2273.4h10M1129.2 2259.7V2316.8m-5 0h10M1124.2 2259.7h10M1130.1 2251.4V2308m-5 0h10M1125.1 2251.4h10M1131 2260.2V2316.7m-5 0h10M1126 2260.2h10M1131.9 2301.7V2352.9m-5 0h10M1126.9 2301.7h10M1132.9 2247.2V2296.5m-5 0h10M1127.9 2247.2h10M1133.8 2260.5V2309.3m-5 0h10M1128.8 2260.5h10M1134.7 2280.3V2336.3m-5 0h10M1129.7 2280.3h10M1135.6 2250.9V2302.6m-5 0h10M1130.6 2250.9h10M1136.6 2252.6V2298m-5 0h10M1131.6 2252.6h10M1137.5 2252.1V2294m-5 0h10M1132.5 2252.1h10M1138.4 2244.3V2285.7m-5 0h10M1133.4 2244.3h10M1139.3 2239.6V2297.7m-5 0h10M1134.3 2239.6h10M1140.3 2240.2V2300.2m-5 0h10M1135.3 2240.2h10M1141.2 2245.3V2309.3m-5 0h10M1136.2 2245.3h10M1142.1 2275.9V2321.2m-5 0h10M1137.1 2275.9h10M1143 2288.6V2347m-5 0h10M1138 2288.6h10M1144 2240V2302.8m-5 0h10M1139 2240h10M1144.9 2237V2297.3m-5 0h10M1139.9 2237h10M1145.8 2242.6V2298m-5 0h10M1140.8 2242.6h10M1146.7 2234.2V2292.4m-5 0h10M1141.7 2234.2h10M1147.7 2243.5V2290.9m-5 0h10M1142.7 2243.5h10M1148.6 2235.3V2289.6m-5 0h10M1143.6 2235.3h10M1149.5 2229.1V2273.7m-5 0h10M1144.5 2229.1h10M1150.5 2222.6V2267.9m-5 0h10M1145.5 2222.6h10M1151.4 2238.8V2280.7m-5 0h10M1146.4 2238.8h10M1152.3 2247V2291.4m-5 0h10M1147.3 2247h10M1153.2 2230.2V2276m-5 0h10M1148.2 2230.2h10M1154.2 2250.7V2314.9m-5 0h10M1149.2 2250.7h10M1155.1 2275V2327.6m-5 0h10M1150.1 2275h10M1156 2246.7V2289m-5 0h10M1151 2246.7h10M1156.9 2242.6V2293.7m-5 0h10M1151.9 2242.6h10M1157.9 2232.7V2310.7m-5 0h10M1152.9 2232.7h10M1158.8 2221.7V2298.4m-5 0h10M1153.8 2221.7h10M1159.7 2241.8V2284.8m-5 0h10M1154.7 2241.8h10M1160.6 2227.4V2276.7m-5 0h10M1155.6 2227.4h10M1161.6 2234V2275.8m-5 0h10M1156.6 2234h10M1162.5 2211.7V2268.7m-5 0h10M1157.5 2211.7h10M1163.4 2229V2287.6m-5 0h10M1158.4 2229h10M1164.3 2215.5V2262.1m-5 0h10M1159.3 2215.5h10M1165.3 2223.8V2273.4m-5 0h10M1160.3 2223.8h10M1166.2 2204.3V2277.5m-5 0h10M1161.2 2204.3h10M1167.1 2217.1V2286.4m-5 0h10M1162.1 2217.1h10M1168 2216.4V2296.5m-5 0h10M1163 2216.4h10M1169 2229.4V2277.5m-5 0h10M1164 2229.4h10M1169.9 2212.9V2259.6m-5 0h10M1164.9 2212.9h10M1170.8 2223.1V2273.9m-5 0h10M1165.8 2223.1h10M1171.7 2225.1V2285m-5 0h10M1166.7 2225.1h10M1172.7 2236.9V2280.4m-5 0h10M1167.7 2236.9h10M1173.6 2235.1V2280.3m-5 0h10M1168.6 2235.1h10M1174.5 2250.5V2299.5m-5 0h10M1169.5 2250.5h10M1175.4 2245.8V2291.9m-5 0h10M1170.4 2245.8h10M1176.4 2249.1V2302.1m-5 0h10M1171.4 2249.1h10M1177.3 2240.3V2290.1m-5 0h10M1172.3 2240.3h10M1178.2 2254.9V2314.5m-5 0h10M1173.2 2254.9h10M1179.1 2270V2317.1m-5 0h10M1174.1 2270h10M1180.1 2252.5V2323.6m-5 0h10M1175.1 2252.5h10M1181 2267.6V2322.4m-5 0h10M1176 2267.6h10M1181.9 2260V2305.8m-5 0h10M1176.9 2260h10M1182.8 2251.7V2298.6m-5 0h10M1177.8 2251.7h10M1183.8 2270.5V2325.6m-5 0h10M1178.8 2270.5h10M1184.7 2259.6V2308.5m-5 0h10M1179.7 2259.6h10M1185.6 2258.2V2306m-5 0h10M1180.6 2258.2h10M1186.5 2275.6V2320.7m-5 0h10M1181.5 2275.6h10M1187.5 2264.2V2318.7m-5 0h10M1182.5 2264.2h10M1188.4 2231.3V2274m-5 0h10M1183.4 2231.3h10M1189.3 2236.3V2281.7m-5 0h10M1184.3 2236.3h10M1190.3 2260.7V2326.8m-5 0h10M1185.3 2260.7h10M1191.2 2280.1V2322.6m-5 0h10M1186.2 2280.1h10M1192.1 2266.8V2327.7m-5 0h10M1187.1 2266.8h10M1193 2274.9V2324.1m-5 0h10M1188 2274.9h10M1194 2275.2V2322.8m-5 0h10M1189 2275.2h10M1194.9 2278.8V2342.8m-5 0h10M1189.9 2278.8h10M1195.8 2287.5V2332m-5 0h10M1190.8 2287.5h10M1196.7 2274.2V2331.5m-5 0h10M1191.7 2274.2h10M1197.7 2287.1V2349.3m-5 0h10M1192.7 2287.1h10M1198.6 2284.1V2334.8m-5 0h10M1193.6 2284.1h10M1199.5 2291.4V2347.9m-5 0h10M1194.5 2291.4h10M1200.4 2278.2V2344.7m-5 0h10M1195.4 2278.2h10M1201.4 2282.3V2323.9m-5 0h10M1196.4 2282.3h10M1202.3 2279.4V2330.2m-5 0h10M1197.3 2279.4h10M1203.2 2285V2341.8m-5 0h10M1198.2 2285h10M1204.1 2277.5V2340.5m-5 0h10M1199.1 2277.5h10M1205.1 2297.8V2342.6m-5 0h10M1200.1 2297.8h10M1206 2272.7V2330.3m-5 0h10M1201 2272.7h10M1206.9 2287.7V2343m-5 0h10M1201.9 2287.7h10M1207.8 2298V2356.7m-5 0h10M1202.8 2298h10M1208.8 2281.8V2324.7m-5 0h10M1203.8 2281.8h10M1209.7 2280.5V2328.7m-5 0h10M1204.7 2280.5h10M1210.6 2270.8V2321.6m-5 0h10M1205.6 2270.8h10M1211.5 2261.5V2314.8m-5 0h10M1206.5 2261.5h10M1212.5 2262.7V2314.6m-5 0h10M1207.5 2262.7h10M1213.4 2263V2329.2m-5 0h10M1208.4 2263h10M1214.3 2271.9V2324.7m-5 0h10M1209.3 2271.9h10M1215.2 2280.3V2330.9m-5 0h10M1210.2 2280.3h10M1216.2 2297.7V2357.3m-5 0h10M1211.2 2297.7h10M1217.1 2277.7V2329m-5 0h10M1212.1 2277.7h10M1218 2254.2V2304.8m-5 0h10M1213 2254.2h10M1218.9 2287.2V2350.5m-5 0h10M1213.9 2287.2h10M1219.9 2224.3V2277m-5 0h10M1214.9 2224.3h10M1220.8 2277.1V2334.9m-5 0h10M1215.8 2277.1h10M1221.7 2269V2324m-5 0h10M1216.7 2269h10M1222.6 2283.5V2329.1m-5 0h10M1217.6 2283.5h10M1223.6 2262.4V2317.7m-5 0h10M1218.6 2262.4h10M1224.5 2251.6V2303.9m-5 0h10M1219.5 2251.6h10M1225.4 2256.4V2317.7m-5 0h10M1220.4 2256.4h10M1226.4 2251.2V2308.5m-5 0h10M1221.4 2251.2h10M1227.3 2248.3V2302.9m-5 0h10M1222.3 2248.3h10M1243.5 2246.5V2316.7m-5 0h10M1238.5 2246.5h10M1244.4 2227.6V2278.2m-5 0h10M1239.4 2227.6h10M1245.3 2252.5V2297.7m-5 0h10M1240.3 2252.5h10M1246.3 2260.4V2305.8m-5 0h10M1241.3 2260.4h10M1247.2 2252.3V2296.5m-5 0h10M1242.2 2252.3h10M1248.1 2257.6V2300.8m-5 0h10M1243.1 2257.6h10M1249 2277.6V2328.1m-5 0h10M1244 2277.6h10M1250 2234V2299.5m-5 0h10M1245 2234h10M1250.9 2270.7V2317.8m-5 0h10M1245.9 2270.7h10M1251.8 2266.8V2310.8m-5 0h10M1246.8 2266.8h10M1252.7 2300.9V2355.3m-5 0h10M1247.7 2300.9h10M1253.7 2267.8V2312.2m-5 0h10M1248.7 2267.8h10M1254.6 2272.7V2313.6m-5 0h10M1249.6 2272.7h10M1255.5 2258.9V2301.5m-5 0h10M1250.5 2258.9h10M1256.4 2260.8V2305.4m-5 0h10M1251.4 2260.8h10M1257.4 2277.1V2330.3m-5 0h10M1252.4 2277.1h10M1258.3 2267.8V2309.5m-5 0h10M1253.3 2267.8h10M1259.2 2248.4V2297.3m-5 0h10M1254.2 2248.4h10M1260.1 2282.6V2336m-5 0h10M1255.1 2282.6h10M1261.1 2284.3V2336.7m-5 0h10M1256.1 2284.3h10M1262 2279.4V2320.8m-5 0h10M1257 2279.4h10M1262.9 2265.7V2314.9m-5 0h10M1257.9 2265.7h10M1263.8 2283.4V2340.9m-5 0h10M1258.8 2283.4h10M1264.8 2265.2V2311.9m-5 0h10M1259.8 2265.2h10M1265.7 2279V2320m-5 0h10M1260.7 2279h10M1266.6 2298.4V2344.7m-5 0h10M1261.6 2298.4h10M1267.5 2285.3V2339.6m-5 0h10M1262.5 2285.3h10M1268.5 2277V2326.2m-5 0h10M1263.5 2277h10M1269.4 2288.8V2338.8m-5 0h10M1264.4 2288.8h10M1270.3 2276.9V2357.6m-5 0h10M1265.3 2276.9h10M1271.2 2292.3V2356.2m-5 0h10M1266.2 2292.3h10M1272.2 2286.6V2348.3m-5 0h10M1267.2 2286.6h10M1273.1 2301.6V2345.6m-5 0h10M1268.1 2301.6h10M1274 2296V2347.9m-5 0h10M1269 2296h10M1274.9 2301.1V2343.7m-5 0h10M1269.9 2301.1h10M1275.9 2310.6V2352.1m-5 0h10M1270.9 2310.6h10M1276.8 2289.1V2335m-5 0h10M1271.8 2289.1h10M1277.7 2288.5V2337m-5 0h10M1272.7 2288.5h10M1278.6 2320V2369m-5 0h10M1273.6 2320h10M1279.6 2298.3V2359.6m-5 0h10M1274.6 2298.3h10M1280.5 2284.6V2341.2m-5 0h10M1275.5 2284.6h10M1281.4 2302.2V2347.6m-5 0h10M1276.4 2302.2h10M1282.3 2290.1V2332.9m-5 0h10M1277.3 2290.1h10M1283.3 2305.7V2359.9m-5 0h10M1278.3 2305.7h10M1284.2 2294.2V2342.1m-5 0h10M1279.2 2294.2h10M1285.1 2308.7V2349.4m-5 0h10M1280.1 2308.7h10M1286.1 2284.7V2344.3m-5 0h10M1281.1 2284.7h10M1287 2291.7V2345.1m-5 0h10M1282 2291.7h10M1287.9 2283.1V2343.1m-5 0h10M1282.9 2283.1h10M1288.8 2301.3V2346.5m-5 0h10M1283.8 2301.3h10M1289.8 2293.2V2346.7m-5 0h10M1284.8 2293.2h10M1290.7 2284.1V2347.6m-5 0h10M1285.7 2284.1h10M1291.6 2288.7V2331.7m-5 0h10M1286.6 2288.7h10M1292.5 2284.9V2333.5m-5 0h10M1287.5 2284.9h10M1293.5 2295.3V2341.4m-5 0h10M1288.5 2295.3h10M1294.4 2275.5V2325.9m-5 0h10M1289.4 2275.5h10M1295.3 2286.7V2327.6m-5 0h10M1290.3 2286.7h10M1296.2 2279.2V2326.8m-5 0h10M1291.2 2279.2h10M1297.2 2267.8V2329.1m-5 0h10M1292.2 2267.8h10M1298.1 2252.3V2298.9m-5 0h10M1293.1 2252.3h10M1299 2253.3V2304.5m-5 0h10M1294 2253.3h10M1299.9 2268.6V2310.8m-5 0h10M1294.9 2268.6h10M1300.9 2263.6V2317.8m-5 0h10M1295.9 2263.6h10M1301.8 2265.7V2322.7m-5 0h10M1296.8 2265.7h10M1302.7 2292.7V2340.8m-5 0h10M1297.7 2292.7h10M1303.6 2260.5V2302.5m-5 0h10M1298.6 2260.5h10M1304.6 2267.4V2311.5m-5 0h10M1299.6 2267.4h10M1305.5 2281.3V2324.9m-5 0h10M1300.5 2281.3h10M1306.4 2251V2309.5m-5 0h10M1301.4 2251h10M1307.3 2281.9V2331.5m-5 0h10M1302.3 2281.9h10M1308.3 2269V2312.6m-5 0h10M1303.3 2269h10M1309.2 2249.8V2315.7m-5 0h10M1304.2 2249.8h10M1310.1 2261.7V2327.4m-5 0h10M1305.1 2261.7h10M1311 2264.7V2319.8m-5 0h10M1306 2264.7h10M1312 2267.9V2325.9m-5 0h10M1307 2267.9h10M1312.9 2246.5V2302.6m-5 0h10M1307.9 2246.5h10M1313.8 2275.7V2325.2m-5 0h10M1308.8 2275.7h10M1314.7 2284.1V2334.3m-5 0h10M1309.7 2284.1h10M1315.7 2263V2306m-5 0h10M1310.7 2263h10M1316.6 2251.5V2292.3m-5 0h10M1311.6 2251.5h10M1317.5 2237.5V2291.4m-5 0h10M1312.5 2237.5h10M1318.4 2257.5V2321.1m-5 0h10M1313.4 2257.5h10M1319.4 2261V2306.8m-5 0h10M1314.4 2261h10M1320.3 2261.4V2313.5m-5 0h10M1315.3 2261.4h10M1321.2 2255.5V2303.4m-5 0h10M1316.2 2255.5h10M1322.1 2252.1V2312.8m-5 0h10M1317.1 2252.1h10M1323.1 2237.5V2306.6m-5 0h10M1318.1 2237.5h10M1324 2275.6V2346.8m-5 0h10M1319 2275.6h10M1324.9 2248.2V2326.5m-5 0h10M1319.9 2248.2h10M1325.9 2254.6V2323.5m-5 0h10M1320.9 2254.6h10M1326.8 2284.4V2334.7m-5 0h10M1321.8 2284.4h10M1327.7 2277.1V2333.3m-5 0h10M1322.7 2277.1h10M1328.6 2239.8V2307.8m-5 0h10M1323.6 2239.8h10M1329.6 2258.3V2323.1m-5 0h10M1324.6 2258.3h10M1330.5 2255.1V2330.8m-5 0h10M1325.5 2255.1h10M1331.4 2261.5V2341.5m-5 0h10M1326.4 2261.5h10M1332.3 2265.6V2328.5m-5 0h10M1327.3 2265.6h10M1333.3 2287.6V2332.5m-5 0h10M1328.3 2287.6h10M1334.2 2321.2V2367.8m-5 0h10M1329.2 2321.2h10M1335.1 2278.8V2330.8m-5 0h10M1330.1 2278.8h10M1336 2289.9V2336m-5 0h10M1331 2289.9h10M1337 2289.7V2347.6m-5 0h10M1332 2289.7h10M1337.9 2293.3V2350.7m-5 0h10M1332.9 2293.3h10M1338.8 2274.5V2331.8m-5 0h10M1333.8 2274.5h10M1339.7 2298.1V2340.2m-5 0h10M1334.7 2298.1h10M1340.7 2280.8V2357.2m-5 0h10M1335.7 2280.8h10M1341.6 2286.6V2331.3m-5 0h10M1336.6 2286.6h10M1342.5 2315.3V2357.7m-5 0h10M1337.5 2315.3h10M1343.4 2302.1V2358.4m-5 0h10M1338.4 2302.1h10M1344.4 2258.3V2301.6m-5 0h10M1339.4 2258.3h10M1345.3 2275.3V2337.7m-5 0h10M1340.3 2275.3h10M1346.2 2298V2348.5m-5 0h10M1341.2 2298h10M1347.1 2278.7V2327.3m-5 0h10M1342.1 2278.7h10M1348.1 2292.4V2336.4m-5 0h10M1343.1 2292.4h10M1349 2283.7V2333.3m-5 0h10M1344 2283.7h10M1349.9 2316.2V2358.2m-5 0h10M1344.9 2316.2h10M1350.8 2313.2V2360.1m-5 0h10M1345.8 2313.2h10M1351.8 2288V2338.8m-5 0h10M1346.8 2288h10M1352.7 2276.6V2348.4m-5 0h10M1347.7 2276.6h10M1353.6 2290.7V2371.7m-5 0h10M1348.6 2290.7h10M1354.5 2311.8V2353.9m-5 0h10M1349.5 2311.8h10M1355.5 2293.7V2355.9m-5 0h10M1350.5 2293.7h10M1356.4 2313.6V2358.9m-5 0h10M1351.4 2313.6h10M1357.3 2282.2V2334.9m-5 0h10M1352.3 2282.2h10M1358.2 2298.6V2355.5m-5 0h10M1353.2 2298.6h10M1359.2 2281.9V2330.6m-5 0h10M1354.2 2281.9h10M1360.1 2308.2V2353.8m-5 0h10M1355.1 2308.2h10M1361 2297.9V2345.8m-5 0h10M1356 2297.9h10M1361.9 2286.7V2332.2m-5 0h10M1356.9 2286.7h10M1362.9 2304.1V2354.2m-5 0h10M1357.9 2304.1h10M1363.8 2281.4V2322.3m-5 0h10M1358.8 2281.4h10M1364.7 2333.9V2383m-5 0h10M1359.7 2333.9h10M1365.7 2308.2V2356.2m-5 0h10M1360.7 2308.2h10M1366.6 2257.8V2330.2m-5 0h10M1361.6 2257.8h10M1367.5 2290.4V2346.5m-5 0h10M1362.5 2290.4h10M1368.4 2273.6V2322.4m-5 0h10M1363.4 2273.6h10M1369.4 2280.2V2323.4m-5 0h10M1364.4 2280.2h10M1370.3 2305.4V2368.1m-5 0h10M1365.3 2305.4h10M1371.2 2290.1V2340.8m-5 0h10M1366.2 2290.1h10M1372.1 2291.4V2336.6m-5 0h10M1367.1 2291.4h10M1373.1 2295.1V2338.8m-5 0h10M1368.1 2295.1h10M1374 2270V2329.2m-5 0h10M1369 2270h10M1374.9 2261.7V2308.9m-5 0h10M1369.9 2261.7h10M1375.8 2255.9V2311.5m-5 0h10M1370.8 2255.9h10M1376.8 2272.4V2314m-5 0h10M1371.8 2272.4h10M1377.7 2266.4V2318.3m-5 0h10M1372.7 2266.4h10M1378.6 2273.4V2318.9m-5 0h10M1373.6 2273.4h10M1379.5 2251.6V2305.6m-5 0h10M1374.5 2251.6h10M1380.5 2268V2312.1m-5 0h10M1375.5 2268h10M1381.4 2260.1V2330.1m-5 0h10M1376.4 2260.1h10M1382.3 2248.6V2306.5m-5 0h10M1377.3 2248.6h10M1383.2 2260.2V2336.3m-5 0h10M1378.2 2260.2h10M1384.2 2250.7V2308.3m-5 0h10M1379.2 2250.7h10M1385.1 2226V2290.8m-5 0h10M1380.1 2226h10M1386 2249.6V2312.1m-5 0h10M1381 2249.6h10M1386.9 2274.6V2318.8m-5 0h10M1381.9 2274.6h10M1387.9 2278V2322.6m-5 0h10M1382.9 2278h10M1388.8 2261.9V2309.1m-5 0h10M1383.8 2261.9h10M1389.7 2262.3V2312.6m-5 0h10M1384.7 2262.3h10M1390.6 2256.1V2304.9m-5 0h10M1385.6 2256.1h10M1391.6 2250.8V2318.6m-5 0h10M1386.6 2250.8h10M1392.5 2270.3V2312.2m-5 0h10M1387.5 2270.3h10M1393.4 2298.3V2355m-5 0h10M1388.4 2298.3h10M1394.3 2257.8V2313.8m-5 0h10M1389.3 2257.8h10M1395.3 2250.8V2292.9m-5 0h10M1390.3 2250.8h10M1396.2 2281.6V2335.9m-5 0h10M1391.2 2281.6h10M1397.1 2267.3V2319.6m-5 0h10M1392.1 2267.3h10M1398 2254.7V2307.2m-5 0h10M1393 2254.7h10M1399 2264.5V2309m-5 0h10M1394 2264.5h10M1399.9 2254.9V2311.3m-5 0h10M1394.9 2254.9h10M1400.8 2261.4V2316.6m-5 0h10M1395.8 2261.4h10M1401.7 2276.1V2321.9m-5 0h10M1396.7 2276.1h10M1402.7 2283.7V2334.8m-5 0h10M1397.7 2283.7h10M1403.6 2266.7V2327.9m-5 0h10M1398.6 2266.7h10M1404.5 2269.8V2336.3m-5 0h10M1399.5 2269.8h10M1405.5 2278.4V2348.2m-5 0h10M1400.5 2278.4h10M1406.4 2280.2V2332.9m-5 0h10M1401.4 2280.2h10M1407.3 2295.2V2341.7m-5 0h10M1402.3 2295.2h10M1408.2 2271.9V2324.6m-5 0h10M1403.2 2271.9h10M1409.2 2289.3V2332m-5 0h10M1404.2 2289.3h10M1410.1 2280.3V2329m-5 0h10M1405.1 2280.3h10M1411 2276V2326.4m-5 0h10M1406 2276h10M1411.9 2310.3V2352.7m-5 0h10M1406.9 2310.3h10M1412.9 2291.4V2356.8m-5 0h10M1407.9 2291.4h10M1413.8 2298.4V2340.6m-5 0h10M1408.8 2298.4h10M1414.7 2299.9V2344.6m-5 0h10M1409.7 2299.9h10M1415.6 2286V2342.8m-5 0h10M1410.6 2286h10M1416.6 2292.5V2344.9m-5 0h10M1411.6 2292.5h10M1417.5 2292.7V2339.3m-5 0h10M1412.5 2292.7h10M1418.4 2314.1V2355.2m-5 0h10M1413.4 2314.1h10M1419.3 2292.9V2333.7m-5 0h10M1414.3 2292.9h10M1420.3 2306.1V2374.9m-5 0h10M1415.3 2306.1h10M1421.2 2312.2V2363.2m-5 0h10M1416.2 2312.2h10M1422.1 2309.3V2356.8m-5 0h10M1417.1 2309.3h10M1423 2320.3V2362.2m-5 0h10M1418 2320.3h10M1424 2296.5V2381.7m-5 0h10M1419 2296.5h10M1424.9 2286.9V2341.5m-5 0h10M1419.9 2286.9h10M1425.8 2315.5V2356.8m-5 0h10M1420.8 2315.5h10M1426.7 2319.8V2368.9m-5 0h10M1421.7 2319.8h10M1427.7 2369.7V2410.7m-5 0h10M1422.7 2369.7h10M1428.6 2349.9V2390.8m-5 0h10M1423.6 2349.9h10M1429.5 2328.7V2383.4m-5 0h10M1424.5 2328.7h10M1430.4 2324.5V2367.3m-5 0h10M1425.4 2324.5h10M1431.4 2331.4V2391.3m-5 0h10M1426.4 2331.4h10M1432.3 2310.8V2359.9m-5 0h10M1427.3 2310.8h10M1433.2 2302V2355.1m-5 0h10M1428.2 2302h10M1434.1 2296.3V2350.7m-5 0h10M1429.1 2296.3h10M1435.1 2307.6V2369.3m-5 0h10M1430.1 2307.6h10M1436 2313.2V2365.6m-5 0h10M1431 2313.2h10M1436.9 2309.5V2367.7m-5 0h10M1431.9 2309.5h10M1437.8 2313V2359.1m-5 0h10M1432.8 2313h10M1438.8 2310.4V2368.1m-5 0h10M1433.8 2310.4h10M1439.7 2312.6V2362.2m-5 0h10M1434.7 2312.6h10M1440.6 2330.4V2374.2m-5 0h10M1435.6 2330.4h10M1441.6 2301.4V2372m-5 0h10M1436.6 2301.4h10M1442.5 2266.9V2335.8m-5 0h10M1437.5 2266.9h10M1443.4 2300.9V2348.3m-5 0h10M1438.4 2300.9h10M1444.3 2286.7V2335.6m-5 0h10M1439.3 2286.7h10M1445.3 2315.7V2361.9m-5 0h10M1440.3 2315.7h10M1446.2 2313.5V2360.4m-5 0h10M1441.2 2313.5h10M1447.1 2304V2360.9m-5 0h10M1442.1 2304h10M1448 2305.2V2353.6m-5 0h10M1443 2305.2h10M1449 2303V2361.4m-5 0h10M1444 2303h10M1449.9 2314.2V2363.2m-5 0h10M1444.9 2314.2h10M1450.8 2297.2V2341.9m-5 0h10M1445.8 2297.2h10M1451.7 2289.6V2349.3m-5 0h10M1446.7 2289.6h10M1452.7 2318.4V2359.8m-5 0h10M1447.7 2318.4h10M1453.6 2299V2358.5m-5 0h10M1448.6 2299h10M1454.5 2286.2V2352m-5 0h10M1449.5 2286.2h10M1455.4 2299.7V2344.4m-5 0h10M1450.4 2299.7h10M1456.4 2293.9V2345.7m-5 0h10M1451.4 2293.9h10M1457.3 2275V2342.7m-5 0h10M1452.3 2275h10M1458.2 2293.8V2334.9m-5 0h10M1453.2 2293.8h10M1459.1 2286.9V2347.5m-5 0h10M1454.1 2286.9h10M1460.1 2278.2V2333.4m-5 0h10M1455.1 2278.2h10M1461 2260.6V2304.2m-5 0h10M1456 2260.6h10M1461.9 2298.4V2350.9m-5 0h10M1456.9 2298.4h10M1462.8 2288.9V2335.3m-5 0h10M1457.8 2288.9h10M1463.8 2254.1V2319.6m-5 0h10M1458.8 2254.1h10M1464.7 2285.3V2329m-5 0h10M1459.7 2285.3h10M1465.6 2295.3V2337.1m-5 0h10M1460.6 2295.3h10M1466.5 2282.5V2323.6m-5 0h10M1461.5 2282.5h10M1467.5 2287.6V2347.7m-5 0h10M1462.5 2287.6h10M1468.4 2239.3V2282.4m-5 0h10M1463.4 2239.3h10M1469.3 2274.3V2325m-5 0h10M1464.3 2274.3h10M1470.2 2276.2V2326.3m-5 0h10M1465.2 2276.2h10M1471.2 2280.7V2323.1m-5 0h10M1466.2 2280.7h10M1472.1 2287V2329.7m-5 0h10M1467.1 2287h10M1473 2299.9V2360.3m-5 0h10M1468 2299.9h10M1473.9 2300.9V2377.1m-5 0h10M1468.9 2300.9h10M1474.9 2274.3V2346.9m-5 0h10M1469.9 2274.3h10M1475.8 2299.8V2349.2m-5 0h10M1470.8 2299.8h10M1476.7 2265.4V2327m-5 0h10M1471.7 2265.4h10M1477.6 2278.7V2341.2m-5 0h10M1472.6 2278.7h10M1478.6 2302.1V2349.2m-5 0h10M1473.6 2302.1h10M1479.5 2290.3V2332.4m-5 0h10M1474.5 2290.3h10M1480.4 2292.5V2344.3m-5 0h10M1475.4 2292.5h10M1481.4 2272.7V2358.1m-5 0h10M1476.4 2272.7h10M1482.3 2299.1V2371.4m-5 0h10M1477.3 2299.1h10M1483.2 2285.8V2352.5m-5 0h10M1478.2 2285.8h10M1484.1 2288.3V2350.2m-5 0h10M1479.1 2288.3h10M1485.1 2281.4V2328.3m-5 0h10M1480.1 2281.4h10M1486 2298.5V2353.5m-5 0h10M1481 2298.5h10M1486.9 2286V2340.3m-5 0h10M1481.9 2286h10M1487.8 2302.7V2344.4m-5 0h10M1482.8 2302.7h10M1488.8 2293.6V2338.2m-5 0h10M1483.8 2293.6h10M1489.7 2290.3V2355.1m-5 0h10M1484.7 2290.3h10M1490.6 2305.4V2350.7m-5 0h10M1485.6 2305.4h10M1491.5 2282.3V2345.7m-5 0h10M1486.5 2282.3h10M1492.5 2316.4V2357.3m-5 0h10M1487.5 2316.4h10M1493.4 2338.4V2380m-5 0h10M1488.4 2338.4h10M1494.3 2305.1V2360.5m-5 0h10M1489.3 2305.1h10M1495.2 2298.2V2345.4m-5 0h10M1490.2 2298.2h10M1496.2 2327.2V2368.9m-5 0h10M1491.2 2327.2h10M1497.1 2325.9V2372.1m-5 0h10M1492.1 2325.9h10M1498 2306.3V2379.9m-5 0h10M1493 2306.3h10M1498.9 2291.4V2380.8m-5 0h10M1493.9 2291.4h10M1499.9 2305.2V2350.8m-5 0h10M1494.9 2305.2h10M1500.8 2340.7V2384.5m-5 0h10M1495.8 2340.7h10M1501.7 2324.9V2371m-5 0h10M1496.7 2324.9h10M1502.6 2323.3V2398.9m-5 0h10M1497.6 2323.3h10M1503.6 2313.9V2363m-5 0h10M1498.6 2313.9h10M1504.5 2324.4V2387.1m-5 0h10M1499.5 2324.4h10M1505.4 2326.8V2379.8m-5 0h10M1500.4 2326.8h10M1506.3 2342.5V2397.9m-5 0h10M1501.3 2342.5h10M1507.3 2303.8V2359.7m-5 0h10M1502.3 2303.8h10M1508.2 2333.3V2395.2m-5 0h10M1503.2 2333.3h10M1509.1 2351.6V2404.6m-5 0h10M1504.1 2351.6h10M1510 2346.7V2392.3m-5 0h10M1505 2346.7h10M1511 2328.4V2385.5m-5 0h10M1506 2328.4h10M1511.9 2339.6V2390.2m-5 0h10M1506.9 2339.6h10M1512.8 2311.3V2369m-5 0h10M1507.8 2311.3h10M1513.7 2346.6V2388.4m-5 0h10M1508.7 2346.6h10M1514.7 2318.4V2370.3m-5 0h10M1509.7 2318.4h10M1515.6 2335.6V2377.1m-5 0h10M1510.6 2335.6h10M1516.5 2330V2371.2m-5 0h10M1511.5 2330h10M1517.4 2334.8V2377.4m-5 0h10M1512.4 2334.8h10M1518.4 2332.2V2387.7m-5 0h10M1513.4 2332.2h10M1519.3 2344.4V2388.1m-5 0h10M1514.3 2344.4h10M1520.2 2328.3V2370.7m-5 0h10M1515.2 2328.3h10M1521.2 2326.6V2394.7m-5 0h10M1516.2 2326.6h10M1522.1 2329.6V2376.9m-5 0h10M1517.1 2329.6h10M1523 2322.3V2382.4m-5 0h10M1518 2322.3h10M1523.9 2331.6V2384.1m-5 0h10M1518.9 2331.6h10M1524.9 2320.5V2376.7m-5 0h10M1519.9 2320.5h10M1525.8 2325.1V2369.2m-5 0h10M1520.8 2325.1h10M1526.7 2320.8V2364.3m-5 0h10M1521.7 2320.8h10M1527.6 2322.7V2363.5m-5 0h10M1522.6 2322.7h10M1528.6 2289.7V2331.1m-5 0h10M1523.6 2289.7h10M1529.5 2304.8V2345.9m-5 0h10M1524.5 2304.8h10M1530.4 2317.6V2369m-5 0h10M1525.4 2317.6h10M1531.3 2326.5V2374.2m-5 0h10M1526.3 2326.5h10M1532.3 2306.5V2366.1m-5 0h10M1527.3 2306.5h10M1533.2 2314V2362.9m-5 0h10M1528.2 2314h10M1534.1 2320.5V2364.6m-5 0h10M1529.1 2320.5h10M1535 2285V2341.1m-5 0h10M1530 2285h10M1536 2299.6V2351.8m-5 0h10M1531 2299.6h10M1536.9 2296.8V2353m-5 0h10M1531.9 2296.8h10M1537.8 2288.3V2333m-5 0h10M1532.8 2288.3h10M1538.7 2347V2392.9m-5 0h10M1533.7 2347h10M1539.7 2303V2358.9m-5 0h10M1534.7 2303h10M1540.6 2298.6V2346.2m-5 0h10M1535.6 2298.6h10M1541.5 2296.5V2346.9m-5 0h10M1536.5 2296.5h10M1542.4 2293.6V2350.9m-5 0h10M1537.4 2293.6h10M1543.4 2326.8V2384.4m-5 0h10M1538.4 2326.8h10M1544.3 2252.8V2314.1m-5 0h10M1539.3 2252.8h10M1545.2 2293.2V2338.6m-5 0h10M1540.2 2293.2h10M1546.1 2303.3V2349.3m-5 0h10M1541.1 2303.3h10M1547.1 2277.7V2337m-5 0h10M1542.1 2277.7h10M1548 2310.5V2353.7m-5 0h10M1543 2310.5h10M1548.9 2298.7V2343.4m-5 0h10M1543.9 2298.7h10M1549.8 2307.4V2361.6m-5 0h10M1544.8 2307.4h10M1550.8 2295.2V2355.6m-5 0h10M1545.8 2295.2h10M1551.7 2302.1V2353.3m-5 0h10M1546.7 2302.1h10M1552.6 2291.5V2353.1m-5 0h10M1547.6 2291.5h10M1553.5 2287.2V2354.4m-5 0h10M1548.5 2287.2h10M1554.5 2290V2334.4m-5 0h10M1549.5 2290h10M1555.4 2273.7V2326.3m-5 0h10M1550.4 2273.7h10M1556.3 2277.3V2349.8m-5 0h10M1551.3 2277.3h10M1557.2 2300.8V2348.8m-5 0h10M1552.2 2300.8h10M1558.2 2294.2V2356.2m-5 0h10M1553.2 2294.2h10M1559.1 2295.1V2349.7m-5 0h10M1554.1 2295.1h10M1560 2283.9V2356.4m-5 0h10M1555 2283.9h10M1561 2304.2V2354.1m-5 0h10M1556 2304.2h10M1561.9 2317.1V2383.6m-5 0h10M1556.9 2317.1h10M1562.8 2320.7V2375.1m-5 0h10M1557.8 2320.7h10M1563.7 2304.5V2350.9m-5 0h10M1558.7 2304.5h10M1564.7 2309V2360.3m-5 0h10M1559.7 2309h10M1565.6 2306.9V2358m-5 0h10M1560.6 2306.9h10M1566.5 2325.7V2366.6m-5 0h10M1561.5 2325.7h10M1567.4 2328.2V2388.3m-5 0h10M1562.4 2328.2h10M1568.4 2346.7V2391.9m-5 0h10M1563.4 2346.7h10M1569.3 2343.4V2384.5m-5 0h10M1564.3 2343.4h10M1570.2 2321.6V2382.3m-5 0h10M1565.2 2321.6h10M1571.1 2306.8V2349.8m-5 0h10M1566.1 2306.8h10M1572.1 2311.3V2360.5m-5 0h10M1567.1 2311.3h10M1573 2320.3V2382.8m-5 0h10M1568 2320.3h10M1573.9 2356.3V2411.8m-5 0h10M1568.9 2356.3h10M1574.8 2324.9V2384m-5 0h10M1569.8 2324.9h10M1575.8 2331.1V2397.7m-5 0h10M1570.8 2331.1h10M1576.7 2347.6V2392.9m-5 0h10M1571.7 2347.6h10M1577.6 2346.1V2403.7m-5 0h10M1572.6 2346.1h10M1578.5 2363.9V2418.3m-5 0h10M1573.5 2363.9h10M1579.5 2333.4V2378.7m-5 0h10M1574.5 2333.4h10M1580.4 2345V2396.5m-5 0h10M1575.4 2345h10M1581.3 2358.8V2437.2m-5 0h10M1576.3 2358.8h10M1582.2 2335.6V2389m-5 0h10M1577.2 2335.6h10M1583.2 2351.2V2392.6m-5 0h10M1578.2 2351.2h10M1584.1 2347.6V2399.8m-5 0h10M1579.1 2347.6h10M1585 2341.5V2393m-5 0h10M1580 2341.5h10M1585.9 2317V2367.6m-5 0h10M1580.9 2317h10M1586.9 2334V2383.3m-5 0h10M1581.9 2334h10M1587.8 2325.3V2380.2m-5 0h10M1582.8 2325.3h10M1588.7 2306.4V2379.3m-5 0h10M1583.7 2306.4h10M1589.6 2334.3V2376.3m-5 0h10M1584.6 2334.3h10M1590.6 2362.6V2414.8m-5 0h10M1585.6 2362.6h10M1591.5 2335.5V2380.2m-5 0h10M1586.5 2335.5h10M1592.4 2307.3V2369.6m-5 0h10M1587.4 2307.3h10M1593.3 2341.7V2392.1m-5 0h10M1588.3 2341.7h10M1594.3 2301.9V2363.1m-5 0h10M1589.3 2301.9h10M1595.2 2318.6V2379.3m-5 0h10M1590.2 2318.6h10M1596.1 2314.4V2366.2m-5 0h10M1591.1 2314.4h10M1597 2320.4V2372.9m-5 0h10M1592 2320.4h10M1598 2330.2V2372.8m-5 0h10M1593 2330.2h10M1598.9 2325V2380.2m-5 0h10M1593.9 2325h10M1599.8 2340.1V2387m-5 0h10M1594.8 2340.1h10M1600.8 2338.8V2383.8m-5 0h10M1595.8 2338.8h10M1601.7 2330.8V2373.8m-5 0h10M1596.7 2330.8h10M1602.6 2326.9V2393.2m-5 0h10M1597.6 2326.9h10M1603.5 2327.4V2374.8m-5 0h10M1598.5 2327.4h10M1604.5 2330.2V2371.9m-5 0h10M1599.5 2330.2h10M1605.4 2314.8V2377.7m-5 0h10M1600.4 2314.8h10M1606.3 2326.3V2369m-5 0h10M1601.3 2326.3h10M1607.2 2304V2352.3m-5 0h10M1602.2 2304h10M1608.2 2330.8V2378.3m-5 0h10M1603.2 2330.8h10M1609.1 2285.3V2339.5m-5 0h10M1604.1 2285.3h10M1610 2316.2V2384.2m-5 0h10M1605 2316.2h10M1610.9 2352V2406.7m-5 0h10M1605.9 2352h10M1611.9 2306.3V2354.7m-5 0h10M1606.9 2306.3h10M1612.8 2302V2351.6m-5 0h10M1607.8 2302h10M1613.7 2292.4V2344.1m-5 0h10M1608.7 2292.4h10M1614.6 2300.6V2373m-5 0h10M1609.6 2300.6h10M1615.6 2310.5V2362m-5 0h10M1610.6 2310.5h10M1616.5 2316V2358.2m-5 0h10M1611.5 2316h10M1617.4 2297.2V2343.6m-5 0h10M1612.4 2297.2h10M1618.3 2286.4V2344.5m-5 0h10M1613.3 2286.4h10M1619.3 2298.3V2350.7m-5 0h10M1614.3 2298.3h10M1620.2 2297.2V2345.1m-5 0h10M1615.2 2297.2h10M1621.1 2296V2340.5m-5 0h10M1616.1 2296h10M1622 2290.2V2342.9m-5 0h10M1617 2290.2h10M1623 2289.2V2341.1m-5 0h10M1618 2289.2h10M1623.9 2334.5V2381.6m-5 0h10M1618.9 2334.5h10M1624.8 2299.9V2351.9m-5 0h10M1619.8 2299.9h10M1625.7 2285.5V2342.4m-5 0h10M1620.7 2285.5h10M1626.7 2309.9V2362.9m-5 0h10M1621.7 2309.9h10M1627.6 2305V2346.6m-5 0h10M1622.6 2305h10M1628.5 2286.7V2341.1m-5 0h10M1623.5 2286.7h10M1629.4 2301.8V2347.2m-5 0h10M1624.4 2301.8h10M1630.4 2295V2348.9m-5 0h10M1625.4 2295h10M1631.3 2294.6V2347.3m-5 0h10M1626.3 2294.6h10M1632.2 2284.5V2345.9m-5 0h10M1627.2 2284.5h10M1633.1 2282.3V2352.9m-5 0h10M1628.1 2282.3h10M1634.1 2308.8V2362.9m-5 0h10M1629.1 2308.8h10M1635 2300.2V2351.9m-5 0h10M1630 2300.2h10M1635.9 2349.4V2396.2m-5 0h10M1630.9 2349.4h10M1636.8 2317.9V2365.1m-5 0h10M1631.8 2317.9h10M1637.8 2291.4V2340.6m-5 0h10M1632.8 2291.4h10M1638.7 2318.1V2365.6m-5 0h10M1633.7 2318.1h10M1639.6 2285.3V2343.3m-5 0h10M1634.6 2285.3h10M1640.6 2290.9V2352.2m-5 0h10M1635.6 2290.9h10M1641.5 2317V2371.3m-5 0h10M1636.5 2317h10M1642.4 2312V2372m-5 0h10M1637.4 2312h10M1643.3 2323V2379.2m-5 0h10M1638.3 2323h10M1644.3 2357.4V2407.7m-5 0h10M1639.3 2357.4h10M1645.2 2325.8V2374m-5 0h10M1640.2 2325.8h10M1646.1 2336.1V2383.3m-5 0h10M1641.1 2336.1h10M1647 2322.7V2376.4m-5 0h10M1642 2322.7h10M1648 2325.4V2391.2m-5 0h10M1643 2325.4h10M1648.9 2335.7V2380.2m-5 0h10M1643.9 2335.7h10M1649.8 2347.5V2398.6m-5 0h10M1644.8 2347.5h10M1650.7 2318.4V2379.9m-5 0h10M1645.7 2318.4h10M1651.7 2333.3V2376.7m-5 0h10M1646.7 2333.3h10M1652.6 2338.1V2390m-5 0h10M1647.6 2338.1h10M1653.5 2346.8V2401.9m-5 0h10M1648.5 2346.8h10M1654.4 2332.7V2391.9m-5 0h10M1649.4 2332.7h10M1655.4 2333.3V2377.2m-5 0h10M1650.4 2333.3h10M1656.3 2333.4V2381.4m-5 0h10M1651.3 2333.4h10M1657.2 2345.6V2397m-5 0h10M1652.2 2345.6h10M1658.1 2321.2V2387.3m-5 0h10M1653.1 2321.2h10M1659.1 2333.5V2378.9m-5 0h10M1654.1 2333.5h10M1660 2331.4V2373m-5 0h10M1655 2331.4h10M1660.9 2359.3V2404.5m-5 0h10M1655.9 2359.3h10M1661.8 2333V2383.4m-5 0h10M1656.8 2333h10M1662.8 2327.9V2388.9m-5 0h10M1657.8 2327.9h10M1663.7 2325.6V2379.2m-5 0h10M1658.7 2325.6h10M1664.6 2337.1V2382m-5 0h10M1659.6 2337.1h10M1665.5 2336.7V2395.1m-5 0h10M1660.5 2336.7h10M1666.5 2337.8V2393.5m-5 0h10M1661.5 2337.8h10M1667.4 2339V2391.2m-5 0h10M1662.4 2339h10M1668.3 2331.6V2386.9m-5 0h10M1663.3 2331.6h10M1669.2 2352.8V2396m-5 0h10M1664.2 2352.8h10M1670.2 2335.7V2420.3m-5 0h10M1665.2 2335.7h10M1671.1 2355.2V2404.6m-5 0h10M1666.1 2355.2h10M1672 2366.8V2408m-5 0h10M1667 2366.8h10M1672.9 2320.9V2376.4m-5 0h10M1667.9 2320.9h10M1673.9 2334V2375.1m-5 0h10M1668.9 2334h10M1674.8 2323.3V2377.6m-5 0h10M1669.8 2323.3h10M1675.7 2332.8V2374m-5 0h10M1670.7 2332.8h10M1676.6 2339.5V2399.8m-5 0h10M1671.6 2339.5h10M1677.6 2287.5V2341.9m-5 0h10M1672.6 2287.5h10M1678.5 2332.9V2392.8m-5 0h10M1673.5 2332.9h10M1679.4 2326.3V2392.8m-5 0h10M1674.4 2326.3h10M1680.4 2333.4V2394.5m-5 0h10M1675.4 2333.4h10M1681.3 2321V2375m-5 0h10M1676.3 2321h10M1682.2 2341.3V2386.2m-5 0h10M1677.2 2341.3h10M1683.1 2298.6V2370.4m-5 0h10M1678.1 2298.6h10M1684.1 2334.3V2377.8m-5 0h10M1679.1 2334.3h10M1685 2305.7V2359.5m-5 0h10M1680 2305.7h10M1685.9 2292.9V2360.7m-5 0h10M1680.9 2292.9h10M1686.8 2301.3V2350m-5 0h10M1681.8 2301.3h10M1687.8 2321.5V2369.1m-5 0h10M1682.8 2321.5h10M1688.7 2310.8V2364.2m-5 0h10M1683.7 2310.8h10M1689.6 2286.3V2347.5m-5 0h10M1684.6 2286.3h10M1690.5 2293.8V2354m-5 0h10M1685.5 2293.8h10M1691.5 2318.8V2367.9m-5 0h10M1686.5 2318.8h10M1692.4 2303.6V2355.9m-5 0h10M1687.4 2303.6h10M1693.3 2313.1V2359.6m-5 0h10M1688.3 2313.1h10M1694.2 2295.2V2375m-5 0h10M1689.2 2295.2h10M1695.2 2275V2338.2m-5 0h10M1690.2 2275h10M1696.1 2273.3V2337.7m-5 0h10M1691.1 2273.3h10M1697 2276.1V2340.6m-5 0h10M1692 2276.1h10M1697.9 2299.5V2350.1m-5 0h10M1692.9 2299.5h10M1698.9 2343.9V2392.8m-5 0h10M1693.9 2343.9h10M1699.8 2306.6V2355.8m-5 0h10M1694.8 2306.6h10M1700.7 2294.3V2351.9m-5 0h10M1695.7 2294.3h10M1701.6 2312V2364m-5 0h10M1696.6 2312h10M1702.6 2314.9V2369.6m-5 0h10M1697.6 2314.9h10M1703.5 2295.7V2343.9m-5 0h10M1698.5 2295.7h10M1704.4 2284.9V2349.2m-5 0h10M1699.4 2284.9h10M1705.3 2304.2V2349.4m-5 0h10M1700.3 2304.2h10M1706.3 2295.2V2362.3m-5 0h10M1701.3 2295.2h10M1707.2 2299.5V2342.8m-5 0h10M1702.2 2299.5h10M1708.1 2306.6V2359.3m-5 0h10M1703.1 2306.6h10M1709 2274.2V2335.7m-5 0h10M1704 2274.2h10M1710 2307.4V2359m-5 0h10M1705 2307.4h10M1710.9 2271.3V2324.7m-5 0h10M1705.9 2271.3h10M1711.8 2317.1V2362.7m-5 0h10M1706.8 2317.1h10M1712.7 2281V2323.8m-5 0h10M1707.7 2281h10M1713.7 2295V2343.9m-5 0h10M1708.7 2295h10M1714.6 2308V2356m-5 0h10M1709.6 2308h10M1715.5 2313.4V2357.7m-5 0h10M1710.5 2313.4h10M1716.5 2317.4V2360.5m-5 0h10M1711.5 2317.4h10M1717.4 2304.4V2347.9m-5 0h10M1712.4 2304.4h10M1718.3 2306V2355.5m-5 0h10M1713.3 2306h10M1719.2 2310V2385.8m-5 0h10M1714.2 2310h10M1720.2 2306V2360.5m-5 0h10M1715.2 2306h10M1721.1 2312.7V2360.9m-5 0h10M1716.1 2312.7h10M1722 2321.3V2364.7m-5 0h10M1717 2321.3h10M1722.9 2332.9V2378.4m-5 0h10M1717.9 2332.9h10M1723.9 2329.2V2378.8m-5 0h10M1718.9 2329.2h10M1724.8 2335.8V2385.9m-5 0h10M1719.8 2335.8h10M1725.7 2346V2393.5m-5 0h10M1720.7 2346h10M1726.6 2343.3V2406.1m-5 0h10M1721.6 2343.3h10M1727.6 2320.9V2378.4m-5 0h10M1722.6 2320.9h10M1728.5 2321.6V2369.5m-5 0h10M1723.5 2321.6h10M1729.4 2339.7V2392.7m-5 0h10M1724.4 2339.7h10M1730.3 2337.8V2383.8m-5 0h10M1725.3 2337.8h10M1731.3 2353.6V2398.8m-5 0h10M1726.3 2353.6h10M1732.2 2341.2V2387.6m-5 0h10M1727.2 2341.2h10M1733.1 2336.2V2389.6m-5 0h10M1728.1 2336.2h10M1734 2352.3V2397.7m-5 0h10M1729 2352.3h10M1735 2331.2V2382.1m-5 0h10M1730 2331.2h10M1735.9 2352.1V2405.4m-5 0h10M1730.9 2352.1h10M1736.8 2342.3V2406.1m-5 0h10M1731.8 2342.3h10M1737.7 2332.3V2389.4m-5 0h10M1732.7 2332.3h10M1738.7 2343.9V2389.7m-5 0h10M1733.7 2343.9h10M1739.6 2331.9V2394.6m-5 0h10M1734.6 2331.9h10M1740.5 2345.8V2388.9m-5 0h10M1735.5 2345.8h10M1741.4 2346.9V2398.2m-5 0h10M1736.4 2346.9h10M1742.4 2343.4V2385.1m-5 0h10M1737.4 2343.4h10M1743.3 2358.7V2413.2m-5 0h10M1738.3 2358.7h10M1744.2 2326.3V2369.8m-5 0h10M1739.2 2326.3h10M1745.1 2363.8V2411.8m-5 0h10M1740.1 2363.8h10M1746.1 2340.6V2393.6m-5 0h10M1741.1 2340.6h10M1747 2343.1V2385.3m-5 0h10M1742 2343.1h10M1747.9 2329.5V2375.6m-5 0h10M1742.9 2329.5h10M1748.8 2315.8V2362.9m-5 0h10M1743.8 2315.8h10M1749.8 2351V2404.6m-5 0h10M1744.8 2351h10M1750.7 2327.1V2385.9m-5 0h10M1745.7 2327.1h10M1751.6 2322.3V2384.5m-5 0h10M1746.6 2322.3h10M1752.5 2350.8V2392.3m-5 0h10M1747.5 2350.8h10M1753.5 2331.3V2392m-5 0h10M1748.5 2331.3h10M1754.4 2329.6V2392m-5 0h10M1749.4 2329.6h10M1755.3 2355.3V2397.1m-5 0h10M1750.3 2355.3h10M1756.3 2344.1V2391m-5 0h10M1751.3 2344.1h10M1757.2 2329.2V2379.1m-5 0h10M1752.2 2329.2h10M1758.1 2286.5V2331.1m-5 0h10M1753.1 2286.5h10M1759 2314.7V2363.4m-5 0h10M1754 2314.7h10M1760 2337V2378.8m-5 0h10M1755 2337h10M1760.9 2321.8V2367.8m-5 0h10M1755.9 2321.8h10M1761.8 2331.5V2379.7m-5 0h10M1756.8 2331.5h10M1762.7 2310V2353m-5 0h10M1757.7 2310h10M1763.7 2317.3V2363.4m-5 0h10M1758.7 2317.3h10M1764.6 2314.8V2357.2m-5 0h10M1759.6 2314.8h10M1765.5 2329.5V2377.3m-5 0h10M1760.5 2329.5h10M1766.4 2299.7V2356.3m-5 0h10M1761.4 2299.7h10M1767.4 2300.9V2371m-5 0h10M1762.4 2300.9h10M1768.3 2288V2333.7m-5 0h10M1763.3 2288h10M1769.2 2312.6V2364.7m-5 0h10M1764.2 2312.6h10M1770.1 2317.3V2388.3m-5 0h10M1765.1 2317.3h10M1771.1 2324.5V2372.7m-5 0h10M1766.1 2324.5h10M1772 2316.1V2358.5m-5 0h10M1767 2316.1h10M1772.9 2297.8V2351.7m-5 0h10M1767.9 2297.8h10M1773.8 2299.3V2341.5m-5 0h10M1768.8 2299.3h10M1774.8 2270.2V2339.5m-5 0h10M1769.8 2270.2h10M1775.7 2288.2V2342.6m-5 0h10M1770.7 2288.2h10M1776.6 2284.1V2347.4m-5 0h10M1771.6 2284.1h10M1777.5 2308.5V2376.2m-5 0h10M1772.5 2308.5h10M1778.5 2289.9V2351.4m-5 0h10M1773.5 2289.9h10M1779.4 2298.6V2353.1m-5 0h10M1774.4 2298.6h10M1780.3 2294.8V2369.4m-5 0h10M1775.3 2294.8h10M1781.2 2303.7V2347.2m-5 0h10M1776.2 2303.7h10M1782.2 2300.3V2360m-5 0h10M1777.2 2300.3h10M1783.1 2308.3V2353.3m-5 0h10M1778.1 2308.3h10M1784 2291.4V2333.8m-5 0h10M1779 2291.4h10M1784.9 2317.9V2367.5m-5 0h10M1779.9 2317.9h10M1785.9 2323.4V2371m-5 0h10M1780.9 2323.4h10M1786.8 2323.4V2369.9m-5 0h10M1781.8 2323.4h10M1787.7 2322.6V2365.4m-5 0h10M1782.7 2322.6h10M1788.6 2299.5V2344m-5 0h10M1783.6 2299.5h10M1789.6 2324V2373.8m-5 0h10M1784.6 2324h10M1790.5 2309.7V2357.4m-5 0h10M1785.5 2309.7h10M1791.4 2325.9V2374.2m-5 0h10M1786.4 2325.9h10M1792.3 2320.8V2377m-5 0h10M1787.3 2320.8h10M1793.3 2330.3V2372.7m-5 0h10M1788.3 2330.3h10M1794.2 2326V2369.1m-5 0h10M1789.2 2326h10M1795.1 2325V2365.9m-5 0h10M1790.1 2325h10M1796.1 2324.7V2367.7m-5 0h10M1791.1 2324.7h10M1797 2324V2373.7m-5 0h10M1792 2324h10M1797.9 2347.1V2392.5m-5 0h10M1792.9 2347.1h10M1798.8 2319V2365.3m-5 0h10M1793.8 2319h10M1799.8 2334.4V2377.3m-5 0h10M1794.8 2334.4h10M1800.7 2349V2401.5m-5 0h10M1795.7 2349h10M1801.6 2334.6V2380.1m-5 0h10M1796.6 2334.6h10M1802.5 2347.1V2396.8m-5 0h10M1797.5 2347.1h10M1803.5 2326.2V2372.7m-5 0h10M1798.5 2326.2h10M1804.4 2333.6V2387m-5 0h10M1799.4 2333.6h10M1805.3 2326.8V2368.5m-5 0h10M1800.3 2326.8h10M1806.2 2327.7V2404m-5 0h10M1801.2 2327.7h10M1807.2 2335V2378.8m-5 0h10M1802.2 2335h10M1808.1 2337.6V2390.9m-5 0h10M1803.1 2337.6h10M1809 2345.9V2388.9m-5 0h10M1804 2345.9h10M1809.9 2356V2408.9m-5 0h10M1804.9 2356h10M1810.9 2365.2V2422.2m-5 0h10M1805.9 2365.2h10M1811.8 2323.8V2377.4m-5 0h10M1806.8 2323.8h10M1812.7 2362.3V2407.7m-5 0h10M1807.7 2362.3h10M1813.6 2341.9V2388.6m-5 0h10M1808.6 2341.9h10M1814.6 2362.3V2408.2m-5 0h10M1809.6 2362.3h10M1815.5 2365.5V2413.3m-5 0h10M1810.5 2365.5h10M1816.4 2386.8V2430.6m-5 0h10M1811.4 2386.8h10M1817.3 2360.5V2405.4m-5 0h10M1812.3 2360.5h10M1818.3 2370.9V2417.9m-5 0h10M1813.3 2370.9h10M1819.2 2362.9V2408.6m-5 0h10M1814.2 2362.9h10M1820.1 2345.3V2398.2m-5 0h10M1815.1 2345.3h10M1821 2319.2V2368m-5 0h10M1816 2319.2h10M1822 2366.2V2425.2m-5 0h10M1817 2366.2h10M1822.9 2355V2404.9m-5 0h10M1817.9 2355h10M1823.8 2365.5V2412.5m-5 0h10M1818.8 2365.5h10M1824.7 2355V2398.4m-5 0h10M1819.7 2355h10M1825.7 2328.3V2377.9m-5 0h10M1820.7 2328.3h10M1826.6 2338.3V2409.9m-5 0h10M1821.6 2338.3h10M1827.5 2331.5V2395.2m-5 0h10M1822.5 2331.5h10M1828.4 2335.6V2394m-5 0h10M1823.4 2335.6h10M1829.4 2336.8V2385.4m-5 0h10M1824.4 2336.8h10M1830.3 2322.1V2365.1m-5 0h10M1825.3 2322.1h10M1831.2 2313.2V2381.2m-5 0h10M1826.2 2313.2h10M1832.1 2316.8V2365.8m-5 0h10M1827.1 2316.8h10M1833.1 2353.3V2395.6m-5 0h10M1828.1 2353.3h10M1834 2338.9V2395.7m-5 0h10M1829 2338.9h10M1834.9 2343.4V2390.3m-5 0h10M1829.9 2343.4h10M1835.9 2327.7V2371.3m-5 0h10M1830.9 2327.7h10M1836.8 2333.4V2380.7m-5 0h10M1831.8 2333.4h10M1837.7 2331.1V2385.1m-5 0h10M1832.7 2331.1h10M1838.6 2315.7V2368.6m-5 0h10M1833.6 2315.7h10M1839.6 2326.8V2372.3m-5 0h10M1834.6 2326.8h10M1840.5 2324V2365.6m-5 0h10M1835.5 2324h10M1841.4 2298.4V2343.2m-5 0h10M1836.4 2298.4h10M1842.3 2340.3V2385.5m-5 0h10M1837.3 2340.3h10M1843.3 2287.9V2334.6m-5 0h10M1838.3 2287.9h10M1844.2 2304.4V2348.5m-5 0h10M1839.2 2304.4h10M1845.1 2351.1V2394.3m-5 0h10M1840.1 2351.1h10M1846 2322.6V2373.2m-5 0h10M1841 2322.6h10M1847 2308.8V2356.3m-5 0h10M1842 2308.8h10M1847.9 2320.6V2384.2m-5 0h10M1842.9 2320.6h10M1848.8 2298V2374m-5 0h10M1843.8 2298h10M1849.7 2319.6V2364m-5 0h10M1844.7 2319.6h10M1850.7 2291.1V2341.4m-5 0h10M1845.7 2291.1h10M1851.6 2313V2368.9m-5 0h10M1846.6 2313h10M1852.5 2321.5V2368.1m-5 0h10M1847.5 2321.5h10M1853.4 2311.7V2361.2m-5 0h10M1848.4 2311.7h10M1854.4 2311.1V2361.7m-5 0h10M1849.4 2311.1h10M1855.3 2316.8V2357.8m-5 0h10M1850.3 2316.8h10M1856.2 2302.7V2350.6m-5 0h10M1851.2 2302.7h10M1857.1 2269.7V2345.6m-5 0h10M1852.1 2269.7h10M1858.1 2300.8V2378.2m-5 0h10M1853.1 2300.8h10M1859 2291.2V2358.8m-5 0h10M1854 2291.2h10M1859.9 2287.5V2364.1m-5 0h10M1854.9 2287.5h10M1860.8 2309.6V2367.6m-5 0h10M1855.8 2309.6h10M1861.8 2310.8V2363.4m-5 0h10M1856.8 2310.8h10M1862.7 2309.2V2359.9m-5 0h10M1857.7 2309.2h10M1863.6 2333.3V2379.7m-5 0h10M1858.6 2333.3h10M1864.5 2315.5V2386.8m-5 0h10M1859.5 2315.5h10M1865.5 2314.3V2359.7m-5 0h10M1860.5 2314.3h10M1866.4 2309.7V2355.1m-5 0h10M1861.4 2309.7h10M1867.3 2312.9V2368.8m-5 0h10M1862.3 2312.9h10M1868.2 2314.6V2356.3m-5 0h10M1863.2 2314.6h10M1869.2 2305.9V2364.2m-5 0h10M1864.2 2305.9h10M1870.1 2333.3V2394.8m-5 0h10M1865.1 2333.3h10M1871 2323.8V2381m-5 0h10M1866 2323.8h10M1871.9 2281.8V2340.1m-5 0h10M1866.9 2281.8h10M1872.9 2304.5V2377.5m-5 0h10M1867.9 2304.5h10M1873.8 2360.4V2402.7m-5 0h10M1868.8 2360.4h10M1874.7 2327V2372.8m-5 0h10M1869.7 2327h10M1875.7 2334.4V2398.3m-5 0h10M1870.7 2334.4h10M1876.6 2323.2V2385.1m-5 0h10M1871.6 2323.2h10M1877.5 2337.9V2394.7m-5 0h10M1872.5 2337.9h10M1878.4 2314.3V2369.8m-5 0h10M1873.4 2314.3h10M1879.4 2334.4V2382.9m-5 0h10M1874.4 2334.4h10M1880.3 2350.7V2395.4m-5 0h10M1875.3 2350.7h10M1881.2 2324.2V2380.1m-5 0h10M1876.2 2324.2h10M1882.1 2346.1V2392m-5 0h10M1877.1 2346.1h10M1883.1 2340.5V2384.5m-5 0h10M1878.1 2340.5h10M1884 2329.7V2372.3m-5 0h10M1879 2329.7h10M1884.9 2332V2395.3m-5 0h10M1879.9 2332h10M1885.8 2331.5V2398m-5 0h10M1880.8 2331.5h10M1886.8 2351.8V2396.3m-5 0h10M1881.8 2351.8h10M1887.7 2323.2V2410.6m-5 0h10M1882.7 2323.2h10M1888.6 2338.1V2384.4m-5 0h10M1883.6 2338.1h10M1889.5 2349.6V2399.9m-5 0h10M1884.5 2349.6h10M1890.5 2345V2406.6m-5 0h10M1885.5 2345h10M1891.4 2344.6V2398.1m-5 0h10M1886.4 2344.6h10M1892.3 2357.7V2408.1m-5 0h10M1887.3 2357.7h10M1893.2 2345V2391.4m-5 0h10M1888.2 2345h10M1894.2 2355.4V2397.9m-5 0h10M1889.2 2355.4h10M1895.1 2345.9V2404.3m-5 0h10M1890.1 2345.9h10M1896 2359.5V2414.9m-5 0h10M1891 2359.5h10M1896.9 2346.3V2400m-5 0h10M1891.9 2346.3h10M1897.9 2354.2V2430.6m-5 0h10M1892.9 2354.2h10M1898.8 2355V2398.1m-5 0h10M1893.8 2355h10M1899.7 2343.9V2384.8m-5 0h10M1894.7 2343.9h10M1900.6 2356.5V2401.4m-5 0h10M1895.6 2356.5h10M1901.6 2317.6V2370m-5 0h10M1896.6 2317.6h10M1902.5 2355.3V2399.9m-5 0h10M1897.5 2355.3h10M1903.4 2321.1V2388.5m-5 0h10M1898.4 2321.1h10M1904.3 2318V2361.9m-5 0h10M1899.3 2318h10M1905.3 2343.8V2393.8m-5 0h10M1900.3 2343.8h10M1906.2 2322.9V2391.5m-5 0h10M1901.2 2322.9h10M1907.1 2327.7V2399.3m-5 0h10M1902.1 2327.7h10M1908 2333.8V2374.7m-5 0h10M1903 2333.8h10M1909 2326.4V2379.7m-5 0h10M1904 2326.4h10M1909.9 2329.4V2388.7m-5 0h10M1904.9 2329.4h10M1910.8 2323.2V2374.6m-5 0h10M1905.8 2323.2h10M1911.7 2323.4V2377.5m-5 0h10M1906.7 2323.4h10M1912.7 2334.7V2400.8m-5 0h10M1907.7 2334.7h10M1913.6 2308.7V2352.2m-5 0h10M1908.6 2308.7h10M1914.5 2330V2390.6m-5 0h10M1909.5 2330h10M1915.5 2340V2394.1m-5 0h10M1910.5 2340h10M1916.4 2343.4V2389.8m-5 0h10M1911.4 2343.4h10M1917.3 2327V2381.4m-5 0h10M1912.3 2327h10M1918.2 2324.6V2377.4m-5 0h10M1913.2 2324.6h10M1919.2 2356.3V2411.9m-5 0h10M1914.2 2356.3h10M1920.1 2315.4V2360.2m-5 0h10M1915.1 2315.4h10M1921 2306.7V2364.9m-5 0h10M1916 2306.7h10M1921.9 2311V2353.5m-5 0h10M1916.9 2311h10M1922.9 2306.2V2351.2m-5 0h10M1917.9 2306.2h10M1923.8 2317.1V2373.7m-5 0h10M1918.8 2317.1h10M1924.7 2316.1V2359.9m-5 0h10M1919.7 2316.1h10M1925.6 2315.7V2386.5m-5 0h10M1920.6 2315.7h10M1926.6 2333V2381.5m-5 0h10M1921.6 2333h10M1927.5 2343V2391.4m-5 0h10M1922.5 2343h10M1928.4 2315.9V2366.8m-5 0h10M1923.4 2315.9h10M1929.3 2320V2374.9m-5 0h10M1924.3 2320h10M1930.3 2308.8V2362.1m-5 0h10M1925.3 2308.8h10M1931.2 2312.1V2367.4m-5 0h10M1926.2 2312.1h10M1932.1 2315.1V2365.9m-5 0h10M1927.1 2315.1h10M1933 2272.7V2332.8m-5 0h10M1928 2272.7h10M1934 2324.3V2379.3m-5 0h10M1929 2324.3h10M1934.9 2315.1V2366.3m-5 0h10M1929.9 2315.1h10M1935.8 2308.5V2349.9m-5 0h10M1930.8 2308.5h10M1936.7 2305.9V2357.1m-5 0h10M1931.7 2305.9h10M1937.7 2323.2V2387.3m-5 0h10M1932.7 2323.2h10M1938.6 2311V2357m-5 0h10M1933.6 2311h10M1939.5 2330.3V2381.1m-5 0h10M1934.5 2330.3h10M1940.4 2320.3V2372.7m-5 0h10M1935.4 2320.3h10M1941.4 2310.1V2361.6m-5 0h10M1936.4 2310.1h10M1942.3 2306.4V2369.9m-5 0h10M1937.3 2306.4h10M1943.2 2316.6V2363.6m-5 0h10M1938.2 2316.6h10M1944.1 2322.8V2366.2m-5 0h10M1939.1 2322.8h10M1945.1 2280.3V2325.2m-5 0h10M1940.1 2280.3h10M1946 2323.8V2368m-5 0h10M1941 2323.8h10M1946.9 2311.4V2360.8m-5 0h10M1941.9 2311.4h10M1947.8 2329.4V2378m-5 0h10M1942.8 2329.4h10M1948.8 2331.1V2397.5m-5 0h10M1943.8 2331.1h10M1949.7 2331.6V2379.2m-5 0h10M1944.7 2331.6h10M1950.6 2339V2384.3m-5 0h10M1945.6 2339h10M1951.6 2348.8V2392.7m-5 0h10M1946.6 2348.8h10M1952.5 2328V2391.2m-5 0h10M1947.5 2328h10M1953.4 2333.5V2396.2m-5 0h10M1948.4 2333.5h10M1954.3 2329.3V2393.1m-5 0h10M1949.3 2329.3h10M1955.3 2337.4V2402.7m-5 0h10M1950.3 2337.4h10M1956.2 2342.9V2383.7m-5 0h10M1951.2 2342.9h10M1957.1 2367.2V2411.9m-5 0h10M1952.1 2367.2h10M1958 2348.5V2390.5m-5 0h10M1953 2348.5h10M1959 2352.6V2393.8m-5 0h10M1954 2352.6h10M1959.9 2359V2402.3m-5 0h10M1954.9 2359h10M1960.8 2380.6V2430.1m-5 0h10M1955.8 2380.6h10M1961.7 2363.6V2418.5m-5 0h10M1956.7 2363.6h10M1962.7 2354.7V2405.7m-5 0h10M1957.7 2354.7h10M1963.6 2373.6V2421.3m-5 0h10M1958.6 2373.6h10M1964.5 2352.4V2426.1m-5 0h10M1959.5 2352.4h10M1965.4 2367.1V2410.6m-5 0h10M1960.4 2367.1h10M1966.4 2378.7V2426m-5 0h10M1961.4 2378.7h10M1967.3 2370.1V2419m-5 0h10M1962.3 2370.1h10M1968.2 2375.1V2423.6m-5 0h10M1963.2 2375.1h10M1969.1 2376.9V2425.4m-5 0h10M1964.1 2376.9h10M1970.1 2362.2V2437.3m-5 0h10M1965.1 2362.2h10M1971 2365.9V2417.2m-5 0h10M1966 2365.9h10M1971.9 2369.6V2413.6m-5 0h10M1966.9 2369.6h10M1972.8 2363V2420m-5 0h10M1967.8 2363h10M1973.8 2361.2V2413.6m-5 0h10M1968.8 2361.2h10M1974.7 2374.5V2451.4m-5 0h10M1969.7 2374.5h10M1975.6 2376.6V2419.6m-5 0h10M1970.6 2376.6h10M1976.5 2366.9V2423.3m-5 0h10M1971.5 2366.9h10M1977.5 2321.7V2390.7m-5 0h10M1972.5 2321.7h10M1978.4 2365.7V2413.1m-5 0h10M1973.4 2365.7h10M1979.3 2350.9V2396.1m-5 0h10M1974.3 2350.9h10M1980.2 2360.8V2409.3m-5 0h10M1975.2 2360.8h10M1981.2 2345.8V2404.3m-5 0h10M1976.2 2345.8h10M1982.1 2348.5V2391.5m-5 0h10M1977.1 2348.5h10M1983 2347.5V2402.7m-5 0h10M1978 2347.5h10M1983.9 2346.7V2399.3m-5 0h10M1978.9 2346.7h10M1984.9 2347.2V2410.8m-5 0h10M1979.9 2347.2h10M1985.8 2335.5V2383.7m-5 0h10M1980.8 2335.5h10M1986.7 2349.1V2395.6m-5 0h10M1981.7 2349.1h10M1987.6 2310.2V2374.2m-5 0h10M1982.6 2310.2h10M1988.6 2326.2V2377.6m-5 0h10M1983.6 2326.2h10M1989.5 2335.9V2377.9m-5 0h10M1984.5 2335.9h10M1990.4 2332.7V2387.9m-5 0h10M1985.4 2332.7h10M1991.4 2333V2374.4m-5 0h10M1986.4 2333h10M1992.3 2318.1V2388.8m-5 0h10M1987.3 2318.1h10M1993.2 2317.6V2394.8m-5 0h10M1988.2 2317.6h10M1994.1 2321V2367.3m-5 0h10M1989.1 2321h10M1995.1 2315.8V2365.1m-5 0h10M1990.1 2315.8h10M1996 2311.3V2357.9m-5 0h10M1991 2311.3h10M1996.9 2324.5V2365.4m-5 0h10M1991.9 2324.5h10M1997.8 2310.2V2360.1m-5 0h10M1992.8 2310.2h10M1998.8 2336.2V2395.2m-5 0h10M1993.8 2336.2h10M1999.7 2314.8V2356.4m-5 0h10M1994.7 2314.8h10M2000.6 2315.9V2357m-5 0h10M1995.6 2315.9h10M2001.5 2352V2394.5m-5 0h10M1996.5 2352h10M2002.5 2310.3V2369.9m-5 0h10M1997.5 2310.3h10M2003.4 2322.1V2376.3m-5 0h10M1998.4 2322.1h10M2004.3 2317.5V2363.1m-5 0h10M1999.3 2317.5h10M2005.2 2334.5V2375.4m-5 0h10M2000.2 2334.5h10M2006.2 2304.5V2347.4m-5 0h10M2001.2 2304.5h10M2007.1 2323.5V2373.4m-5 0h10M2002.1 2323.5h10M2008 2330.4V2374.3m-5 0h10M2003 2330.4h10M2008.9 2322.8V2387.5m-5 0h10M2003.9 2322.8h10M2009.9 2308.1V2375.1m-5 0h10M2004.9 2308.1h10M2010.8 2326.4V2367.5m-5 0h10M2005.8 2326.4h10M2011.7 2312.4V2359.9m-5 0h10M2006.7 2312.4h10M2012.6 2303.1V2349.2m-5 0h10M2007.6 2303.1h10M2013.6 2310.1V2377.9m-5 0h10M2008.6 2310.1h10M2014.5 2277.9V2343.3m-5 0h10M2009.5 2277.9h10M2015.4 2305.3V2363.7m-5 0h10M2010.4 2305.3h10M2016.3 2321.3V2378.3m-5 0h10M2011.3 2321.3h10M2017.3 2317.8V2370.2m-5 0h10M2012.3 2317.8h10M2018.2 2324V2378.9m-5 0h10M2013.2 2324h10M2019.1 2323.8V2391.1m-5 0h10M2014.1 2323.8h10M2020 2336.1V2378.8m-5 0h10M2015 2336.1h10M2021 2335.2V2388m-5 0h10M2016 2335.2h10M2021.9 2342.1V2393.9m-5 0h10M2016.9 2342.1h10M2022.8 2369.1V2415.2m-5 0h10M2017.8 2369.1h10M2023.7 2329V2394.5m-5 0h10M2018.7 2329h10M2024.7 2327.6V2381.8m-5 0h10M2019.7 2327.6h10M2025.6 2326.5V2393m-5 0h10M2020.6 2326.5h10M2026.5 2352V2397.5m-5 0h10M2021.5 2352h10M2027.4 2349.6V2398.5m-5 0h10M2022.4 2349.6h10M2028.4 2340.9V2394.2m-5 0h10M2023.4 2340.9h10M2029.3 2329.4V2382.6m-5 0h10M2024.3 2329.4h10M2030.2 2318V2371.4m-5 0h10M2025.2 2318h10M2031.2 2340.1V2387.8m-5 0h10M2026.2 2340.1h10M2032.1 2336V2377.8m-5 0h10M2027.1 2336h10M2033 2334.8V2395.8m-5 0h10M2028 2334.8h10M2033.9 2348.3V2408.5m-5 0h10M2028.9 2348.3h10M2034.9 2351V2392.1m-5 0h10M2029.9 2351h10M2035.8 2339.4V2401.2m-5 0h10M2030.8 2339.4h10M2036.7 2316.7V2377.5m-5 0h10M2031.7 2316.7h10M2037.6 2335.8V2387.9m-5 0h10M2032.6 2335.8h10M2038.6 2324.2V2384.4m-5 0h10M2033.6 2324.2h10M2039.5 2347.6V2392.7m-5 0h10M2034.5 2347.6h10M2040.4 2339.9V2382.3m-5 0h10M2035.4 2339.9h10M2041.3 2323.4V2384.5m-5 0h10M2036.3 2323.4h10M2042.3 2334.5V2387.1m-5 0h10M2037.3 2334.5h10M2043.2 2343.6V2391.3m-5 0h10M2038.2 2343.6h10M2044.1 2349.6V2391.8m-5 0h10M2039.1 2349.6h10M2045 2330.1V2373.9m-5 0h10M2040 2330.1h10M2046 2359.1V2404.4m-5 0h10M2041 2359.1h10M2046.9 2362.8V2414.1m-5 0h10M2041.9 2362.8h10M2047.8 2337.9V2382.6m-5 0h10M2042.8 2337.9h10M2048.7 2342.5V2395.2m-5 0h10M2043.7 2342.5h10M2049.7 2343.4V2385.2m-5 0h10M2044.7 2343.4h10M2050.6 2347V2393.8m-5 0h10M2045.6 2347h10M2051.5 2329.4V2373.8m-5 0h10M2046.5 2329.4h10M2052.4 2296.6V2374.5m-5 0h10M2047.4 2296.6h10M2053.4 2318.1V2380.7m-5 0h10M2048.4 2318.1h10M2054.3 2335.1V2377.7m-5 0h10M2049.3 2335.1h10M2055.2 2326.9V2393.7m-5 0h10M2050.2 2326.9h10M2056.1 2329.5V2376.9m-5 0h10M2051.1 2329.5h10M2057.1 2326.1V2382m-5 0h10M2052.1 2326.1h10M2058 2334.5V2400.7m-5 0h10M2053 2334.5h10M2058.9 2341.5V2389.9m-5 0h10M2053.9 2341.5h10M2059.8 2347.7V2400.4m-5 0h10M2054.8 2347.7h10M2060.8 2336.5V2399.6m-5 0h10M2055.8 2336.5h10M2061.7 2345.3V2388.8m-5 0h10M2056.7 2345.3h10M2062.6 2349.3V2396.3m-5 0h10M2057.6 2349.3h10M2063.5 2323.4V2387m-5 0h10M2058.5 2323.4h10M2064.5 2353.8V2398.5m-5 0h10M2059.5 2353.8h10M2065.4 2333.2V2387.2m-5 0h10M2060.4 2333.2h10M2066.3 2337.6V2379m-5 0h10M2061.3 2337.6h10M2067.2 2329.5V2378.4m-5 0h10M2062.2 2329.5h10M2068.2 2307.6V2356.2m-5 0h10M2063.2 2307.6h10M2069.1 2326.4V2375.9m-5 0h10M2064.1 2326.4h10M2070 2328.7V2397.1m-5 0h10M2065 2328.7h10M2071 2319.7V2374.4m-5 0h10M2066 2319.7h10M2071.9 2321.8V2391.2m-5 0h10M2066.9 2321.8h10M2072.8 2319.2V2375.6m-5 0h10M2067.8 2319.2h10M2073.7 2308.4V2371.6m-5 0h10M2068.7 2308.4h10M2074.7 2304.3V2345.4m-5 0h10M2069.7 2304.3h10M2075.6 2306.2V2365.8m-5 0h10M2070.6 2306.2h10M2076.5 2309.2V2351.8m-5 0h10M2071.5 2309.2h10M2077.4 2304.7V2346.1m-5 0h10M2072.4 2304.7h10M2078.4 2292.7V2338.8m-5 0h10M2073.4 2292.7h10M2079.3 2294.8V2346.8m-5 0h10M2074.3 2294.8h10M2080.2 2279.4V2345.5m-5 0h10M2075.2 2279.4h10M2081.1 2299.8V2365.1m-5 0h10M2076.1 2299.8h10M2082.1 2308.6V2352.4m-5 0h10M2077.1 2308.6h10M2083 2297.6V2358.4m-5 0h10M2078 2297.6h10M2083.9 2311.8V2358.7m-5 0h10M2078.9 2311.8h10M2084.8 2300.5V2353.9m-5 0h10M2079.8 2300.5h10M2085.8 2312.7V2361.7m-5 0h10M2080.8 2312.7h10M2086.7 2312.6V2360.2m-5 0h10M2081.7 2312.6h10M2087.6 2308.4V2369.3m-5 0h10M2082.6 2308.4h10M2088.5 2292.9V2356.3m-5 0h10M2083.5 2292.9h10M2089.5 2315.6V2358.5m-5 0h10M2084.5 2315.6h10M2090.4 2305.7V2358m-5 0h10M2085.4 2305.7h10M2091.3 2306.1V2356.2m-5 0h10M2086.3 2306.1h10M2092.2 2319.6V2360.5m-5 0h10M2087.2 2319.6h10M2093.2 2293.1V2338.1m-5 0h10M2088.2 2293.1h10M2094.1 2314.8V2362.3m-5 0h10M2089.1 2314.8h10M2095 2316.7V2365m-5 0h10M2090 2316.7h10M2095.9 2316.4V2364.5m-5 0h10M2090.9 2316.4h10M2096.9 2306.4V2357.1m-5 0h10M2091.9 2306.4h10M2097.8 2312.6V2354.8m-5 0h10M2092.8 2312.6h10M2098.7 2323V2369.4m-5 0h10M2093.7 2323h10M2099.6 2337.6V2386.9m-5 0h10M2094.6 2337.6h10M2100.6 2330.9V2377.6m-5 0h10M2095.6 2330.9h10M2101.5 2348.8V2390.6m-5 0h10M2096.5 2348.8h10M2102.4 2344.2V2400.3m-5 0h10M2097.4 2344.2h10M2103.3 2347.7V2398.5m-5 0h10M2098.3 2347.7h10M2104.3 2339.1V2393.4m-5 0h10M2099.3 2339.1h10M2105.2 2350.8V2396.5m-5 0h10M2100.2 2350.8h10M2106.1 2315.4V2357m-5 0h10M2101.1 2315.4h10M2107 2315.5V2359.2m-5 0h10M2102 2315.5h10M2108 2348.3V2403.3m-5 0h10M2103 2348.3h10M2108.9 2335.5V2381.4m-5 0h10M2103.9 2335.5h10M2109.8 2331.8V2406.1m-5 0h10M2104.8 2331.8h10M2110.8 2343V2386.9m-5 0h10M2105.8 2343h10M2111.7 2331.4V2394.6m-5 0h10M2106.7 2331.4h10M2112.6 2325.3V2368.5m-5 0h10M2107.6 2325.3h10M2113.5 2342.1V2396.8m-5 0h10M2108.5 2342.1h10M2114.5 2369.1V2410.7m-5 0h10M2109.5 2369.1h10M2115.4 2354.1V2413.3m-5 0h10M2110.4 2354.1h10M2116.3 2364.1V2405.2m-5 0h10M2111.3 2364.1h10M2117.2 2341.4V2401.5m-5 0h10M2112.2 2341.4h10M2118.2 2353.9V2399.7m-5 0h10M2113.2 2353.9h10M2119.1 2349.2V2409.1m-5 0h10M2114.1 2349.2h10M2120 2354.1V2398.2m-5 0h10M2115 2354.1h10M2120.9 2351.4V2399.4m-5 0h10M2115.9 2351.4h10M2121.9 2335.5V2391.9m-5 0h10M2116.9 2335.5h10M2122.8 2357.6V2416.9m-5 0h10M2117.8 2357.6h10M2123.7 2361.1V2407.1m-5 0h10M2118.7 2361.1h10M2124.6 2331.7V2390.6m-5 0h10M2119.6 2331.7h10M2125.6 2349.5V2394.1m-5 0h10M2120.6 2349.5h10M2126.5 2355.6V2412.2m-5 0h10M2121.5 2355.6h10M2127.4 2338.8V2384.7m-5 0h10M2122.4 2338.8h10M2128.3 2338.9V2407.8m-5 0h10M2123.3 2338.9h10M2129.3 2335.5V2377.4m-5 0h10M2124.3 2335.5h10M2130.2 2317.3V2369.4m-5 0h10M2125.2 2317.3h10M2131.1 2329V2397.6m-5 0h10M2126.1 2329h10M2132 2356.1V2400.3m-5 0h10M2127 2356.1h10M2133 2338.8V2380.8m-5 0h10M2128 2338.8h10M2133.9 2346.3V2399.7m-5 0h10M2128.9 2346.3h10M2134.8 2348.5V2398.8m-5 0h10M2129.8 2348.5h10M2135.7 2344.3V2399.1m-5 0h10M2130.7 2344.3h10M2136.7 2346.7V2414.3m-5 0h10M2131.7 2346.7h10M2137.6 2338.3V2390.9m-5 0h10M2132.6 2338.3h10M2138.5 2336V2399.7m-5 0h10M2133.5 2336h10M2139.4 2331V2379.9m-5 0h10M2134.4 2331h10M2140.4 2309.1V2374.5m-5 0h10M2135.4 2309.1h10M2141.3 2361.5V2403.7m-5 0h10M2136.3 2361.5h10M2142.2 2336V2381.4m-5 0h10M2137.2 2336h10M2143.1 2318.9V2360.6m-5 0h10M2138.1 2318.9h10M2144.1 2332.5V2388.2m-5 0h10M2139.1 2332.5h10M2145 2325.6V2378.5m-5 0h10M2140 2325.6h10M2145.9 2328.3V2372.3m-5 0h10M2140.9 2328.3h10M2146.8 2317V2368.4m-5 0h10M2141.8 2317h10M2147.8 2306.6V2370.4m-5 0h10M2142.8 2306.6h10M2148.7 2315.2V2371.6m-5 0h10M2143.7 2315.2h10M2149.6 2312.8V2361.6m-5 0h10M2144.6 2312.8h10M2150.6 2340.3V2381.5m-5 0h10M2145.6 2340.3h10M2151.5 2315.4V2366.7m-5 0h10M2146.5 2315.4h10M2152.4 2327.7V2372.8m-5 0h10M2147.4 2327.7h10M2153.3 2326.8V2376.1m-5 0h10M2148.3 2326.8h10M2154.3 2313.9V2375.7m-5 0h10M2149.3 2313.9h10M2155.2 2328.6V2371.4m-5 0h10M2150.2 2328.6h10M2156.1 2337.4V2384.4m-5 0h10M2151.1 2337.4h10M2157 2308.3V2353.2m-5 0h10M2152 2308.3h10M2158 2321.8V2370.2m-5 0h10M2153 2321.8h10M2158.9 2327.8V2370.5m-5 0h10M2153.9 2327.8h10M2159.8 2313.4V2363.1m-5 0h10M2154.8 2313.4h10M2160.7 2311.7V2362m-5 0h10M2155.7 2311.7h10M2161.7 2294.7V2372.3m-5 0h10M2156.7 2294.7h10M2162.6 2324.2V2377.1m-5 0h10M2157.6 2324.2h10M2163.5 2341.1V2402.4m-5 0h10M2158.5 2341.1h10M2164.4 2336.6V2377.4m-5 0h10M2159.4 2336.6h10M2165.4 2310.8V2354.1m-5 0h10M2160.4 2310.8h10M2166.3 2325.9V2370.7m-5 0h10M2161.3 2325.9h10M2167.2 2306V2356m-5 0h10M2162.2 2306h10M2168.1 2337.9V2383.3m-5 0h10M2163.1 2337.9h10M2169.1 2313.4V2365.1m-5 0h10M2164.1 2313.4h10M2170 2313.3V2354.1m-5 0h10M2165 2313.3h10M2170.9 2317.6V2363.3m-5 0h10M2165.9 2317.6h10M2171.8 2315.3V2372.2m-5 0h10M2166.8 2315.3h10M2172.8 2293.3V2358.3m-5 0h10M2167.8 2293.3h10M2173.7 2329.5V2372.9m-5 0h10M2168.7 2329.5h10M2174.6 2313.4V2359.5m-5 0h10M2169.6 2313.4h10M2175.5 2307.1V2350.7m-5 0h10M2170.5 2307.1h10M2176.5 2315.2V2371.6m-5 0h10M2171.5 2315.2h10M2177.4 2329.3V2387.1m-5 0h10M2172.4 2329.3h10M2178.3 2341.3V2382.9m-5 0h10M2173.3 2341.3h10M2179.2 2332.3V2385.8m-5 0h10M2174.2 2332.3h10M2180.2 2326.3V2385.3m-5 0h10M2175.2 2326.3h10M2181.1 2339.3V2396.1m-5 0h10M2176.1 2339.3h10M2182 2332.4V2383.1m-5 0h10M2177 2332.4h10M2182.9 2339.2V2383.2m-5 0h10M2177.9 2339.2h10M2183.9 2341.8V2387.3m-5 0h10M2178.9 2341.8h10M2184.8 2336.7V2381.7m-5 0h10M2179.8 2336.7h10M2185.7 2326.9V2383.9m-5 0h10M2180.7 2326.9h10M2186.6 2337.6V2390m-5 0h10M2181.6 2337.6h10M2187.6 2348V2391.5m-5 0h10M2182.6 2348h10M2188.5 2345.7V2404.3m-5 0h10M2183.5 2345.7h10M2189.4 2341.1V2403.1m-5 0h10M2184.4 2341.1h10M2190.4 2331V2381.5m-5 0h10M2185.4 2331h10M2191.3 2333.8V2381.7m-5 0h10M2186.3 2333.8h10M2192.2 2344.1V2399.8m-5 0h10M2187.2 2344.1h10M2193.1 2347V2396m-5 0h10M2188.1 2347h10M2194.1 2348.2V2395.3m-5 0h10M2189.1 2348.2h10M2195 2365.5V2429.3m-5 0h10M2190 2365.5h10M2195.9 2351.5V2393.6m-5 0h10M2190.9 2351.5h10M2196.8 2348.2V2404.3m-5 0h10M2191.8 2348.2h10M2197.8 2339.6V2397.6m-5 0h10M2192.8 2339.6h10M2198.7 2350.6V2395.7m-5 0h10M2193.7 2350.6h10M2199.6 2339.9V2390.1m-5 0h10M2194.6 2339.9h10M2200.5 2345.2V2405.1m-5 0h10M2195.5 2345.2h10M2201.5 2333.3V2384.9m-5 0h10M2196.5 2333.3h10M2202.4 2353.5V2398.2m-5 0h10M2197.4 2353.5h10M2203.3 2331.1V2381.3m-5 0h10M2198.3 2331.1h10M2204.2 2347.3V2401.3m-5 0h10M2199.2 2347.3h10M2205.2 2335.4V2401.1m-5 0h10M2200.2 2335.4h10M2206.1 2347.1V2393.2m-5 0h10M2201.1 2347.1h10M2207 2336.2V2408m-5 0h10M2202 2336.2h10M2207.9 2362.1V2418.7m-5 0h10M2202.9 2362.1h10M2208.9 2336.7V2386.7m-5 0h10M2203.9 2336.7h10M2209.8 2349.6V2393.6m-5 0h10M2204.8 2349.6h10M2210.7 2344V2388.1m-5 0h10M2205.7 2344h10M2211.6 2355.1V2404.7m-5 0h10M2206.6 2355.1h10M2212.6 2346.2V2395.9m-5 0h10M2207.6 2346.2h10M2213.5 2340.5V2396.5m-5 0h10M2208.5 2340.5h10M2214.4 2333.1V2384.7m-5 0h10M2209.4 2333.1h10M2215.3 2349.3V2414.2m-5 0h10M2210.3 2349.3h10M2216.3 2349.4V2392.9m-5 0h10M2211.3 2349.4h10M2217.2 2329V2394.5m-5 0h10M2212.2 2329h10M2218.1 2339.7V2393.7m-5 0h10M2213.1 2339.7h10M2219 2354.1V2398.9m-5 0h10M2214 2354.1h10M2220 2344.6V2408m-5 0h10M2215 2344.6h10M2220.9 2339.2V2386.7m-5 0h10M2215.9 2339.2h10M2221.8 2337.6V2380.4m-5 0h10M2216.8 2337.6h10M2222.7 2347.6V2399m-5 0h10M2217.7 2347.6h10M2223.7 2345.4V2391.8m-5 0h10M2218.7 2345.4h10M2224.6 2337.1V2381.2m-5 0h10M2219.6 2337.1h10M2225.5 2342.7V2383.6m-5 0h10M2220.5 2342.7h10M2226.5 2330.5V2374.1m-5 0h10M2221.5 2330.5h10M2227.4 2332.4V2385.3m-5 0h10M2222.4 2332.4h10M2228.3 2332.6V2379.7m-5 0h10M2223.3 2332.6h10M2229.2 2289.2V2344.5m-5 0h10M2224.2 2289.2h10M2230.2 2323.7V2379.5m-5 0h10M2225.2 2323.7h10M2231.1 2323V2376m-5 0h10M2226.1 2323h10M2232 2307.9V2362.6m-5 0h10M2227 2307.9h10M2232.9 2310.5V2358.7m-5 0h10M2227.9 2310.5h10M2233.9 2318.1V2372.9m-5 0h10M2228.9 2318.1h10M2234.8 2311.4V2370.4m-5 0h10M2229.8 2311.4h10M2235.7 2323.6V2385.4m-5 0h10M2230.7 2323.6h10M2236.6 2305V2352.1m-5 0h10M2231.6 2305h10M2237.6 2316.3V2374.5m-5 0h10M2232.6 2316.3h10M2238.5 2314.5V2355.4m-5 0h10M2233.5 2314.5h10M2239.4 2328.4V2373.6m-5 0h10M2234.4 2328.4h10M2240.3 2337V2379.2m-5 0h10M2235.3 2337h10M2241.3 2329.1V2376.3m-5 0h10M2236.3 2329.1h10M2242.2 2338.3V2386.1m-5 0h10M2237.2 2338.3h10M2243.1 2326.4V2375.4m-5 0h10M2238.1 2326.4h10M2244 2329.6V2382.5m-5 0h10M2239 2329.6h10M2245 2335.7V2376.8m-5 0h10M2240 2335.7h10M2245.9 2333.8V2388.6m-5 0h10M2240.9 2333.8h10M2246.8 2336.8V2391.2m-5 0h10M2241.8 2336.8h10M2247.7 2326.1V2382m-5 0h10M2242.7 2326.1h10M2248.7 2316.6V2363.7m-5 0h10M2243.7 2316.6h10M2249.6 2312.2V2362.5m-5 0h10M2244.6 2312.2h10M2250.5 2317V2361.3m-5 0h10M2245.5 2317h10M2251.4 2335.6V2394.2m-5 0h10M2246.4 2335.6h10M2252.4 2326.9V2396.3m-5 0h10M2247.4 2326.9h10M2253.3 2342.2V2392.1m-5 0h10M2248.3 2342.2h10M2254.2 2358.8V2401.1m-5 0h10M2249.2 2358.8h10M2255.1 2340.8V2383.1m-5 0h10M2250.1 2340.8h10M2256.1 2365V2422.7m-5 0h10M2251.1 2365h10M2257 2322.1V2380.8m-5 0h10M2252 2322.1h10M2257.9 2327.2V2373.2m-5 0h10M2252.9 2327.2h10M2258.8 2320V2375.9m-5 0h10M2253.8 2320h10M2259.8 2340.1V2384.5m-5 0h10M2254.8 2340.1h10M2260.7 2345.1V2392.1m-5 0h10M2255.7 2345.1h10M2261.6 2357.5V2432.5m-5 0h10M2256.6 2357.5h10M2262.5 2351.9V2406.6m-5 0h10M2257.5 2351.9h10M2263.5 2357.2V2418.1m-5 0h10M2258.5 2357.2h10M2264.4 2324.1V2392.3m-5 0h10M2259.4 2324.1h10M2265.3 2341.8V2386.1m-5 0h10M2260.3 2341.8h10M2266.3 2351V2408.1m-5 0h10M2261.3 2351h10M2267.2 2332.6V2379.4m-5 0h10M2262.2 2332.6h10M2268.1 2371.4V2418m-5 0h10M2263.1 2371.4h10M2269 2341.7V2403.4m-5 0h10M2264 2341.7h10M2270 2345.3V2393.2m-5 0h10M2265 2345.3h10M2270.9 2355.9V2397.1m-5 0h10M2265.9 2355.9h10M2271.8 2358.5V2414.6m-5 0h10M2266.8 2358.5h10M2272.7 2340.5V2408.1m-5 0h10M2267.7 2340.5h10M2273.7 2355.8V2402.3m-5 0h10M2268.7 2355.8h10M2274.6 2346.3V2405.5m-5 0h10M2269.6 2346.3h10M2275.5 2344.8V2392.2m-5 0h10M2270.5 2344.8h10M2276.4 2362.3V2412.8m-5 0h10M2271.4 2362.3h10M2277.4 2370.9V2425.4m-5 0h10M2272.4 2370.9h10M2278.3 2349.2V2412.1m-5 0h10M2273.3 2349.2h10M2279.2 2345.9V2399.2m-5 0h10M2274.2 2345.9h10M2280.1 2361.9V2413.8m-5 0h10M2275.1 2361.9h10M2281.1 2357.5V2420.3m-5 0h10M2276.1 2357.5h10M2282 2361.3V2414.4m-5 0h10M2277 2361.3h10M2282.9 2353.6V2410.2m-5 0h10M2277.9 2353.6h10M2283.8 2351.4V2406.4m-5 0h10M2278.8 2351.4h10M2284.8 2355.1V2414.3m-5 0h10M2279.8 2355.1h10M2285.7 2356.6V2409.4m-5 0h10M2280.7 2356.6h10M2286.6 2358.1V2411.4m-5 0h10M2281.6 2358.1h10M2287.5 2357.7V2409.9m-5 0h10M2282.5 2357.7h10M2288.5 2351.8V2406.4m-5 0h10M2283.5 2351.8h10M2289.4 2330.6V2415.2m-5 0h10M2284.4 2330.6h10M2290.3 2363.8V2409.5m-5 0h10M2285.3 2363.8h10M2291.2 2353.8V2398.4m-5 0h10M2286.2 2353.8h10M2292.2 2364V2406.3m-5 0h10M2287.2 2364h10M2293.1 2326V2368.6m-5 0h10M2288.1 2326h10M2294 2318.9V2368.5m-5 0h10M2289 2318.9h10M2294.9 2337.7V2383.3m-5 0h10M2289.9 2337.7h10M2295.9 2328.5V2389.9m-5 0h10M2290.9 2328.5h10M2296.8 2341V2386.4m-5 0h10M2291.8 2341h10M2297.7 2345.4V2394m-5 0h10M2292.7 2345.4h10M2298.6 2334.7V2390.7m-5 0h10M2293.6 2334.7h10M2299.6 2336.6V2398.3m-5 0h10M2294.6 2336.6h10M2300.5 2344.2V2405.7m-5 0h10M2295.5 2344.2h10M2301.4 2348V2401.9m-5 0h10M2296.4 2348h10M2302.3 2339.5V2390.3m-5 0h10M2297.3 2339.5h10M2303.3 2329.6V2372.3m-5 0h10M2298.3 2329.6h10M2304.2 2354V2408.2m-5 0h10M2299.2 2354h10M2305.1 2357.6V2423.9m-5 0h10M2300.1 2357.6h10M2306.1 2334.4V2384m-5 0h10M2301.1 2334.4h10M2307 2337.1V2382.3m-5 0h10M2302 2337.1h10M2307.9 2321.2V2373.5m-5 0h10M2302.9 2321.2h10M2308.8 2320.2V2362.6m-5 0h10M2303.8 2320.2h10M2309.8 2334.3V2383m-5 0h10M2304.8 2334.3h10M2310.7 2318.4V2364.7m-5 0h10M2305.7 2318.4h10M2311.6 2317.5V2370.2m-5 0h10M2306.6 2317.5h10M2312.5 2329.6V2382.4m-5 0h10M2307.5 2329.6h10M2313.5 2321.6V2367.3m-5 0h10M2308.5 2321.6h10M2314.4 2316.7V2373.1m-5 0h10M2309.4 2316.7h10M2315.3 2328.6V2375.8m-5 0h10M2310.3 2328.6h10M2316.2 2327.9V2377m-5 0h10M2311.2 2327.9h10M2317.2 2324V2372m-5 0h10M2312.2 2324h10M2318.1 2324.4V2382.8m-5 0h10M2313.1 2324.4h10M2319 2330.8V2372.3m-5 0h10M2314 2330.8h10M2319.9 2323.3V2367.1m-5 0h10M2314.9 2323.3h10M2320.9 2304.4V2362.9m-5 0h10M2315.9 2304.4h10M2321.8 2317.3V2368.9m-5 0h10M2316.8 2317.3h10M2322.7 2329.3V2372.2m-5 0h10M2317.7 2329.3h10M2323.6 2319V2377.1m-5 0h10M2318.6 2319h10M2324.6 2352.9V2418.6m-5 0h10M2319.6 2352.9h10M2325.5 2302.8V2350.7m-5 0h10M2320.5 2302.8h10M2326.4 2318.4V2374.1m-5 0h10M2321.4 2318.4h10M2327.3 2329.8V2388.5m-5 0h10M2322.3 2329.8h10M2328.3 2349.4V2392m-5 0h10M2323.3 2349.4h10M2329.2 2323.4V2390.9m-5 0h10M2324.2 2323.4h10M2330.1 2331.5V2392.3m-5 0h10M2325.1 2331.5h10M2331 2325.9V2376.1m-5 0h10M2326 2325.9h10M2332 2353.2V2401.1m-5 0h10M2327 2353.2h10M2332.9 2325.1V2376.6m-5 0h10M2327.9 2325.1h10M2333.8 2335.7V2381.5m-5 0h10M2328.8 2335.7h10M2334.7 2350.8V2405.6m-5 0h10M2329.7 2350.8h10M2335.7 2356.2V2400.7m-5 0h10M2330.7 2356.2h10M2336.6 2349V2389.9m-5 0h10M2331.6 2349h10M2337.5 2369.8V2421m-5 0h10M2332.5 2369.8h10M2338.4 2370.1V2417.5m-5 0h10M2333.4 2370.1h10M2339.4 2356.5V2399.5m-5 0h10M2334.4 2356.5h10M2340.3 2356.9V2411.5m-5 0h10M2335.3 2356.9h10M2341.2 2353.4V2397.5m-5 0h10M2336.2 2353.4h10M2342.1 2371.2V2419.6m-5 0h10M2337.1 2371.2h10M2343.1 2375.2V2428.7m-5 0h10M2338.1 2375.2h10M2344 2330.8V2376m-5 0h10M2339 2330.8h10M2344.9 2353.3V2400.3m-5 0h10M2339.9 2353.3h10M2345.9 2337.3V2383m-5 0h10M2340.9 2337.3h10M2346.8 2366.3V2431.5m-5 0h10M2341.8 2366.3h10M2347.7 2346.3V2418.3m-5 0h10M2342.7 2346.3h10M2348.6 2340.8V2399.5m-5 0h10M2343.6 2340.8h10M2349.6 2358.6V2402.1m-5 0h10M2344.6 2358.6h10M2350.5 2367.4V2417.3m-5 0h10M2345.5 2367.4h10M2351.4 2347.9V2416.9m-5 0h10M2346.4 2347.9h10M2352.3 2365.6V2410.1m-5 0h10M2347.3 2365.6h10M2353.3 2364V2406.7m-5 0h10M2348.3 2364h10M2354.2 2368.9V2422.2m-5 0h10M2349.2 2368.9h10M2355.1 2356.4V2397.7m-5 0h10M2350.1 2356.4h10M2356 2358V2409.3m-5 0h10M2351 2358h10M2357 2363.2V2405m-5 0h10M2352 2363.2h10" stroke="#d0d0d0" stroke-width="2" fill="none"/>
<path d="M279.2 2268.6V2324.2M272.2 2268.6h14M272.2 2324.2h14" stroke="#c8c8c8" stroke-width="2.4"/>
<path d="M394.4 2233.4V2277.9M387.4 2233.4h14M387.4 2277.9h14" stroke="#c8c8c8" stroke-width="2.4"/>
<path d="M681.8 2149.3V2408.3M672.8 2149.3h18M672.8 2408.3h18" stroke="#c6c6c6" stroke-width="2.6"/>
<path d="M1120.5 2050.4V2594.3M1111.5 2050.4h18M1111.5 2594.3h18" stroke="#c6c6c6" stroke-width="2.6"/>
<path d="M1898.1 2179.0V2639.6M1889.1 2179.0h18M1889.1 2639.6h18" stroke="#c6c6c6" stroke-width="2.6"/>
<path d="M1407.1 2218.6V2365.0M1398.1 2218.6h18M1398.1 2365.0h18" stroke="#c6c6c6" stroke-width="2.6"/>
<path d="M1078.2 2155.6V2277.9M1069.2 2155.6h18M1069.2 2277.9h18" stroke="#c6c6c6" stroke-width="2.6"/>
<path d="M594.2 2268.6l.4 3.3 .5 2 .5-6.8 .4-18.6 .5 16.2 .4-1.7 .5-3.7 .5 1.9 .4 11.4 .5-9.6 .5-1.7 .4-16.2 .5 26.1 .5 12.4 .4-11.5 .5 5.7 .4-6.8 .5 5.5 .5-19.7 .4 32.3 .5-9.6 .5-12.5 .4 15.9 .5-19 .4-1.4 .5-1.1 .5 5.7 .4 10.2 .5-25.9 .5 15.7 .4-8.8 .5 3.6 .4-.4 .5 12.7 .5-8.9 .4-15.3 .5 10.6 .5-15.1 .4 17.7 .5-.9 .4 7.8 .5 6.2 .5 1.8 .4-57.4 .5 47.2 .5-4.5 .4 5.2 .5 5.6 .4 4.8 .5-3.9 .5-16.7 .4 10.3 .5-4 .5 37.4 .4-10.9 .5-41.3 .5 7.5 .4-27.1 .5 16.1 .4 16.4 .5-10.3 .5 8.5 .4 16.9 .5-25.6 .5 5.6 .4 14.6 .5-6.2 .4-28.9 .5 31.1 .5 8.3 .4-17.9 .5 12 .5-5.1 .4 .7 .5-.7 .4 15.6 .5 4.4 .5 7.9 .4-19.5 .5-3.6 .5-3.3 .4 24.7 .5-3.5 .4-12.6 .5 4.7 .5-10.6 .4 16.7 .5-12.6 .5 13.1 .4 6.1 .5-4.1 .4-13.2 .5 15.8 .5 22.3 .4-19.3 .5 7.4 .5-9.1 .4-16.1 .5 8.9 .5 1.3 .4-11.9 .5 2.7 .4 4.4 .5 3.6 .5 13.4 .4-12.5 .5-9.3 .5-11 .4 26.7 .5-22 .4 25.6 .5-9.8 .5 .8 .4-16.1 .5 17.3 .5-7.3 .4 9.6 .5 24.4 .4-18.5 .5-17.6 .5-8.1 .4 11.3 .5-20 .5 23.1 .4-6.3 .5-7.4 .4 16.4 .5-18.8 .5 7.8 .4 13 .5-21.2 .5 21 .4 39.9 .5-41.7 .4 11.1 .5-14.1 .5-5.9 .4 18.8 .5-3.3 .5-19.8 .4 22.8 .5-10.8 .5 11.7 .4-15.9 .5-3.3 .4 2.6 .5 1.8 .5 12.2 .4-25.9 .5 .4 .5 8.2 .4 5.9 .5 5.3 .4-13 .5-6.5 .5 12.1 .4-6.9 .5 4.3 .5-6 .4-13 .5 26.2 .4-15.8 .5-2.9 .5 24.2 .4-36.4 .5 18.5 .5-13.7 .4-5.6 .5 13.9 .4-9.6 .5 23.3 .5-20.9 .4 6.6 .5 21.2 .5-21.9 .4-13.4 .5 4.7 .4 1.7 .5-10.7 .5 3.1 .4 10 .5-2.7 .5 8.9 .4 12.2 .5-6.6 .5-29.6 .4 15 .5 1.8 .4-6.3 .5 7.4 .5-14.1 .4 24.3 .5-16 .5-6 .4-18.8 .5 7.3 .4 32.7 .5-13.2 .5-9.4 .4 5.1 .5 1.1 .5-11.6 .4 12.4 .5-4.4 .4-14.4 .5 11 .5-31.6 .4 14.3 .5 44.8 .5-52 .4 1.4 .5 27.7 .4 10.5 .5-46.3 .5 8 .4-35.3 .5 43.4 .5-21.9 .4 9.1 .5 10.1 .5-4.1 .4-5.5 .5 17.7 .4-6 .5 12.3 .5 8.6 .4-18.3 .5-2.4 .5 14.8 .4-4.1 .5-34.5 .4 17.2 .5 19.6 .5-24.9 .4 1.7 .5-1.4 .5-1.9 .4-4.3 .5-2.4 .4 17.3 .5 15 .5-41.7 .4 15.6 .5 4.8 .5 6.7 .4-15.9 .5-2.1 .4-12.1 .5 18.9 .5-9.4 .4 8.9 .5 18.1 .5-6.4 .4-6.6 .5 8.7 .4 10.4 .5-33.4 .5 29 .4 8.7 .5 2.7 .5-21.9 .4-3.3 .5-1.5 .5 18.3 .4-1.2 .5-12.5 .4 14.3 .5-16.3 .5 19.1 .4-24.6 .5 18.8 .5-3.5 .4 .8 .5-1.3 .4-.4 .5 49.2 .5-44.7 .4 17.5 .5 1.5 .5-34.1 .4 19.1 .5 2.4 .4-11.5 .5-27.7 .5 29.4 .4 2.6 .5 16.8 .5-4.1 .4 2 .5 2.3 .4 2 .5-1.5 .5 22.7 .4-35.9 .5 2.7 .5 10.4 .4 5.6 .5-5.1 .4-4.1 .5 5.4 .5-1.1 .4 4.9 .5 11.2 .5-46.8 .4 47.7 .5-37.3 .5 17.9 .4 3.2 .5 5.6 .4-8.1 .5 45.5 .5-17.3 .4-25.5 .5 15 .5-9.2 .4 11.6 .5-15 .4 10.6 .5-1.6 .5-9.8 .4-10 .5 27.2 .5 30.3 .4-32.7 .5-23.4 .4-1 .5 40 .5-28.4 .4-7.4 .5 16.1 .5-48 .4 68.9 .5-37 .4 6.1 .5-12.4 .5 13.6 .4-1.9 .5-1.8 .5 9.4 .4-3.8 .5-20.6 .4 14.8 .5-28.9 .5 17.9 .4-2.1 .5 5.6 .5-.8 .4-1.6 .5 1.8 .5 1.1 .4-8.9 .5 10.5 .4-5 .5-24.3 .5 25.5 .4-.3 .5 1.9 .5-14.9 .4-2.6 .5 14.5 .4 1.1 .5-3.8 .5 29.4 .4-41.2 .5 17.8 .5-13.8 .4-1.7 .5 13.9 .4-3.1 .5 4.6 .5-16.6 .4 3.9 .5 17.9 .5-20 .4-2.8 .5 3.7 .4-5.4 .5 14.7 .5 13.2 .4-39.4 .5 21.5 .5 2.8 .4-24.9 .5 15.5 .4-4.6 .5 6.2 .5-10.5 .4 9.6 .5-29.6 .5 7.8 .4 16.6 .5-4.1 .5-6.4 .4 3.1 .5-7.1 .4-4.2 .5 12.5 .5 9.1 .4-14.1 .5 18 .5-5.9 .4 11.2 .5-25.3 .4 14.7 .5-6.4 .5 14.8 .4-.7 .5-10.4 .5 1.1 .4 15.3 .5-.6 .4-26.4 .5 14.1 .5 10.4 .4-7.3 .5-.4 .5 8.9 .4-1.3 .5 8.9 .4-10 .5 1.6 .5-7 .4 5.4 .5 20.6 .5-2 .4-25.1 .5 17.8 .4-12.1 .5-.4 .5-.2 .4 4.2 .5 7.5 .5-3.7 .4-.9 .5-15.7 .5 8.8 .4 6.6 .5-5.6 .4 15.1 .5 11.1 .5-23.1 .4 16.6 .5-13.6 .5 6 .4-12.8 .5 24.2 .4-11.4 .5 0 .5 36.7 .4-40.2 .5-11.1 .5 13.7 .4-13.8 .5 6.2 .4-11.7 .5 43.3 .5-14.9 .4 3.8 .5-24 .5-13.1 .4 15.3 .5-14.2 .4 12 .5 5.3 .5-.5 .4 14.3 .5-12.7 .5 8.5 .4 11.4 .5 4.2 .4-42.1 .5 36.3 .5-15.5 .4-.2 .5 36.3 .5-40.5 .4 1.2 .5 26.4 .5-24.2 .4 12.7 .5-16.2 .4 53.7 .5-33.3 .5 3.6 .4-21.9 .5 1.9 .5-10.6 .4 7.2 .5 25.4 .4-23.4 .5 19.8 .5-21.1 .4 3.1 .5 11.1 .5 13.1 .4-10.7 .5-16.8 .4-12.4 .5 41.3 .5 11.9 .4-56 .5 6.1 .5 6 .4-2.5 .5-1.6 .4 12.6 .5 14 .5-15.3 .4-19.9 .5 7.1 .5 9.8 .4 .7 .5 5.3 .4-5.2 .5-8.1 .5-7.1 .4-5.6 .5 24.4 .5-12 .4-5.9 .5 11.5 .5-19 .4 3.7 .5 17.3 .4-19.1 .5-8.4 .5-5.3 .4 23.1 .5-13.1 .5 8.6 .4-2.4 .5 .1 .4 2.3 .5-9.5 .5-23.7 .4 17.3 .5-10.7 .5 16.3 .4 28.9 .5-24 .4 13.5 .5-18.3 .5-9.1 .4 11.4 .5-6 .5-2.9 .4 39.5 .5-44.7 .4 13.1 .5-16.9 .5-3.8 .4 9.4 .5-5.2 .5 6.4 .4-12.9 .5 13.4 .4 5.5 .5 1 .5 10 .4 .5 .5-9.5 .5 2.2 .4-5.2 .5-19.4 .5 22.7 .4-12.2 .5 13 .4-7.7 .5-9.4 .5-15 .4 35.8 .5-5.4 .5 10.1 .4 1.8 .5-9.5 .4-.8 .5 8 .5-.3 .4-9.3 .5 17.1 .5-10.8 .4-18.3 .5 10.6 .4 1.4 .5 24 .5-27.1 .4 6.8 .5 34.1 .5-1.3 .4-28.3 .5 13.5 .4-2.1 .5-1.7 .5 3.8 .4 4.3 .5 16 .5 5.1 .4-10.9 .5-10.8 .4-8.9 .5 12.6 .5 15.5 .4 3.7 .5-15.4 .5 6.6 .4-18.6 .5-4.5 .5 40.6 .4-10.7 .5-6.9 .4-2.9 .5-5.1 .5-15.2 .4 30.3 .5-29.2 .5 30.8 .4-.1 .5-13.6 .4 17 .5-6.5 .5-21.8 .4 23.2 .5-2.3 .5-46.7 .4 44.2 .5 19.6 .4 22.2 .5-38.7 .5 .7 .4-.1 .5-2.1 .5-.9 .4-1.3 .5-18.6 .4 11.3 .5-6.1 .5 18 .4-6.1 .5-2.1 .5 1 .4 8 .5 23.5 .4-10.1 .5-18.4 .5 5.6 .4-21.8 .5-16.8 .5 40.7 .4-16.9 .5-10.2 .5 11.1 .4 20.2 .5-5.1 .4-5.3 .5 27.1 .5-36.6 .4-20 .5 12.6 .5-.3 .4 3.1 .5 10.4 .4 5 .5 5.6 .5-31.6 .4 7.4 .5 1.2 .5 10.8 .4-10.2 .5 8.1 .4 18.1 .5-12 .5-9.3 .4-2.7 .5-3.5 .5 3.1 .4-16.3 .5 3.6 .4 14.9 .5 12.8 .5 1.6 .4-42.9 .5 23.8 .5-11.9 .4-1.4 .5 1.9 .4-3.9 .5-12.8 .5 3.1 .4-5.3 .5-8.8 .5-1.1 .4 11.3 .5 4.3 .5 3.4 .4-8.1 .5 5.6 .4-23.6 .5 17 .5-10.1 .4-.4 .5-18.8 .5 15 .4-2.7 .5 7.8 .4 9 .5-9.8 .5 13.3 .4-10.7 .5-2.7 .5-7.7 .4 21.9 .5-9.7 .4-7.3 .5 7.7 .5 1.6 .4-6.7 .5 18.8 .5-14.7 .4-23.9 .5 6.4 .4 0 .5 1.2 .5 21.3 .4-25 .5 31.3 .5-18.1 .4 18.3 .5 20 .4-53.9 .5 12.6 .5 17.1 .4 28.5 .5-31.6 .5-27.2 .4 19.6 .5 2.2 .5-15.4 .4-19 .5 42.7 .4-.2 .5-34.3 .5 26.3 .4-29.6 .5 33 .5 1.4 .4-8.8 .5-26.8 .4 24.2 .5-2.6 .5-29.1 .4 33.2 .5 16 .5-21.7 .4 3.9 .5 4 .4 19.5 .5-15 .5-12.4 .4 10.5 .5-14.4 .5-9 .4 18.4 .5 3 .4 14.2 .5-10.7 .5 14.9 .4-14.7 .5 5.9 .5 3.4 .4 2.8 .5 10.5 .5-21.4 .4-11 .5 23.8 .4 .5 .5-3.4 .5 23.4 .4-28.2 .5 12 .5 1.9 .4-1 .5-6.5 .4-2.3 .5 7.8 .5-.8 .4-3.7 .5 9.7 .5 2.6 .4-13.1 .5-16.1 .4 1.8 .5 19.1 .5-11.8 .4-8.7 .5-9.9 .5 27.2 .4-1.8 .5 1.7 .4 14.8 .5-4.5 .5 10.5 .4 2.5 .5-15 .5 12.7 .4-2 .5 26.4 .4-29.6 .5 3.5 .5-5.9 .4 1.4 .5-8.3 .5 16.4 .4-10 .5 6.1 .5 25 .4-32.9 .5 10.9 .4 12 .5-.4 .5 3.5 .4-.9 .5-12.1 .5-4.4 .4 4.3 .5-10.3 .4 .1 .5 27.7 .5-18.6 .4 29.1 .5-34.6 .5 3.1 .4 8 .5 8.7 .4-17.5 .5 16.4 .5-25.3 .4-7.7 .5 22.9 .5-7.7 .4 7 .5 10.2 .4-7.9 .5-3.2 .5-11.3 .4 1.5 .5-6.8 .5 9.8 .4-16.2 .5 17.2 .4-10 .5 2.4 .5-15.7 .4 9.1 .5 13.7 .5-8.8 .4-2.4 .5-14 .5 40.6 .4-32 .5 11.1 .4-6 .5-5.7 .5-19.2 .4 1 .5 20.2 .5-11.6 .4 7.2 .5 12.7 .4-13 .5 20.2 .5-17.5 .4 15.2 .5-4.2 .5 8.4 .4-19.3 .5 3.6 .4 19.7 .5-28.4 .5-2.1 .4-24 .5 24.9 .5-9.1 .4 6.5 .5-17.8 .4-11.4 .5 13.9 .5 5.6 .4 11.5 .5-5.1 .5 1.1 .4-20 .5 16.2 .4 9.6 .5-38.3 .5 26.3 .4 16.3 .5-12.2 .5-6 .4 36.4 .5-31.5 .5 2.7 .4-27.7 .5 33.7 .4 6.8 .5-9.1 .5 4.3 .4 .8 .5 4.1 .5 21.9 .4-34.6 .5-6.6 .4-12.2 .5-5.5 .5 29 .4-11.4 .5 .6 .5 38.4 .4-26.2 .5-10.2 .4 15.6 .5-1.7 .5 0 .4-9.6 .5 21.5 .5-5 .4 12.8 .5-27.7 .4 7.4 .5 14.3 .5 24.2 .4-28.2 .5-3.2 .5-17.7 .4 3.3 .5-5.4 .4-4.8 .5 16 .5 17.1 .4-1.7 .5-7.3 .5 11.3 .4-2.8 .5-18 .5-31.1 .4 37.3 .5 19.1 .4-21.7 .5 14.8 .5 7.3 .4-26.2 .5 53 .5-34.7 .4-19.2 .5 15.4 .4 16.2 .5-6.6 .5-3.2 .4 1.4 .5 5.7 .5 15.1 .4-34.9 .5-1 .4 14.2 .5-1.1 .5 26.2 .4-16.3 .5 5.4 .5-9.9 .4-2.7 .5-.3 .4-5.4 .5 17.6 .5-1.5 .4 8.7 .5-12.8 .5 4 .4 .8 .5-18 .4 14.7 .5-23.7 .5 20 .4 20 .5-32.9 .5 8.3 .4 3.3 .5-10.6 .5 25.8 .4-9.8 .5-3.5 .4 13.9 .5-25.2 .5 3.9 .4-33.2 .5 36.7 .5-.9 .4 14.7 .5-8.1 .4-5.5 .5-21 .5 17.6 .4-7.8 .5 15 .5-17.2 .4 22.3 .5-21.5 .4 20 .5-30.1 .5 14.1 .4 7.6 .5 .5 .5 15.5 .4-33.8 .5 10.1 .4 4.8 .5 .8 .5-7.1 .4 19.3 .5-17.1 .5 21 .4-2.1 .5-12 .4-3.3 .5 37.4 .5-31.6 .4 3.2 .5-37.4 .5 40.7 .4 .2 .5-9 .5 .7 .4-4.6 .5-5.9 .4 5 .5-19.1 .5 1.7 .4 5.2 .5 3.7 .5 4.8 .4-22.4 .5-9.6 .4 20.3 .5-9.8 .5 14.6 .4-.9 .5-20.2 .5 40.7 .4-23.2 .5 7.4 .4 6.8 .5 .9 .5-23.3 .4-15.6 .5 12.1 .5 18.3 .4 4 .5-5.3 .4-33.7 .5 11 .5 12.6 .4-3.9 .5 9.7 .5 7.9 .4-9.5 .5-5.3 .4 2.4 .5-13.8 .5-2 .4 21.9 .5 2.4 .5 .3 .4 19.5 .5-18.8 .5-6.8 .4 3.9 .5-2 .4 .8 .5 18.6 .5-30.1 .4 22 .5-6.1 .5 24.7 .4-19.1 .5 9.7 .4-16.2 .5 1 .5 .1 .4 4.3 .5-5.9 .5 3 .4 36.6 .5-27.8 .4-12.5 .5 1.7 .5 8.4 .4 4.6 .5 4.8 .5-8.5 .4 9.9 .5 8.1 .4 2.4 .5 21 .5-37.2 .4 20 .5-13.3 .5-11.4 .4 10.8 .5-1.6 .4 10.8 .5-2.5 .5-9.4 .4 33.9 .5-23.6 .5-18.1 .4 27.7 .5-1.2 .5 1 .4-8.7 .5 12.5 .4 6.7 .5-4.2 .5 6.3 .4 16.6 .5-19 .5 1.1 .4 6.4 .5 24.4 .4-3.5 .5-24.9 .5 4 .4-20 .5 9.3 .5-11.9 .4 21.8 .5 7.1 .4-22.1 .5 8.3 .5 27.1 .4-37.1 .5 10.7 .5 10.8 .4-6.8 .5-9.6 .4 19.6 .5-14.4 .5 .3 .4-9.4 .5 21.8 .5-2.8 .4-3.6 .5 3.6 .4 13.3 .5-28.6 .5 30 .4-8.1 .5-11.6 .5 2.6 .4 11.4 .5-20 .5 8.8 .4-.1 .5-1.3 .4 40.2 .5-47.4 .5-8.1 .4 17.4 .5-4.3 .5-9.8 .4 33.2 .5-26.4 .4-5.1 .5 .3 .5-1.8 .4-11.4 .5 9.1 .5-19.6 .4 11.6 .5 6.1 .4-2.5 .5-5 .5 6.6 .4 1.5 .5 5.6 .5 3.6 .4 17.7 .5-19.7 .4 38.9 .5-22.1 .5-24.3 .4-2.8 .5-1.4 .5-8.2 .4 11.3 .5 4.8 .4-11.8 .5-7.3 .5 11.2 .4-9.1 .5 4.4 .5-22.2 .4 11.1 .5-5.3 .5-.9 .4 21.6 .5-7.1 .4 4.6 .5 4.9 .5-4.6 .4-11.5 .5 15.6 .5 14.1 .4-23.3 .5 41.8 .4-27.7 .5-5.7 .5-16.6 .4 16.9 .5-4.1 .5 7.6 .4 15.9 .5-27.5 .4-2.5 .5 5.7 .5-14 .4 2.8 .5-7.2 .5 10 .4-25.8 .5 11.1 .4 8.5 .5 9.6 .5 3.2 .4-22.7 .5 19.6 .5-9.8 .4-5.6 .5-2.1 .4 13.5 .5-2.7 .5-4.2 .4 9 .5-20.7 .5 17.6 .4 8.8 .5-25.9 .5 18.9 .4-6.7 .5-9.9 .4 16.4 .5 6.2 .5-2.6 .4 5.5 .5-6.4 .5 1.2 .4 16.1 .5-21.4 .4 15.3 .5 4.3 .5 2.4 .4-1.3 .5-9.1 .5 1.4 .4 18.1 .5 19.1 .4-10.3 .5 2.4 .5-7.8 .4-10.9 .5 17.8 .5-15 .4 2.9 .5-8.3 .4 .6 .5 12.9 .5 10 .4-17 .5 2.9 .5-3.3 .4 1.4 .5 17.1 .4-1 .5-19.6 .5 12.8 .4 16.9 .5-55.6 .5 36.5 .4-30.2 .5 30.7 .5 4.1 .4-1.3 .5 8.9 .4 3.5 .5-7.6 .5 4.4 .4-2.2 .5 12 .5-12.5 .4 10.9 .5 .9 .4-3.6 .5 2.6 .5-5.8 .4-1.1 .5 8.8 .5 6.5 .4-15.3 .5 6.6 .4-2.6 .5 12.7 .5-4.5 .4-3.7 .5-8.5 .5 .2 .4 30.3 .5-28.6 .4 12.4 .5-3.8 .5 .5 .4-4.9 .5-8.4 .5 19.6 .4-14 .5-4.7 .5 33.7 .4-19.9 .5-14.3 .4 26.4 .5-16.6 .5-7.5 .4-.6 .5 1.9 .5-3 .4-5.4 .5 21.8 .4-29.9 .5 20 .5-19.5 .4 4 .5 3.5 .5 14.7 .4-12.5 .5-12.7 .4 20 .5-7.3 .5 29.2 .4-23.2 .5-.9 .5 1.5 .4-25.4 .5-.9 .4 40.2 .5-12.3 .5-55.9 .4 15 .5 40.4 .5-7.5 .4-2 .5-8.7 .4 18.5 .5-28.6 .5 12.4 .4-13.3 .5 1 .5 2.5 .4 6.8 .5-6 .5-1.3 .4-.3 .5-3.9 .4 2.6M1243.5 2281.6l.4 1.2 .5-29.9 .5 17.9 .4 4.3 .5-1.3 .5 9.3 .4 2.6 .5-11.3 .4 20.1 .5-15.3 .5 13.9 .4 9.7 .5-15.6 .5-20.4 .4 27.9 .5-.4 .4-3 .5-2.5 .5 2.7 .4 36.6 .5-35.5 .5-2.6 .4 9.4 .5-6.3 .4-2.1 .5-10.8 .5 18.1 .4-15.2 .5 13.9 .5 6.7 .4-3.4 .5-11.7 .4 17.4 .5-33.2 .5 31 .4 5.5 .5-17.2 .5 18.4 .4-8.6 .5-1.8 .4 2.5 .5-12.3 .5 15.2 .4 6.6 .5 25 .5-48.5 .4 37.7 .5-26.8 .5 3.5 .4 18.6 .5-17.4 .4 8.3 .5 22.8 .5-33.7 .4 14.1 .5-1.9 .5-9.9 .4 13.4 .5-2.7 .4 9.6 .5 38.3 .5-45 .4 19.3 .5-13.2 .5-2.7 .4 1 .5 6.4 .4-5.9 .5 11.3 .5-2.4 .4-7.3 .5-11.9 .5 14.3 .4-13.6 .5 7 .4 24.7 .5-14.7 .5-.9 .4-10.2 .5-5.8 .5 17.7 .4-5.7 .5-16.4 .4 3 .5 24.3 .5-3 .4-16.1 .5 1.4 .5 13.1 .4-2.2 .5-10.7 .5-3.8 .4-12.8 .5 16.7 .4-3.9 .5-1.4 .5 16.7 .4-5.9 .5 5.3 .5-9.3 .4 10.8 .5-14.9 .4 5.1 .5-10.7 .5 16.2 .4-17.2 .5 16 .5-6.9 .4-9.2 .5-8.4 .4-4.8 .5 11.2 .5-7.6 .4 3.5 .5 10.3 .5-14.9 .4 5.7 .5-28.5 .4 45.2 .5-41.9 .5 3.8 .4 7 .5-23.6 .5 24.6 .4-8.6 .5 12.1 .4-7.7 .5 30.2 .5-23.7 .4-11.5 .5-5.9 .5 13.9 .4 1 .5 12.6 .5 13.7 .4-36.5 .5 15.1 .4 11.3 .5-20.9 .5 5 .4-.5 .5-7.6 .5-2.6 .4 14.4 .5 15.1 .4-17.4 .5-14.6 .5 19.3 .4 25.6 .5-48 .5-5 .4 30.9 .5-7.9 .4 16.7 .5-30.2 .5 5.5 .4-10.6 .5-2 .5 4.3 .4-11.8 .5 3.2 .4 21.7 .5-6.8 .5 1.4 .4 2 .5 1.6 .5-7.9 .4-.1 .5 3 .4-.1 .5-3.3 .5-7 .4 26.3 .5 12.8 .5-4.1 .4-19.7 .5-4.6 .5 6.3 .4 .2 .5 20.3 .4-7.3 .5 2.9 .5-7.1 .4-24.3 .5 16 .5 .9 .4-8.8 .5 11.1 .4 0 .5 8.5 .5-2.6 .4-1.8 .5 6.7 .5 6.3 .4 .8 .5 33.6 .4-34.5 .5-5.2 .5 11.8 .4-3.6 .5-12.6 .5 18.3 .4-12.8 .5 16.1 .4-10.7 .5-8.2 .5 12.3 .4 3.8 .5-20 .5 19.8 .4-5.7 .5-4.3 .4 10.5 .5 17 .5-25.6 .4 19.3 .5-10.4 .5-39.8 .4 33.2 .5-6.7 .5 10.8 .4 6 .5-14.3 .4-6 .5-2.1 .5 13.5 .4 2.5 .5-8.4 .5-26.9 .4 55.6 .5 8.1 .4-8.6 .5-15.1 .5-8.2 .4 11.6 .5-12.5 .5 2.6 .4 16.1 .5-1.7 .4 3.4 .5-6.7 .5-1.4 .4 16.1 .5-4.6 .5-14.3 .4-13.4 .5 30.3 .4-11.9 .5 5.2 .5-25.9 .4 21.9 .5 2.8 .5-6.6 .4-2.6 .5 .6 .4-13 .5 34 .5-14.3 .4 11.3 .5-38.6 .5 30.8 .4 25.9 .5-35.2 .5 8.9 .4-20.5 .5-17.7 .4 18.3 .5 6.2 .5 3.4 .4-23.9 .5 2 .5 1.8 .4 8.7 .5 26.2 .4-47.5 .5 26.2 .5-16.9 .4 15.5 .5-16.3 .5 19.3 .4-13 .5-4.4 .4-15.5 .5 1.2 .5 16.6 .4-18.2 .5 15.2 .5-5.7 .4-4.7 .5 3.9 .4 40.4 .5-36.7 .5 6.8 .4-24.3 .5 13.5 .5-2.1 .4 9.5 .5-4.4 .4 4.7 .5-22.3 .5 14 .4 6.8 .5 3.4 .5-22.2 .4 20.5 .5-41.6 .5 43.4 .4-21 .5-17.2 .4 33.1 .5-5.6 .5 9.2 .4-12.7 .5-2.1 .5 47.3 .4-45.4 .5 17.4 .4-24.3 .5-6.8 .5 11 .4-18.5 .5 25 .5-16.1 .4 51.5 .5-39.5 .4-1.3 .5 8.7 .5-22.7 .4 7.4 .5 29.5 .5-13.9 .4-1.3 .5-10.3 .4-2.3 .5 7.7 .5-1.9 .4-2.3 .5-1.3 .5-30.5 .4 36.4 .5 3.5 .4 6.5 .5-11.9 .5 22.2 .4-15 .5 3 .5 .1 .4 5.7 .5 14.3 .5-4.1 .4-1.5 .5-5.2 .4-4.6 .5 16.5 .5-16.9 .4-3.3 .5 13.5 .5-1.1 .4-16.6 .5 10.5 .4 8.1 .5-11.5 .5 4.7 .4 25.6 .5-33.6 .5 26.2 .4 13.6 .5-18.2 .4-14.5 .5 17.2 .5 1.7 .4-9.5 .5 .1 .5 4.2 .4 27.7 .5-30.4 .4-3.1 .5 21.8 .5-8.3 .4-13.1 .5 16 .5 11.2 .4 18.8 .5-21.6 .4-12.9 .5 8.3 .5 14.6 .4-6.5 .5-17.9 .5 15.8 .4-2.9 .5-22 .5 19.4 .4 2.6 .5-16.7 .4 24.9 .5-5.6 .5 51.4 .4-31.6 .5 11.7 .5-20.8 .4 6.6 .5-16 .4 5.8 .5 6.9 .5 8.6 .4-17.9 .5-8.1 .5-11.9 .4 5.1 .5-13.9 .4 8.8 .5 20.9 .5-6 .4-1.1 .5 2.1 .5 21.9 .4-22.7 .5 6.3 .4-8.8 .5-21.4 .5 24.6 .4 .6 .5-2.5 .5-11.4 .4 26.3 .5-20.6 .5 5 .4 0 .5-35.4 .4 24.3 .5-1 .5-10.4 .4-3.1 .5 16.8 .5 10.9 .4-21.9 .5 20.1 .4 2.5 .5-7 .5 12.9 .4-16 .5 11.8 .5-9 .4 6.5 .5 0 .4-22.7 .5 3.6 .5-13.9 .4 13.7 .5 2.6 .5 17.1 .4-29.7 .5 19.3 .4-17.1 .5 7.5 .5-6.4 .4 9.4 .5 1.9 .5-4.2 .4 15.5 .5-26.4 .4-22.2 .5 27.7 .5-15.9 .4 18.7 .5 2 .5-13.4 .4-7.1 .5-16.3 .5 12.4 .4 29.9 .5-3.7 .4-8.9 .5-7.2 .5-18 .4 7.9 .5 12.3 .5-15.6 .4 24.7 .5-18.6 .4 5.4 .5-3.4 .5 18 .4-21.7 .5-35.1 .5 53.4 .4-14.6 .5 9.2 .4-7.6 .5 2.4 .5-1.7 .4 9.6 .5-3.2 .5 46.6 .4-24.8 .5-11.5 .4 20.4 .5-28.4 .5 0 .4 35.1 .5-21.2 .5-6.9 .4-21.4 .5 11.2 .4 2.5 .5 0 .5 15.7 .4-10 .5-4.3 .5 9.5 .4-2.4 .5 14.1 .5-17.1 .4 11.7 .5 8.2 .4-4.6 .5-11.5 .5 13.8 .4-13.8 .5 10.3 .5-24.6 .4 16.6 .5 4.5 .4-10.9 .5-1.9 .5-2.8 .4 13.2 .5 20.1 .5-27.8 .4 17.7 .5-10.9 .4 5.4 .5-.1 .5-6.1 .4-7.9 .5 10.4 .5 12.5 .4-11.8 .5 34.1 .4-20 .5-6.4 .5 4.9 .4-15.9 .5 12.4 .5 13.8 .4 5.1 .5-4.1 .4-19.3 .5 13.4 .5 12.4 .4-19.4 .5 37.2 .5-45.3 .4 52.2 .5-17.6 .5-8.4 .4-6.3 .5 3.1 .4 10.1 .5-14.6 .5-8.1 .4-5.8 .5 23.2 .5 3.5 .4-6 .5-5.6 .4 22.5 .5-1 .5-37.4 .4 47.2 .5-14.7 .5 8.7 .4 5.1 .5-23.1 .4 14.5 .5 5 .5-17.6 .4-3.4 .5 11.4 .5-.4 .4-24.3 .5 11.2 .4 16.1 .5-13.5 .5-9.6 .4 28 .5-16 .5-10.3 .4 4.5 .5-2.8 .4 8.3 .5 9.1 .5-5.3 .4 10.8 .5-4.4 .5 4.2 .4-21 .5 23.3 .5-12.2 .4-5.4 .5-1.9 .4-32.6 .5 31.7 .5-38.1 .4 43.5 .5-25.1 .5 15.9 .4 10.3 .5-11.8 .4-14.1 .5 9.5 .5-4.3 .4 4.9 .5-20 .5-12.7 .4 43.2 .5-28.3 .4 16.8 .5 1.2 .5-40.9 .4 48 .5-49.9 .5 35.8 .4 7.5 .5-5.3 .4-21.4 .5 25.4 .5-2.5 .4-27 .5 9.3 .5 3.4 .4 4.3 .5-5.1 .4-6.1 .5-8.1 .5 57.6 .4 1.6 .5-63.6 .5 24.7 .4-7.7 .5-.9 .5-4.1 .4 3.4 .5-7.9 .4 8.4 .5 12.5 .5 20.9 .4-32.5 .5-39.6 .5 75.8 .4-43.4 .5 18.4 .4-8 .5-31.6 .5 12.7 .4 13.1 .5 11.6 .5 4.1 .4-15.2 .5-21.7 .4 35.2 .5-10.5 .5 1.4 .4-7.2 .5 9.5 .5-3.1 .4-2.3 .5 18.7 .4-20.2 .5-6.5 .5-2.1 .4 2.2 .5-14.4 .5-23.9 .4 37.5 .5 12.6 .4-1.4 .5-3.6 .5 4 .4 8 .5-10.8 .5 14.5 .4-16.7 .5 9.4 .5-.5 .4 .8 .5 20.5 .4-15.5 .5 13 .5 28.1 .4-48.3 .5 12.6 .5-5.6 .4 7.3 .5-9.6 .4 9.3 .5 4.5 .5-5 .4 17.1 .5-40.7 .5 51.7 .4-42.6 .5 37.3 .4-22 .5 9.9 .5 .6 .4-24.2 .5 8.2 .5-.6 .4-12.5 .5 28.2 .4 13.8 .5 18.7 .5-20.1 .4-9.6 .5 2.7 .5 7.3 .4 11.1 .5-5.2 .4 5.3 .5-.7 .5-3.6 .4 19.8 .5-9 .5-26.1 .4 9.1 .5 5.6 .5-16.5 .4 43.8 .5-54.3 .4 18.6 .5-15.4 .5 25 .4-2.3 .5 4.1 .5-18.5 .4 12 .5-4.2 .4-20.7 .5 41 .5-24.7 .4 .1 .5-5.9 .5-14.3 .4 4.3 .5 4.3 .4 8.2 .5 0 .5 33.4 .4-25.6 .5-5.3 .5-7.4 .4-12 .5 19.9 .4 8.6 .5-5.3 .5-29.1 .4 14.9 .5 1.5 .5-25.6 .4 17 .5 .2 .4 6.2 .5-13.4 .5 18.2 .4 1.2 .5-.1 .5-12.5 .4 23.5 .5-3.5 .5 1.2 .4-15.9 .5 6.9 .4-43.7 .5 51.5 .5-31.3 .4 22.3 .5-9.3 .5 9.3 .4 4 .5-8.9 .4-13.5 .5 15 .5-7.4 .4-12.1 .5-15.4 .5 41.8 .4-34.3 .5-7.9 .4 39.4 .5-1.6 .5-5.2 .4 34.4 .5-32.1 .5-16.8 .4 6.3 .5-10 .4 13.5 .5-22.1 .5 16.7 .4 1.9 .5 .4 .5-.9 .4-3.3 .5 4.1 .4-35.5 .5 18.8 .5 10 .4-15 .5 37.6 .5-28.5 .4 20.2 .5-23.5 .5 14.9 .4-17.8 .5 14.9 .4-16.6 .5 .1 .5-1.6 .4 1.4 .5 41.6 .5-65.1 .4 32.9 .5-7.9 .4-4.1 .5 15.9 .5 6.6 .4-42.9 .5 32.3 .5 22.2 .4-34.1 .5 12.7 .4-2.1 .5 4.9 .5-7.5 .4 23.1 .5-24.1 .5 24.5 .4-30.2 .5 15.1 .4-12.7 .5 8.8 .5 9.5 .4 11.1 .5-20.9 .5 30.8 .4 15.9 .5-29 .4-2.3 .5-11 .5-14.5 .4 24.4 .5 1.4 .5-10.1 .4-17.4 .5 40.3 .5-33 .4 22.7 .5-.2 .4 6.9 .5-9 .5 19.5 .4-10.4 .5-4.5 .5 36 .4-22.6 .5-10.1 .4-6 .5 15.8 .5-12.2 .4 2 .5 19 .5-10.2 .4-6.1 .5 5.7 .4 10.5 .5 4.6 .5-31.4 .4 7.6 .5-32.9 .5 38.7 .4 16.2 .5-7.1 .4 3.6 .5 6.6 .5-10.7 .4-1.3 .5-5.1 .5-1.9 .4 15.8 .5-13.7 .4 5.5 .5 8.4 .5-5.7 .4-11.4 .5 22.9 .5-20.9 .4 3.2 .5-7.2 .5 9.7 .4 20 .5 21.4 .4-45.1 .5 10.5 .5-10.3 .4 5.5 .5-11.5 .5 15 .4-7.9 .5 19.1 .4-12.7 .5 17.7 .5-17.9 .4-13.1 .5 12.5 .5-6 .4 .2 .5 22.3 .4-7.2 .5 1 .5 2.6 .4-32.3 .5 34.2 .5-1.3 .4 8.8 .5-26.8 .4-11.9 .5 13.9 .5-8 .4-9.1 .5 5 .5 29.5 .4-26.6 .5-2.3 .4 18.5 .5-14 .5-40.9 .4 33.4 .5 14.7 .5-25.9 .4 22.7 .5-19.2 .5 23.6 .4-29.9 .5 13.9 .4-10.2 .5 26 .5-6.5 .4-22.8 .5 40.8 .5-19.2 .4-27.9 .5 4.4 .4 9.5 .5-15.3 .5-4 .4 2.8 .5 9 .5 10.7 .4-.2 .5-7.6 .4-12.2 .5-8.4 .5 8.2 .4-1.2 .5 28.3 .5-8.9 .4-4.6 .5-9 .4-23.2 .5 29.9 .5-5.9 .4 4.6 .5-5.3 .5-23.2 .4 41.4 .5-42.5 .5 26.6 .4-23.7 .5 19.7 .4-3.3 .5 4.3 .5 39.2 .4-33.3 .5-3.8 .5-14.6 .4 6.5 .5 .7 .4 14.2 .5-39 .5 43.3 .4-26.9 .5 4.4 .5 7.8 .4-10.5 .5 28.2 .4-18.5 .5 .9 .5 1.1 .4 6.1 .5-13.8 .5 11.5 .4 .3 .5 10.2 .4-38.2 .5 16.7 .5 11.6 .4-18.2 .5-17 .5 21.2 .4 20.7 .5-6.2 .4-31.3 .5 21.8 .5-4.8 .4 9.8 .5 2.8 .5 4 .4-.4 .5-.5 .5 3.9 .4-8.2 .5-4.6 .4 37.9 .5-33.4 .5-3.6 .4 20.8 .5-19.5 .5 4.8 .4 32.9 .5-29.3 .4 28.2 .5-22 .5-1.1 .4 13.7 .5-.8 .5-.8 .4 10.6 .5-3.7 .4-.9 .5 9.7 .5-19.8 .4 24.8 .5-5.3 .5-19.7 .4 12.9 .5-17.1 .4 31.8 .5-11.1 .5-4.3 .4-1.1 .5 17.6 .5-2.2 .4-26 .5 14.2 .4-1.2 .5-.3 .5-3.5 .4 15.6 .5-16.2 .5-2.1 .4 15.5 .5 6.6 .5-9.8 .4 5.2 .5-36.9 .4 23.6 .5-11.6 .5 17.5 .4-4.2 .5 .7 .5 15.8 .4-11.8 .5-7.8 .4 13 .5-4.3 .5-4 .4-6.5 .5 28.3 .5-16 .4-21.9 .5 3.5 .4 36.2 .5-8.5 .5-12.2 .4 6.1 .5-9 .5 17.2 .4-28.8 .5 17 .4-30.3 .5 17.3 .5 21.2 .4-36.1 .5 14.8 .5 7.2 .4-10.3 .5 22.8 .4-4.7 .5-2.4 .5-7.4 .4 4.4 .5-5.3 .5-10.8 .4 26.2 .5-18.7 .5 10.1 .4 9.8 .5-23.3 .4-1.8 .5-43.5 .5 34.3 .4-4.1 .5 17.8 .5 1.1 .4 .6 .5-13.7 .4-7.5 .5 18.3 .5-28.9 .4 4.8 .5-2.1 .5 11 .4-14.7 .5 10.3 .4 8.6 .5 8.8 .5-6.1 .4-19.3 .5 22.9 .5-14.9 .4-15.1 .5-10 .4 14.3 .5 13.5 .5-2.7 .4 16.8 .5 8.8 .5-13 .4-18.5 .5 7.2 .4-23.1 .5 10.6 .5 13.4 .4-17.8 .5 13.8 .5-29.4 .4 26 .5-15.4 .5 14 .4-13.6 .5 11.2 .4 15.3 .5-20.7 .5-.9 .4-3.1 .5 8.3 .5-14.2 .4 20.4 .5 12.1 .4-18.8 .5 16.3 .5-11.5 .4 24 .5-23.4 .5 21.1 .4-39.3 .5 25.4 .4 4.7 .5-12 .5 16.5 .4-10.7 .5 10.2 .5 12.6 .4-15.3 .5 5.9 .4-28.2 .5 23.9 .5 3.3 .4 10.1 .5-25.4 .5 21.1 .4-4.7 .5-3.5 .4 2.4 .5-8.2 .5 10.8 .4-8.3 .5 4.4 .5-6.2 .4 4 .5-9.3 .5 10.1 .4 4 .5-1.3 .4-20.2 .5 41.1 .5-14.3 .4-13.4 .5 18.2 .5-4.4 .4 7.7 .5 11.6 .4-4.5 .5-13.4 .5 28.5 .4-13.9 .5-22.4 .5 0 .4 15 .5-4.2 .4 5.2 .5-17.8 .5 20.1 .4-1.9 .5-8.9 .5-.1 .4 20.6 .5-13.2 .4 4.5 .5-1.4 .5 8.7 .4 6.3 .5-.2 .5 11.5 .4-21.8 .5-21.3 .4 23 .5 11.4 .5 4.4 .4-24.1 .5 13.2 .5 6.7 .4 16.7 .5-12.5 .5 .7 .4 18.6 .5-21.7 .4-4 .5 5.7 .5 5.7 .4-14.9 .5 6.3 .5-2.1 .4-12 .5 22.5 .4-50.6 .5 50 .5 2.1 .4-25.5 .5 9.7 .5 6.1 .4 3 .5-27.3 .4 15 .5-7.4 .5-16.2 .4 23.3 .5-2.3 .5 7.2 .4-18 .5 8.1 .4-6.6 .5-1.8 .5-1.9 .4-3.5 .5-14 .5 18.4 .4-14.8 .5 16 .4-21.9 .5 26.1 .5 7 .4 .5 .5-7.6 .5-16.6 .4 16.1 .5-18.7 .5 1.4 .4 7.6 .5-.1 .4-7.5 .5 8.6 .5-6.2 .4-9.7 .5-6.7 .5 14 .4 9 .5-13.7 .4-12.2 .5-11.8 .5 35.6 .4 6.5 .5-28.4 .5-23.3 .4 30.1 .5-14.8 .4-13.6 .5 59.8 .5-28.7 .4 3.9 .5-11.8 .5-3.6 .4 3.4 .5 16.5 .4-5.1 .5-11.3 .5-16.4 .4 22.2 .5-9 .5-16.5 .4 24.5 .5 .2 .4-4 .5 7.8 .5 5.1 .4-13.5 .5 4 .5-4 .4-14 .5 14.9 .5-13.9 .4 3.2 .5-4.2 .4-14.7 .5 24.3 .5 7.5 .4 3.5 .5-18 .5 25 .4-24.2 .5 13.3 .4-.5 .5-10.3 .5 8.8 .4 13.5 .5-16.1 .5 6.1 .4 15.9 .5-15.4 .4 10.1 .5-8.9 .5-5.3 .4-3.9 .5-.7 .5 18.1 .4-9.6 .5 9.7 .4-15.2 .5 1.8 .5-2.1 .4-18.8 .5 47.8 .5-2.7 .4-9 .5-5.5 .4-35.9 .5 23.1 .5 6.9 .4 25.6 .5 15 .5-3.6 .4-28.1 .5 10.3 .5 6.2 .4-1.5 .5-10.8 .4 6.8 .5 5.4 .5 3.5 .4-27.7 .5 4.6 .5 11.9 .4 12.8 .5 1.7 .4-7.3 .5-13.7 .5 4.6 .4 12.4 .5-11.7 .5 5.1 .4-12.4 .5 .9 .4 15.6 .5-2.9 .5-39.8 .4 40.8 .5-7.4 .5 16.8 .4-18.9 .5 11.7 .4-10 .5 4.4 .5 8.1 .4 5.3 .5 2.2 .5-1.1 .4 1 .5-5.4 .4-9.5 .5 21 .5-15.4 .4 .7 .5 33.1 .5-24.7 .4-39.8 .5 38.3 .5-21 .4 33.1 .5-14.4 .4 .4 .5-2.4 .5 21.6 .4-24.6 .5 8.7 .5-4.7 .4-7.4 .5 3.9 .4 10.7 .5-27.9 .5-7.3 .4 3.1 .5 30.7 .5-15.7 .4-7.1 .5 1.9 .4-16.7 .5-11.2 .5 40 .4-12.6 .5 1 .5 5.3 .4 1 .5-.9 .4-8.4 .5 18.2 .5-19.4 .4 14.3 .5-8.3 .5-6 .4-4.1 .5 8.2 .4-6.6 .5 4.8 .5 12.5 .4-12.5 .5-24.8 .5 33.3 .4-3.5 .5-14.6 .5 21.3 .4-5.9 .5 5.5 .4-22.4 .5 10 .5-1.2 .4-2 .5-10.6 .5 43.7 .4-42.1 .5-4.2 .4 .9 .5-2.9 .5 5.3 .4-8.9 .5 15.5 .5-19 .4 14.6 .5 2.1 .4 21 .5-28.4 .5 11.5 .4 1.6 .5-10.7 .5 16.9 .4-18 .5 27.9 .4-8.4 .5-17.4 .5-.4 .4 6.5 .5-15.1 .5 3 .4 14.3 .5-9.9 .4-20.8 .5 21.5 .5 18 .4-55.7 .5 33.7 .5 15.3 .4-22.7 .5 11.6 .5-19.4 .4 7.9 .5 4.1 .4-1.8 .5-6.9 .5 30.7 .4-24.3 .5 3 .5 25.4 .4-3.7 .5-14.6 .4 5.4 .5-10 .5-.6 .4-27.1 .5 29.4 .5-5.6 .4 7.5 .5-2.5 .4 6.9 .5-5.6 .5-36.2 .4 47.6 .5-4.4 .5 7.1 .4-16.9 .5 .7 .4 16.9 .5 6.5 .5 4.1 .4-20.7 .5 11.8 .5 .7 .4 5.5 .5-11.8 .5 20.9 .4 17.6 .5-28.7 .4 12.4 .5-7.2 .5 7.5 .4-11.1 .5 17.5 .5-8.6 .4 5.3 .5-12.1 .4 8.1 .5 18.1 .5 13.8 .4-33.8 .5 3.5 .5 .2 .4 3.4 .5 4 .4 23.5 .5 1.2 .5-13.3 .4-.9 .5-12.6 .5 1.7 .4 24.9 .5-7.7 .4-5.8 .5-2.3 .5 5.8 .4-6.3 .5 3.5 .5 10 .4-21.9 .5 14.2 .4 10.3 .5-5.5 .5 14.6 .4-12.9 .5 6.8 .5-8.1 .4-1.5 .5-6.7 .5 .3 .4-.3 .5 17.9 .4-18 .5-4.1 .5 0 .4 .3 .5 25.3 .5-24.9 .4 10 .5-40.3 .4 37.3 .5 5.1 .5-44 .4 44.6 .5-11.4 .5-16.1 .4 .2 .5 5.6 .4 6 .5 13.9 .5-24 .4 5.5 .5-10.5 .5 9.2 .4-4.1 .5-13.2 .4 11.1 .5-34.6 .5 40.6 .4-14.5 .5-4.9 .5-3.3 .4 16 .5-15 .4-15.1 .5 10 .5-.3 .4 8.3 .5-3.3 .5-5.9 .4 9.3 .5-25.7 .5 19.1 .4-.3 .5 0 .4-.1 .5 2.9 .5-3.7 .4-8.4 .5-6.5 .5 2.9 .4 7.6 .5-13.5 .4 14.4 .5-4.1 .5-13.1 .4 3.4 .5 2.9 .5 27.6 .4-33.8 .5 3.7 .4 3.1 .5-2.3 .5 4.3 .4 32.5 .5-25.3 .5-7.8 .4 7 .5 2.1 .4-9.8 .5 .9 .5-2.6 .4 17.2 .5-36.2 .5 7.3 .4 9.8 .5 12.6 .4-6.3 .5 10.2 .5-31.1 .4 33.9 .5-22.9 .5 9.4 .4-1.1 .5 6.5 .5-17 .4 6.2 .5-3.5 .4-6.5 .5 19 .5-1.2 .4 15.7 .5-49.1 .5 31.6 .4-7.7 .5 8.8 .4 6.5 .5 8.9 .5-14.7 .4 15.1 .5-7.6 .5 2.7 .4 3.3 .5-11.4 .4 11.3 .5-14.3 .5 18.5 .4-29 .5 35.4 .5-8.7 .4 32.8 .5-12.3 .4-18.1 .5 16.3 .5-23.3 .4 21.4 .5-16.4 .5-13.5 .4 28.5 .5-17.2 .4 16.6 .5-22.1 .5 15.6 .4-3 .5-8.6 .5 1.8 .4-13.1 .5 22.1 .5-2.8 .4-4 .5-3.1 .4 9.4 .5-1 .5-13.8 .4 26.9 .5-22.4 .5 15.5 .4-1.6 .5 .4 .4-12 .5-11.2 .5 22.6 .4-7.9 .5-9.5 .5 2 .4 13.6 .5 2.3 .4-3 .5-6.1 .5-2.9 .4-4.3 .5 10.2 .5-3.3 .4 13.5 .5-6.9 .4-2 .5 5.3 .5 6.4 .4-25.1 .5 26.3 .5 3.5 .4-12 .5 18.7 .4 3.9 .5-32.2 .5 23.1 .4-14.5 .5 .2 .5-4.7 .4 4 .5 2.1 .5-11.7 .4-7.1 .5 19.7 .4-35.7 .5 23.7 .5-9.9 .4 4.8 .5 2.2 .5 9.4 .4-5.5 .5 10.8 .4-17.9 .5-8.6 .5 9.4 .4 36 .5-22.4 .5-12 .4 10.1 .5 5 .4 3.3 .5-14.4 .5 8.5 .4 4.6 .5-5.6 .5-8.3 .4 14 .5-28.8 .4 11.2 .5-7.8 .5 28.7 .4-20.3 .5 4.4 .5 7.4 .4-9.3 .5 22.4 .4-26.7 .5-.7 .5-21.4 .4 21.7 .5-2.4 .5 10.3 .4 1.4 .5-24.1 .5 8.3 .4 12.3 .5-2.9 .4-17.2 .5 8.1 .5 3.1 .4-10.5 .5 7.2 .5-22.4 .4 13.9 .5-2.7 .4 33.1 .5-38.6 .5 6.9 .4-12 .5 13.4 .5-23 .4 22.2 .5-17.2 .4 7.5 .5-15.8 .5 15.6 .4 4.4 .5-1.7 .5-.3 .4 2.3 .5-4.8 .4 1.4 .5 5.9 .5-6.1 .4-2 .5 15 .5-5 .4-2 .5 1.2 .4 10.3 .5-7.9 .5 8 .4-22.2 .5 7.2 .5 5.3 .4 19.8 .5-25.1 .5 9.2 .4-9.9 .5 14.7 .4-5.8 .5-5 .5-19.4 .4 13.1 .5 9.8 .5 5 .4-2.6 .5 17.6 .4-18.1 .5 5.2 .5-13.8 .4-4.7 .5 6.6 .5-2.7 .4 15.2 .5 5.7 .4 10.4 .5-14.6 .5 6.5 .4 16.1 .5-.6 .5-30.4 .4 32.9 .5-14.3 .4 15.2 .5-14 .5 7.2 .4-14.2 .5 21.5 .5-14.7 .4-22.7 .5 27.5 .4-26.4 .5 17.5 .5 21 .4-19.5 .5 2.2 .5 23.6 .4-13.1 .5 33.4 .5-37.5 .4-3.2 .5 1.3 .4 14.4 .5-30.5 .5 20.4 .4 2.2 .5 18.4 .5 2 .4-33.3 .5 27.1 .4-18.6 .5 19.6 .5-2.7 .4-10.5 .5-1.2 .5 6.5 .4-14.9 .5 17.2 .4-23 .5 20.1 .5 4.7 .4-5.5 .5-2.6 .5-9.1 .4-8.5 .5 32 .4-45.9 .5 42.8 .5-26.7 .4 3.8 .5 6.3 .5 4.3 .4 5.7 .5 6.4 .4-33.1 .5 11 .5 3.3 .4 8.3 .5-13.2 .5-3.7 .4 3.2 .5-16.4 .5 14.5 .4 5.5 .5-8 .4 22.9 .5-.4 .5-18 .4-7.6 .5 20.8 .5 5 .4-4.3 .5 1.6 .4-3.6 .5-26.1 .5 34.9 .4-28.1 .5 12.2 .5 1.4 .4 1.9 .5-21.3 .4 8.8 .5 14.6 .5-28.2 .4-7.6 .5 48.4 .5-6.3 .4-17.6 .5-15.9 .4-3 .5 20.8 .5-.3 .4-20.1 .5 11.8 .5 6.6 .4-8.3 .5 5.7 .4-13.3 .5 11.6 .5-15.8 .4 4.8 .5 .1 .5 33.3 .4-39.5 .5 7.4 .5 16.3 .4-10.2 .5-9.6 .4 4.6 .5 4.6 .5 1 .4 .2 .5 6.8 .5-13.5 .4 2.1 .5 3.1 .4-6.1 .5 17 .5-12.1 .4-18 .5 12.2 .5 3 .4-.6 .5 3.7 .4 1.1 .5-11.9 .5 7.7 .4-9.2 .5-8.5 .5 5.2 .4-22.7 .5 39.9 .4-2.6 .5 23.7 .5-28 .4 13.2 .5-16.6 .5-8 .4 11.3 .5 4.6 .4 .4 .5-17.7 .5 7.4 .4 22.2 .5-2.4 .5-19 .4 20.8 .5-26.3 .5 6.6 .4 .1 .5 .8 .4 2.6 .5-13.9 .5-4.1 .4 4.7 .5 20.7 .5-2.7 .4-12.1 .5 1.2 .4-8.7 .5 16.7 .5-2.2 .4 2.7 .5 12.1 .5 4.8 .4-.9 .5-5.2 .4 2.2 .5 17.9 .5-21.2 .4-9.1 .5 21 .5-8.7 .4-1.3 .5-.1 .4 3.6 .5 5.2 .5-1.9 .4-3.1 .5-2.2 .5 3.1 .4-6.9 .5 9.6 .4-1.2 .5 12.7 .5-6.8 .4 2.1 .5 3.2 .5 10.5 .4-13.4 .5-2.5 .5-13.3 .4 24.8 .5-23.4 .4 13.9 .5 .3 .5 6.2 .4-6.6 .5 11.6 .5-11.3 .4 16.8 .5 8.8 .4-27 .5 2.1 .5 11.9 .4-8.1 .5-2.3 .5-5.4 .4 12.2 .5-7.7 .4 8.3 .5-16.4 .5 12.1 .4-2 .5-10.4 .5-5.6 .4 15.5 .5 1.2 .4-11.5 .5-8.1 .5 9.7 .4 8.4 .5-2.9 .5-3.2 .4-1.4 .5 3.3 .5 15.7 .4-13.7 .5 2.3 .4 16 .5 1.1 .5-29.8 .4 16.1 .5-6.2 .5-5.4 .4-.1 .5 11.7 .4 2.1 .5-17.4 .5 8.5 .4-20.5 .5 18 .5-11.4 .4 1.8 .5 .6 .4 22.3 .5-39.5 .5 28.8 .4-12.1 .5 2.8 .5-4.2 .4 9.1 .5 4.6 .4 5.2 .5-3.6 .5 3.4 .4-38.7 .5 25.4 .5 0 .4-4 .5 8.7 .4 5.6 .5 1.4 .5-6.1 .4-2.2 .5-7.2 .5-12.2 .4 16.2 .5-9 .5-1.9 .4 9.4 .5-2.9 .4-19.3 .5 16.6 .5-1.4 .4-37.8 .5 21.6 .5 13.1 .4-21.8 .5 19.7 .4-10 .5-4.3 .5 .6 .4-1.2 .5 3 .5 7.9 .4 6.5 .5-11.1 .4 13.3 .5 .3 .5-1.3 .4-24.6 .5 12.1 .5 4.7 .4-3.7 .5-6.7 .4 15.6 .5 .4 .5-36.9 .4 44 .5 7.8 .5-13.2 .4 15.5 .5-6 .4-11.7 .5 .4 .5 13.7 .4-8.5 .5 7.3 .5-7.2 .4 11.1 .5-6.1 .5-8.3 .4 11.1 .5-20 .4 10.1 .5-5.9 .5-8 .4 4.6 .5-7.4 .5-5 .4 6.8 .5 3.1 .4 22.6 .5-24.5 .5 21.2 .4-8.9 .5 14.4 .5-20.3 .4 33.1 .5-30.6 .4 12.6 .5 .3 .5 31.6 .4-29.8 .5-12.6 .5-8.2 .4 7 .5 19.3 .4-21.6 .5 27.2 .5-12.8 .4-2.8 .5 9.1 .5-.4 .4 26.8 .5-24.1 .4 8.4 .5-16 .5 24.4 .4-7 .5-22.5 .5 36.9 .4-31.2 .5 17.9 .5-2.2 .4-3.3 .5-20.3 .4 10.3 .5 28.4 .5-23.4 .4 1.3 .5-10.5 .5 7.1 .4 29.5 .5-22.2 .4-1.4 .5 11.4 .5-10.7 .4-1.5 .5 4.8 .5 0 .4-11.6 .5 8.4 .4 11 .5-18.4 .5 8.4 .4 10.7 .5-37.6 .5 48.1 .4-42.3 .5 24.8 .4-15.4 .5 7.4 .5 13.4 .4 1.9 .5-26.7 .5 27.7 .4-15.8 .5 14.7 .4-13.6 .5 7.7 .5-5.3 .4 2.3 .5 21.4 .5-15.6 .4-9.4 .5 7.7 .5-9.1 .4 10.9 .5-5.5 .4 4.5 .5 7.2 .5-11.9 .4-4 .5-2.2 .5-4.5 .4 18.2 .5-9.4 .4-1.1 .5 3.6 .5 5.5 .4-37.8 .5-.1 .5 10.5 .4-14.1 .5 3.1 .4 13.7 .5 15.1 .5-16.4 .4-8.3 .5 12.8 .5-9.7 .4 15.7 .5 4.5 .4-11.5 .5 20.6 .5-15.8 .4-28.4 .5 35.9 .5-28.1 .4 28 .5-12 .4 2 .5 .2 .5-14.1 .4 10.4 .5 19.7 .5-22.7 .4 32.3 .5-26.8 .5-4.7 .4-6.1 .5 6.6 .4-26.8 .5 14.5 .5-6.9 .4 .9 .5 10.8 .5 6.5 .4-14.6 .5-2.5 .4 13.7 .5-11.5 .5 2 .4 10.2 .5-15.8 .5 4.3 .4-3.2 .5 3.6 .4-7.1 .5 14.4 .5-3.4 .4 3.6 .5-7.7 .5 3.3 .4-.3 .5 5.9 .4-2.4 .5 .4 .5 3.6 .4-10 .5-16.4 .5 4.8 .4 9.9 .5-.4 .4 6.3 .5 1.3 .5-3.9 .4 1.2 .5 17.5 .5 20.2 .4-19.7 .5-39.2 .5 44.5 .4-25 .5 18.6 .4-5.8 .5-9 .5 20.6 .4-10.3 .5-3.3 .5 .7 .4 4.1 .5-5.9 .4-5 .5 3 .5 23.2 .4-26.4 .5 0 .5 26.1 .4-18.3 .5 2.5 .4 17.1 .5-16.3 .5 16.6 .4-24.5 .5 15.4 .5 8.7 .4 17.3 .5-14.7 .4 13.1 .5-17.6 .5 1.8 .4 10.3 .5-4.1 .5 32.9 .4-41.6 .5 7.8 .4 12.1 .5-1.1 .5 7.6 .4-19.1 .5-29.4 .5 38.2 .4-14.8 .5-4.7 .5-11.9 .4 13.1 .5 25.6 .4-29.5 .5 12.9 .5-8.5 .4-3.6 .5 1.1 .5 9 .4 .2 .5 11.8 .4 3.2 .5-13.1 .5-17.1 .4 22.6 .5-7.5 .5 5 .4-11 .5 21.1 .4-15.7 .5-2.8 .5 21.6 .4-14.9 .5 4.2 .5-3.8 .4-.8" fill="none" stroke="#111" stroke-width="3.2" stroke-linejoin="round"/>
<path d="M592 2268.6h4.4M592.9 2273.9h4.4M593.8 2248.5h4.4M594.7 2263h4.4M595.7 2261.2h4.4M596.6 2263h4.4M597.5 2245.1h4.4M598.5 2283.6h4.4M599.4 2277.8h4.4M600.3 2276.5h4.4M601.2 2289.1h4.4M602.2 2267h4.4M603.1 2263.9h4.4M604 2261.4h4.4M604.9 2277.3h4.4M605.9 2267.1h4.4M606.8 2261.9h4.4M607.7 2274.2h4.4M608.6 2250h4.4M609.6 2245.5h4.4M610.5 2262.3h4.4M611.4 2276.3h4.4M612.3 2220.7h4.4M613.3 2263.4h4.4M614.2 2274.2h4.4M615.1 2275.1h4.4M616 2268.7h4.4M617 2302.1h4.4M617.9 2249.9h4.4M618.8 2230.3h4.4M619.7 2262.8h4.4M620.7 2261h4.4M621.6 2252.3h4.4M622.5 2272.5h4.4M623.4 2237.4h4.4M624.4 2276.8h4.4M625.3 2270.9h4.4M626.2 2266.5h4.4M627.1 2281.4h4.4M628.1 2293.7h4.4M629 2270.6h4.4M629.9 2292h4.4M630.8 2275.9h4.4M631.8 2270h4.4M632.7 2274.1h4.4M633.6 2293.3h4.4M634.5 2276h4.4M635.5 2314.1h4.4M636.4 2302.2h4.4M637.3 2277h4.4M638.3 2287.2h4.4M639.2 2278h4.4M640.1 2286h4.4M641 2286.9h4.4M642 2266.6h4.4M642.9 2271.3h4.4M643.8 2287.1h4.4M644.7 2271.8h4.4M645.7 2281.8h4.4M646.6 2315.8h4.4M647.5 2279.7h4.4M648.4 2282.9h4.4M649.4 2286h4.4M650.3 2272.3h4.4M651.2 2269.9h4.4M652.1 2290.7h4.4M653.1 2290.5h4.4M654 2288.7h4.4M654.9 2285.7h4.4M655.8 2298.6h4.4M656.8 2275.5h4.4M657.7 2287.5h4.4M658.6 2283.3h4.4M659.5 2282.6h4.4M660.5 2296.6h4.4M661.4 2271.1h4.4M662.3 2285.2h4.4M663.2 2277.5h4.4M664.2 2283.1h4.4M665.1 2280.5h4.4M666 2261.5h4.4M666.9 2271.9h4.4M667.9 2293.2h4.4M668.8 2275.3h4.4M669.7 2256h4.4M670.6 2260.3h4.4M671.6 2262.7h4.4M672.5 2290.5h4.4M673.4 2255.2h4.4M674.3 2261.6h4.4M675.3 2254h4.4M676.2 2261.3h4.4M677.1 2282.4h4.4M678.1 2246.2h4.4M679 2263h4.4M679.9 2264.1h4.4M680.8 2274.3h4.4M681.8 2252.3h4.4M682.7 2240.8h4.4M683.6 2260.3h4.4M684.5 2256h4.4M685.5 2245.5h4.4M686.4 2253.5h4.4M687.3 2250.1h4.4M688.2 2232.8h4.4M689.2 2225.6h4.4M690.1 2254.7h4.4M691 2218.9h4.4M691.9 2191.6h4.4M692.9 2213.1h4.4M693.8 2232.3h4.4M694.7 2222.7h4.4M695.6 2234.4h4.4M696.6 2255.3h4.4M697.5 2234.6h4.4M698.4 2245.3h4.4M699.3 2228h4.4M700.3 2222.7h4.4M701.2 2223h4.4M702.1 2216.8h4.4M703 2231.7h4.4M704 2205h4.4M704.9 2225.4h4.4M705.8 2216.2h4.4M706.7 2202h4.4M707.7 2211.5h4.4M708.6 2238.5h4.4M709.5 2225.5h4.4M710.4 2244.6h4.4M711.4 2240.2h4.4M712.3 2251.6h4.4M713.2 2226.4h4.4M714.2 2243.2h4.4M715.1 2229.5h4.4M716 2227.5h4.4M716.9 2222h4.4M717.9 2237.3h4.4M718.8 2236.8h4.4M719.7 2285.6h4.4M720.6 2258.4h4.4M721.6 2225.8h4.4M722.5 2247.3h4.4M723.4 2208.1h4.4M724.3 2240.1h4.4M725.3 2252.8h4.4M726.2 2257.1h4.4M727.1 2257.6h4.4M728 2244.4h4.4M729 2257.5h4.4M729.9 2258h4.4M730.8 2259.3h4.4M731.7 2263.1h4.4M732.7 2227.5h4.4M733.6 2237.9h4.4M734.5 2259h4.4M735.4 2256.5h4.4M736.4 2284.7h4.4M737.3 2274.2h4.4M738.2 2276.6h4.4M739.1 2272.2h4.4M740.1 2260.8h4.4M741 2278h4.4M741.9 2275.6h4.4M742.8 2251.2h4.4M743.8 2262.8h4.4M744.7 2271.5h4.4M745.6 2292.4h4.4M746.5 2261.5h4.4M747.5 2262.7h4.4M748.4 2259h4.4M749.3 2264.6h4.4M750.2 2258.8h4.4M751.2 2247.8h4.4M752.1 2251.3h4.4M753 2248.9h4.4M754 2251.8h4.4M754.9 2253.4h4.4M755.8 2224.1h4.4M756.7 2249.3h4.4M757.7 2236.3h4.4M758.6 2248.2h4.4M759.5 2245.5h4.4M760.4 2233.7h4.4M761.4 2237.7h4.4M762.3 2249.9h4.4M763.2 2251.4h4.4M764.1 2238.7h4.4M765.1 2236.6h4.4M766 2237.5h4.4M766.9 2246.8h4.4M767.8 2220.6h4.4M768.8 2244.9h4.4M769.7 2235.5h4.4M770.6 2237.1h4.4M771.5 2236.2h4.4M772.5 2214.4h4.4M773.4 2226.9h4.4M774.3 2223.6h4.4M775.2 2212.3h4.4M776.2 2233.9h4.4M777.1 2237.8h4.4M778 2243.1h4.4M778.9 2232.5h4.4M779.9 2240.9h4.4M780.8 2229.8h4.4M781.7 2246.2h4.4M782.6 2219.2h4.4M783.6 2243.7h4.4M784.5 2236h4.4M785.4 2243.6h4.4M786.3 2242.5h4.4M787.3 2237.1h4.4M788.2 2263.1h4.4M789.1 2236h4.4M790 2241.7h4.4M791 2241.1h4.4M791.9 2252.8h4.4M792.8 2248.2h4.4M793.8 2241.3h4.4M794.7 2242.3h4.4M795.6 2268.5h4.4M796.5 2262h4.4M797.5 2254.4h4.4M798.4 2265.8h4.4M799.3 2254.4h4.4M800.2 2250.9h4.4M801.2 2253.5h4.4M802.1 2245.9h4.4M803 2277.5h4.4M803.9 2266.4h4.4M804.9 2229.3h4.4M805.8 2230.4h4.4M806.7 2247.7h4.4M807.6 2261.5h4.4M808.6 2257.3h4.4M809.5 2272.9h4.4M810.4 2267.1h4.4M811.3 2251.4h4.4M812.3 2247.2h4.4M813.2 2274.8h4.4M814.1 2263.3h4.4M815 2300.8h4.4M816 2271.1h4.4M816.9 2251.1h4.4M817.8 2247.7h4.4M818.7 2249.7h4.4M819.7 2248.4h4.4M820.6 2262.6h4.4M821.5 2265h4.4M822.4 2235.8h4.4M823.4 2289h4.4M824.3 2239.1h4.4M825.2 2242.6h4.4M826.1 2253.6h4.4M827.1 2252.3h4.4M828 2239.5h4.4M828.9 2250h4.4M829.8 2250.1h4.4M830.8 2234.9h4.4M831.7 2253.7h4.4M832.6 2235.8h4.4M833.6 2228.3h4.4M834.5 2249.3h4.4M835.4 2221.8h4.4M836.3 2239.6h4.4M837.3 2235.1h4.4M838.2 2232.8h4.4M839.1 2225.6h4.4M840 2219.2h4.4M841 2224.8h4.4M841.9 2229.7h4.4M842.8 2224.9h4.4M843.7 2227.2h4.4M844.7 2218.3h4.4M845.6 2213.1h4.4M846.5 2209.3h4.4M847.4 2214.9h4.4M848.4 2216.1h4.4M849.3 2216.6h4.4M850.2 2223.1h4.4M851.1 2233.6h4.4M852.1 2226.3h4.4M853 2201.7h4.4M853.9 2212.2h4.4M854.8 2217.5h4.4M855.8 2193.1h4.4M856.7 2223.5h4.4M857.6 2235.4h4.4M858.5 2225.1h4.4M859.5 2232.8h4.4M860.4 2240.6h4.4M861.3 2211.5h4.4M862.2 2223.5h4.4M863.2 2220.4h4.4M864.1 2261.3h4.4M865 2231.7h4.4M865.9 2243.1h4.4M866.9 2245.2h4.4M867.8 2265.5h4.4M868.7 2259.7h4.4M869.6 2240h4.4M870.6 2268.1h4.4M871.5 2256.4h4.4M872.4 2244.4h4.4M873.4 2280.5h4.4M874.3 2262.9h4.4M875.2 2254.9h4.4M876.1 2270h4.4M877.1 2271.6h4.4M878 2257.9h4.4M878.9 2268.4h4.4M879.8 2269.8h4.4M880.8 2220.8h4.4M881.7 2284.6h4.4M882.6 2268.1h4.4M883.5 2268.7h4.4M884.5 2265.7h4.4M885.4 2245.8h4.4M886.3 2251h4.4M887.2 2262.9h4.4M888.2 2261.8h4.4M889.1 2293.3h4.4M890 2264.8h4.4M890.9 2248.6h4.4M891.9 2272.5h4.4M892.8 2245.4h4.4M893.7 2276.7h4.4M894.6 2266.3h4.4M895.6 2256.8h4.4M896.5 2249.4h4.4M897.4 2252.2h4.4M898.3 2267.6h4.4M899.3 2241.6h4.4M900.2 2250.2h4.4M901.1 2250.8h4.4M902 2277h4.4M903 2255.7h4.4M903.9 2249.5h4.4M904.8 2236.3h4.4M905.7 2254.8h4.4M906.7 2269.2h4.4M907.6 2250.1h4.4M908.5 2236.8h4.4M909.4 2234.8h4.4M910.4 2225.1h4.4M911.3 2211h4.4M912.2 2221.2h4.4M913.2 2228.9h4.4M914.1 2226.4h4.4M915 2219.8h4.4M915.9 2209.3h4.4M916.9 2205.5h4.4M917.8 2210.6h4.4M918.7 2209.8h4.4M919.6 2212.4h4.4M920.6 2202h4.4M921.5 2214.2h4.4M922.4 2214.6h4.4M923.3 2209.5h4.4M924.3 2213.6h4.4M925.2 2196.1h4.4M926.1 2197.3h4.4M927 2193.6h4.4M928 2206.8h4.4M928.9 2245.1h4.4M929.8 2203.8h4.4M930.7 2249.4h4.4M931.7 2190.6h4.4M932.6 2212.4h4.4M933.5 2178h4.4M934.4 2220.5h4.4M935.4 2212.5h4.4M936.3 2215.9h4.4M937.2 2208.5h4.4M938.1 2205.9h4.4M939.1 2174.2h4.4M940 2223.4h4.4M940.9 2205.6h4.4M941.8 2229.1h4.4M942.8 2201.7h4.4M943.7 2197.8h4.4M944.6 2207.2h4.4M945.5 2224.4h4.4M946.5 2228.6h4.4M947.4 2219.8h4.4M948.3 2226h4.4M949.3 2215.1h4.4M950.2 2227.9h4.4M951.1 2225h4.4M952 2220.2h4.4M953 2234.1h4.4M953.9 2226.6h4.4M954.8 2232.1h4.4M955.7 2227.6h4.4M956.7 2239.9h4.4M957.6 2210.7h4.4M958.5 2231.6h4.4M959.4 2211.1h4.4M960.4 2228.4h4.4M961.3 2228.3h4.4M962.2 2238.6h4.4M963.1 2251.6h4.4M964.1 2249.3h4.4M965 2273.7h4.4M965.9 2247.6h4.4M966.8 2243.1h4.4M967.8 2251.2h4.4M968.7 2247.3h4.4M969.6 2239.4h4.4M970.5 2262.3h4.4M971.5 2265.4h4.4M972.4 2252.4h4.4M973.3 2252.3h4.4M974.2 2242.1h4.4M975.2 2251.2h4.4M976.1 2245.7h4.4M977 2256.8h4.4M977.9 2248h4.4M978.9 2239.1h4.4M979.8 2254.3h4.4M980.7 2253.6h4.4M981.6 2255.9h4.4M982.6 2241.4h4.4M983.5 2236.1h4.4M984.4 2229.7h4.4M985.3 2236.9h4.4M986.3 2223.6h4.4M987.2 2246.4h4.4M988.1 2235.2h4.4M989.1 2261.8h4.4M990 2240.9h4.4M990.9 2229.2h4.4M991.8 2211h4.4M992.8 2219.6h4.4M993.7 2239.5h4.4M994.6 2246.7h4.4M995.5 2244.4h4.4M996.5 2248.6h4.4M997.4 2232.9h4.4M998.3 2224.2h4.4M999.2 2198.1h4.4M1000.2 2213.9h4.4M1001.1 2202.6h4.4M1002 2205.1h4.4M1002.9 2222.2h4.4M1003.9 2218.2h4.4M1004.8 2214.4h4.4M1005.7 2185.7h4.4M1006.6 2228.3h4.4M1007.6 2210.1h4.4M1008.5 2215h4.4M1009.4 2190h4.4M1010.3 2230.5h4.4M1011.3 2225.7h4.4M1012.2 2230.6h4.4M1013.1 2217.9h4.4M1014 2199.1h4.4M1015 2222.6h4.4M1015.9 2211.8h4.4M1016.8 2224h4.4M1017.7 2229.4h4.4M1018.7 2227.7h4.4M1019.6 2239.6h4.4M1020.5 2247.4h4.4M1021.4 2227.1h4.4M1022.4 2265.6h4.4M1023.3 2234.2h4.4M1024.2 2219.8h4.4M1025.1 2209.6h4.4M1026.1 2242.7h4.4M1027 2233.7h4.4M1027.9 2242.2h4.4M1028.9 2193.1h4.4M1029.8 2249.5h4.4M1030.7 2242.6h4.4M1031.6 2223.7h4.4M1032.6 2242h4.4M1033.5 2238.2h4.4M1034.4 2247.8h4.4M1035.3 2246h4.4M1036.3 2266.8h4.4M1037.2 2230.9h4.4M1038.1 2244h4.4M1039 2253.9h4.4M1040 2249.4h4.4M1040.9 2246.4h4.4M1041.8 2258.6h4.4M1042.7 2265.8h4.4M1043.7 2257h4.4M1044.6 2239.8h4.4M1045.5 2230.8h4.4M1046.4 2270.8h4.4M1047.4 2246.2h4.4M1048.3 2238.9h4.4M1049.2 2254.9h4.4M1050.1 2265.3h4.4M1051.1 2244h4.4M1052 2247.5h4.4M1052.9 2261.3h4.4M1053.8 2247.7h4.4M1054.8 2244.3h4.4M1055.7 2251.5h4.4M1056.6 2256.6h4.4M1057.5 2255.1h4.4M1058.5 2239.1h4.4M1059.4 2247.2h4.4M1060.3 2228.9h4.4M1061.2 2243.8h4.4M1062.2 2237.5h4.4M1063.1 2239.7h4.4M1064 2258.6h4.4M1064.9 2243.3h4.4M1065.9 2249.1h4.4M1066.8 2214.9h4.4M1067.7 2255.8h4.4M1068.7 2247.5h4.4M1069.6 2237h4.4M1070.5 2222.9h4.4M1071.4 2229.8h4.4M1072.4 2238.3h4.4M1073.3 2206.3h4.4M1074.2 2216.8h4.4M1075.1 2230.5h4.4M1076.1 2251h4.4M1077 2235.2h4.4M1077.9 2242.9h4.4M1078.8 2204h4.4M1079.8 2234.4h4.4M1080.7 2233.1h4.4M1081.6 2210.4h4.4M1082.5 2219.1h4.4M1083.5 2236.7h4.4M1084.4 2221.9h4.4M1085.3 2210.5h4.4M1086.2 2230.4h4.4M1087.2 2233.1h4.4M1088.1 2233.8h4.4M1089 2230.9h4.4M1089.9 2229.7h4.4M1090.9 2218.2h4.4M1091.8 2234.1h4.4M1092.7 2239.7h4.4M1093.6 2233.2h4.4M1094.6 2234.3h4.4M1095.5 2232.7h4.4M1096.4 2272.3h4.4M1097.3 2232h4.4M1098.3 2242.1h4.4M1099.2 2251.5h4.4M1100.1 2252.9h4.4M1101 2263.4h4.4M1102 2247.2h4.4M1102.9 2253.9h4.4M1103.8 2253.3h4.4M1104.7 2262.5h4.4M1105.7 2250.6h4.4M1106.6 2260.9h4.4M1107.5 2270.5h4.4M1108.5 2270.3h4.4M1109.4 2274.1h4.4M1110.3 2276.6h4.4M1111.2 2299.5h4.4M1112.2 2281.6h4.4M1113.1 2312.4h4.4M1114 2284h4.4M1114.9 2268h4.4M1115.9 2265.4h4.4M1116.8 2294.3h4.4M1117.7 2280.5h4.4M1118.6 2270.5h4.4M1119.6 2292h4.4M1120.5 2275.6h4.4M1121.4 2280.8h4.4M1122.3 2271.7h4.4M1123.3 2290.7h4.4M1124.2 2290.7h4.4M1125.1 2275.4h4.4M1126 2297.3h4.4M1127 2288.3h4.4M1127.9 2279.7h4.4M1128.8 2288.4h4.4M1129.7 2327.3h4.4M1130.7 2271.8h4.4M1131.6 2284.9h4.4M1132.5 2308.3h4.4M1133.4 2276.8h4.4M1134.4 2275.3h4.4M1135.3 2273h4.4M1136.2 2265h4.4M1137.1 2268.6h4.4M1138.1 2270.2h4.4M1139 2277.3h4.4M1139.9 2298.6h4.4M1140.8 2317.8h4.4M1141.8 2271.4h4.4M1142.7 2267.2h4.4M1143.6 2270.3h4.4M1144.5 2263.3h4.4M1145.5 2267.2h4.4M1146.4 2262.5h4.4M1147.3 2251.4h4.4M1148.3 2245.2h4.4M1149.2 2259.7h4.4M1150.1 2269.2h4.4M1151 2253.1h4.4M1152 2282.8h4.4M1152.9 2301.3h4.4M1153.8 2267.9h4.4M1154.7 2268.2h4.4M1155.7 2271.7h4.4M1156.6 2260.1h4.4M1157.5 2263.3h4.4M1158.4 2252.1h4.4M1159.4 2254.9h4.4M1160.3 2240.2h4.4M1161.2 2258.3h4.4M1162.1 2238.8h4.4M1163.1 2248.6h4.4M1164 2240.9h4.4M1164.9 2251.7h4.4M1165.8 2256.5h4.4M1166.8 2253.4h4.4M1167.7 2236.3h4.4M1168.6 2248.5h4.4M1169.5 2255h4.4M1170.5 2258.6h4.4M1171.4 2257.7h4.4M1172.3 2275h4.4M1173.2 2268.9h4.4M1174.2 2275.6h4.4M1175.1 2265.2h4.4M1176 2284.7h4.4M1176.9 2293.5h4.4M1177.9 2288.1h4.4M1178.8 2295h4.4M1179.7 2282.9h4.4M1180.6 2275.2h4.4M1181.6 2298.1h4.4M1182.5 2284h4.4M1183.4 2282.1h4.4M1184.3 2298.2h4.4M1185.3 2291.4h4.4M1186.2 2252.7h4.4M1187.1 2259h4.4M1188.1 2293.8h4.4M1189 2301.4h4.4M1189.9 2297.3h4.4M1190.8 2299.5h4.4M1191.8 2299h4.4M1192.7 2310.8h4.4M1193.6 2309.8h4.4M1194.5 2302.9h4.4M1195.5 2318.2h4.4M1196.4 2309.5h4.4M1197.3 2319.6h4.4M1198.2 2311.4h4.4M1199.2 2303.1h4.4M1200.1 2304.8h4.4M1201 2313.4h4.4M1201.9 2309h4.4M1202.9 2320.2h4.4M1203.8 2301.5h4.4M1204.7 2315.3h4.4M1205.6 2327.4h4.4M1206.6 2303.3h4.4M1207.5 2304.6h4.4M1208.4 2296.2h4.4M1209.3 2288.1h4.4M1210.3 2288.6h4.4M1211.2 2296.1h4.4M1212.1 2298.3h4.4M1213 2305.6h4.4M1214 2327.5h4.4M1214.9 2303.4h4.4M1215.8 2279.5h4.4M1216.7 2318.8h4.4M1217.7 2250.6h4.4M1218.6 2306h4.4M1219.5 2296.5h4.4M1220.4 2306.3h4.4M1221.4 2290.1h4.4M1222.3 2277.8h4.4M1223.2 2287.1h4.4M1224.2 2279.8h4.4M1225.1 2275.6h4.4M1241.3 2281.6h4.4M1242.2 2252.9h4.4M1243.1 2275.1h4.4M1244.1 2283.1h4.4M1245 2274.4h4.4M1245.9 2279.2h4.4M1246.8 2302.8h4.4M1247.8 2266.8h4.4M1248.7 2294.3h4.4M1249.6 2288.8h4.4M1250.5 2328.1h4.4M1251.5 2290h4.4M1252.4 2293.1h4.4M1253.3 2280.2h4.4M1254.2 2283.1h4.4M1255.2 2303.7h4.4M1256.1 2288.6h4.4M1257 2272.8h4.4M1257.9 2309.3h4.4M1258.9 2310.5h4.4M1259.8 2300.1h4.4M1260.7 2290.3h4.4M1261.6 2312.1h4.4M1262.6 2288.6h4.4M1263.5 2299.5h4.4M1264.4 2321.6h4.4M1265.3 2312.5h4.4M1266.3 2301.6h4.4M1267.2 2313.8h4.4M1268.1 2317.3h4.4M1269 2324.2h4.4M1270 2317.5h4.4M1270.9 2323.6h4.4M1271.8 2321.9h4.4M1272.7 2322.4h4.4M1273.7 2331.3h4.4M1274.6 2312.1h4.4M1275.5 2312.8h4.4M1276.4 2344.5h4.4M1277.4 2328.9h4.4M1278.3 2312.9h4.4M1279.2 2324.9h4.4M1280.1 2311.5h4.4M1281.1 2332.8h4.4M1282 2318.1h4.4M1282.9 2329h4.4M1283.9 2314.5h4.4M1284.8 2318.4h4.4M1285.7 2313.1h4.4M1286.6 2323.9h4.4M1287.6 2319.9h4.4M1288.5 2315.8h4.4M1289.4 2310.2h4.4M1290.3 2309.2h4.4M1291.3 2318.3h4.4M1292.2 2300.7h4.4M1293.1 2307.1h4.4M1294 2303h4.4M1295 2298.4h4.4M1295.9 2275.6h4.4M1296.8 2278.9h4.4M1297.7 2289.7h4.4M1298.7 2290.7h4.4M1299.6 2294.2h4.4M1300.5 2316.7h4.4M1301.4 2281.5h4.4M1302.4 2289.5h4.4M1303.3 2303.1h4.4M1304.2 2280.3h4.4M1305.1 2306.7h4.4M1306.1 2290.8h4.4M1307 2282.7h4.4M1307.9 2294.5h4.4M1308.8 2292.2h4.4M1309.8 2296.9h4.4M1310.7 2274.5h4.4M1311.6 2300.4h4.4M1312.5 2309.2h4.4M1313.5 2284.5h4.4M1314.4 2271.9h4.4M1315.3 2264.4h4.4M1316.2 2289.3h4.4M1317.2 2283.9h4.4M1318.1 2287.5h4.4M1319 2279.5h4.4M1319.9 2282.4h4.4M1320.9 2272.1h4.4M1321.8 2311.2h4.4M1322.7 2287.4h4.4M1323.7 2289.1h4.4M1324.6 2309.6h4.4M1325.5 2305.2h4.4M1326.4 2273.8h4.4M1327.4 2290.7h4.4M1328.3 2293h4.4M1329.2 2301.5h4.4M1330.1 2297.1h4.4M1331.1 2310.1h4.4M1332 2344.5h4.4M1332.9 2304.8h4.4M1333.8 2313h4.4M1334.8 2318.7h4.4M1335.7 2322h4.4M1336.6 2303.1h4.4M1337.5 2319.2h4.4M1338.5 2319h4.4M1339.4 2309h4.4M1340.3 2336.5h4.4M1341.2 2330.2h4.4M1342.2 2280h4.4M1343.1 2306.5h4.4M1344 2323.3h4.4M1344.9 2303h4.4M1345.9 2314.4h4.4M1346.8 2308.5h4.4M1347.7 2337.2h4.4M1348.6 2336.7h4.4M1349.6 2313.4h4.4M1350.5 2312.5h4.4M1351.4 2331.2h4.4M1352.3 2332.9h4.4M1353.3 2324.8h4.4M1354.2 2336.3h4.4M1355.1 2308.6h4.4M1356 2327h4.4M1357 2306.3h4.4M1357.9 2331h4.4M1358.8 2321.8h4.4M1359.7 2309.4h4.4M1360.7 2329.1h4.4M1361.6 2301.8h4.4M1362.5 2358.5h4.4M1363.5 2332.2h4.4M1364.4 2294h4.4M1365.3 2318.5h4.4M1366.2 2298h4.4M1367.2 2301.8h4.4M1368.1 2336.7h4.4M1369 2315.4h4.4M1369.9 2314h4.4M1370.9 2317h4.4M1371.8 2299.6h4.4M1372.7 2285.3h4.4M1373.6 2283.7h4.4M1374.6 2293.2h4.4M1375.5 2292.4h4.4M1376.4 2296.1h4.4M1377.3 2278.6h4.4M1378.3 2290h4.4M1379.2 2295.1h4.4M1380.1 2277.5h4.4M1381 2298.3h4.4M1382 2279.5h4.4M1382.9 2258.4h4.4M1383.8 2280.8h4.4M1384.7 2296.7h4.4M1385.7 2300.3h4.4M1386.6 2285.5h4.4M1387.5 2287.4h4.4M1388.4 2280.5h4.4M1389.4 2284.7h4.4M1390.3 2291.2h4.4M1391.2 2326.6h4.4M1392.1 2285.8h4.4M1393.1 2271.8h4.4M1394 2308.7h4.4M1394.9 2293.5h4.4M1395.8 2280.9h4.4M1396.8 2286.7h4.4M1397.7 2283.1h4.4M1398.6 2289h4.4M1399.5 2299h4.4M1400.5 2309.3h4.4M1401.4 2297.3h4.4M1402.3 2303.1h4.4M1403.3 2313.3h4.4M1404.2 2306.6h4.4M1405.1 2318.5h4.4M1406 2298.3h4.4M1407 2310.7h4.4M1407.9 2304.6h4.4M1408.8 2301.2h4.4M1409.7 2331.5h4.4M1410.7 2324.1h4.4M1411.6 2319.5h4.4M1412.5 2322.2h4.4M1413.4 2314.4h4.4M1414.4 2318.7h4.4M1415.3 2316h4.4M1416.2 2334.7h4.4M1417.1 2313.3h4.4M1418.1 2340.5h4.4M1419 2337.7h4.4M1419.9 2333.1h4.4M1420.8 2341.2h4.4M1421.8 2339.1h4.4M1422.7 2314.2h4.4M1423.6 2336.2h4.4M1424.5 2344.4h4.4M1425.5 2390.2h4.4M1426.4 2370.3h4.4M1427.3 2356.1h4.4M1428.2 2345.9h4.4M1429.2 2361.4h4.4M1430.1 2335.4h4.4M1431 2328.6h4.4M1431.9 2323.5h4.4M1432.9 2338.4h4.4M1433.8 2339.4h4.4M1434.7 2338.6h4.4M1435.6 2336.1h4.4M1436.6 2339.3h4.4M1437.5 2337.4h4.4M1438.4 2352.3h4.4M1439.4 2336.7h4.4M1440.3 2301.3h4.4M1441.2 2324.6h4.4M1442.1 2311.1h4.4M1443.1 2338.8h4.4M1444 2337h4.4M1444.9 2332.5h4.4M1445.8 2329.4h4.4M1446.8 2332.2h4.4M1447.7 2338.7h4.4M1448.6 2319.6h4.4M1449.5 2319.4h4.4M1450.5 2339.1h4.4M1451.4 2328.7h4.4M1452.3 2319.1h4.4M1453.2 2322.1h4.4M1454.2 2319.8h4.4M1455.1 2308.9h4.4M1456 2314.4h4.4M1456.9 2317.2h4.4M1457.9 2305.8h4.4M1458.8 2282.4h4.4M1459.7 2324.7h4.4M1460.6 2312.1h4.4M1461.6 2286.9h4.4M1462.5 2307.1h4.4M1463.4 2316.2h4.4M1464.3 2303h4.4M1465.3 2317.6h4.4M1466.2 2260.8h4.4M1467.1 2299.6h4.4M1468 2301.2h4.4M1469 2301.9h4.4M1469.9 2308.3h4.4M1470.8 2330.1h4.4M1471.7 2339h4.4M1472.7 2310.6h4.4M1473.6 2324.5h4.4M1474.5 2296.2h4.4M1475.4 2309.9h4.4M1476.4 2325.6h4.4M1477.3 2311.3h4.4M1478.2 2318.4h4.4M1479.2 2315.4h4.4M1480.1 2335.3h4.4M1481 2319.2h4.4M1481.9 2319.2h4.4M1482.9 2304.9h4.4M1483.8 2326h4.4M1484.7 2313.2h4.4M1485.6 2323.6h4.4M1486.6 2315.9h4.4M1487.5 2322.7h4.4M1488.4 2328h4.4M1489.3 2314h4.4M1490.3 2336.9h4.4M1491.2 2359.2h4.4M1492.1 2332.8h4.4M1493 2321.8h4.4M1494 2348h4.4M1494.9 2349h4.4M1495.8 2343.1h4.4M1496.7 2336.1h4.4M1497.7 2328h4.4M1498.6 2362.6h4.4M1499.5 2347.9h4.4M1500.4 2361.1h4.4M1501.4 2338.4h4.4M1502.3 2355.8h4.4M1503.2 2353.3h4.4M1504.1 2370.2h4.4M1505.1 2331.8h4.4M1506 2364.3h4.4M1506.9 2378.1h4.4M1507.8 2369.5h4.4M1508.8 2356.9h4.4M1509.7 2364.9h4.4M1510.6 2340.2h4.4M1511.5 2367.5h4.4M1512.5 2344.4h4.4M1513.4 2356.4h4.4M1514.3 2350.6h4.4M1515.2 2356.1h4.4M1516.2 2359.9h4.4M1517.1 2366.3h4.4M1518 2349.5h4.4M1519 2360.6h4.4M1519.9 2353.3h4.4M1520.8 2352.4h4.4M1521.7 2357.8h4.4M1522.7 2348.6h4.4M1523.6 2347.1h4.4M1524.5 2342.5h4.4M1525.4 2343.1h4.4M1526.4 2310.4h4.4M1527.3 2325.3h4.4M1528.2 2343.3h4.4M1529.1 2350.4h4.4M1530.1 2336.3h4.4M1531 2338.5h4.4M1531.9 2342.5h4.4M1532.8 2313h4.4M1533.8 2325.7h4.4M1534.7 2324.9h4.4M1535.6 2310.7h4.4M1536.5 2369.9h4.4M1537.5 2331h4.4M1538.4 2322.4h4.4M1539.3 2321.7h4.4M1540.2 2322.2h4.4M1541.2 2355.6h4.4M1542.1 2283.5h4.4M1543 2315.9h4.4M1543.9 2326.3h4.4M1544.9 2307.4h4.4M1545.8 2332.1h4.4M1546.7 2321h4.4M1547.6 2334.5h4.4M1548.6 2325.4h4.4M1549.5 2327.7h4.4M1550.4 2322.3h4.4M1551.3 2320.8h4.4M1552.3 2312.2h4.4M1553.2 2300h4.4M1554.1 2313.6h4.4M1555 2324.8h4.4M1556 2325.2h4.4M1556.9 2322.4h4.4M1557.8 2320.2h4.4M1558.8 2329.1h4.4M1559.7 2350.4h4.4M1560.6 2347.9h4.4M1561.5 2327.7h4.4M1562.5 2334.7h4.4M1563.4 2332.4h4.4M1564.3 2346.2h4.4M1565.2 2358.3h4.4M1566.2 2369.3h4.4M1567.1 2364h4.4M1568 2351.9h4.4M1568.9 2328.3h4.4M1569.9 2335.9h4.4M1570.8 2351.6h4.4M1571.7 2384.1h4.4M1572.6 2354.4h4.4M1573.6 2364.4h4.4M1574.5 2370.3h4.4M1575.4 2374.9h4.4M1576.3 2391.1h4.4M1577.3 2356h4.4M1578.2 2370.7h4.4M1579.1 2398h4.4M1580 2362.3h4.4M1581 2371.9h4.4M1581.9 2373.7h4.4M1582.8 2367.2h4.4M1583.7 2342.3h4.4M1584.7 2358.6h4.4M1585.6 2352.8h4.4M1586.5 2342.8h4.4M1587.4 2355.3h4.4M1588.4 2388.7h4.4M1589.3 2357.8h4.4M1590.2 2338.4h4.4M1591.1 2366.9h4.4M1592.1 2332.5h4.4M1593 2348.9h4.4M1593.9 2340.3h4.4M1594.8 2346.7h4.4M1595.8 2351.5h4.4M1596.7 2352.6h4.4M1597.6 2363.6h4.4M1598.6 2361.3h4.4M1599.5 2352.3h4.4M1600.4 2360.1h4.4M1601.3 2351.1h4.4M1602.3 2351.1h4.4M1603.2 2346.2h4.4M1604.1 2347.7h4.4M1605 2328.2h4.4M1606 2354.6h4.4M1606.9 2312.4h4.4M1607.8 2350.2h4.4M1608.7 2379.4h4.4M1609.7 2330.5h4.4M1610.6 2326.8h4.4M1611.5 2318.2h4.4M1612.4 2336.8h4.4M1613.4 2336.3h4.4M1614.3 2337.1h4.4M1615.2 2320.4h4.4M1616.1 2315.4h4.4M1617.1 2324.5h4.4M1618 2321.2h4.4M1618.9 2318.3h4.4M1619.8 2316.6h4.4M1620.8 2315.1h4.4M1621.7 2358.1h4.4M1622.6 2325.9h4.4M1623.5 2313.9h4.4M1624.5 2336.4h4.4M1625.4 2325.8h4.4M1626.3 2313.9h4.4M1627.2 2324.5h4.4M1628.2 2321.9h4.4M1629.1 2320.9h4.4M1630 2315.2h4.4M1630.9 2317.6h4.4M1631.9 2335.9h4.4M1632.8 2326.1h4.4M1633.7 2372.8h4.4M1634.6 2341.5h4.4M1635.6 2316h4.4M1636.5 2341.8h4.4M1637.4 2314.3h4.4M1638.4 2321.6h4.4M1639.3 2344.1h4.4M1640.2 2342h4.4M1641.1 2351.1h4.4M1642.1 2382.6h4.4M1643 2349.9h4.4M1643.9 2359.7h4.4M1644.8 2349.5h4.4M1645.8 2358.3h4.4M1646.7 2357.9h4.4M1647.6 2373h4.4M1648.5 2349.2h4.4M1649.5 2355h4.4M1650.4 2364.1h4.4M1651.3 2374.3h4.4M1652.2 2362.3h4.4M1653.2 2355.3h4.4M1654.1 2357.4h4.4M1655 2371.3h4.4M1655.9 2354.2h4.4M1656.9 2356.2h4.4M1657.8 2352.2h4.4M1658.7 2381.9h4.4M1659.6 2358.2h4.4M1660.6 2358.4h4.4M1661.5 2352.4h4.4M1662.4 2359.5h4.4M1663.3 2365.9h4.4M1664.3 2365.7h4.4M1665.2 2365.1h4.4M1666.1 2359.3h4.4M1667 2374.4h4.4M1668 2378h4.4M1668.9 2379.9h4.4M1669.8 2387.4h4.4M1670.7 2348.7h4.4M1671.7 2354.6h4.4M1672.6 2350.5h4.4M1673.5 2353.4h4.4M1674.4 2369.6h4.4M1675.4 2314.7h4.4M1676.3 2362.8h4.4M1677.2 2359.6h4.4M1678.2 2364h4.4M1679.1 2348h4.4M1680 2363.8h4.4M1680.9 2334.5h4.4M1681.9 2356.1h4.4M1682.8 2332.6h4.4M1683.7 2326.8h4.4M1684.6 2325.6h4.4M1685.6 2345.3h4.4M1686.5 2337.5h4.4M1687.4 2316.9h4.4M1688.3 2323.9h4.4M1689.3 2343.3h4.4M1690.2 2329.7h4.4M1691.1 2336.4h4.4M1692 2335.1h4.4M1693 2306.6h4.4M1693.9 2305.5h4.4M1694.8 2308.4h4.4M1695.7 2324.8h4.4M1696.7 2368.3h4.4M1697.6 2331.2h4.4M1698.5 2323.1h4.4M1699.4 2338h4.4M1700.4 2342.3h4.4M1701.3 2319.8h4.4M1702.2 2317.1h4.4M1703.1 2326.8h4.4M1704.1 2328.8h4.4M1705 2321.1h4.4M1705.9 2332.9h4.4M1706.8 2304.9h4.4M1707.8 2333.2h4.4M1708.7 2298h4.4M1709.6 2339.9h4.4M1710.5 2302.4h4.4M1711.5 2319.4h4.4M1712.4 2332h4.4M1713.3 2335.6h4.4M1714.3 2339h4.4M1715.2 2326.2h4.4M1716.1 2330.7h4.4M1717 2347.9h4.4M1718 2333.2h4.4M1718.9 2336.8h4.4M1719.8 2343h4.4M1720.7 2355.6h4.4M1721.7 2354h4.4M1722.6 2360.9h4.4M1723.5 2369.7h4.4M1724.4 2374.7h4.4M1725.4 2349.7h4.4M1726.3 2345.5h4.4M1727.2 2366.2h4.4M1728.1 2360.8h4.4M1729.1 2376.2h4.4M1730 2364.4h4.4M1730.9 2362.9h4.4M1731.8 2375h4.4M1732.8 2356.7h4.4M1733.7 2378.8h4.4M1734.6 2374.2h4.4M1735.5 2360.9h4.4M1736.5 2366.8h4.4M1737.4 2363.3h4.4M1738.3 2367.3h4.4M1739.2 2372.5h4.4M1740.2 2364.2h4.4M1741.1 2386h4.4M1742 2348.1h4.4M1742.9 2387.8h4.4M1743.9 2367.1h4.4M1744.8 2364.2h4.4M1745.7 2352.6h4.4M1746.6 2339.3h4.4M1747.6 2377.8h4.4M1748.5 2356.5h4.4M1749.4 2353.4h4.4M1750.3 2371.5h4.4M1751.3 2361.7h4.4M1752.2 2360.8h4.4M1753.1 2376.2h4.4M1754.1 2367.6h4.4M1755 2354.1h4.4M1755.9 2308.8h4.4M1756.8 2339h4.4M1757.8 2357.9h4.4M1758.7 2344.8h4.4M1759.6 2355.6h4.4M1760.5 2331.5h4.4M1761.5 2340.4h4.4M1762.4 2336h4.4M1763.3 2353.4h4.4M1764.2 2328h4.4M1765.2 2336h4.4M1766.1 2310.9h4.4M1767 2338.7h4.4M1767.9 2352.8h4.4M1768.9 2348.6h4.4M1769.8 2337.3h4.4M1770.7 2324.8h4.4M1771.6 2320.4h4.4M1772.6 2304.8h4.4M1773.5 2315.4h4.4M1774.4 2315.8h4.4M1775.3 2342.3h4.4M1776.3 2320.7h4.4M1777.2 2325.9h4.4M1778.1 2332.1h4.4M1779 2325.4h4.4M1780 2330.2h4.4M1780.9 2330.8h4.4M1781.8 2312.6h4.4M1782.7 2342.7h4.4M1783.7 2347.2h4.4M1784.6 2346.7h4.4M1785.5 2344h4.4M1786.4 2321.7h4.4M1787.4 2348.9h4.4M1788.3 2333.6h4.4M1789.2 2350h4.4M1790.1 2348.9h4.4M1791.1 2351.5h4.4M1792 2347.6h4.4M1792.9 2345.4h4.4M1793.9 2346.2h4.4M1794.8 2348.9h4.4M1795.7 2369.8h4.4M1796.6 2342.1h4.4M1797.6 2355.9h4.4M1798.5 2375.2h4.4M1799.4 2357.3h4.4M1800.3 2371.9h4.4M1801.3 2349.5h4.4M1802.2 2360.3h4.4M1803.1 2347.7h4.4M1804 2365.9h4.4M1805 2356.9h4.4M1805.9 2364.3h4.4M1806.8 2367.4h4.4M1807.7 2382.4h4.4M1808.7 2393.7h4.4M1809.6 2350.6h4.4M1810.5 2385h4.4M1811.4 2365.3h4.4M1812.4 2385.2h4.4M1813.3 2389.4h4.4M1814.2 2408.7h4.4M1815.1 2383h4.4M1816.1 2394.4h4.4M1817 2385.8h4.4M1817.9 2371.7h4.4M1818.8 2343.6h4.4M1819.8 2395.7h4.4M1820.7 2379.9h4.4M1821.6 2389h4.4M1822.5 2376.7h4.4M1823.5 2353.1h4.4M1824.4 2374.1h4.4M1825.3 2363.3h4.4M1826.2 2364.8h4.4M1827.2 2361.1h4.4M1828.1 2343.6h4.4M1829 2347.2h4.4M1829.9 2341.3h4.4M1830.9 2374.4h4.4M1831.8 2367.3h4.4M1832.7 2366.8h4.4M1833.7 2349.5h4.4M1834.6 2357h4.4M1835.5 2358.1h4.4M1836.4 2342.2h4.4M1837.4 2349.5h4.4M1838.3 2344.8h4.4M1839.2 2320.8h4.4M1840.1 2362.9h4.4M1841.1 2311.2h4.4M1842 2326.5h4.4M1842.9 2372.7h4.4M1843.8 2347.9h4.4M1844.8 2332.5h4.4M1845.7 2352.4h4.4M1846.6 2336h4.4M1847.5 2341.8h4.4M1848.5 2316.3h4.4M1849.4 2341h4.4M1850.3 2344.8h4.4M1851.2 2336.4h4.4M1852.2 2336.4h4.4M1853.1 2337.3h4.4M1854 2326.6h4.4M1854.9 2307.7h4.4M1855.9 2339.5h4.4M1856.8 2325h4.4M1857.7 2325.8h4.4M1858.6 2338.6h4.4M1859.6 2337.1h4.4M1860.5 2334.5h4.4M1861.4 2356.5h4.4M1862.3 2351.2h4.4M1863.3 2337h4.4M1864.2 2332.4h4.4M1865.1 2340.9h4.4M1866 2335.4h4.4M1867 2335.1h4.4M1867.9 2364.1h4.4M1868.8 2352.4h4.4M1869.7 2311h4.4M1870.7 2341h4.4M1871.6 2381.6h4.4M1872.5 2349.9h4.4M1873.5 2366.4h4.4M1874.4 2354.1h4.4M1875.3 2366.3h4.4M1876.2 2342.1h4.4M1877.2 2358.6h4.4M1878.1 2373.1h4.4M1879 2352.1h4.4M1879.9 2369.1h4.4M1880.9 2362.5h4.4M1881.8 2351h4.4M1882.7 2363.7h4.4M1883.6 2364.7h4.4M1884.6 2374.1h4.4M1885.5 2366.9h4.4M1886.4 2361.3h4.4M1887.3 2374.7h4.4M1888.3 2375.8h4.4M1889.2 2371.4h4.4M1890.1 2382.9h4.4M1891 2368.2h4.4M1892 2376.6h4.4M1892.9 2375.1h4.4M1893.8 2387.2h4.4M1894.7 2373.2h4.4M1895.7 2392.4h4.4M1896.6 2376.5h4.4M1897.5 2364.4h4.4M1898.4 2379h4.4M1899.4 2343.8h4.4M1900.3 2377.6h4.4M1901.2 2354.8h4.4M1902.1 2340h4.4M1903.1 2368.8h4.4M1904 2357.2h4.4M1904.9 2363.5h4.4M1905.8 2354.2h4.4M1906.8 2353h4.4M1907.7 2359h4.4M1908.6 2348.9h4.4M1909.5 2350.5h4.4M1910.5 2367.8h4.4M1911.4 2330.5h4.4M1912.3 2360.3h4.4M1913.3 2367h4.4M1914.2 2366.6h4.4M1915.1 2354.2h4.4M1916 2351h4.4M1917 2384.1h4.4M1917.9 2337.8h4.4M1918.8 2335.8h4.4M1919.7 2332.2h4.4M1920.7 2328.7h4.4M1921.6 2345.4h4.4M1922.5 2338h4.4M1923.4 2351.1h4.4M1924.4 2357.3h4.4M1925.3 2367.2h4.4M1926.2 2341.4h4.4M1927.1 2347.5h4.4M1928.1 2335.4h4.4M1929 2339.8h4.4M1929.9 2340.5h4.4M1930.8 2302.8h4.4M1931.8 2351.8h4.4M1932.7 2340.7h4.4M1933.6 2329.2h4.4M1934.5 2331.5h4.4M1935.5 2355.3h4.4M1936.4 2334h4.4M1937.3 2355.7h4.4M1938.2 2346.5h4.4M1939.2 2335.9h4.4M1940.1 2338.2h4.4M1941 2340.1h4.4M1941.9 2344.5h4.4M1942.9 2302.7h4.4M1943.8 2345.9h4.4M1944.7 2336.1h4.4M1945.6 2353.7h4.4M1946.6 2364.3h4.4M1947.5 2355.4h4.4M1948.4 2361.6h4.4M1949.4 2370.7h4.4M1950.3 2359.6h4.4M1951.2 2364.8h4.4M1952.1 2361.2h4.4M1953.1 2370.1h4.4M1954 2363.3h4.4M1954.9 2389.5h4.4M1955.8 2369.5h4.4M1956.8 2373.2h4.4M1957.7 2380.6h4.4M1958.6 2405.3h4.4M1959.5 2391.1h4.4M1960.5 2380.2h4.4M1961.4 2397.4h4.4M1962.3 2389.3h4.4M1963.2 2388.8h4.4M1964.2 2402.3h4.4M1965.1 2394.6h4.4M1966 2399.4h4.4M1966.9 2401.1h4.4M1967.9 2399.8h4.4M1968.8 2391.6h4.4M1969.7 2391.6h4.4M1970.6 2391.5h4.4M1971.6 2387.4h4.4M1972.5 2413h4.4M1973.4 2398.1h4.4M1974.3 2395.1h4.4M1975.3 2356.2h4.4M1976.2 2389.4h4.4M1977.1 2373.5h4.4M1978 2385.1h4.4M1979 2375h4.4M1979.9 2370h4.4M1980.8 2375.1h4.4M1981.7 2373h4.4M1982.7 2379h4.4M1983.6 2359.6h4.4M1984.5 2372.3h4.4M1985.4 2342.2h4.4M1986.4 2351.9h4.4M1987.3 2356.9h4.4M1988.2 2360.3h4.4M1989.2 2353.7h4.4M1990.1 2353.4h4.4M1991 2356.2h4.4M1991.9 2344.1h4.4M1992.9 2340.5h4.4M1993.8 2334.6h4.4M1994.7 2344.9h4.4M1995.6 2335.2h4.4M1996.6 2365.7h4.4M1997.5 2335.6h4.4M1998.4 2336.4h4.4M1999.3 2373.2h4.4M2000.3 2340.1h4.4M2001.2 2349.2h4.4M2002.1 2340.3h4.4M2003 2354.9h4.4M2004 2326h4.4M2004.9 2348.4h4.4M2005.8 2352.3h4.4M2006.7 2355.1h4.4M2007.7 2341.6h4.4M2008.6 2347h4.4M2009.5 2336.2h4.4M2010.4 2326.2h4.4M2011.4 2344h4.4M2012.3 2310.6h4.4M2013.2 2334.5h4.4M2014.1 2349.8h4.4M2015.1 2344h4.4M2016 2351.5h4.4M2016.9 2357.5h4.4M2017.8 2357.4h4.4M2018.8 2361.6h4.4M2019.7 2368h4.4M2020.6 2392.1h4.4M2021.5 2361.7h4.4M2022.5 2354.7h4.4M2023.4 2359.7h4.4M2024.3 2374.7h4.4M2025.2 2374.1h4.4M2026.2 2367.6h4.4M2027.1 2356h4.4M2028 2344.7h4.4M2029 2364h4.4M2029.9 2356.9h4.4M2030.8 2365.3h4.4M2031.7 2378.4h4.4M2032.7 2371.5h4.4M2033.6 2370.3h4.4M2034.5 2347.1h4.4M2035.4 2361.8h4.4M2036.4 2354.3h4.4M2037.3 2370.2h4.4M2038.2 2361.1h4.4M2039.1 2353.9h4.4M2040.1 2360.8h4.4M2041 2367.4h4.4M2041.9 2370.7h4.4M2042.8 2352h4.4M2043.8 2381.8h4.4M2044.7 2388.5h4.4M2045.6 2360.2h4.4M2046.5 2368.8h4.4M2047.5 2364.3h4.4M2048.4 2370.4h4.4M2049.3 2351.6h4.4M2050.2 2335.6h4.4M2051.2 2349.4h4.4M2052.1 2356.4h4.4M2053 2360.3h4.4M2053.9 2353.2h4.4M2054.9 2354h4.4M2055.8 2367.6h4.4M2056.7 2365.7h4.4M2057.6 2374h4.4M2058.6 2368.1h4.4M2059.5 2367.1h4.4M2060.4 2372.8h4.4M2061.3 2355.2h4.4M2062.3 2376.1h4.4M2063.2 2360.2h4.4M2064.1 2358.3h4.4M2065 2354h4.4M2066 2331.9h4.4M2066.9 2351.2h4.4M2067.8 2362.9h4.4M2068.8 2347.1h4.4M2069.7 2356.5h4.4M2070.6 2347.4h4.4M2071.5 2340h4.4M2072.5 2324.8h4.4M2073.4 2336h4.4M2074.3 2330.5h4.4M2075.2 2325.4h4.4M2076.2 2315.8h4.4M2077.1 2320.8h4.4M2078 2312.5h4.4M2078.9 2332.5h4.4M2079.9 2330.5h4.4M2080.8 2328h4.4M2081.7 2335.3h4.4M2082.6 2327.2h4.4M2083.6 2337.2h4.4M2084.5 2336.4h4.4M2085.4 2338.8h4.4M2086.3 2324.6h4.4M2087.3 2337.1h4.4M2088.2 2331.8h4.4M2089.1 2331.1h4.4M2090 2340h4.4M2091 2315.6h4.4M2091.9 2338.5h4.4M2092.8 2340.9h4.4M2093.7 2340.4h4.4M2094.7 2331.8h4.4M2095.6 2333.7h4.4M2096.5 2346.2h4.4M2097.4 2362.3h4.4M2098.4 2354.2h4.4M2099.3 2369.7h4.4M2100.2 2372.2h4.4M2101.1 2373.1h4.4M2102.1 2366.3h4.4M2103 2373.6h4.4M2103.9 2336.2h4.4M2104.8 2337.3h4.4M2105.8 2375.8h4.4M2106.7 2358.5h4.4M2107.6 2369h4.4M2108.6 2364.9h4.4M2109.5 2363h4.4M2110.4 2346.9h4.4M2111.3 2369.5h4.4M2112.3 2389.9h4.4M2113.2 2383.7h4.4M2114.1 2384.7h4.4M2115 2371.5h4.4M2116 2376.8h4.4M2116.9 2379.1h4.4M2117.8 2376.2h4.4M2118.7 2375.4h4.4M2119.7 2363.7h4.4M2120.6 2387.2h4.4M2121.5 2384.1h4.4M2122.4 2361.2h4.4M2123.4 2371.8h4.4M2124.3 2383.9h4.4M2125.2 2361.8h4.4M2126.1 2373.4h4.4M2127.1 2356.5h4.4M2128 2343.3h4.4M2128.9 2363.3h4.4M2129.8 2378.2h4.4M2130.8 2359.8h4.4M2131.7 2373h4.4M2132.6 2373.7h4.4M2133.5 2371.7h4.4M2134.5 2380.5h4.4M2135.4 2364.6h4.4M2136.3 2367.9h4.4M2137.2 2355.4h4.4M2138.2 2341.8h4.4M2139.1 2382.6h4.4M2140 2358.7h4.4M2140.9 2339.8h4.4M2141.9 2360.3h4.4M2142.8 2352h4.4M2143.7 2350.3h4.4M2144.6 2342.7h4.4M2145.6 2338.5h4.4M2146.5 2343.4h4.4M2147.4 2337.2h4.4M2148.4 2360.9h4.4M2149.3 2341.1h4.4M2150.2 2350.3h4.4M2151.1 2351.5h4.4M2152.1 2344.8h4.4M2153 2350h4.4M2153.9 2360.9h4.4M2154.8 2330.8h4.4M2155.8 2346h4.4M2156.7 2349.1h4.4M2157.6 2338.3h4.4M2158.5 2336.8h4.4M2159.5 2333.5h4.4M2160.4 2350.7h4.4M2161.3 2371.8h4.4M2162.2 2357h4.4M2163.2 2332.4h4.4M2164.1 2348.3h4.4M2165 2331h4.4M2165.9 2360.6h4.4M2166.9 2339.2h4.4M2167.8 2333.7h4.4M2168.7 2340.4h4.4M2169.6 2343.8h4.4M2170.6 2325.8h4.4M2171.5 2351.2h4.4M2172.4 2336.4h4.4M2173.3 2328.9h4.4M2174.3 2343.4h4.4M2175.2 2358.2h4.4M2176.1 2362.1h4.4M2177 2359.1h4.4M2178 2355.8h4.4M2178.9 2367.7h4.4M2179.8 2357.7h4.4M2180.7 2361.2h4.4M2181.7 2364.5h4.4M2182.6 2359.2h4.4M2183.5 2355.4h4.4M2184.4 2363.8h4.4M2185.4 2369.7h4.4M2186.3 2375h4.4M2187.2 2372.1h4.4M2188.2 2356.3h4.4M2189.1 2357.7h4.4M2190 2371.9h4.4M2190.9 2371.5h4.4M2191.9 2371.8h4.4M2192.8 2397.4h4.4M2193.7 2372.5h4.4M2194.6 2376.3h4.4M2195.6 2368.6h4.4M2196.5 2373.1h4.4M2197.4 2365h4.4M2198.3 2375.1h4.4M2199.3 2359.1h4.4M2200.2 2375.8h4.4M2201.1 2356.2h4.4M2202 2374.3h4.4M2203 2368.2h4.4M2203.9 2370.1h4.4M2204.8 2372.1h4.4M2205.7 2390.4h4.4M2206.7 2361.7h4.4M2207.6 2371.6h4.4M2208.5 2366.1h4.4M2209.4 2379.9h4.4M2210.4 2371h4.4M2211.3 2368.5h4.4M2212.2 2358.9h4.4M2213.1 2381.8h4.4M2214.1 2371.1h4.4M2215 2361.8h4.4M2215.9 2366.7h4.4M2216.8 2376.5h4.4M2217.8 2376.3h4.4M2218.7 2363h4.4M2219.6 2359h4.4M2220.5 2373.3h4.4M2221.5 2368.6h4.4M2222.4 2359.2h4.4M2223.3 2363.2h4.4M2224.3 2352.3h4.4M2225.2 2358.8h4.4M2226.1 2356.1h4.4M2227 2316.9h4.4M2228 2351.6h4.4M2228.9 2349.5h4.4M2229.8 2335.2h4.4M2230.7 2334.6h4.4M2231.7 2345.5h4.4M2232.6 2340.9h4.4M2233.5 2354.5h4.4M2234.4 2328.6h4.4M2235.4 2345.4h4.4M2236.3 2335h4.4M2237.2 2351h4.4M2238.1 2358.1h4.4M2239.1 2352.7h4.4M2240 2362.2h4.4M2240.9 2350.9h4.4M2241.8 2356.1h4.4M2242.8 2356.2h4.4M2243.7 2361.2h4.4M2244.6 2364h4.4M2245.5 2354.1h4.4M2246.5 2340.2h4.4M2247.4 2337.4h4.4M2248.3 2339.2h4.4M2249.2 2364.9h4.4M2250.2 2361.6h4.4M2251.1 2367.1h4.4M2252 2379.9h4.4M2252.9 2361.9h4.4M2253.9 2393.8h4.4M2254.8 2351.4h4.4M2255.7 2350.2h4.4M2256.6 2347.9h4.4M2257.6 2362.3h4.4M2258.5 2368.6h4.4M2259.4 2395h4.4M2260.3 2379.3h4.4M2261.3 2387.7h4.4M2262.2 2358.2h4.4M2263.1 2363.9h4.4M2264.1 2379.6h4.4M2265 2356h4.4M2265.9 2394.7h4.4M2266.8 2372.6h4.4M2267.8 2369.2h4.4M2268.7 2376.5h4.4M2269.6 2386.5h4.4M2270.5 2374.3h4.4M2271.5 2379.1h4.4M2272.4 2375.9h4.4M2273.3 2368.5h4.4M2274.2 2387.6h4.4M2275.2 2398.1h4.4M2276.1 2380.6h4.4M2277 2372.6h4.4M2277.9 2387.9h4.4M2278.9 2388.9h4.4M2279.8 2387.8h4.4M2280.7 2381.9h4.4M2281.6 2378.9h4.4M2282.6 2384.7h4.4M2283.5 2383h4.4M2284.4 2384.8h4.4M2285.3 2383.8h4.4M2286.3 2379.1h4.4M2287.2 2372.9h4.4M2288.1 2386.6h4.4M2289 2376.1h4.4M2290 2385.2h4.4M2290.9 2347.3h4.4M2291.8 2343.7h4.4M2292.7 2360.5h4.4M2293.7 2359.2h4.4M2294.6 2363.7h4.4M2295.5 2369.7h4.4M2296.4 2362.7h4.4M2297.4 2367.5h4.4M2298.3 2375h4.4M2299.2 2374.9h4.4M2300.1 2364.9h4.4M2301.1 2351h4.4M2302 2381.1h4.4M2302.9 2390.7h4.4M2303.9 2359.2h4.4M2304.8 2359.7h4.4M2305.7 2347.4h4.4M2306.6 2341.4h4.4M2307.6 2358.7h4.4M2308.5 2341.6h4.4M2309.4 2343.8h4.4M2310.3 2356h4.4M2311.3 2344.5h4.4M2312.2 2344.9h4.4M2313.1 2352.2h4.4M2314 2352.4h4.4M2315 2348h4.4M2315.9 2353.6h4.4M2316.8 2351.6h4.4M2317.7 2345.2h4.4M2318.7 2333.6h4.4M2319.6 2343.1h4.4M2320.5 2350.7h4.4M2321.4 2348h4.4M2322.4 2385.7h4.4M2323.3 2326.8h4.4M2324.2 2346.3h4.4M2325.1 2359.1h4.4M2326.1 2370.7h4.4M2327 2357.1h4.4M2327.9 2361.9h4.4M2328.8 2351h4.4M2329.8 2377.2h4.4M2330.7 2350.8h4.4M2331.6 2358.6h4.4M2332.5 2378.2h4.4M2333.5 2378.5h4.4M2334.4 2369.4h4.4M2335.3 2395.4h4.4M2336.2 2393.8h4.4M2337.2 2378h4.4M2338.1 2384.2h4.4M2339 2375.5h4.4M2339.9 2395.4h4.4M2340.9 2401.9h4.4M2341.8 2353.4h4.4M2342.7 2376.8h4.4M2343.7 2360.2h4.4M2344.6 2398.9h4.4M2345.5 2382.3h4.4M2346.4 2370.2h4.4M2347.4 2380.3h4.4M2348.3 2392.3h4.4M2349.2 2382.4h4.4M2350.1 2387.9h4.4M2351.1 2385.4h4.4M2352 2395.5h4.4M2352.9 2377h4.4M2353.8 2383.7h4.4M2354.8 2384.1h4.4" stroke="#000" stroke-width="4.4"/>
<rect x="276.2" y="2293.4" width="6" height="6" fill="#222"/>
<rect x="391.4" y="2252.7" width="6" height="6" fill="#222"/>
<rect x="499.0" y="2276.7" width="6" height="6" fill="#e00"/>
<path d="M210 2280.1l868.2-49.4" stroke="#7a1c1c" stroke-width="4" fill="none"/>
<path d="M1120.5 2254.9l113.7 40.8" stroke="#7a1c1c" stroke-width="4" fill="none" stroke-dasharray="14 8"/>
<path d="M1254.9 2309.4l261.3 29.6" stroke="#7a1c1c" stroke-width="4" fill="none" stroke-dasharray="14 8"/>
<path d="M1516.2 2345l922 23.1" stroke="#0000ff" stroke-width="4.5" fill="none"/>
<path d="M210 2293l.9-.8 .9-.8 .9-.9 .9-.9 .9-1 .8-1.1 .9-1.1 .9-1.1 .9-1.1 .9-1.2 .9-1.2 .9-1.2 .9-1.2 .9-1.2 .9-1.2 .9-1.2 .9-1.2 .8-1.2 .9-1.1 .9-1.1 .9-1 .9-1 .9-.9 .9-.9 .9-.8 .9-.8 .9-.7 .9-.6 .9-.5 .8-.5 .9-.4 .9-.3 .9-.2 .9-.1 .9-.1 .9 .1 .9 .1 .9 .2 .9 .3 .9 .3 .9 .5 .8 .5 .9 .6 .9 .6 .9 .8 .9 .8 .9 .8 .9 .9 .9 .9 .9 1 .9 1 .9 1.1 .9 1.1 .8 1 .9 1.2 .9 1.1 .9 1.1 .9 1.1 .9 1.1 .9 1 .9 1.1 .9 1 .9 1 .9 .9 .9 .9 .8 .9 .9 .8 .9 .7 .9 .7 .9 .5 .9 .6 .9 .4 .9 .4 .9 .3 .9 .2 .9 .1 .9 0 .8 0 .9-.1 .9-.3 .9-.3 .9-.3 .9-.5 .9-.5 .9-.7 .9-.6 .9-.8 .9-.8 .9-.9 .8-.9 .9-1 .9-1.1 .9-1 .9-1.2 .9-1.1 .9-1.2 .9-1.2 .9-1.2 .9-1.2 .9-1.2 .9-1.2 .8-1.2 .9-1.2 .9-1.1 .9-1.2 .9-1 .9-1.1 .9-1 .9-.9 .9-.9 .9-.9 .9-.7 .9-.7 .8-.7 .9-.5 .9-.5 .9-.4 .9-.3 .9-.2 .9-.2 .9 0 .9 0 .9 .1 .9 .2 .9 .2 .8 .4 .9 .4 .9 .5 .9 .6 .9 .7 .9 .7 .9 .7 .9 .9 .9 .9 .9 .9 .9 1 .9 1 .8 1 .9 1.1 .9 1.1 .9 1.1 .9 1.1 .9 1.1 .9 1.1 .9 1.1 .9 1.1 .9 1 .9 1.1 .9 1 .8 .9 .9 .9 .9 .9 .9 .8 .9 .7 .9 .7 .9 .6 .9 .5 .9 .5 .9 .3 .9 .3 .9 .3 .8 .1 .9 .1 .9-.1 .9-.1 .9-.2 .9-.3 .9-.3 .9-.5 .9-.5 .9-.6 .9-.7 .9-.7 .8-.8 .9-.9 .9-.9 .9-1 .9-1.1 .9-1 .9-1.1 .9-1.2 .9-1.2 .9-1.1 .9-1.2 .9-1.3 .8-1.2 .9-1.2 .9-1.2 .9-1.2 .9-1.1 .9-1.1 .9-1.1 .9-1.1 .9-1 .9-1 .9-.9 .9-.8 .8-.8 .9-.7 .9-.6 .9-.6 .9-.5 .9-.4 .9-.3 .9-.3 .9-.1 .9-.1 .9 0 .9 .1 .8 .2 .9 .2 .9 .4 .9 .4 .9 .5 .9 .5 .9 .7 .9 .7 .9 .7 .9 .9 .9 .8 .9 1 .8 .9 .9 1 .9 1.1 .9 1 .9 1.1 .9 1.1 .9 1.1 .9 1.1 .9 1.2 .9 1 .9 1.1 .9 1.1 .8 1 .9 1 .9 1 .9 .9 .9 .8 .9 .9 .9 .7 .9 .7 .9 .6 .9 .5 .9 .5 .9 .4 .8 .3 .9 .3 .9 .1 .9 .1 .9 0 .9-.1 .9-.2 .9-.3 .9-.3 .9-.5 .9-.5 .9-.6 .8-.6 .9-.8 .9-.8 .9-.8 .9-1 .9-.9 .9-1 .9-1.1 .9-1.1 .9-1.2 .9-1.1 .9-1.2 .8-1.2 .9-1.2 .9-1.2 .9-1.2 .9-1.2 .9-1.2 .9-1.2 .9-1.1 .9-1.1 .9-1.1 .9-1 .8-1 .9-.9 .9-.8 .9-.8 .9-.8 .9-.6 .9-.6 .9-.5 .9-.4 .9-.4 .9-.2 .9-.2 .8-.1 .9 0 .9 .1 .9 .1 .9 .3 .9 .3 .9 .4 .9 .5 .9 .6 .9 .6 .9 .7 .9 .7 .8 .8 .9 .9 .9 .9 .9 1 .9 1 .9 1 .9 1.1 .9 1.1 .9 1.1 .9 1.1 .9 1.1 .9 1.1 .8 1.1 .9 1.1 .9 1 .9 1.1 .9 1 .9 .9 .9 1 .9 .8 .9 .8 .9 .8 .9 .7 .9 .6 .8 .6 .9 .5 .9 .4 .9 .3 .9 .3 .9 .1 .9 .1 .9 0 .9-.1 .9-.2 .9-.2 .9-.3 .8-.5 .9-.5 .9-.5 .9-.7 .9-.7 .9-.8 .9-.9 .9-.9 .9-.9 .9-1 .9-1.1 .9-1.1 .8-1.1 .9-1.2 .9-1.2 .9-1.2 .9-1.2 .9-1.2 .9-1.2 .9-1.2 .9-1.2 .9-1.2 .9-1.1 .9-1.1 .8-1.1 .9-1 .9-1 .9-.9 .9-.9 .9-.8 .9-.7 .9-.7 .9-.6 .9-.5 .9-.4 .9-.4 .8-.2 .9-.2 .9-.1 .9-.1 .9 .1 .9 .1 .9 .3 .9 .3 .9 .4 .9 .4 .9 .6 .9 .6 .8 .7 .9 .7 .9 .8 .9 .9 .9 .9 .9 .9 .9 1 .9 1.1 .9 1 .9 1.1 .9 1.1 .9 1.1 .8 1.1 .9 1.1 .9 1.1 .9 1.1 .9 1.1 .9 1 .9 1 .9 1 .9 .9 .9 .9 .9 .8 .9 .8 .8 .7 .9 .7 .9 .5 .9 .5 .9 .4 .9 .4 .9 .2 .9 .2 .9 .1 .9 0 .9 0 .9-.2 .8-.2 .9-.4 .9-.4 .9-.4 .9-.6 .9-.6 .9-.8 .9-.7 .9-.9 .9-.9 .9-.9 .9-1 .8-1.1 .9-1.1 .9-1.1 .9-1.2 .9-1.1 .9-1.2 .9-1.2 .9-1.3 .9-1.2 .9-1.2 .9-1.2 .9-1.1 .8-1.2 .9-1.1 .9-1.1 .9-1 .9-1 .9-.9 .9-.9 .9-.8 .9-.8 .9-.6 .9-.6 .9-.6 .8-.4 .9-.4 .9-.3 .9-.2 .9-.1 .9 0 .9 0 .9 .1 .9 .3 .9 .3 .9 .3 .9 .5 .8 .5 .9 .6 .9 .7 .9 .7 .9 .8 .9 .9 .9 .9 .9 .9 .9 1 .9 1 .9 1.1 .9 1 .8 1.1 .9 1.1 .9 1.2 .9 1.1 .9 1.1 .9 1.1 .9 1 .9 1.1 .9 1 .9 1 .9 .9 .9 .9 .8 .8 .9 .8 .9 .7 .9 .7 .9 .6 .9 .5 .9 .4 .9 .4 .9 .2 .9 .2 .9 .1 .9 .1 .8-.1 .9-.1 .9-.3 .9-.3 .9-.4 .9-.4 .9-.6 .9-.6 .9-.7 .9-.8 .9-.8 .9-.9 .8-.9 .9-1 .9-1.1 .9-1.1 .9-1.1 .9-1.1 .9-1.2 .9-1.2 .9-1.2 .9-1.2 .9-1.2 .9-1.2 .8-1.2 .9-1.2 .9-1.2 .9-1.1 .9-1.1 .9-1 .9-1 .9-.9 .9-.9 .9-.8 .9-.8 .9-.7 .8-.6 .9-.6 .9-.4 .9-.4 .9-.3 .9-.2 .9-.2 .9 0 .9 0 .9 .1 .9 .2 .8 .3 .9 .4 .9 .4 .9 .5 .9 .6 .9 .7 .9 .7 .9 .8 .9 .8 .9 .9 .9 1 .9 .9 .8 1.1 .9 1 .9 1.1 .9 1.1 .9 1.1 .9 1.1 .9 1.1 .9 1.1 .9 1.1 .9 1.1 .9 1 .9 1 .8 1 .9 1 .9 .9 .9 .8 .9 .8 .9 .7 .9 .7 .9 .6 .9 .5 .9 .5 .9 .3 .9 .3 .8 .2 .9 .2 .9 0 .9 0 .9-.2 .9-.2 .9-.3 .9-.4 .9-.4 .9-.6 .9-.6 .9-.6 .8-.8 .9-.8 .9-.9 .9-.9 .9-1 .9-1.1 .9-1 .9-1.2 .9-1.1 .9-1.2 .9-1.2 .9-1.2 .8-1.2 .9-1.2 .9-1.2 .9-1.2 .9-1.2 .9-1.1 .9-1.2 .9-1 .9-1.1 .9-1 .9-.9 .9-.9 .8-.9 .9-.7 .9-.8 .9-.6 .9-.5 .9-.5 .9-.4 .9-.3 .9-.3 .9-.1 .9-.1 .9 0 .8 .1 .9 .2 .9 .3 .9 .3 .9 .5 .9 .5 .9 .6 .9 .6 .9 .7 .9 .8 .9 .8 .9 .9 .8 .9 .9 1 .9 1 .9 1.1 .9 1 .9 1.1 .9 1.1 .9 1.1 .9 1.1 .9 1.1 .9 1.1 .9 1.1 .8 1.1 .9 1 .9 1 .9 .9 .9 .9 .9 .9 .9 .8 .9 .7 .9 .7 .9 .6 .9 .6 .9 .4 .8 .4 .9 .3 .9 .2 .9 .2 .9 0 .9 0 .9-.1 .9-.2 .9-.3 .9-.4 .9-.4 .9-.5 .8-.6 .9-.7 .9-.7 .9-.8 .9-.9 .9-.9 .9-1 .9-1.1 .9-1 .9-1.1 .9-1.2 .9-1.1 .8-1.2 .9-1.2 .9-1.2 .9-1.3 .9-1.2 .9-1.2 .9-1.1 .9-1.2 .9-1.1 .9-1.1 .9-1.1 .9-1 .8-1 .9-.9 .9-.8 .9-.8 .9-.7 .9-.7 .9-.5 .9-.5 .9-.4 .9-.4 .9-.2 .9-.2 .8-.1 .9 .1 .9 0 .9 .2 .9 .3 .9 .3 .9 .4 .9 .5 .9 .6 .9 .6 .9 .7 .9 .8 .8 .8 .9 .9 .9 .9 .9 1 .9 1 .9 1 .9 1.1 .9 1.1 .9 1.1 .9 1.1 .9 1.1 .9 1.1 .8 1.1 .9 1.1 .9 1 .9 1 .9 1 .9 1 .9 .9 .9 .9 .9 .8 .9 .7 .9 .7 .9 .6 .8 .6 .9 .5 .9 .4 .9 .3 .9 .2 .9 .2 .9 0 .9 0 .9-.1 .9-.1 .9-.3 .9-.4 .8-.4 .9-.5 .9-.6 .9-.6 .9-.8 .9-.8 .9-.8 .9-1 .9-.9 .9-1 .9-1.1 .9-1.1 .8-1.2 .9-1.1 .9-1.2 .9-1.2 .9-1.2 .9-1.2 .9-1.2 .9-1.2 .9-1.2 .9-1.2 .9-1.1 .9-1.1 .8-1.1 .9-1 .9-1 .9-.9 .9-.8 .9-.8 .9-.8 .9-.6 .9-.6 .9-.5 .9-.4 .9-.4 .8-.2 .9-.2 .9-.1 .9 0 .9 0 .9 .2 .9 .2 .9 .4 .9 .4 .9 .4 .9 .6 .9 .6 .8 .7 .9 .8 .9 .8 .9 .8 .9 1 .9 .9 .9 1 .9 1.1 .9 1 .9 1.1 .9 1.1 .9 1.1 .8 1.1 .9 1.1 .9 1.1 .9 1.1 .9 1.1 .9 1 .9 1 .9 1 .9 .9 .9 .9 .9 .8 .8 .7 .9 .7 .9 .7 .9 .5 .9 .5 .9 .4 .9 .4 .9 .2 .9 .2 .9 .1 .9 0 .9-.1 .8-.2 .9-.2 .9-.4 .9-.4 .9-.5 .9-.6 .9-.6 .9-.7 .9-.8 .9-.9 .9-.9 .9-.9 .8-1 .9-1.1 .9-1.1 .9-1.1 .9-1.2 .9-1.2 .9-1.2 .9-1.2 .9-1.2 .9-1.2 .9-1.2 .9-1.2 .8-1.2 .9-1.1 .9-1.1 .9-1.1 .9-1 .9-1 .9-.9 .9-.9 .9-.8 .9-.7 .9-.7 .9-.6 .8-.5 .9-.4 .9-.4 .9-.3 .9-.2 .9-.1 .9 0 .9 .1 .9 .1 .9 .2 .9 .3 .9 .4 .8 .5 .9 .5 .9 .6 .9 .7 .9 .8 .9 .8 .9 .8 .9 .9 .9 1 .9 1 .9 1 .9 1.1 .8 1 .9 1.1 .9 1.1 .9 1.1 .9 1.2 .9 1.1 .9 1 .9 1.1 .9 1.1 .9 1 .9 .9 .9 1 .8 .8 .9 .9 .9 .7 .9 .8 .9 .6 .9 .6 .9 .5 .9 .4 .9 .3 .9 .3 .9 .2 .9 .1 .8 0 .9-.1 .9-.1 .9-.3 .9-.3 .9-.4 .9-.5 .9-.5 .9-.7 .9-.7 .9-.4 .9-.5 .8-.5 .9-.6 .9-.7 .9-.7 .9-.7 .9-.8 .9-.8 .9-.8 .9-.8 .9-.9 .9-.8 .9-.9 .8-.8 .9-.8 .9-.8 .9-.8 .9-.8 .9-.7 .9-.7 .9-.6 .9-.6 .9-.5 .9-.4 .9-.4 .8-.4 .9-.2 .9-.2 .9-.1 .9 0 .9 .1 .9 .1 .9 .3 .9 .3 .9 .4 .9 .5 .9 .6 .8 .6 .9 .8 .9 .8 .9 .9 .9 .9 .9 1 .9 1.1 .9 1.2 .9 1.2 .9 1.3 .9 1.3 .9 1.3 .8 1.4 .9 1.4 .9 1.4 .9 1.5 .9 1.5 .9 1.4 .9 1.5 .9 1.5 .9 1.4 .9 1.4 .9 1.4 .9 1.4 .8 1.4 .9 1.3 .9 1.2 .9 1.2 .9 1.1 .9 1.1 .9 1 .9 1 .9 .9 .9 .8 .9 .7 .9 .6 .8 .6 .9 .5 .9 .3 .9 .3 .9 .3 .9 .1 .9 .1 .9-.1 .9-.1 .9-.2 .9-.2 .9-.4 .8-.4 .9-.4 .9-.6 .9-.5 .9-.7 .9-.7 .9-.7 .9-.7 .9-.8 .9-.8 .9-.9 .9-.8 .8-.9 .9-.8 .9-.9 .9-.8 .9-.8 .9-.8 .9-.8 .9-.7 .9-.7 .9-.6 .9-.6 .9-.5 .8-.5 .9-.4 .9-.3 .9-.3 .9-.2 .9-.1 .9 0 .9 .1 .9 .1 .9 .2 .9 .3 .9 .4 .8 .5 .9 .5 .9 .7 .9 .7 .9 .8 .9 .9 .9 .9 .9 1 .9 1.1 .9 1.2 .9 1.2 .9 1.2 .8 1.3 .9 1.3 .9 1.4 .9 1.4 .9 1.5 .9 1.4 .9 1.5 .9 1.4 .9 1.5 .9 1.5 .9 1.4 .9 1.5 .8 1.4 .9 1.4 .9 1.3 .9 1.3 .9 1.3 .9 1.2 .9 1.1 .9 1.1 .9 1.1 .9 .9 .9 .9 .9 .8 .8 .7 .9 .7 .9 .6 .9 .5 .9 .4 .9 .3 .9 .2 .9 .2 .9 0 .9 0 .9-.1 .8-.1 .9-.3 .9-.3 .9-.4 .9-.5 .9-.5 .9-.6 .9-.6 .9-.7 .9-.7 .9-.7 .9-.8 .8-.8 .9-.9 .9-.8 .9-.8 .9-.9 .9-.8 .9-.9 .9-.8 .9-.8 .9-.8 .9-.7 .9-.7 .8-.6 .9-.6 .9-.6 .9-.4 .9-.4 .9-.4 .9-.3 .9-.2 .9-.1 .9 0 .9 0 .9 .1 .8 .2 .9 .3 .9 .4 .9 .5 .9 .5 .9 .6 .9 .8 .9 2.4 .9 .9 .9 .9 .9 1.1 .9 1.1 .8 1.2 .9 1.3 .9 1.4 .9 1.4 .9 1.5 .9 1.5 .9 1.6 .9 1.6 .9 1.6 .9 1.7 .9 1.6 .9 1.7 .8 1.6 .9 1.7 .9 1.6 .9 1.6 .9 1.5 .9 1.6 .9 1.4 .9 1.4 .9 1.3 .9 1.3 .9 1.2 .9 1.1 .8 1 .9 .9 .9 .8 .9 .7 .9 .6 .9 .5 .9 .3 .9 .3 .9 .2 .9 0 .9-.1 .9-.1 .8-.3 .9-.4 .9-.5 .9-.6 .9-.7 .9-.8 .9-.9 .9-.9 .9-1.1 .9-1.1 .9-1.1 .9-1.3 .8-1.2 .9-1.4 .9-1.3 .9-1.4 .9-1.4 .9-1.4 .9-1.4 .9-1.4 .9-1.4 .9-1.4 .9-1.3 .9-1.4 .8-1.2 .9-1.2 .9-1.2 .9-1.1 .9-1 .9-.9 .9-.9 .9-.7 .9-.7 .9-.5 .9-.5 .9-.4 .8-.2 .9-.2 .9 0 .9 .1 .9 .2 .9 .3 .9 .4 .9 .5 .9 .7 .9 .7 .9 .8 .9 1 .8 1 .9 1.1 .9 1.2 .9 1.3 .9 1.4 .9 1.4 .9 1.4 .9 1.6 .9 1.5 .9 1.6 .9 1.7 .9 1.6 .8 1.7 .9 1.6 .9 1.7 .9 1.6 .9 1.7 .9 1.6 .9 1.5 .9 1.5 .9 1.5 .9 1.4 .9 1.4 .9 1.2 .8 1.2 .9 1.1 .9 1 .9 1 .9 .8 .9 .7 .9 .6 .9 .5 .9 .4 .9 .3 .9 .2 .9 .1 .8-.1 .9-.1 .9-.3 .9-.4 .9-.5 .9-.5 .9-.7 .9-.8 .9-.9 .9-.9 .9-1 .9-1.1 .8-1.2 .9-1.2 .9-1.3 .9-1.3 .9-1.3 .9-1.4 .9-1.4 .9-1.4 .9-1.4 .9-1.4 .9-1.4 .9-1.4 .8-1.4 .9-1.3 .9-1.3 .9-1.2 .9-1.1 .9-1.1 .9-1.1 .9-.9 .9-.9 .9-.7 .9-.7 .9-.6 .8-.5 .9-.4 .9-.2 .9-.2 .9 0 .9 0 .9 .2 .9 .3 .9 .4 .9 .5 .9 .6 .9 .7 .8 .8 .9 1 .9 1 .9 1.1 .9 1.2 .9 1.2 .9 1.4 .9 1.4 .9 1.4 .9 1.5 .9 1.6 .9 1.6 .8 1.6 .9 1.7 .9 1.6 .9 1.7 .9 1.7 .9 1.6 .9 1.6 .9 1.6 .9 1.6 .9 1.5 .9 1.5 .9 1.4 .8 1.4 .9 1.3 .9 1.2 .9 1.1 .9 1 .9 .9 .9 .9 .9 .7 .9 .7 .9 .5 .9 .4 .9 .3 .8 .2 .9 .1 .9 0 .9-.2 .9-.2 .9-.4 .9-.4 .9-.6 .9-.7 .9-.7 .9-.9 .9-.9 .8-1 .9-1.1 .9-1.1 .9-1.2 .9-1.3 .9-1.3 .9-1.4 .9-1.3 .9-1.4 .9-1.4 .9-1.4 .8-1.5 .9-1.4 .9-1.3 .9-1.4 .9-1.3 .9-1.3 .9-1.2 .9-1.2 .9-1.1 .9-1 .9-1 .9-.9 .8-.8 .9-.7 .9-.6 .9-.5 .9-.4 .9-.3 .9-.1 .9-.1 .9 0 .9 .2 .9 .3 .9 .3 .8 .5 .9 .6 .9 .7 .9 .8 .9 .9 .9 1 .9 1.1 .9 1.2 .9 1.3 .9 1.3 .9 1.4 .9 1.4 .8 1.5 .9 1.6 .9 1.6 .9 1.6 .9 1.6 .9 1.7 .9 1.7 .9 1.6 .9 1.7 .9 1.6 .9 1.6 .9 1.6 .8 1.5 .9 1.5 .9 1.4 .9 1.4 .9 1.3 .9 1.2 .9 1.1 .9 1.1 .9 .9 .9 .9 .9 .8 .9 .6 .8 .6 .9 .4 .9 .3 .9 .2 .9 .1 .9 0 .9-.1 .9-.2 .9-.4 .9-.4 .9-.5 .9-.7 .8-2 .9-.9 .9-1 .9-1.1 .9-1.2 .9-1.2 .9-1.3 .9-1.4 .9-1.4 .9-1.4 .9-1.5 .9-1.5 .8-1.5 .9-1.5 .9-1.5 .9-1.5 .9-1.5 .9-1.4 .9-1.4 .9-1.4 .9-1.4 .9-1.2 .9-1.3 .9-1.1 .8-1.1 .9-1 .9-.9 .9-.8 .9-.7 .9-.6 .9-.5 .9-.4 .9-.3 .9-.2 .9-.1 .9 .1 .8 .1 .9 .3 .9 .4 .9 .4 .9 .6 .9 .7 .9 .8 .9 .9 .9 1 .9 1 .9 1.2 .9 1.2 .8 1.3 .9 1.3 .9 1.4 .9 1.5 .9 1.5 .9 1.5 .9 1.5 .9 1.6 .9 1.5 .9 1.6 .9 1.6 .9 1.5 .8 1.5 .9 1.5 .9 1.5 .9 1.3 .9 1.4 .9 1.3 .9 1.2 .9 1.1 .9 1.1 .9 .9 .9 .9 .9 .8 .8 .7 .9 .5 .9 .5 .9 .4 .9 .2 .9 .2 .9 0 .9-.1 .9-.2 .9-.3 .9-.4 .9-.6 .8-.6 .9-.7 .9-.8 .9-.9 .9-1 .9-1.1 .9-1.2 .9-1.2 .9-1.3 .9-1.3 .9-1.4 .9-1.4 .8-1.5 .9-1.5 .9-1.5 .9-1.5 .9-1.5 .9-1.5 .9-1.5 .9-1.5 .9-1.4 .9-1.4 .9-1.3 .9-1.3 .8-1.2 .9-1.2 .9-1.1 .9-1 .9-.9 .9-.8 .9-.8 .9-.6 .9-.5 .9-.4 .9-.4 .9-.2 .8-.1 .9 .1 .9 .1 .9 .2 .9 .4 .9 .5 .9 .5 .9 .7 .9 .8 .9 .8 .9 1 .9 1 .8 1.2 .9 1.2 .9 1.3 .9 1.3 .9 1.4 .9 1.4 .9 1.5 .9 1.5 .9 1.6 .9 1.5 .9 1.6 .9 1.5 .8 1.6 .9 1.6 .9 1.5 .9 1.5 .9 1.4 .9 1.4 .9 1.4 .9 1.3 .9 1.2 .9 1.1 .9 1.1 .9 1 .8 .9 .9 .8 .9 .7 .9 .5 .9 .5 .9 .4 .9 .3 .9 .1 .9 .1 .9-.1 .9-.2 .9-.2 .8-.4 .9-.5 .9-.7 .9-.7 .9-.8 .9-.9 .9-1 .9-1 .9-1.2 .9-1.2 .9-1.2 .9-1.4 .8-1.4 .9-1.4 .9-1.4 .9-1.5 .9-1.5 .9-1.5 .9-1.5 .9-1.5 .9-1.5 .9-1.5 .9-1.4 .9-1.4 .8-1.4 .9-1.3 .9-1.2 .9-1.2 .9-1.1 .9-1 .9-.9 .9-.9 .9-.7 .9-.7 .9-.5 .8-.5 .9-.3 .9-.2 .9-.1 .9 0 .9 .1 .9 .2 .9 .3 .9 .5 .9 .5 .9 .7 .9 .7 .8 .9 .9 .9 .9 1.1 .9 1.1 .9 1.2 .9 1.2 .9 1.4 .9 1.3 .9 1.5 .9 1.5 .9 1.5 .9 1.5 .8 1.6 .9 1.5 .9 1.6 .9 1.5 .9 1.6 .9 1.5 .9 1.5 .9 1.5 .9 1.4 .9 1.3 .9 1.3 .9 1.3 .8 1.1 .9 1.1 .9 1 .9 .9 .9 .8 .9 .8 .9 .6 .9 .5 .9 .4 .9 .3 .9 .1 .9 .1 .8 0 .9-.2 .9-.3 .9-.4 .9-.4 .9-.6 .9-.7 .9-.8 .9-.9 .9-1 .9-1 .9-1.1 .8-1.2 .9-1.3 .9-1.3 .9-1.4 .9-1.4 .9-1.5 .9-1.5 .9-1.5 .9-1.5 .9-1.5 .9-1.5 .9-1.5 .8-1.4 .9-1.5 .9-1.4 .9-1.4 .9-1.3 .9-1.2 .9-1.2 .9-1.1 .9-1 .9-1 .9 2.9 .9-.6 .8-.5 .9-.5 .9-.3 .9-.3 .9-.2 .9-.1 .9 0 .9 .1 .9 .2 .9 .2 .9 .4 .9 .4 .8 .5 .9 .6 .9 .6 .9 .8 .9 .8 .9 .9 .9 .9 .9 1 .9 1 .9 1.1 .9 1.2 .9 1.1 .8 1.2 .9 1.2 .9 1.3 .9 1.2 .9 1.3 .9 1.2 .9 1.2 .9 1.2 .9 1.2 .9 1.2 .9 1.1 .9 1.1 .8 1 .9 1 .9 1 .9 .8 .9 .8 .9 .8 .9 .6 .9 .6 .9 .5 .9 .4 .9 .4 .9 .2 .8 .2 .9 .1 .9-.1 .9-.1 .9-.2 .9-.2 .9-.4 .9-.4 .9-.6 .9-.6 .9-.7 .9-.7 .8-.8 .9-.9 .9-.9 .9-1 .9-1 .9-1.1 .9-1.1 .9-1.2 .9-1.1 .9-1.2 .9-1.2 .9-1.2 .8-1.1 .9-1.2 .9-1.2 .9-1.1 .9-1.1 .9-1.1 .9-1 .9-1 .9-1 .9-.8 .9-.9 .9-.7 .8-.7 .9-.6 .9-.5 .9-.5 .9-.4 .9-.3 .9-.2 .9-.1 .9 0 .9 .1 .9 .1 .9 .3 .8 .3 .9 .4 .9 .5 .9 .6 .9 .6 .9 .8 .9 .8 .9 .8 .9 .9 .9 1 .9 1.1 .9 1 .8 1.2 .9 1.1 .9 1.2 .9 1.2 .9 1.3 .9 1.2 .9 1.2 .9 1.3 .9 1.2 .9 1.2 .9 1.2 .9 1.2 .8 1.1 .9 1.1 .9 1.1 .9 1 .9 .9 .9 .9 .9 .8 .9 .8 .9 .6 .9 .6 .9 .5 .9 .5 .8 .3 .9 .3 .9 .2 .9 .1 .9 0 .9-.1 .9-.2 .9-.3 .9-.3 .9-.5 .9-.5 .9-.6 .8-.6 .9-.8 .9-.8 .9-.8 .9-1 .9-.9 .9-1 .9-1.1 .9-1.1 .9-1.1 .9-1.2 .9-1.2 .8-1.2 .9-1.1 .9-1.2 .9-1.2 .9-1.2 .9-1.1 .9-1.1 .9-1.1 .9-1 .9-1 .9-1 .9-.9 .8-.8 .9-.8 .9-.7 .9-.6 .9-.5 .9-.5 .9-.4 .9-.3 .9-.2 .9-.1 .9-.1 .9 .1 .8 .1 .9 .2 .9 .3 .9 .4 .9 .5 .9 .6 .9 .6 .9 .7 .9 .8 .9 .9 .9 .9 .9 1 .8 1 .9 1.1 .9 1.1 .9 1.1 .9 1.2 .9 1.2 .9 1.3 .9 1.2 .9 1.2 .9 1.3 .9 1.2 .8 1.2 .9 1.2 .9 1.2 .9 1.1 .9 1.1 .9 1.1 .9 1 .9 1 .9 .9 .9 .8 .9 .7 .9 .7 .8 .6 .9 .6 .9 .4 .9 .4 .9 .3 .9 .2 .9 .1 .9 0 .9-.1 .9-.2 .9-.2 .9-.3 .8-.5 .9-.5 .9-.5 .9-.7 .9-.7 .9-.8 .9-.9 .9-.9 .9-.9 .9-1.1 .9-1 .9-1.1 .8-1.1 .9-1.2 .9-1.2 .9-1.1 .9-1.2 .9-1.2 .9-1.2 .9-1.2 .9-1.1 .9-1.1 .9-1.1 .9-1.1 .8-1 .9-.9 .9-.9 .9-.9 .9-.7 .9-.8 .9-.6 .9-.5 .9-.5 .9-.4 .9-.3 .9-.3 .8-.1 .9-.1 .9 .1 .9 .1 .9 .2 .9 .3 .9 .4 .9 .4 .9 .6 .9 .6 .9 .7 .9 .8 .8 .8 .9 .9 .9 1 .9 1 .9 1.1 .9 1.1 .9 1.1 .9 1.2 .9 1.2 .9 1.3 .9 1.2 .9 1.2 .8 1.3 .9 1.2 .9 1.2 .9 1.2 .9 1.2 .9 1.2 .9 1.1 .9 1 .9 1.1 .9 .9 .9 .9 .9 .9 .8 .7 .9 .7 .9 .7 .9 .5 .9 .5 .9 .3 .9 .3 .9 .2 .9 .2 .9 0 .9-.1 .9-.1 .8-.3 .9-.3 .9-.4 .9-.5 .9-.5 .9-.7 .9-.7 .9-.8 .9-.8 .9-.9 .9-1 .9-1 .8-1 .9-1.1 .9-1.1 .9-1.2 .9-1.1 .9-1.2 .9-1.2 .9-1.2 .9-1.2 .9-1.2 .9-1.1 .9-1.1 .8-1.1 .9-1.1 .9-1 .9-1 .9-.9 .9-.8 .9-.8 .9-.7 .9-.7 .9-.5 .9-.5 .9-.5 .8-.3 .9-.2 .9-.2 .9-.1 .9 .1 .9 .1 .9 .2 .9 .2 .9 .4 .9 .5 .9 .5 .9 .6 .8 .7 .9 .8 .9 .8 .9 .9 .9 .9 .9 1.1 .9 1 .9 1.1 .9 1.2 .9 1.1 .9 1.2 .9 1.3 .8 1.2 .9 1.2 .9 1.3 .9 1.2 .9 1.2 .9 1.2 .9 1.2 .9 1.2 .9 1.1 .9 1.1 .9 1 .9 1 .8 .9 .9 .8 .9 .8 .9 .7 .9 .7 .9 .5 .9 .5 .9 .4 .9 .3 .9 .2 .9 .2 .9 0 .8 0 .9-.2 .9-.2 .9-.3 .9-.4 .9-.5 .9-.5 .9-.6 .9-.7 .9-.8 .9-.8 .9-.9 .8-1 .9-1 .9-1 .9-1.1 .9-1.1 .9-1.2 .9-1.1 .9-1.2 .9-1.2 .9-1.2 .9-1.2 .9-1.1 .8-1.2 .9-1.1 .9-1.1 .9-1.1 .9-1 .9-1 .9-.9 .9-.9 .9-.8 .9-.7 .9-.7 .9-.5 .8-.6 .9-.4 .9-.3 .9-.3 .9-.2 .9 0 .9 0 .9 0 .9 .2 .9 .3 .9 .3 .9 .5 .8 .5 .9 .6 .9 .7 .9 .7 .9 .9 .9 .8 .9 1 .9 1 .9 1 .9 1.1 .9 1.2 .9 1.1 .8 1.2 .9 1.2 .9 1.3 .9 1.2 .9 1.3 .9 1.2 .9 1.2 .9 1.2 .9 1.2 .9 1.2 .9 1.1 .9 1.1 .8 1 .9 1 .9 .9 .9 .9 .9 .8 .9 .7 .9 .7 .9 .5 .9 .5 .9 .4 .9 .4 .8 .2 .9 .1 .9 .1 .9 0 .9-.1 .9-.2 .9-.3 .9-.4 .9-.5 .9-.5 .9-.6 .9-.7 .8-.8 .9-.8 .9-.9 .9-.9 .9-1 .9-1 .9-1.1 .9-1.1 .9-1.2 .9-1.1 .9-1.2 .9-1.2 .8-1.2 .9-1.2 .9-1.1 .9-1.2 .9-1.1 .9-1.1 .9-1.1 .9-1 .9-1 .9-.9 .9-.9 .9-.8 .8-.8 .9-.6 .9-.6 .9-.6 .9-.4 .9-.4 .9-.2 .9-.2 .9-.1 .9 0 .9 0 .9 .2 .8 .2 .9 .4 .9 .4 .9 .5 .9 .6 .9 .7 .9 .7 .9 .8 .9 .9 .9 .9 .9 1 .9 1.1 .8 1 .9 1.2 .9 1.1 .9 1.2 .9 1.2 .9 1.3 .9 1.2 .9 1.3 .9 1.2 .9 1.2 .9 1.2 .9 1.2 .8 1.2 .9 1.1 .9 1.1 .9 1.1 .9 1 .9 .9 .9 .9 .9 .8 .9 .7 .9 .7 .9 .5 .9 .6 .8 .4 .9 .3 .9 .3 .9 .1 .9 .1 .9 0 .9-.1 .9-.2 .9-.3 .9-.3 .9-.5 .9-.5 .8-.6 .9-.7 .9-.7 .9-.8 .9-.9 .9-.9 .9-1 .9-1.1 .9-1 .9-1.1 .9-1.2 .9-1.1 .8-1.2 .9-1.2 .9-1.2 .9-1.1 .9-1.2 .9-1.2 .9-1.1 .9-1.1 .9-1.1 .9-1 .9-1 .9-1 .8-.9 .9-.8 .9-.7 .9-.7 .9-.6 .9-.6 .9-.4 .9-.4 .9-.3 .9-.2 .9-.1 .9 0 .8 0 .9 .2 .9 .2 .9 .3 .9 .4 .9 .5 .9 .6 .9 .7 .9 .7 .9 .8 .9 .8 .9 1 .8 .9 .9 1.1 .9 1.1 .9 1.1 .9 1.1 .9 1.2 .9 1.2 .9 1.3 .9 1.2 .9 1.3 .9 1.2 .9 1.2 .8 1.2 .9 1.2 .9 1.2 .9 1.1 .9 1.1 .9 1.1 .9 1 .9 .9 .9 .9 .9 .8 .9 .8 .9 .7 .8 .6 .9 .5 .9 .4 .9 .4 .9 .2 .9 .2 .9 .1 .9 0 .9-.1 .9-.1 .9-.3 .9-.4 .8-.4 .9-.5 .9-.6 .9-.6 .9-.8 .9-.8 .9-.8 .9-1 .9-.9 .9-1.1 .9-1 .9-1.1 .8-1.2 .9-1.1 .9-1.2 .9-1.2 .9-1.1 .9-1.2 .9-1.2 .9-1.2 .9-1.1 .9-1.1 .9-1.1 .9-1.1 .8-1 .9-.9 .9-.9 .9-.8 .9-.8 .9-.7 .9-.6 .9-.6 .9-.4 .9-.4 .9-.3 .9-.3 .8-.1 .9 0 .9 0 .9 .1 .9 .3 .9 .3 .9 .4 .9 .5 .9 .5 .9 .6 .9 .8 .9 .7 .8 .9 .9 .9 .9 1 .9 1 .9 1.1 .9 1.1 .9 1.2 .9 1.1 .9 1.2 .9 1.3 .9 1.2 .9 1.2 .8 1.3 .9 1.2 .9 1.2 .9 1.2 .9 1.2 .9 1.2 .9 1.1 .9 1 .9 1 .9 1 .9 .9 .9 .8 .8 .8 .9 .7 .9 .6 .9 .5 .9 .5 .9 .3 .9 .3 .9 .2 .9 .1 .9 0 .9 0 .9-.2 .8-.3 .9-.3 .9-.4 .9-.5 .9-.6 .9-.6" stroke="#0a6e25" stroke-width="3" fill="none"/>
<path d="M1245.0 1944.4V2685.5" stroke="#9fbfa6" stroke-width="7"/><path d="M1245.0 1944.4V2685.5" stroke="#245c33" stroke-width="4"/>
<path d="M2220.0 1944.4V2685.5" stroke="#9fbfa6" stroke-width="7"/><path d="M2220.0 1944.4V2685.5" stroke="#245c33" stroke-width="4"/>
</g>
<rect x="577.0" y="2197.5" width="19" height="23" fill="#a9a9a9"/><path d="M579.0 2201.5v15M594.0 2201.5v15" stroke="#585858" stroke-width="4"/><rect x="581.0" y="2205.0" width="11" height="8" fill="#f29a9a"/><rect x="584.0" y="2205.0" width="5" height="8" fill="#ff0d0d"/>
<rect x="592.4" y="2301.2" width="19" height="23" fill="#a9a9a9"/><path d="M594.4 2305.2v15M609.4 2305.2v15" stroke="#585858" stroke-width="4"/><rect x="596.4" y="2308.7" width="11" height="8" fill="#f29a9a"/><rect x="599.4" y="2308.7" width="5" height="8" fill="#ff0d0d"/>
<rect x="603.1" y="2290.1" width="19" height="23" fill="#a9a9a9"/><path d="M605.1 2294.1v15M620.1 2294.1v15" stroke="#585858" stroke-width="4"/><rect x="607.1" y="2297.6" width="11" height="8" fill="#f29a9a"/><rect x="610.1" y="2297.6" width="5" height="8" fill="#ff0d0d"/>
<rect x="640.8" y="2295.7" width="19" height="23" fill="#a9a9a9"/><path d="M642.8 2299.7v15M657.8 2299.7v15" stroke="#585858" stroke-width="4"/><rect x="644.8" y="2303.2" width="11" height="8" fill="#f29a9a"/><rect x="647.8" y="2303.2" width="5" height="8" fill="#ff0d0d"/>
<rect x="690.7" y="2181.5" width="19" height="23" fill="#a9a9a9"/><path d="M692.7 2185.5v15M707.7 2185.5v15" stroke="#585858" stroke-width="4"/><rect x="694.7" y="2189.0" width="11" height="8" fill="#f29a9a"/><rect x="697.7" y="2189.0" width="5" height="8" fill="#ff0d0d"/>
<rect x="686.1" y="2280.8" width="19" height="23" fill="#a9a9a9"/><path d="M688.1 2284.8v15M703.1 2284.8v15" stroke="#585858" stroke-width="4"/><rect x="690.1" y="2288.3" width="11" height="8" fill="#f29a9a"/><rect x="693.1" y="2288.3" width="5" height="8" fill="#ff0d0d"/>
<rect x="869.0" y="2302.3" width="19" height="23" fill="#a9a9a9"/><path d="M871.0 2306.3v15M886.0 2306.3v15" stroke="#585858" stroke-width="4"/><rect x="873.0" y="2309.8" width="11" height="8" fill="#f29a9a"/><rect x="876.0" y="2309.8" width="5" height="8" fill="#ff0d0d"/>
<rect x="987.3" y="2157.1" width="19" height="23" fill="#a9a9a9"/><path d="M989.3 2161.1v15M1004.3 2161.1v15" stroke="#585858" stroke-width="4"/><rect x="991.3" y="2164.6" width="11" height="8" fill="#f29a9a"/><rect x="994.3" y="2164.6" width="5" height="8" fill="#ff0d0d"/>
<rect x="1059.5" y="2157.1" width="19" height="23" fill="#a9a9a9"/><path d="M1061.5 2161.1v15M1076.5 2161.1v15" stroke="#585858" stroke-width="4"/><rect x="1063.5" y="2164.6" width="11" height="8" fill="#f29a9a"/><rect x="1066.5" y="2164.6" width="5" height="8" fill="#ff0d0d"/>
<rect x="1112.5" y="2426.1" width="19" height="23" fill="#a9a9a9"/><path d="M1114.5 2430.1v15M1129.5 2430.1v15" stroke="#585858" stroke-width="4"/><rect x="1116.5" y="2433.6" width="11" height="8" fill="#f29a9a"/><rect x="1119.5" y="2433.6" width="5" height="8" fill="#ff0d0d"/>
<rect x="1112.5" y="2494.7" width="19" height="23" fill="#a9a9a9"/><path d="M1114.5 2498.7v15M1129.5 2498.7v15" stroke="#585858" stroke-width="4"/><rect x="1116.5" y="2502.2" width="11" height="8" fill="#f29a9a"/><rect x="1119.5" y="2502.2" width="5" height="8" fill="#ff0d0d"/>
<rect x="1363.8" y="2259.4" width="19" height="23" fill="#a9a9a9"/><path d="M1365.8 2263.4v15M1380.8 2263.4v15" stroke="#585858" stroke-width="4"/><rect x="1367.8" y="2266.9" width="11" height="8" fill="#f29a9a"/><rect x="1370.8" y="2266.9" width="5" height="8" fill="#ff0d0d"/>
<rect x="1363.8" y="2270.1" width="19" height="23" fill="#a9a9a9"/><path d="M1365.8 2274.1v15M1380.8 2274.1v15" stroke="#585858" stroke-width="4"/><rect x="1367.8" y="2277.6" width="11" height="8" fill="#f29a9a"/><rect x="1370.8" y="2277.6" width="5" height="8" fill="#ff0d0d"/>
<rect x="1437.5" y="2275.3" width="19" height="23" fill="#a9a9a9"/><path d="M1439.5 2279.3v15M1454.5 2279.3v15" stroke="#585858" stroke-width="4"/><rect x="1441.5" y="2282.8" width="11" height="8" fill="#f29a9a"/><rect x="1444.5" y="2282.8" width="5" height="8" fill="#ff0d0d"/>
<rect x="1569.7" y="2410.5" width="19" height="23" fill="#a9a9a9"/><path d="M1571.7 2414.5v15M1586.7 2414.5v15" stroke="#585858" stroke-width="4"/><rect x="1573.7" y="2418.0" width="11" height="8" fill="#f29a9a"/><rect x="1576.7" y="2418.0" width="5" height="8" fill="#ff0d0d"/>
<rect x="1601.2" y="2379.0" width="19" height="23" fill="#a9a9a9"/><path d="M1603.2 2383.0v15M1618.2 2383.0v15" stroke="#585858" stroke-width="4"/><rect x="1605.2" y="2386.5" width="11" height="8" fill="#f29a9a"/><rect x="1608.2" y="2386.5" width="5" height="8" fill="#ff0d0d"/>
<rect x="1608.1" y="2372.0" width="19" height="23" fill="#a9a9a9"/><path d="M1610.1 2376.0v15M1625.1 2376.0v15" stroke="#585858" stroke-width="4"/><rect x="1612.1" y="2379.5" width="11" height="8" fill="#f29a9a"/><rect x="1615.1" y="2379.5" width="5" height="8" fill="#ff0d0d"/>
<rect x="1811.0" y="2433.1" width="19" height="23" fill="#a9a9a9"/><path d="M1813.0 2437.1v15M1828.0 2437.1v15" stroke="#585858" stroke-width="4"/><rect x="1815.0" y="2440.6" width="11" height="8" fill="#f29a9a"/><rect x="1818.0" y="2440.6" width="5" height="8" fill="#ff0d0d"/>
<rect x="1811.0" y="2412.4" width="19" height="23" fill="#a9a9a9"/><path d="M1813.0 2416.4v15M1828.0 2416.4v15" stroke="#585858" stroke-width="4"/><rect x="1815.0" y="2419.9" width="11" height="8" fill="#f29a9a"/><rect x="1818.0" y="2419.9" width="5" height="8" fill="#ff0d0d"/>
<rect x="1811.0" y="2396.1" width="19" height="23" fill="#a9a9a9"/><path d="M1813.0 2400.1v15M1828.0 2400.1v15" stroke="#585858" stroke-width="4"/><rect x="1815.0" y="2403.6" width="11" height="8" fill="#f29a9a"/><rect x="1818.0" y="2403.6" width="5" height="8" fill="#ff0d0d"/>
<rect x="1824.0" y="2391.6" width="19" height="23" fill="#a9a9a9"/><path d="M1826.0 2395.6v15M1841.0 2395.6v15" stroke="#585858" stroke-width="4"/><rect x="1828.0" y="2399.1" width="11" height="8" fill="#f29a9a"/><rect x="1831.0" y="2399.1" width="5" height="8" fill="#ff0d0d"/>
<rect x="1887.0" y="2303.8" width="19" height="23" fill="#a9a9a9"/><path d="M1889.0 2307.8v15M1904.0 2307.8v15" stroke="#585858" stroke-width="4"/><rect x="1891.0" y="2311.3" width="11" height="8" fill="#f29a9a"/><rect x="1894.0" y="2311.3" width="5" height="8" fill="#ff0d0d"/>
<rect x="1965.4" y="2404.2" width="19" height="23" fill="#a9a9a9"/><path d="M1967.4 2408.2v15M1982.4 2408.2v15" stroke="#585858" stroke-width="4"/><rect x="1969.4" y="2411.7" width="11" height="8" fill="#f29a9a"/><rect x="1972.4" y="2411.7" width="5" height="8" fill="#ff0d0d"/>
<rect x="1967.7" y="2417.2" width="19" height="23" fill="#a9a9a9"/><path d="M1969.7 2421.2v15M1984.7 2421.2v15" stroke="#585858" stroke-width="4"/><rect x="1971.7" y="2424.7" width="11" height="8" fill="#f29a9a"/><rect x="1974.7" y="2424.7" width="5" height="8" fill="#ff0d0d"/>
<rect x="1993.8" y="2288.6" width="19" height="23" fill="#a9a9a9"/><path d="M1995.8 2292.6v15M2010.8 2292.6v15" stroke="#585858" stroke-width="4"/><rect x="1997.8" y="2296.1" width="11" height="8" fill="#f29a9a"/><rect x="2000.8" y="2296.1" width="5" height="8" fill="#ff0d0d"/>
<rect x="2199.7" y="2263.8" width="19" height="23" fill="#a9a9a9"/><path d="M2201.7 2267.8v15M2216.7 2267.8v15" stroke="#585858" stroke-width="4"/><rect x="2203.7" y="2271.3" width="11" height="8" fill="#f29a9a"/><rect x="2206.7" y="2271.3" width="5" height="8" fill="#ff0d0d"/>
<rect x="210.0" y="1944.4" width="2228.2" height="741.1" stroke="#606060" stroke-width="3.2" fill="none"/>
<text x="1362.5" y="2023.5" class="tt" text-anchor="middle" style="font-size:66px">KUAL (27.1 yr)</text>
<rect x="274.7" y="2470.1" width="814.0" height="195.9" fill="#fff" stroke="#777" stroke-width="3"/>
<path d="M293.1 2501H373" stroke="#3a3a3a" stroke-width="3"/><rect x="330.1" y="2498.0" width="6" height="6" fill="#000"/>
<text x="388.9" y="2514.5" class="lg" style="font-size:36.2px">VLM estimates from GNSS data</text>
<path d="M293.1 2545.3H373" stroke="#a86464" stroke-width="7"/>
<text x="388.9" y="2558.8" class="lg" style="font-size:36.2px">VLM trend &lt;2005: +1.18 ± 0.32 mm/yr</text>
<path d="M293.1 2590H373" stroke="#2020ff" stroke-width="5"/>
<text x="388.9" y="2603.5" class="lg" style="font-size:36.2px">VLM trend &gt;2011: –0.50 ± 0.12 mm/yr</text>
<path d="M293.1 2635.4H373" stroke="#0a6e25" stroke-width="4.5"/>
<text x="388.9" y="2648.9" class="lg" style="font-size:36.2px">trend &amp; seasonal 0.4/0.0cm/–154/ 19 days</text>
</svg></body></html>
